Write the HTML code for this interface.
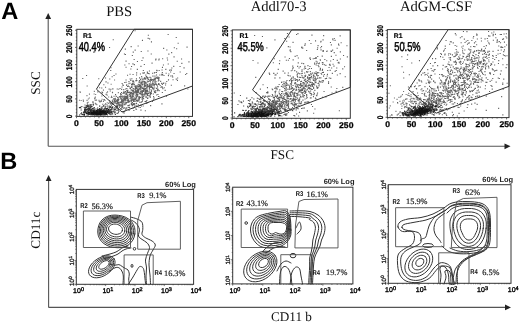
<!DOCTYPE html>
<html><head><meta charset="utf-8"><style>
html,body{margin:0;padding:0;background:#fff;width:520px;height:322px;overflow:hidden}
svg{display:block;will-change:transform} text{text-rendering:geometricPrecision}
</style></head><body>
<svg width="520" height="322" viewBox="0 0 520 322">
<line x1="48.20" y1="18.00" x2="48.20" y2="146.30" stroke="#555" stroke-width="1.1"/>
<path d="M45.30,19.00 L48.20,13.00 L51.10,19.00 Z" fill="#222"/>
<line x1="48.20" y1="146.30" x2="505.50" y2="146.30" stroke="#555" stroke-width="1.1"/>
<path d="M504.50,143.40 L510.50,146.30 L504.50,149.20 Z" fill="#222"/>
<line x1="48.60" y1="180.00" x2="48.60" y2="307.40" stroke="#555" stroke-width="1.1"/>
<path d="M45.70,181.00 L48.60,175.00 L51.50,181.00 Z" fill="#222"/>
<line x1="48.60" y1="307.40" x2="506.00" y2="307.40" stroke="#555" stroke-width="1.1"/>
<path d="M505.00,304.50 L511.00,307.40 L505.00,310.30 Z" fill="#222"/>
<text transform="translate(1.20,19.30)" font-family="Liberation Sans" font-size="23.6" font-weight="bold" text-anchor="start" fill="#000" >A</text>
<text transform="translate(0.20,168.90)" font-family="Liberation Sans" font-size="23.6" font-weight="bold" text-anchor="start" fill="#000" >B</text>
<text transform="translate(119.20,15.70)" font-family="Liberation Serif" font-size="14.6" font-weight="normal" text-anchor="middle" fill="#111" >PBS</text>
<text transform="translate(278.60,11.10)" font-family="Liberation Serif" font-size="14.6" font-weight="normal" text-anchor="middle" fill="#111" >Addl70-3</text>
<text transform="translate(436.00,11.10)" font-family="Liberation Serif" font-size="14.6" font-weight="normal" text-anchor="middle" fill="#111" >AdGM-CSF</text>
<text transform="translate(39.80,83.00) rotate(-90)" font-family="Liberation Serif" font-size="13.2" font-weight="normal" text-anchor="middle" fill="#111" >SSC</text>
<text transform="translate(282.20,159.40)" font-family="Liberation Serif" font-size="13.2" font-weight="normal" text-anchor="middle" fill="#111" >FSC</text>
<text transform="translate(39.80,230.20) rotate(-90)" font-family="Liberation Serif" font-size="13.2" font-weight="normal" text-anchor="middle" fill="#111" >CD11c</text>
<text transform="translate(291.50,320.60)" font-family="Liberation Serif" font-size="13.2" font-weight="normal" text-anchor="middle" fill="#111" >CD11 b</text>
<path d="M93.7 109.4h1.1v1.1h-1.1zM104.5 104.1h1.1v1.1h-1.1zM114.0 79.5h1.1v1.1h-1.1zM99.1 105.7h1.1v1.1h-1.1zM94.2 97.5h1.1v1.1h-1.1zM101.3 95.4h1.1v1.1h-1.1zM87.7 101.7h1.1v1.1h-1.1zM98.5 99.8h1.1v1.1h-1.1zM108.1 96.4h1.1v1.1h-1.1zM94.7 99.4h1.1v1.1h-1.1zM94.8 96.6h1.1v1.1h-1.1zM80.4 107.6h1.1v1.1h-1.1zM110.6 83.7h1.1v1.1h-1.1zM90.2 105.5h1.1v1.1h-1.1zM91.3 105.8h1.1v1.1h-1.1zM95.1 94.0h1.1v1.1h-1.1zM94.4 98.0h1.1v1.1h-1.1zM98.8 83.4h1.1v1.1h-1.1zM105.3 105.8h1.1v1.1h-1.1zM100.1 100.7h1.1v1.1h-1.1zM92.5 104.1h1.1v1.1h-1.1zM93.6 93.4h1.1v1.1h-1.1zM79.7 91.8h1.1v1.1h-1.1zM103.1 99.2h1.1v1.1h-1.1zM110.7 97.0h1.1v1.1h-1.1zM102.9 89.6h1.1v1.1h-1.1zM94.9 103.4h1.1v1.1h-1.1zM96.0 99.6h1.1v1.1h-1.1zM98.9 101.2h1.1v1.1h-1.1zM100.8 101.0h1.1v1.1h-1.1zM92.0 101.5h1.1v1.1h-1.1zM78.9 99.7h1.1v1.1h-1.1zM95.7 103.5h1.1v1.1h-1.1zM86.4 95.1h1.1v1.1h-1.1zM107.0 91.3h1.1v1.1h-1.1zM79.5 91.2h1.1v1.1h-1.1zM97.0 111.1h1.1v1.1h-1.1zM87.8 98.4h1.1v1.1h-1.1zM111.0 95.8h1.1v1.1h-1.1zM99.5 108.1h1.1v1.1h-1.1zM84.4 104.5h1.1v1.1h-1.1zM104.0 99.0h1.1v1.1h-1.1zM82.7 99.5h1.1v1.1h-1.1zM117.8 92.1h1.1v1.1h-1.1zM97.1 107.2h1.1v1.1h-1.1zM86.9 104.7h1.1v1.1h-1.1zM87.7 104.5h1.1v1.1h-1.1zM101.5 98.7h1.1v1.1h-1.1zM94.8 102.7h1.1v1.1h-1.1zM94.1 98.1h1.1v1.1h-1.1zM106.7 102.2h1.1v1.1h-1.1zM80.6 99.9h1.1v1.1h-1.1zM89.7 104.8h1.1v1.1h-1.1zM98.7 100.7h1.1v1.1h-1.1zM106.2 92.2h1.1v1.1h-1.1zM102.9 100.8h1.1v1.1h-1.1zM110.3 88.8h1.1v1.1h-1.1zM114.8 97.7h1.1v1.1h-1.1zM102.9 105.0h1.1v1.1h-1.1zM94.7 99.9h1.1v1.1h-1.1zM106.6 94.6h1.1v1.1h-1.1zM112.9 103.3h1.1v1.1h-1.1zM100.8 100.1h1.1v1.1h-1.1zM88.8 97.5h1.1v1.1h-1.1zM112.1 88.3h1.1v1.1h-1.1zM99.5 101.3h1.1v1.1h-1.1zM86.5 99.8h1.1v1.1h-1.1zM105.0 106.3h1.1v1.1h-1.1zM123.0 97.4h1.1v1.1h-1.1zM111.9 92.1h1.1v1.1h-1.1zM93.2 111.0h1.1v1.1h-1.1zM112.4 88.3h1.1v1.1h-1.1zM111.5 97.0h1.1v1.1h-1.1zM109.0 102.2h1.1v1.1h-1.1zM118.2 88.7h1.1v1.1h-1.1zM100.7 107.1h1.1v1.1h-1.1zM96.3 104.1h1.1v1.1h-1.1zM93.8 90.8h1.1v1.1h-1.1zM93.7 107.3h1.1v1.1h-1.1zM88.9 93.6h1.1v1.1h-1.1zM92.7 102.6h1.1v1.1h-1.1zM104.4 99.9h1.1v1.1h-1.1zM102.0 91.9h1.1v1.1h-1.1z" fill="#777"/>
<path d="M125.9 102.1h1.1v1.1h-1.1zM150.7 79.1h1.1v1.1h-1.1zM123.0 100.5h1.1v1.1h-1.1zM149.9 92.1h1.1v1.1h-1.1zM120.1 92.9h1.1v1.1h-1.1zM150.6 86.8h1.1v1.1h-1.1zM162.8 82.8h1.1v1.1h-1.1zM137.7 89.3h1.1v1.1h-1.1zM171.3 67.4h1.1v1.1h-1.1zM126.1 90.2h1.1v1.1h-1.1zM141.7 90.0h1.1v1.1h-1.1zM135.4 92.5h1.1v1.1h-1.1zM145.9 91.5h1.1v1.1h-1.1zM154.5 82.2h1.1v1.1h-1.1zM120.0 108.4h1.1v1.1h-1.1zM121.5 100.7h1.1v1.1h-1.1zM121.5 102.1h1.1v1.1h-1.1zM131.0 97.5h1.1v1.1h-1.1zM181.3 62.8h1.1v1.1h-1.1zM145.9 75.9h1.1v1.1h-1.1zM138.7 96.0h1.1v1.1h-1.1zM140.1 92.8h1.1v1.1h-1.1zM137.7 83.7h1.1v1.1h-1.1zM144.2 81.0h1.1v1.1h-1.1zM161.8 72.0h1.1v1.1h-1.1zM148.6 84.4h1.1v1.1h-1.1zM149.8 78.9h1.1v1.1h-1.1zM152.1 81.2h1.1v1.1h-1.1zM158.1 83.1h1.1v1.1h-1.1zM139.0 84.6h1.1v1.1h-1.1zM151.3 86.3h1.1v1.1h-1.1zM159.3 74.5h1.1v1.1h-1.1zM148.8 88.2h1.1v1.1h-1.1zM144.3 88.8h1.1v1.1h-1.1zM140.2 85.3h1.1v1.1h-1.1zM125.8 96.1h1.1v1.1h-1.1zM152.8 93.4h1.1v1.1h-1.1zM156.0 87.8h1.1v1.1h-1.1zM152.3 87.5h1.1v1.1h-1.1zM145.0 92.7h1.1v1.1h-1.1zM161.2 73.7h1.1v1.1h-1.1zM138.2 106.4h1.1v1.1h-1.1zM146.5 93.3h1.1v1.1h-1.1zM147.0 76.7h1.1v1.1h-1.1zM176.9 79.8h1.1v1.1h-1.1zM144.9 92.7h1.1v1.1h-1.1zM138.5 84.1h1.1v1.1h-1.1zM139.9 93.0h1.1v1.1h-1.1zM156.5 84.8h1.1v1.1h-1.1zM145.5 96.9h1.1v1.1h-1.1zM133.2 100.5h1.1v1.1h-1.1zM153.0 79.3h1.1v1.1h-1.1zM114.3 99.7h1.1v1.1h-1.1zM144.9 90.9h1.1v1.1h-1.1zM155.9 71.9h1.1v1.1h-1.1zM142.3 93.5h1.1v1.1h-1.1zM129.6 78.4h1.1v1.1h-1.1zM158.3 96.0h1.1v1.1h-1.1zM149.4 76.8h1.1v1.1h-1.1zM135.6 94.6h1.1v1.1h-1.1zM173.5 73.0h1.1v1.1h-1.1zM146.9 97.6h1.1v1.1h-1.1zM145.6 100.8h1.1v1.1h-1.1zM129.7 93.0h1.1v1.1h-1.1zM154.1 91.9h1.1v1.1h-1.1zM149.3 86.3h1.1v1.1h-1.1zM114.6 101.0h1.1v1.1h-1.1zM130.4 92.1h1.1v1.1h-1.1zM146.2 83.4h1.1v1.1h-1.1zM150.2 84.0h1.1v1.1h-1.1zM136.2 93.4h1.1v1.1h-1.1zM148.4 91.2h1.1v1.1h-1.1zM133.2 92.6h1.1v1.1h-1.1zM128.5 109.9h1.1v1.1h-1.1zM157.6 77.2h1.1v1.1h-1.1zM129.6 87.2h1.1v1.1h-1.1zM142.9 89.7h1.1v1.1h-1.1zM168.3 73.5h1.1v1.1h-1.1zM121.6 83.0h1.1v1.1h-1.1zM158.4 79.5h1.1v1.1h-1.1zM120.4 104.1h1.1v1.1h-1.1zM156.1 84.0h1.1v1.1h-1.1zM130.2 79.8h1.1v1.1h-1.1zM132.9 82.6h1.1v1.1h-1.1zM139.9 73.5h1.1v1.1h-1.1zM132.9 104.1h1.1v1.1h-1.1zM156.5 70.1h1.1v1.1h-1.1zM123.8 107.3h1.1v1.1h-1.1zM147.2 77.7h1.1v1.1h-1.1zM128.8 91.9h1.1v1.1h-1.1zM122.6 96.0h1.1v1.1h-1.1zM158.2 83.5h1.1v1.1h-1.1zM165.6 72.7h1.1v1.1h-1.1zM134.8 85.8h1.1v1.1h-1.1zM133.8 83.9h1.1v1.1h-1.1zM120.1 108.3h1.1v1.1h-1.1zM161.1 82.8h1.1v1.1h-1.1zM157.7 80.5h1.1v1.1h-1.1zM131.3 96.3h1.1v1.1h-1.1zM131.4 87.0h1.1v1.1h-1.1zM113.5 95.7h1.1v1.1h-1.1zM140.5 90.9h1.1v1.1h-1.1zM139.1 101.7h1.1v1.1h-1.1zM144.3 91.7h1.1v1.1h-1.1zM152.4 75.6h1.1v1.1h-1.1zM117.9 110.2h1.1v1.1h-1.1zM136.0 102.8h1.1v1.1h-1.1zM147.8 92.7h1.1v1.1h-1.1zM142.2 72.4h1.1v1.1h-1.1zM146.7 80.5h1.1v1.1h-1.1zM128.9 93.8h1.1v1.1h-1.1zM152.8 88.5h1.1v1.1h-1.1zM146.8 72.7h1.1v1.1h-1.1zM124.2 81.9h1.1v1.1h-1.1zM140.8 94.1h1.1v1.1h-1.1zM131.3 97.6h1.1v1.1h-1.1zM146.5 93.6h1.1v1.1h-1.1zM126.7 92.2h1.1v1.1h-1.1zM136.6 105.8h1.1v1.1h-1.1zM153.3 80.4h1.1v1.1h-1.1zM143.2 88.8h1.1v1.1h-1.1zM141.8 87.2h1.1v1.1h-1.1zM131.3 85.9h1.1v1.1h-1.1zM137.8 104.2h1.1v1.1h-1.1zM147.0 86.0h1.1v1.1h-1.1zM137.5 92.1h1.1v1.1h-1.1zM142.2 83.6h1.1v1.1h-1.1zM143.3 89.7h1.1v1.1h-1.1zM127.8 91.8h1.1v1.1h-1.1zM123.7 92.4h1.1v1.1h-1.1zM142.8 69.9h1.1v1.1h-1.1zM134.5 88.8h1.1v1.1h-1.1zM132.5 95.6h1.1v1.1h-1.1zM154.5 81.2h1.1v1.1h-1.1zM136.1 87.8h1.1v1.1h-1.1zM141.6 96.0h1.1v1.1h-1.1zM131.0 87.0h1.1v1.1h-1.1zM120.2 94.3h1.1v1.1h-1.1zM126.4 107.3h1.1v1.1h-1.1zM143.6 85.8h1.1v1.1h-1.1zM156.0 74.5h1.1v1.1h-1.1zM152.3 88.2h1.1v1.1h-1.1zM115.0 94.1h1.1v1.1h-1.1zM131.5 102.5h1.1v1.1h-1.1zM152.0 72.7h1.1v1.1h-1.1zM151.8 79.3h1.1v1.1h-1.1zM133.1 90.2h1.1v1.1h-1.1zM129.5 82.7h1.1v1.1h-1.1zM123.0 91.4h1.1v1.1h-1.1zM153.6 97.4h1.1v1.1h-1.1zM173.2 65.8h1.1v1.1h-1.1zM116.9 101.8h1.1v1.1h-1.1zM135.2 108.5h1.1v1.1h-1.1zM144.6 81.4h1.1v1.1h-1.1zM153.7 85.3h1.1v1.1h-1.1zM117.7 100.4h1.1v1.1h-1.1zM137.1 92.1h1.1v1.1h-1.1zM140.5 87.1h1.1v1.1h-1.1zM140.3 85.3h1.1v1.1h-1.1zM134.1 105.6h1.1v1.1h-1.1zM146.1 89.4h1.1v1.1h-1.1zM119.3 102.1h1.1v1.1h-1.1zM145.7 76.3h1.1v1.1h-1.1zM152.4 78.9h1.1v1.1h-1.1zM144.6 86.0h1.1v1.1h-1.1zM147.0 94.8h1.1v1.1h-1.1zM140.5 101.8h1.1v1.1h-1.1zM126.9 91.3h1.1v1.1h-1.1zM145.2 78.4h1.1v1.1h-1.1zM138.6 98.0h1.1v1.1h-1.1zM148.9 70.4h1.1v1.1h-1.1zM153.0 96.1h1.1v1.1h-1.1zM154.2 78.9h1.1v1.1h-1.1zM131.4 93.3h1.1v1.1h-1.1zM124.6 98.0h1.1v1.1h-1.1zM137.1 90.7h1.1v1.1h-1.1zM154.1 79.1h1.1v1.1h-1.1zM125.4 107.6h1.1v1.1h-1.1zM124.9 96.3h1.1v1.1h-1.1zM137.1 89.2h1.1v1.1h-1.1zM126.5 96.8h1.1v1.1h-1.1zM165.3 68.8h1.1v1.1h-1.1zM142.3 97.2h1.1v1.1h-1.1zM152.1 88.1h1.1v1.1h-1.1zM143.9 72.2h1.1v1.1h-1.1zM129.6 97.8h1.1v1.1h-1.1zM150.9 93.0h1.1v1.1h-1.1zM145.1 84.9h1.1v1.1h-1.1zM139.7 88.5h1.1v1.1h-1.1zM145.5 91.7h1.1v1.1h-1.1zM132.8 88.3h1.1v1.1h-1.1zM133.1 103.0h1.1v1.1h-1.1zM159.6 84.9h1.1v1.1h-1.1zM153.7 87.5h1.1v1.1h-1.1zM142.3 93.6h1.1v1.1h-1.1zM126.0 97.5h1.1v1.1h-1.1zM133.3 100.0h1.1v1.1h-1.1zM132.3 94.1h1.1v1.1h-1.1zM149.8 94.1h1.1v1.1h-1.1zM126.7 91.4h1.1v1.1h-1.1zM146.4 77.3h1.1v1.1h-1.1zM143.7 83.2h1.1v1.1h-1.1zM132.2 80.9h1.1v1.1h-1.1zM147.2 81.4h1.1v1.1h-1.1zM136.0 108.7h1.1v1.1h-1.1zM161.4 103.3h1.1v1.1h-1.1zM143.9 84.8h1.1v1.1h-1.1zM147.0 97.9h1.1v1.1h-1.1zM141.3 92.7h1.1v1.1h-1.1zM143.3 80.8h1.1v1.1h-1.1zM139.8 86.2h1.1v1.1h-1.1zM127.4 104.9h1.1v1.1h-1.1zM148.6 85.0h1.1v1.1h-1.1zM121.5 86.5h1.1v1.1h-1.1zM145.8 85.5h1.1v1.1h-1.1zM118.6 103.4h1.1v1.1h-1.1zM120.8 102.3h1.1v1.1h-1.1zM143.1 90.8h1.1v1.1h-1.1zM143.3 89.2h1.1v1.1h-1.1zM124.3 97.2h1.1v1.1h-1.1zM132.7 92.9h1.1v1.1h-1.1zM145.6 91.2h1.1v1.1h-1.1zM151.5 62.6h1.1v1.1h-1.1zM144.3 85.6h1.1v1.1h-1.1zM171.9 76.5h1.1v1.1h-1.1zM120.6 105.7h1.1v1.1h-1.1zM137.0 99.7h1.1v1.1h-1.1zM126.4 98.1h1.1v1.1h-1.1zM138.0 90.5h1.1v1.1h-1.1zM126.1 84.8h1.1v1.1h-1.1zM149.3 91.7h1.1v1.1h-1.1zM135.5 85.0h1.1v1.1h-1.1zM144.6 91.4h1.1v1.1h-1.1zM137.7 91.4h1.1v1.1h-1.1zM153.8 72.4h1.1v1.1h-1.1zM126.2 84.2h1.1v1.1h-1.1zM128.6 91.7h1.1v1.1h-1.1zM125.5 94.1h1.1v1.1h-1.1zM161.9 74.2h1.1v1.1h-1.1zM146.3 102.9h1.1v1.1h-1.1zM133.1 81.0h1.1v1.1h-1.1zM141.8 81.6h1.1v1.1h-1.1zM156.2 69.8h1.1v1.1h-1.1zM127.0 86.0h1.1v1.1h-1.1zM137.6 83.7h1.1v1.1h-1.1zM137.8 88.5h1.1v1.1h-1.1zM135.6 100.1h1.1v1.1h-1.1zM152.0 82.7h1.1v1.1h-1.1zM124.9 91.5h1.1v1.1h-1.1zM151.9 100.8h1.1v1.1h-1.1zM131.5 89.5h1.1v1.1h-1.1zM127.3 89.7h1.1v1.1h-1.1zM127.0 96.8h1.1v1.1h-1.1zM158.0 78.3h1.1v1.1h-1.1zM127.9 85.4h1.1v1.1h-1.1zM142.6 88.1h1.1v1.1h-1.1zM120.7 94.1h1.1v1.1h-1.1zM143.1 95.9h1.1v1.1h-1.1zM148.6 86.0h1.1v1.1h-1.1zM137.1 94.4h1.1v1.1h-1.1zM147.5 101.9h1.1v1.1h-1.1zM124.5 97.2h1.1v1.1h-1.1zM155.0 78.2h1.1v1.1h-1.1zM157.8 78.1h1.1v1.1h-1.1zM140.5 86.8h1.1v1.1h-1.1zM119.2 96.0h1.1v1.1h-1.1zM170.2 75.4h1.1v1.1h-1.1zM151.0 90.2h1.1v1.1h-1.1zM150.8 90.9h1.1v1.1h-1.1zM135.9 91.0h1.1v1.1h-1.1zM151.1 80.0h1.1v1.1h-1.1zM122.5 99.6h1.1v1.1h-1.1zM135.3 97.8h1.1v1.1h-1.1zM127.2 90.1h1.1v1.1h-1.1zM141.3 101.2h1.1v1.1h-1.1zM140.0 91.3h1.1v1.1h-1.1zM141.2 91.5h1.1v1.1h-1.1zM156.6 90.0h1.1v1.1h-1.1zM124.1 110.9h1.1v1.1h-1.1zM138.8 88.3h1.1v1.1h-1.1zM169.6 69.5h1.1v1.1h-1.1zM167.9 79.4h1.1v1.1h-1.1zM128.8 101.1h1.1v1.1h-1.1zM148.8 83.3h1.1v1.1h-1.1zM109.5 107.1h1.1v1.1h-1.1zM133.7 85.5h1.1v1.1h-1.1zM162.1 73.8h1.1v1.1h-1.1zM134.0 91.6h1.1v1.1h-1.1zM127.4 92.2h1.1v1.1h-1.1zM142.3 90.9h1.1v1.1h-1.1zM133.3 93.7h1.1v1.1h-1.1zM124.4 104.2h1.1v1.1h-1.1zM131.3 97.3h1.1v1.1h-1.1zM126.8 94.6h1.1v1.1h-1.1zM138.4 81.6h1.1v1.1h-1.1zM170.9 69.6h1.1v1.1h-1.1zM136.5 86.6h1.1v1.1h-1.1zM165.0 84.5h1.1v1.1h-1.1zM138.9 80.1h1.1v1.1h-1.1zM135.8 97.5h1.1v1.1h-1.1zM129.4 87.7h1.1v1.1h-1.1zM122.3 95.5h1.1v1.1h-1.1zM137.9 86.4h1.1v1.1h-1.1zM150.1 105.1h1.1v1.1h-1.1zM158.6 69.9h1.1v1.1h-1.1zM144.6 87.7h1.1v1.1h-1.1zM142.0 96.8h1.1v1.1h-1.1zM134.7 90.9h1.1v1.1h-1.1zM134.9 92.5h1.1v1.1h-1.1zM158.9 83.7h1.1v1.1h-1.1zM121.6 98.6h1.1v1.1h-1.1zM132.9 101.0h1.1v1.1h-1.1zM146.0 93.0h1.1v1.1h-1.1zM132.5 80.1h1.1v1.1h-1.1zM146.5 87.6h1.1v1.1h-1.1zM141.8 78.7h1.1v1.1h-1.1zM138.6 85.6h1.1v1.1h-1.1zM132.6 97.5h1.1v1.1h-1.1zM141.3 82.3h1.1v1.1h-1.1zM109.7 90.5h1.1v1.1h-1.1zM136.7 100.8h1.1v1.1h-1.1zM131.3 78.2h1.1v1.1h-1.1zM130.6 99.3h1.1v1.1h-1.1zM165.2 82.7h1.1v1.1h-1.1zM145.3 88.1h1.1v1.1h-1.1zM125.1 96.2h1.1v1.1h-1.1zM133.1 88.5h1.1v1.1h-1.1zM139.4 87.3h1.1v1.1h-1.1zM149.3 95.1h1.1v1.1h-1.1zM150.8 86.2h1.1v1.1h-1.1zM131.6 83.7h1.1v1.1h-1.1zM140.5 93.9h1.1v1.1h-1.1zM131.8 105.1h1.1v1.1h-1.1zM137.1 94.8h1.1v1.1h-1.1zM131.4 85.8h1.1v1.1h-1.1zM161.9 66.8h1.1v1.1h-1.1zM149.6 79.5h1.1v1.1h-1.1zM140.7 83.3h1.1v1.1h-1.1zM138.0 98.4h1.1v1.1h-1.1zM161.5 69.5h1.1v1.1h-1.1zM143.5 95.1h1.1v1.1h-1.1zM134.6 99.0h1.1v1.1h-1.1zM132.3 99.7h1.1v1.1h-1.1zM149.8 93.0h1.1v1.1h-1.1zM140.4 80.5h1.1v1.1h-1.1zM144.5 78.6h1.1v1.1h-1.1zM154.8 92.1h1.1v1.1h-1.1zM145.5 82.1h1.1v1.1h-1.1zM155.6 81.2h1.1v1.1h-1.1zM123.1 98.2h1.1v1.1h-1.1zM156.8 76.7h1.1v1.1h-1.1zM140.3 87.1h1.1v1.1h-1.1zM117.0 101.0h1.1v1.1h-1.1zM145.2 88.2h1.1v1.1h-1.1zM130.3 79.8h1.1v1.1h-1.1zM157.9 83.9h1.1v1.1h-1.1zM157.5 88.7h1.1v1.1h-1.1zM132.3 90.3h1.1v1.1h-1.1zM149.9 96.6h1.1v1.1h-1.1zM118.0 102.5h1.1v1.1h-1.1zM133.0 98.9h1.1v1.1h-1.1zM157.4 76.4h1.1v1.1h-1.1zM124.6 100.4h1.1v1.1h-1.1zM131.0 83.9h1.1v1.1h-1.1zM149.3 79.9h1.1v1.1h-1.1zM143.9 77.2h1.1v1.1h-1.1zM148.7 73.2h1.1v1.1h-1.1zM146.8 71.5h1.1v1.1h-1.1zM156.0 76.7h1.1v1.1h-1.1zM119.6 101.4h1.1v1.1h-1.1zM140.7 81.8h1.1v1.1h-1.1zM134.7 95.5h1.1v1.1h-1.1zM127.0 74.7h1.1v1.1h-1.1zM136.1 95.8h1.1v1.1h-1.1zM147.3 93.1h1.1v1.1h-1.1zM140.4 109.6h1.1v1.1h-1.1zM151.2 85.2h1.1v1.1h-1.1zM157.0 86.3h1.1v1.1h-1.1zM139.1 85.8h1.1v1.1h-1.1zM154.4 83.9h1.1v1.1h-1.1zM112.3 99.4h1.1v1.1h-1.1zM146.3 86.8h1.1v1.1h-1.1zM145.8 91.2h1.1v1.1h-1.1zM147.4 97.4h1.1v1.1h-1.1zM131.2 92.6h1.1v1.1h-1.1zM146.7 91.4h1.1v1.1h-1.1zM155.2 91.7h1.1v1.1h-1.1zM138.1 100.3h1.1v1.1h-1.1zM142.2 80.5h1.1v1.1h-1.1zM145.7 102.5h1.1v1.1h-1.1zM148.2 81.0h1.1v1.1h-1.1zM107.2 105.6h1.1v1.1h-1.1zM131.4 96.2h1.1v1.1h-1.1zM171.7 75.2h1.1v1.1h-1.1zM140.6 82.3h1.1v1.1h-1.1zM124.3 98.6h1.1v1.1h-1.1zM144.8 110.2h1.1v1.1h-1.1zM132.7 89.9h1.1v1.1h-1.1zM154.5 81.2h1.1v1.1h-1.1zM129.0 107.1h1.1v1.1h-1.1zM131.4 85.3h1.1v1.1h-1.1zM145.8 90.0h1.1v1.1h-1.1zM138.2 96.6h1.1v1.1h-1.1zM147.2 78.5h1.1v1.1h-1.1zM105.6 93.8h1.1v1.1h-1.1zM142.7 97.8h1.1v1.1h-1.1zM157.5 89.4h1.1v1.1h-1.1zM163.4 74.9h1.1v1.1h-1.1zM147.9 73.0h1.1v1.1h-1.1zM150.1 86.5h1.1v1.1h-1.1zM137.2 88.4h1.1v1.1h-1.1zM126.5 99.9h1.1v1.1h-1.1zM154.8 77.6h1.1v1.1h-1.1zM144.3 82.0h1.1v1.1h-1.1zM139.6 82.4h1.1v1.1h-1.1zM144.0 85.7h1.1v1.1h-1.1zM141.8 84.1h1.1v1.1h-1.1zM124.0 97.8h1.1v1.1h-1.1zM158.6 90.1h1.1v1.1h-1.1zM138.7 97.0h1.1v1.1h-1.1zM150.9 85.9h1.1v1.1h-1.1zM121.6 104.4h1.1v1.1h-1.1zM132.0 104.3h1.1v1.1h-1.1zM152.1 86.9h1.1v1.1h-1.1zM110.3 114.1h1.1v1.1h-1.1zM144.3 77.3h1.1v1.1h-1.1zM152.5 82.5h1.1v1.1h-1.1zM135.2 87.6h1.1v1.1h-1.1zM125.7 96.0h1.1v1.1h-1.1zM179.5 65.9h1.1v1.1h-1.1zM140.3 84.8h1.1v1.1h-1.1zM130.3 92.0h1.1v1.1h-1.1zM131.9 102.0h1.1v1.1h-1.1zM139.7 96.9h1.1v1.1h-1.1zM128.8 104.5h1.1v1.1h-1.1zM142.0 93.9h1.1v1.1h-1.1zM135.5 86.0h1.1v1.1h-1.1zM153.7 77.7h1.1v1.1h-1.1zM135.0 86.4h1.1v1.1h-1.1zM141.2 86.2h1.1v1.1h-1.1zM144.8 89.6h1.1v1.1h-1.1zM126.3 87.9h1.1v1.1h-1.1zM148.7 91.5h1.1v1.1h-1.1zM144.7 78.1h1.1v1.1h-1.1zM149.0 87.2h1.1v1.1h-1.1zM145.1 90.0h1.1v1.1h-1.1zM136.7 93.8h1.1v1.1h-1.1zM149.9 79.7h1.1v1.1h-1.1zM121.5 101.2h1.1v1.1h-1.1zM135.9 78.3h1.1v1.1h-1.1zM133.6 98.7h1.1v1.1h-1.1zM138.4 91.7h1.1v1.1h-1.1zM127.4 105.2h1.1v1.1h-1.1zM161.4 74.6h1.1v1.1h-1.1zM126.7 89.7h1.1v1.1h-1.1zM151.6 83.3h1.1v1.1h-1.1zM134.3 103.1h1.1v1.1h-1.1zM151.8 87.0h1.1v1.1h-1.1zM117.5 103.8h1.1v1.1h-1.1zM143.5 78.2h1.1v1.1h-1.1zM156.7 90.2h1.1v1.1h-1.1zM150.4 77.6h1.1v1.1h-1.1zM134.4 100.9h1.1v1.1h-1.1zM156.9 88.6h1.1v1.1h-1.1zM154.7 79.6h1.1v1.1h-1.1zM128.3 83.2h1.1v1.1h-1.1zM157.9 96.0h1.1v1.1h-1.1zM132.5 91.2h1.1v1.1h-1.1zM149.5 86.7h1.1v1.1h-1.1zM120.2 97.3h1.1v1.1h-1.1zM133.3 110.0h1.1v1.1h-1.1zM134.0 100.5h1.1v1.1h-1.1zM170.8 84.7h1.1v1.1h-1.1zM163.7 87.2h1.1v1.1h-1.1zM123.2 98.2h1.1v1.1h-1.1zM129.8 94.4h1.1v1.1h-1.1zM167.0 59.4h1.1v1.1h-1.1zM142.6 78.7h1.1v1.1h-1.1zM161.4 86.1h1.1v1.1h-1.1zM140.9 105.5h1.1v1.1h-1.1zM145.6 96.5h1.1v1.1h-1.1zM141.9 84.4h1.1v1.1h-1.1zM134.8 92.5h1.1v1.1h-1.1zM148.2 85.6h1.1v1.1h-1.1zM169.0 69.7h1.1v1.1h-1.1zM131.6 89.9h1.1v1.1h-1.1zM125.1 88.5h1.1v1.1h-1.1zM130.8 103.0h1.1v1.1h-1.1zM140.2 88.6h1.1v1.1h-1.1zM148.2 93.0h1.1v1.1h-1.1zM150.5 89.2h1.1v1.1h-1.1zM132.0 93.1h1.1v1.1h-1.1zM129.9 95.8h1.1v1.1h-1.1zM128.4 94.6h1.1v1.1h-1.1zM137.0 90.3h1.1v1.1h-1.1zM134.9 89.5h1.1v1.1h-1.1zM155.3 77.4h1.1v1.1h-1.1zM128.0 99.3h1.1v1.1h-1.1zM122.5 93.0h1.1v1.1h-1.1zM135.2 80.2h1.1v1.1h-1.1zM147.1 72.4h1.1v1.1h-1.1zM130.8 100.5h1.1v1.1h-1.1zM111.9 101.5h1.1v1.1h-1.1zM124.2 98.8h1.1v1.1h-1.1zM118.3 111.0h1.1v1.1h-1.1zM139.3 92.8h1.1v1.1h-1.1zM128.4 81.1h1.1v1.1h-1.1zM133.3 83.9h1.1v1.1h-1.1zM137.1 85.3h1.1v1.1h-1.1zM135.3 91.4h1.1v1.1h-1.1zM152.4 87.9h1.1v1.1h-1.1zM127.3 98.1h1.1v1.1h-1.1zM160.1 80.8h1.1v1.1h-1.1zM130.4 95.3h1.1v1.1h-1.1zM139.0 98.0h1.1v1.1h-1.1zM141.7 91.8h1.1v1.1h-1.1zM162.9 64.4h1.1v1.1h-1.1zM121.1 88.8h1.1v1.1h-1.1zM123.0 107.7h1.1v1.1h-1.1zM149.5 96.5h1.1v1.1h-1.1zM112.0 101.3h1.1v1.1h-1.1zM161.8 83.8h1.1v1.1h-1.1zM154.2 87.5h1.1v1.1h-1.1zM140.4 89.7h1.1v1.1h-1.1zM143.4 94.3h1.1v1.1h-1.1zM139.1 93.1h1.1v1.1h-1.1zM154.3 72.0h1.1v1.1h-1.1zM132.6 99.2h1.1v1.1h-1.1zM136.1 91.3h1.1v1.1h-1.1zM167.9 75.1h1.1v1.1h-1.1zM138.6 99.4h1.1v1.1h-1.1zM167.7 63.4h1.1v1.1h-1.1zM132.0 96.1h1.1v1.1h-1.1zM139.7 107.0h1.1v1.1h-1.1zM145.2 83.5h1.1v1.1h-1.1zM143.4 81.7h1.1v1.1h-1.1zM132.8 95.5h1.1v1.1h-1.1zM162.1 58.2h1.1v1.1h-1.1zM150.1 93.9h1.1v1.1h-1.1zM156.1 94.4h1.1v1.1h-1.1zM146.2 87.1h1.1v1.1h-1.1zM135.3 86.4h1.1v1.1h-1.1zM156.4 70.2h1.1v1.1h-1.1zM136.6 88.2h1.1v1.1h-1.1zM122.3 84.3h1.1v1.1h-1.1zM135.7 93.9h1.1v1.1h-1.1zM144.8 93.4h1.1v1.1h-1.1zM135.7 87.8h1.1v1.1h-1.1zM146.2 91.1h1.1v1.1h-1.1zM123.2 89.1h1.1v1.1h-1.1zM130.8 104.1h1.1v1.1h-1.1zM149.4 77.0h1.1v1.1h-1.1zM144.4 93.7h1.1v1.1h-1.1zM154.4 75.6h1.1v1.1h-1.1zM142.0 99.6h1.1v1.1h-1.1zM175.7 78.6h1.1v1.1h-1.1zM127.2 101.8h1.1v1.1h-1.1zM136.0 92.1h1.1v1.1h-1.1zM130.0 92.8h1.1v1.1h-1.1zM146.3 99.9h1.1v1.1h-1.1zM150.3 86.6h1.1v1.1h-1.1zM137.7 85.7h1.1v1.1h-1.1zM141.5 98.6h1.1v1.1h-1.1zM157.4 93.9h1.1v1.1h-1.1zM143.2 87.8h1.1v1.1h-1.1zM121.0 105.4h1.1v1.1h-1.1zM123.7 112.4h1.1v1.1h-1.1zM132.1 95.1h1.1v1.1h-1.1zM121.2 98.3h1.1v1.1h-1.1zM132.3 103.8h1.1v1.1h-1.1zM138.9 81.5h1.1v1.1h-1.1zM115.5 105.4h1.1v1.1h-1.1zM129.9 87.9h1.1v1.1h-1.1zM146.8 84.2h1.1v1.1h-1.1zM139.3 85.9h1.1v1.1h-1.1zM131.2 92.1h1.1v1.1h-1.1zM122.1 106.5h1.1v1.1h-1.1zM139.0 77.3h1.1v1.1h-1.1zM145.4 95.5h1.1v1.1h-1.1zM147.6 95.1h1.1v1.1h-1.1zM136.6 92.2h1.1v1.1h-1.1zM120.4 95.7h1.1v1.1h-1.1zM113.9 100.0h1.1v1.1h-1.1zM144.9 90.8h1.1v1.1h-1.1zM155.1 81.2h1.1v1.1h-1.1zM129.1 100.4h1.1v1.1h-1.1zM144.5 100.9h1.1v1.1h-1.1zM168.0 79.2h1.1v1.1h-1.1zM123.8 96.4h1.1v1.1h-1.1zM139.9 84.6h1.1v1.1h-1.1zM149.0 89.5h1.1v1.1h-1.1zM151.4 84.4h1.1v1.1h-1.1zM125.9 92.6h1.1v1.1h-1.1zM143.1 98.2h1.1v1.1h-1.1zM163.3 82.5h1.1v1.1h-1.1zM147.0 90.7h1.1v1.1h-1.1zM154.9 90.3h1.1v1.1h-1.1zM145.3 74.6h1.1v1.1h-1.1zM153.4 84.3h1.1v1.1h-1.1zM136.1 96.6h1.1v1.1h-1.1zM143.4 87.3h1.1v1.1h-1.1zM119.1 104.4h1.1v1.1h-1.1zM146.8 85.2h1.1v1.1h-1.1zM121.6 105.5h1.1v1.1h-1.1zM149.7 85.1h1.1v1.1h-1.1zM144.1 84.6h1.1v1.1h-1.1zM133.6 98.2h1.1v1.1h-1.1zM136.2 93.9h1.1v1.1h-1.1zM183.5 67.3h1.1v1.1h-1.1zM136.0 80.1h1.1v1.1h-1.1zM143.9 93.3h1.1v1.1h-1.1zM130.3 94.5h1.1v1.1h-1.1zM113.6 111.4h1.1v1.1h-1.1zM134.9 98.6h1.1v1.1h-1.1zM156.6 78.0h1.1v1.1h-1.1zM153.3 83.3h1.1v1.1h-1.1zM136.4 90.1h1.1v1.1h-1.1zM133.8 104.0h1.1v1.1h-1.1zM147.5 77.3h1.1v1.1h-1.1zM148.0 79.1h1.1v1.1h-1.1zM125.3 108.8h1.1v1.1h-1.1zM128.1 106.9h1.1v1.1h-1.1zM145.7 93.3h1.1v1.1h-1.1zM150.5 92.1h1.1v1.1h-1.1zM146.4 90.3h1.1v1.1h-1.1zM147.0 93.9h1.1v1.1h-1.1zM138.7 98.7h1.1v1.1h-1.1zM158.7 77.3h1.1v1.1h-1.1zM143.7 83.6h1.1v1.1h-1.1zM137.3 93.8h1.1v1.1h-1.1zM132.6 88.0h1.1v1.1h-1.1zM140.3 91.3h1.1v1.1h-1.1zM146.6 91.2h1.1v1.1h-1.1zM122.7 112.2h1.1v1.1h-1.1zM135.1 87.2h1.1v1.1h-1.1zM136.9 95.4h1.1v1.1h-1.1zM149.7 80.9h1.1v1.1h-1.1zM136.3 80.0h1.1v1.1h-1.1zM141.7 88.0h1.1v1.1h-1.1zM137.7 98.4h1.1v1.1h-1.1zM166.2 81.0h1.1v1.1h-1.1zM135.6 104.7h1.1v1.1h-1.1zM135.7 92.5h1.1v1.1h-1.1zM134.3 97.2h1.1v1.1h-1.1zM147.5 86.3h1.1v1.1h-1.1zM136.9 90.9h1.1v1.1h-1.1zM138.4 98.6h1.1v1.1h-1.1zM132.9 93.4h1.1v1.1h-1.1zM134.7 87.6h1.1v1.1h-1.1zM132.0 83.9h1.1v1.1h-1.1zM147.0 89.6h1.1v1.1h-1.1zM141.7 100.9h1.1v1.1h-1.1zM131.7 99.7h1.1v1.1h-1.1zM144.1 83.2h1.1v1.1h-1.1zM140.1 96.8h1.1v1.1h-1.1zM141.8 91.0h1.1v1.1h-1.1zM158.3 79.8h1.1v1.1h-1.1zM116.5 99.6h1.1v1.1h-1.1zM150.0 82.5h1.1v1.1h-1.1zM119.5 88.0h1.1v1.1h-1.1zM149.3 95.5h1.1v1.1h-1.1zM116.7 88.4h1.1v1.1h-1.1zM144.3 83.0h1.1v1.1h-1.1zM135.2 90.6h1.1v1.1h-1.1zM130.3 99.7h1.1v1.1h-1.1zM152.8 84.5h1.1v1.1h-1.1zM136.7 100.2h1.1v1.1h-1.1zM140.7 94.0h1.1v1.1h-1.1zM130.6 101.1h1.1v1.1h-1.1zM153.8 90.9h1.1v1.1h-1.1zM141.9 92.2h1.1v1.1h-1.1zM135.9 99.5h1.1v1.1h-1.1zM153.5 89.5h1.1v1.1h-1.1zM130.9 86.5h1.1v1.1h-1.1zM138.4 89.4h1.1v1.1h-1.1zM132.8 99.3h1.1v1.1h-1.1zM153.2 84.5h1.1v1.1h-1.1zM155.3 83.1h1.1v1.1h-1.1zM111.3 103.3h1.1v1.1h-1.1zM118.6 104.9h1.1v1.1h-1.1zM127.4 97.4h1.1v1.1h-1.1zM126.2 93.7h1.1v1.1h-1.1zM122.1 106.6h1.1v1.1h-1.1zM125.5 102.6h1.1v1.1h-1.1zM102.2 103.7h1.1v1.1h-1.1zM115.4 108.3h1.1v1.1h-1.1zM131.3 91.7h1.1v1.1h-1.1zM110.4 101.9h1.1v1.1h-1.1zM114.3 106.9h1.1v1.1h-1.1zM121.3 108.8h1.1v1.1h-1.1zM124.2 95.5h1.1v1.1h-1.1zM121.5 99.4h1.1v1.1h-1.1zM127.9 100.6h1.1v1.1h-1.1zM119.1 105.6h1.1v1.1h-1.1zM124.2 98.2h1.1v1.1h-1.1zM123.3 102.2h1.1v1.1h-1.1zM116.3 100.1h1.1v1.1h-1.1zM129.8 95.4h1.1v1.1h-1.1zM116.4 105.2h1.1v1.1h-1.1zM108.8 107.7h1.1v1.1h-1.1zM108.8 105.6h1.1v1.1h-1.1zM105.0 106.4h1.1v1.1h-1.1zM126.5 96.4h1.1v1.1h-1.1zM114.1 112.3h1.1v1.1h-1.1zM118.1 108.8h1.1v1.1h-1.1zM113.1 98.3h1.1v1.1h-1.1zM133.3 91.4h1.1v1.1h-1.1zM128.2 101.7h1.1v1.1h-1.1zM110.1 107.0h1.1v1.1h-1.1zM116.8 105.6h1.1v1.1h-1.1zM117.5 96.8h1.1v1.1h-1.1zM122.0 103.3h1.1v1.1h-1.1zM118.9 104.2h1.1v1.1h-1.1zM115.9 103.2h1.1v1.1h-1.1zM123.0 99.9h1.1v1.1h-1.1zM131.6 98.6h1.1v1.1h-1.1zM127.9 99.7h1.1v1.1h-1.1zM119.0 96.4h1.1v1.1h-1.1zM131.6 102.2h1.1v1.1h-1.1zM121.3 99.1h1.1v1.1h-1.1zM122.2 105.3h1.1v1.1h-1.1zM120.3 96.4h1.1v1.1h-1.1zM117.3 99.1h1.1v1.1h-1.1zM116.8 98.8h1.1v1.1h-1.1zM116.3 109.9h1.1v1.1h-1.1zM124.9 90.9h1.1v1.1h-1.1zM111.7 103.8h1.1v1.1h-1.1zM114.4 98.0h1.1v1.1h-1.1zM123.7 91.6h1.1v1.1h-1.1zM126.7 100.3h1.1v1.1h-1.1zM116.0 100.4h1.1v1.1h-1.1zM120.8 101.2h1.1v1.1h-1.1zM101.6 106.0h1.1v1.1h-1.1zM123.9 98.3h1.1v1.1h-1.1zM115.0 99.5h1.1v1.1h-1.1zM113.2 101.5h1.1v1.1h-1.1zM138.9 84.5h1.1v1.1h-1.1zM132.7 95.9h1.1v1.1h-1.1zM122.1 100.7h1.1v1.1h-1.1zM120.3 108.1h1.1v1.1h-1.1zM123.9 98.7h1.1v1.1h-1.1zM119.5 102.2h1.1v1.1h-1.1zM110.8 104.9h1.1v1.1h-1.1zM116.5 105.8h1.1v1.1h-1.1zM121.0 92.0h1.1v1.1h-1.1zM120.3 105.3h1.1v1.1h-1.1zM107.9 102.7h1.1v1.1h-1.1zM127.4 96.2h1.1v1.1h-1.1zM114.3 98.9h1.1v1.1h-1.1zM120.3 98.4h1.1v1.1h-1.1zM122.5 101.5h1.1v1.1h-1.1zM124.8 96.8h1.1v1.1h-1.1zM116.1 103.4h1.1v1.1h-1.1zM119.7 102.0h1.1v1.1h-1.1zM115.6 102.5h1.1v1.1h-1.1zM114.5 101.6h1.1v1.1h-1.1zM123.5 104.2h1.1v1.1h-1.1zM117.1 105.3h1.1v1.1h-1.1zM122.9 99.8h1.1v1.1h-1.1zM124.2 96.1h1.1v1.1h-1.1zM125.0 99.5h1.1v1.1h-1.1zM128.5 105.0h1.1v1.1h-1.1zM112.2 106.0h1.1v1.1h-1.1zM120.9 96.2h1.1v1.1h-1.1zM130.1 97.2h1.1v1.1h-1.1zM111.7 100.4h1.1v1.1h-1.1zM121.5 110.9h1.1v1.1h-1.1zM131.7 83.1h1.1v1.1h-1.1zM107.5 111.3h1.1v1.1h-1.1zM118.0 99.3h1.1v1.1h-1.1zM124.9 98.7h1.1v1.1h-1.1zM122.8 100.6h1.1v1.1h-1.1zM114.3 110.3h1.1v1.1h-1.1zM118.8 106.9h1.1v1.1h-1.1zM125.4 98.1h1.1v1.1h-1.1zM121.0 100.2h1.1v1.1h-1.1zM105.4 108.0h1.1v1.1h-1.1zM120.2 93.6h1.1v1.1h-1.1zM110.8 111.2h1.1v1.1h-1.1zM123.2 92.2h1.1v1.1h-1.1zM123.5 98.8h1.1v1.1h-1.1zM126.9 95.6h1.1v1.1h-1.1zM116.9 99.4h1.1v1.1h-1.1zM121.2 99.8h1.1v1.1h-1.1zM114.4 102.7h1.1v1.1h-1.1zM115.5 106.4h1.1v1.1h-1.1zM109.1 100.3h1.1v1.1h-1.1zM114.8 108.9h1.1v1.1h-1.1zM117.4 105.4h1.1v1.1h-1.1zM124.7 96.0h1.1v1.1h-1.1zM126.8 99.4h1.1v1.1h-1.1zM118.3 98.8h1.1v1.1h-1.1zM117.1 96.9h1.1v1.1h-1.1zM116.8 100.2h1.1v1.1h-1.1zM124.1 100.2h1.1v1.1h-1.1zM116.8 106.8h1.1v1.1h-1.1zM129.3 95.9h1.1v1.1h-1.1zM115.4 106.0h1.1v1.1h-1.1zM100.2 109.8h1.1v1.1h-1.1zM128.5 105.2h1.1v1.1h-1.1zM117.4 109.5h1.1v1.1h-1.1zM141.7 97.1h1.1v1.1h-1.1zM123.5 103.6h1.1v1.1h-1.1zM117.5 99.7h1.1v1.1h-1.1zM121.3 107.1h1.1v1.1h-1.1zM125.9 96.3h1.1v1.1h-1.1zM124.7 102.3h1.1v1.1h-1.1zM124.3 98.3h1.1v1.1h-1.1zM113.5 101.4h1.1v1.1h-1.1zM115.6 101.0h1.1v1.1h-1.1zM105.1 103.2h1.1v1.1h-1.1zM124.6 93.2h1.1v1.1h-1.1zM109.8 106.7h1.1v1.1h-1.1zM133.7 98.9h1.1v1.1h-1.1zM114.8 99.3h1.1v1.1h-1.1zM114.1 100.3h1.1v1.1h-1.1zM116.7 105.1h1.1v1.1h-1.1zM110.3 103.1h1.1v1.1h-1.1zM118.0 102.1h1.1v1.1h-1.1zM112.5 101.7h1.1v1.1h-1.1zM109.8 103.5h1.1v1.1h-1.1zM123.6 97.8h1.1v1.1h-1.1zM117.8 98.3h1.1v1.1h-1.1zM112.0 91.7h1.1v1.1h-1.1zM109.5 112.4h1.1v1.1h-1.1zM158.3 59.4h1.1v1.1h-1.1zM132.4 63.3h1.1v1.1h-1.1zM158.6 58.5h1.1v1.1h-1.1zM133.5 82.4h1.1v1.1h-1.1zM125.5 60.6h1.1v1.1h-1.1zM130.3 68.5h1.1v1.1h-1.1zM124.3 64.4h1.1v1.1h-1.1zM173.5 56.3h1.1v1.1h-1.1zM172.5 79.2h1.1v1.1h-1.1zM140.0 78.8h1.1v1.1h-1.1zM175.7 36.9h1.1v1.1h-1.1zM141.1 76.0h1.1v1.1h-1.1zM136.1 72.3h1.1v1.1h-1.1zM115.4 73.4h1.1v1.1h-1.1zM176.7 60.7h1.1v1.1h-1.1zM186.5 46.6h1.1v1.1h-1.1zM141.9 39.8h1.1v1.1h-1.1zM141.4 59.9h1.1v1.1h-1.1zM162.3 88.1h1.1v1.1h-1.1zM150.9 41.3h1.1v1.1h-1.1zM133.6 59.0h1.1v1.1h-1.1zM131.8 55.0h1.1v1.1h-1.1zM153.1 98.7h1.1v1.1h-1.1zM125.5 66.7h1.1v1.1h-1.1zM141.7 94.9h1.1v1.1h-1.1zM115.7 95.8h1.1v1.1h-1.1zM179.6 71.5h1.1v1.1h-1.1zM123.9 53.5h1.1v1.1h-1.1zM166.7 57.5h1.1v1.1h-1.1zM136.0 74.5h1.1v1.1h-1.1zM150.7 53.4h1.1v1.1h-1.1zM132.7 51.6h1.1v1.1h-1.1zM124.9 53.9h1.1v1.1h-1.1zM131.0 66.0h1.1v1.1h-1.1zM129.4 91.4h1.1v1.1h-1.1zM101.4 91.5h1.1v1.1h-1.1zM132.5 107.7h1.1v1.1h-1.1zM143.4 90.1h1.1v1.1h-1.1zM171.1 52.1h1.1v1.1h-1.1zM164.6 89.8h1.1v1.1h-1.1zM186.2 73.0h1.1v1.1h-1.1zM142.5 57.3h1.1v1.1h-1.1zM122.7 84.9h1.1v1.1h-1.1zM128.5 63.2h1.1v1.1h-1.1zM176.1 48.2h1.1v1.1h-1.1zM170.1 71.4h1.1v1.1h-1.1zM146.9 84.1h1.1v1.1h-1.1zM160.3 86.7h1.1v1.1h-1.1zM165.9 95.7h1.1v1.1h-1.1zM149.1 38.3h1.1v1.1h-1.1zM134.6 49.6h1.1v1.1h-1.1zM184.1 85.3h1.1v1.1h-1.1zM155.4 58.6h1.1v1.1h-1.1zM103.3 84.2h1.1v1.1h-1.1zM155.2 59.3h1.1v1.1h-1.1zM134.5 30.2h1.1v1.1h-1.1zM137.0 95.6h1.1v1.1h-1.1zM125.4 103.4h1.1v1.1h-1.1zM143.3 72.6h1.1v1.1h-1.1zM147.8 34.7h1.1v1.1h-1.1zM167.6 33.9h1.1v1.1h-1.1zM111.6 76.2h1.1v1.1h-1.1zM125.5 79.5h1.1v1.1h-1.1zM105.0 77.4h1.1v1.1h-1.1zM108.6 88.6h1.1v1.1h-1.1zM99.1 87.2h1.1v1.1h-1.1zM130.0 93.1h1.1v1.1h-1.1zM124.8 48.6h1.1v1.1h-1.1zM143.8 64.0h1.1v1.1h-1.1zM147.6 37.8h1.1v1.1h-1.1zM101.2 87.4h1.1v1.1h-1.1zM166.3 49.5h1.1v1.1h-1.1zM185.1 74.0h1.1v1.1h-1.1zM131.8 104.6h1.1v1.1h-1.1zM181.0 58.5h1.1v1.1h-1.1zM130.6 46.1h1.1v1.1h-1.1zM155.6 83.7h1.1v1.1h-1.1zM163.1 47.8h1.1v1.1h-1.1zM105.0 86.7h1.1v1.1h-1.1zM107.4 82.4h1.1v1.1h-1.1zM109.2 78.4h1.1v1.1h-1.1zM110.2 69.9h1.1v1.1h-1.1zM173.8 47.2h1.1v1.1h-1.1zM101.8 92.5h1.1v1.1h-1.1zM140.4 65.8h1.1v1.1h-1.1zM172.2 76.4h1.1v1.1h-1.1zM110.4 67.2h1.1v1.1h-1.1zM92.7 101.4h1.1v1.1h-1.1zM177.1 77.5h1.1v1.1h-1.1zM151.6 84.4h1.1v1.1h-1.1zM82.2 78.0h1.1v1.1h-1.1zM177.6 42.7h1.1v1.1h-1.1zM112.7 39.2h1.1v1.1h-1.1zM147.4 50.4h1.1v1.1h-1.1zM141.3 77.4h1.1v1.1h-1.1zM136.8 68.8h1.1v1.1h-1.1zM109.0 47.0h1.1v1.1h-1.1zM86.0 74.9h1.1v1.1h-1.1zM132.4 82.6h1.1v1.1h-1.1zM130.5 89.3h1.1v1.1h-1.1zM161.8 91.9h1.1v1.1h-1.1zM97.3 91.3h1.1v1.1h-1.1zM127.8 105.1h1.1v1.1h-1.1zM140.1 104.8h1.1v1.1h-1.1zM125.6 81.7h1.1v1.1h-1.1zM106.4 104.2h1.1v1.1h-1.1zM82.9 100.6h1.1v1.1h-1.1zM87.4 50.3h1.1v1.1h-1.1zM135.3 89.2h1.1v1.1h-1.1zM129.5 73.7h1.1v1.1h-1.1zM86.6 85.5h1.1v1.1h-1.1zM98.2 78.2h1.1v1.1h-1.1zM133.8 64.1h1.1v1.1h-1.1zM113.5 75.0h1.1v1.1h-1.1zM122.1 96.6h1.1v1.1h-1.1zM132.5 73.9h1.1v1.1h-1.1zM105.5 81.3h1.1v1.1h-1.1zM132.3 93.7h1.1v1.1h-1.1zM188.4 61.3h1.1v1.1h-1.1zM161.7 87.0h1.1v1.1h-1.1zM137.6 45.4h1.1v1.1h-1.1zM140.7 50.9h1.1v1.1h-1.1zM128.5 86.0h1.1v1.1h-1.1zM136.9 61.0h1.1v1.1h-1.1zM168.3 53.6h1.1v1.1h-1.1zM93.1 51.6h1.1v1.1h-1.1zM142.6 105.4h1.1v1.1h-1.1zM187.3 88.5h1.1v1.1h-1.1zM94.1 51.3h1.1v1.1h-1.1zM117.1 102.9h1.1v1.1h-1.1z" fill="#606060"/>
<path d="M94.0 112.8h1.1v1.1h-1.1zM104.0 108.6h1.1v1.1h-1.1zM110.8 108.7h1.1v1.1h-1.1zM101.1 109.2h1.1v1.1h-1.1zM101.5 111.6h1.1v1.1h-1.1zM106.1 108.4h1.1v1.1h-1.1zM90.9 113.9h1.1v1.1h-1.1zM101.9 110.5h1.1v1.1h-1.1zM107.1 112.1h1.1v1.1h-1.1zM100.5 109.3h1.1v1.1h-1.1zM105.9 108.0h1.1v1.1h-1.1zM84.5 112.6h1.1v1.1h-1.1zM100.0 110.6h1.1v1.1h-1.1zM97.0 113.0h1.1v1.1h-1.1zM105.3 111.6h1.1v1.1h-1.1zM107.2 107.7h1.1v1.1h-1.1zM102.4 112.5h1.1v1.1h-1.1zM87.5 110.4h1.1v1.1h-1.1zM117.9 112.2h1.1v1.1h-1.1zM106.6 108.4h1.1v1.1h-1.1zM97.9 112.3h1.1v1.1h-1.1zM96.0 114.1h1.1v1.1h-1.1zM95.0 111.3h1.1v1.1h-1.1zM90.2 111.2h1.1v1.1h-1.1zM100.7 112.8h1.1v1.1h-1.1zM96.0 110.1h1.1v1.1h-1.1zM101.5 112.5h1.1v1.1h-1.1zM107.7 109.7h1.1v1.1h-1.1zM96.3 113.5h1.1v1.1h-1.1zM109.6 110.4h1.1v1.1h-1.1zM98.1 110.0h1.1v1.1h-1.1zM96.7 114.4h1.1v1.1h-1.1zM105.3 113.6h1.1v1.1h-1.1zM92.7 114.2h1.1v1.1h-1.1zM82.5 114.1h1.1v1.1h-1.1zM95.3 110.3h1.1v1.1h-1.1zM105.2 110.2h1.1v1.1h-1.1zM98.2 109.1h1.1v1.1h-1.1zM96.6 112.6h1.1v1.1h-1.1zM94.2 113.6h1.1v1.1h-1.1zM96.4 110.9h1.1v1.1h-1.1zM96.0 113.1h1.1v1.1h-1.1zM103.0 110.4h1.1v1.1h-1.1zM93.6 113.7h1.1v1.1h-1.1zM104.3 107.4h1.1v1.1h-1.1zM91.5 111.6h1.1v1.1h-1.1zM111.4 113.0h1.1v1.1h-1.1zM104.8 112.3h1.1v1.1h-1.1zM95.7 110.7h1.1v1.1h-1.1zM112.1 106.9h1.1v1.1h-1.1zM108.8 111.1h1.1v1.1h-1.1zM92.6 113.3h1.1v1.1h-1.1zM93.2 113.2h1.1v1.1h-1.1zM94.1 110.0h1.1v1.1h-1.1zM117.5 108.3h1.1v1.1h-1.1zM105.9 110.9h1.1v1.1h-1.1zM103.4 108.6h1.1v1.1h-1.1zM90.7 105.8h1.1v1.1h-1.1zM106.2 112.0h1.1v1.1h-1.1zM101.0 113.8h1.1v1.1h-1.1zM103.6 113.1h1.1v1.1h-1.1zM98.7 111.1h1.1v1.1h-1.1zM104.4 114.0h1.1v1.1h-1.1zM90.5 110.6h1.1v1.1h-1.1zM97.0 108.5h1.1v1.1h-1.1zM104.9 112.9h1.1v1.1h-1.1zM112.7 110.5h1.1v1.1h-1.1zM112.6 108.5h1.1v1.1h-1.1zM105.4 111.4h1.1v1.1h-1.1zM90.6 112.6h1.1v1.1h-1.1zM108.7 113.2h1.1v1.1h-1.1zM105.6 113.1h1.1v1.1h-1.1zM101.1 112.4h1.1v1.1h-1.1zM93.2 112.7h1.1v1.1h-1.1zM99.7 110.3h1.1v1.1h-1.1zM97.1 112.7h1.1v1.1h-1.1zM100.9 114.1h1.1v1.1h-1.1zM91.7 112.1h1.1v1.1h-1.1zM100.8 110.9h1.1v1.1h-1.1zM101.2 110.6h1.1v1.1h-1.1zM107.2 110.3h1.1v1.1h-1.1zM110.1 106.1h1.1v1.1h-1.1zM98.2 112.3h1.1v1.1h-1.1zM106.7 114.3h1.1v1.1h-1.1zM97.5 108.7h1.1v1.1h-1.1zM104.0 113.6h1.1v1.1h-1.1zM102.3 111.7h1.1v1.1h-1.1zM90.2 109.9h1.1v1.1h-1.1zM106.0 111.7h1.1v1.1h-1.1zM103.9 112.1h1.1v1.1h-1.1zM111.3 113.5h1.1v1.1h-1.1zM90.3 109.4h1.1v1.1h-1.1zM107.3 109.9h1.1v1.1h-1.1zM84.0 114.1h1.1v1.1h-1.1zM94.6 113.8h1.1v1.1h-1.1zM98.4 110.4h1.1v1.1h-1.1zM94.3 114.4h1.1v1.1h-1.1zM92.6 113.2h1.1v1.1h-1.1zM92.3 114.0h1.1v1.1h-1.1zM111.7 111.5h1.1v1.1h-1.1zM107.0 111.9h1.1v1.1h-1.1zM92.2 112.3h1.1v1.1h-1.1zM99.7 112.9h1.1v1.1h-1.1zM95.0 114.0h1.1v1.1h-1.1zM94.0 112.9h1.1v1.1h-1.1zM98.6 109.5h1.1v1.1h-1.1zM106.1 111.1h1.1v1.1h-1.1zM99.8 111.8h1.1v1.1h-1.1zM83.9 111.0h1.1v1.1h-1.1zM95.2 113.9h1.1v1.1h-1.1zM91.6 111.2h1.1v1.1h-1.1zM87.4 113.3h1.1v1.1h-1.1zM101.9 111.9h1.1v1.1h-1.1zM99.2 113.7h1.1v1.1h-1.1zM100.8 109.5h1.1v1.1h-1.1zM103.2 109.7h1.1v1.1h-1.1zM116.6 112.8h1.1v1.1h-1.1zM101.8 109.9h1.1v1.1h-1.1zM100.9 108.6h1.1v1.1h-1.1zM110.2 111.7h1.1v1.1h-1.1zM108.4 111.6h1.1v1.1h-1.1zM83.7 112.5h1.1v1.1h-1.1zM98.0 111.8h1.1v1.1h-1.1zM109.4 109.0h1.1v1.1h-1.1zM98.3 112.0h1.1v1.1h-1.1zM98.1 109.8h1.1v1.1h-1.1zM89.7 107.5h1.1v1.1h-1.1zM101.3 111.2h1.1v1.1h-1.1zM100.1 109.5h1.1v1.1h-1.1zM98.8 109.9h1.1v1.1h-1.1zM92.1 113.7h1.1v1.1h-1.1zM103.7 112.7h1.1v1.1h-1.1zM98.6 111.2h1.1v1.1h-1.1zM109.2 113.4h1.1v1.1h-1.1zM94.3 110.2h1.1v1.1h-1.1zM101.7 112.3h1.1v1.1h-1.1zM84.2 112.2h1.1v1.1h-1.1zM101.0 113.9h1.1v1.1h-1.1zM86.0 112.9h1.1v1.1h-1.1zM109.5 113.7h1.1v1.1h-1.1zM97.3 112.3h1.1v1.1h-1.1zM93.0 113.7h1.1v1.1h-1.1zM91.1 108.6h1.1v1.1h-1.1zM88.4 113.6h1.1v1.1h-1.1zM108.3 112.9h1.1v1.1h-1.1zM104.0 113.9h1.1v1.1h-1.1zM101.2 113.7h1.1v1.1h-1.1zM102.6 113.3h1.1v1.1h-1.1zM91.7 111.6h1.1v1.1h-1.1zM102.3 109.8h1.1v1.1h-1.1zM92.0 111.7h1.1v1.1h-1.1zM105.1 110.9h1.1v1.1h-1.1zM97.1 110.7h1.1v1.1h-1.1zM94.1 111.9h1.1v1.1h-1.1zM111.1 111.9h1.1v1.1h-1.1zM90.4 114.5h1.1v1.1h-1.1zM81.1 112.3h1.1v1.1h-1.1zM105.3 109.8h1.1v1.1h-1.1zM94.0 112.8h1.1v1.1h-1.1zM98.9 111.0h1.1v1.1h-1.1zM109.6 111.3h1.1v1.1h-1.1zM90.9 112.0h1.1v1.1h-1.1zM97.2 113.4h1.1v1.1h-1.1zM110.1 109.3h1.1v1.1h-1.1zM99.9 110.9h1.1v1.1h-1.1zM99.8 110.4h1.1v1.1h-1.1zM102.0 114.2h1.1v1.1h-1.1zM96.2 111.7h1.1v1.1h-1.1zM99.5 109.0h1.1v1.1h-1.1zM111.3 107.3h1.1v1.1h-1.1zM96.3 110.4h1.1v1.1h-1.1zM109.4 109.5h1.1v1.1h-1.1zM98.0 110.4h1.1v1.1h-1.1zM99.1 112.4h1.1v1.1h-1.1zM93.8 112.3h1.1v1.1h-1.1zM97.8 113.8h1.1v1.1h-1.1zM104.7 113.1h1.1v1.1h-1.1zM98.4 113.9h1.1v1.1h-1.1zM101.7 110.7h1.1v1.1h-1.1zM107.2 107.5h1.1v1.1h-1.1zM92.0 111.2h1.1v1.1h-1.1zM97.8 109.4h1.1v1.1h-1.1zM90.1 109.0h1.1v1.1h-1.1zM99.6 110.2h1.1v1.1h-1.1zM114.6 111.6h1.1v1.1h-1.1zM100.1 114.3h1.1v1.1h-1.1zM106.6 110.0h1.1v1.1h-1.1zM93.0 112.0h1.1v1.1h-1.1zM112.1 113.5h1.1v1.1h-1.1zM97.4 111.5h1.1v1.1h-1.1zM101.5 111.0h1.1v1.1h-1.1zM95.7 112.0h1.1v1.1h-1.1zM104.9 111.0h1.1v1.1h-1.1zM100.6 111.2h1.1v1.1h-1.1zM97.6 111.5h1.1v1.1h-1.1zM107.9 111.3h1.1v1.1h-1.1zM109.4 110.2h1.1v1.1h-1.1zM106.0 107.9h1.1v1.1h-1.1zM96.2 112.3h1.1v1.1h-1.1zM94.6 112.4h1.1v1.1h-1.1zM92.6 112.6h1.1v1.1h-1.1zM94.4 112.7h1.1v1.1h-1.1zM96.7 110.1h1.1v1.1h-1.1zM96.2 112.5h1.1v1.1h-1.1zM90.2 113.5h1.1v1.1h-1.1zM107.7 110.3h1.1v1.1h-1.1zM103.1 112.8h1.1v1.1h-1.1zM116.2 107.3h1.1v1.1h-1.1zM113.8 108.4h1.1v1.1h-1.1zM108.7 106.6h1.1v1.1h-1.1zM107.0 111.2h1.1v1.1h-1.1zM89.9 111.5h1.1v1.1h-1.1zM91.5 111.1h1.1v1.1h-1.1zM101.6 111.2h1.1v1.1h-1.1zM81.5 113.8h1.1v1.1h-1.1zM102.3 111.7h1.1v1.1h-1.1zM110.3 106.3h1.1v1.1h-1.1zM100.8 111.8h1.1v1.1h-1.1zM103.7 108.4h1.1v1.1h-1.1zM89.9 112.9h1.1v1.1h-1.1zM99.0 108.0h1.1v1.1h-1.1zM101.6 111.6h1.1v1.1h-1.1zM103.4 105.6h1.1v1.1h-1.1zM102.3 109.6h1.1v1.1h-1.1zM96.0 114.2h1.1v1.1h-1.1zM110.9 110.7h1.1v1.1h-1.1zM92.8 112.5h1.1v1.1h-1.1zM95.2 110.4h1.1v1.1h-1.1zM100.9 112.9h1.1v1.1h-1.1zM100.0 109.9h1.1v1.1h-1.1zM101.2 113.2h1.1v1.1h-1.1zM97.3 114.1h1.1v1.1h-1.1zM97.0 109.0h1.1v1.1h-1.1zM100.8 109.1h1.1v1.1h-1.1zM109.6 112.3h1.1v1.1h-1.1zM99.4 113.5h1.1v1.1h-1.1zM94.7 114.1h1.1v1.1h-1.1zM116.4 106.0h1.1v1.1h-1.1zM96.3 113.2h1.1v1.1h-1.1zM101.5 107.9h1.1v1.1h-1.1zM95.0 113.8h1.1v1.1h-1.1zM89.2 111.4h1.1v1.1h-1.1zM86.4 114.4h1.1v1.1h-1.1zM107.2 111.1h1.1v1.1h-1.1zM97.2 112.8h1.1v1.1h-1.1zM102.2 110.9h1.1v1.1h-1.1zM114.4 108.6h1.1v1.1h-1.1zM106.3 113.7h1.1v1.1h-1.1zM103.2 110.9h1.1v1.1h-1.1zM106.2 113.5h1.1v1.1h-1.1zM106.9 108.5h1.1v1.1h-1.1zM106.1 110.2h1.1v1.1h-1.1zM96.7 113.1h1.1v1.1h-1.1zM103.1 112.0h1.1v1.1h-1.1zM97.8 112.7h1.1v1.1h-1.1zM97.6 113.5h1.1v1.1h-1.1zM105.3 113.0h1.1v1.1h-1.1zM90.2 112.5h1.1v1.1h-1.1zM99.3 109.3h1.1v1.1h-1.1zM101.7 111.3h1.1v1.1h-1.1zM99.6 112.8h1.1v1.1h-1.1zM106.1 109.8h1.1v1.1h-1.1zM102.5 113.2h1.1v1.1h-1.1zM93.6 112.0h1.1v1.1h-1.1zM103.1 105.7h1.1v1.1h-1.1zM90.0 114.0h1.1v1.1h-1.1zM103.1 109.4h1.1v1.1h-1.1zM100.5 111.7h1.1v1.1h-1.1zM99.3 109.7h1.1v1.1h-1.1zM103.0 111.9h1.1v1.1h-1.1zM104.7 114.4h1.1v1.1h-1.1zM99.4 112.4h1.1v1.1h-1.1zM88.9 113.4h1.1v1.1h-1.1zM94.7 112.9h1.1v1.1h-1.1zM104.9 111.4h1.1v1.1h-1.1zM104.3 111.7h1.1v1.1h-1.1zM93.9 111.3h1.1v1.1h-1.1zM89.5 113.9h1.1v1.1h-1.1zM96.6 114.2h1.1v1.1h-1.1zM105.5 109.1h1.1v1.1h-1.1zM91.7 114.4h1.1v1.1h-1.1zM93.0 113.3h1.1v1.1h-1.1zM103.2 110.6h1.1v1.1h-1.1zM111.3 108.6h1.1v1.1h-1.1zM101.9 110.7h1.1v1.1h-1.1zM79.0 114.5h1.1v1.1h-1.1zM98.2 113.4h1.1v1.1h-1.1zM97.9 110.5h1.1v1.1h-1.1zM95.4 111.9h1.1v1.1h-1.1zM104.3 110.7h1.1v1.1h-1.1zM107.9 112.7h1.1v1.1h-1.1zM83.3 114.3h1.1v1.1h-1.1zM92.2 112.8h1.1v1.1h-1.1zM107.1 110.9h1.1v1.1h-1.1zM93.5 110.9h1.1v1.1h-1.1zM106.1 112.4h1.1v1.1h-1.1zM89.2 113.7h1.1v1.1h-1.1zM104.5 110.9h1.1v1.1h-1.1zM96.3 112.7h1.1v1.1h-1.1zM100.4 110.3h1.1v1.1h-1.1zM104.4 107.7h1.1v1.1h-1.1zM91.7 113.0h1.1v1.1h-1.1zM83.0 112.4h1.1v1.1h-1.1zM91.1 113.3h1.1v1.1h-1.1zM92.6 112.9h1.1v1.1h-1.1zM100.8 113.2h1.1v1.1h-1.1zM104.8 107.7h1.1v1.1h-1.1zM114.2 109.2h1.1v1.1h-1.1zM93.6 109.1h1.1v1.1h-1.1zM95.4 108.6h1.1v1.1h-1.1zM100.2 110.5h1.1v1.1h-1.1zM101.1 110.0h1.1v1.1h-1.1zM107.3 111.2h1.1v1.1h-1.1zM86.9 110.6h1.1v1.1h-1.1zM107.9 109.4h1.1v1.1h-1.1zM108.6 111.9h1.1v1.1h-1.1zM114.8 113.8h1.1v1.1h-1.1zM102.9 110.1h1.1v1.1h-1.1zM103.6 114.5h1.1v1.1h-1.1zM99.1 105.5h1.1v1.1h-1.1zM96.3 111.6h1.1v1.1h-1.1zM98.5 111.3h1.1v1.1h-1.1zM106.6 108.1h1.1v1.1h-1.1zM101.5 107.2h1.1v1.1h-1.1zM83.6 111.9h1.1v1.1h-1.1zM93.6 110.8h1.1v1.1h-1.1zM94.3 114.0h1.1v1.1h-1.1zM103.1 111.6h1.1v1.1h-1.1zM100.2 110.3h1.1v1.1h-1.1zM91.7 109.9h1.1v1.1h-1.1zM95.8 109.9h1.1v1.1h-1.1zM97.0 113.9h1.1v1.1h-1.1zM103.3 114.4h1.1v1.1h-1.1zM91.9 108.1h1.1v1.1h-1.1zM103.7 110.4h1.1v1.1h-1.1zM108.1 109.8h1.1v1.1h-1.1zM110.5 109.5h1.1v1.1h-1.1zM96.4 113.9h1.1v1.1h-1.1zM91.0 112.8h1.1v1.1h-1.1zM112.6 111.1h1.1v1.1h-1.1zM91.3 112.5h1.1v1.1h-1.1zM98.6 110.4h1.1v1.1h-1.1zM102.2 114.3h1.1v1.1h-1.1zM99.6 113.9h1.1v1.1h-1.1zM101.1 112.0h1.1v1.1h-1.1zM108.3 109.7h1.1v1.1h-1.1zM93.1 114.0h1.1v1.1h-1.1zM100.1 114.4h1.1v1.1h-1.1zM102.4 111.2h1.1v1.1h-1.1zM99.3 109.1h1.1v1.1h-1.1zM88.1 109.5h1.1v1.1h-1.1zM103.2 110.4h1.1v1.1h-1.1zM94.5 112.4h1.1v1.1h-1.1zM99.1 111.2h1.1v1.1h-1.1zM104.5 113.5h1.1v1.1h-1.1zM97.9 110.2h1.1v1.1h-1.1zM99.6 108.7h1.1v1.1h-1.1zM87.1 105.8h1.1v1.1h-1.1zM86.7 109.0h1.1v1.1h-1.1zM80.6 109.5h1.1v1.1h-1.1zM88.8 108.0h1.1v1.1h-1.1zM90.1 109.4h1.1v1.1h-1.1zM86.9 106.0h1.1v1.1h-1.1zM90.2 110.4h1.1v1.1h-1.1zM83.6 106.7h1.1v1.1h-1.1zM84.4 110.6h1.1v1.1h-1.1zM86.3 105.4h1.1v1.1h-1.1zM92.5 109.6h1.1v1.1h-1.1zM88.7 109.1h1.1v1.1h-1.1zM87.5 108.6h1.1v1.1h-1.1zM90.7 109.6h1.1v1.1h-1.1zM86.6 108.7h1.1v1.1h-1.1zM93.6 107.1h1.1v1.1h-1.1zM84.0 108.8h1.1v1.1h-1.1zM89.9 110.0h1.1v1.1h-1.1zM89.1 113.4h1.1v1.1h-1.1zM84.9 108.4h1.1v1.1h-1.1zM83.0 111.6h1.1v1.1h-1.1zM87.8 112.9h1.1v1.1h-1.1zM87.1 105.9h1.1v1.1h-1.1zM85.9 110.5h1.1v1.1h-1.1zM85.5 109.1h1.1v1.1h-1.1zM85.8 106.7h1.1v1.1h-1.1zM86.3 112.6h1.1v1.1h-1.1zM84.7 109.3h1.1v1.1h-1.1zM90.4 106.6h1.1v1.1h-1.1zM83.4 112.3h1.1v1.1h-1.1zM93.2 107.9h1.1v1.1h-1.1zM84.4 110.7h1.1v1.1h-1.1zM87.9 106.4h1.1v1.1h-1.1zM86.8 102.5h1.1v1.1h-1.1zM85.5 105.4h1.1v1.1h-1.1zM84.0 109.9h1.1v1.1h-1.1zM88.8 112.7h1.1v1.1h-1.1zM79.9 106.8h1.1v1.1h-1.1zM85.4 111.8h1.1v1.1h-1.1zM91.1 108.8h1.1v1.1h-1.1zM88.2 106.6h1.1v1.1h-1.1zM86.4 107.3h1.1v1.1h-1.1zM80.3 113.2h1.1v1.1h-1.1zM90.2 113.7h1.1v1.1h-1.1zM91.7 109.7h1.1v1.1h-1.1zM90.5 104.2h1.1v1.1h-1.1zM84.9 110.6h1.1v1.1h-1.1zM86.8 104.4h1.1v1.1h-1.1zM87.9 105.2h1.1v1.1h-1.1zM88.0 112.4h1.1v1.1h-1.1zM84.5 107.3h1.1v1.1h-1.1zM89.6 108.4h1.1v1.1h-1.1zM88.5 106.3h1.1v1.1h-1.1zM86.9 102.4h1.1v1.1h-1.1zM87.4 111.7h1.1v1.1h-1.1zM84.5 108.0h1.1v1.1h-1.1zM90.1 111.5h1.1v1.1h-1.1zM91.5 106.2h1.1v1.1h-1.1zM86.7 112.9h1.1v1.1h-1.1zM86.5 109.2h1.1v1.1h-1.1zM85.4 106.8h1.1v1.1h-1.1zM78.9 107.1h1.1v1.1h-1.1zM81.3 105.9h1.1v1.1h-1.1zM85.0 111.9h1.1v1.1h-1.1zM90.3 109.5h1.1v1.1h-1.1zM86.4 104.9h1.1v1.1h-1.1zM89.4 106.3h1.1v1.1h-1.1zM87.6 110.8h1.1v1.1h-1.1zM87.4 108.4h1.1v1.1h-1.1zM84.9 111.1h1.1v1.1h-1.1zM89.5 110.2h1.1v1.1h-1.1zM92.9 104.3h1.1v1.1h-1.1zM88.0 110.1h1.1v1.1h-1.1zM88.9 109.2h1.1v1.1h-1.1zM89.3 104.6h1.1v1.1h-1.1zM87.7 111.4h1.1v1.1h-1.1zM87.8 107.9h1.1v1.1h-1.1zM90.5 104.0h1.1v1.1h-1.1zM89.1 112.3h1.1v1.1h-1.1z" fill="#333"/>
<path d="M95.5 111.8h1.1v1.1h-1.1zM99.5 112.1h1.1v1.1h-1.1zM92.8 113.6h1.1v1.1h-1.1zM90.7 112.7h1.1v1.1h-1.1zM100.5 112.6h1.1v1.1h-1.1zM103.4 111.3h1.1v1.1h-1.1zM99.3 114.0h1.1v1.1h-1.1zM96.0 112.1h1.1v1.1h-1.1zM104.3 110.3h1.1v1.1h-1.1zM97.8 114.3h1.1v1.1h-1.1zM104.4 113.0h1.1v1.1h-1.1zM105.9 113.3h1.1v1.1h-1.1zM90.6 113.0h1.1v1.1h-1.1zM98.3 113.1h1.1v1.1h-1.1zM88.8 112.0h1.1v1.1h-1.1zM99.2 113.1h1.1v1.1h-1.1zM104.7 112.6h1.1v1.1h-1.1zM98.9 113.9h1.1v1.1h-1.1zM93.0 111.3h1.1v1.1h-1.1zM94.2 114.4h1.1v1.1h-1.1zM97.1 114.2h1.1v1.1h-1.1zM97.0 113.3h1.1v1.1h-1.1zM96.8 113.8h1.1v1.1h-1.1zM100.1 111.3h1.1v1.1h-1.1zM92.7 113.3h1.1v1.1h-1.1zM103.2 110.8h1.1v1.1h-1.1zM91.6 111.9h1.1v1.1h-1.1zM94.8 111.5h1.1v1.1h-1.1zM92.8 114.1h1.1v1.1h-1.1zM91.4 113.4h1.1v1.1h-1.1zM90.9 113.2h1.1v1.1h-1.1zM99.3 109.7h1.1v1.1h-1.1zM97.2 113.3h1.1v1.1h-1.1zM96.6 113.4h1.1v1.1h-1.1zM98.8 110.8h1.1v1.1h-1.1zM96.4 114.0h1.1v1.1h-1.1zM103.2 110.3h1.1v1.1h-1.1zM93.7 111.2h1.1v1.1h-1.1zM96.7 111.4h1.1v1.1h-1.1zM107.9 108.9h1.1v1.1h-1.1zM105.1 110.9h1.1v1.1h-1.1zM100.4 113.2h1.1v1.1h-1.1zM103.1 112.1h1.1v1.1h-1.1zM92.7 113.3h1.1v1.1h-1.1zM100.8 111.3h1.1v1.1h-1.1zM99.0 112.8h1.1v1.1h-1.1zM97.8 112.9h1.1v1.1h-1.1zM100.1 113.9h1.1v1.1h-1.1zM95.4 112.6h1.1v1.1h-1.1zM86.0 112.6h1.1v1.1h-1.1zM91.4 112.4h1.1v1.1h-1.1zM99.7 114.3h1.1v1.1h-1.1zM102.9 111.2h1.1v1.1h-1.1zM98.3 114.5h1.1v1.1h-1.1zM92.6 113.0h1.1v1.1h-1.1zM90.7 112.6h1.1v1.1h-1.1zM100.5 112.8h1.1v1.1h-1.1zM95.0 112.3h1.1v1.1h-1.1zM104.7 113.5h1.1v1.1h-1.1zM94.8 112.9h1.1v1.1h-1.1zM94.4 112.3h1.1v1.1h-1.1zM100.0 110.5h1.1v1.1h-1.1zM97.0 112.5h1.1v1.1h-1.1zM105.8 112.8h1.1v1.1h-1.1zM99.2 113.6h1.1v1.1h-1.1zM99.9 112.9h1.1v1.1h-1.1zM95.4 114.2h1.1v1.1h-1.1zM98.4 112.0h1.1v1.1h-1.1zM92.3 111.8h1.1v1.1h-1.1zM98.4 112.7h1.1v1.1h-1.1zM92.4 112.8h1.1v1.1h-1.1zM98.6 111.8h1.1v1.1h-1.1zM96.2 112.1h1.1v1.1h-1.1zM83.9 114.3h1.1v1.1h-1.1zM97.4 114.2h1.1v1.1h-1.1zM103.4 111.3h1.1v1.1h-1.1zM100.0 113.1h1.1v1.1h-1.1zM97.4 114.2h1.1v1.1h-1.1zM101.2 110.7h1.1v1.1h-1.1zM104.3 112.1h1.1v1.1h-1.1zM93.5 112.2h1.1v1.1h-1.1zM95.7 111.4h1.1v1.1h-1.1zM102.5 113.2h1.1v1.1h-1.1zM98.1 113.0h1.1v1.1h-1.1zM101.8 112.4h1.1v1.1h-1.1zM95.7 113.9h1.1v1.1h-1.1zM87.6 112.0h1.1v1.1h-1.1zM99.6 114.4h1.1v1.1h-1.1zM88.5 113.7h1.1v1.1h-1.1zM93.6 112.9h1.1v1.1h-1.1zM105.9 113.6h1.1v1.1h-1.1zM100.2 112.9h1.1v1.1h-1.1zM87.6 114.4h1.1v1.1h-1.1zM90.8 111.8h1.1v1.1h-1.1zM97.3 110.6h1.1v1.1h-1.1zM105.9 113.1h1.1v1.1h-1.1zM98.8 113.6h1.1v1.1h-1.1zM98.2 113.0h1.1v1.1h-1.1zM100.4 111.7h1.1v1.1h-1.1zM98.3 113.1h1.1v1.1h-1.1zM100.7 111.0h1.1v1.1h-1.1zM98.2 112.7h1.1v1.1h-1.1zM100.2 113.5h1.1v1.1h-1.1zM97.9 113.6h1.1v1.1h-1.1zM98.6 113.7h1.1v1.1h-1.1zM92.3 113.1h1.1v1.1h-1.1zM100.9 114.2h1.1v1.1h-1.1zM92.1 113.4h1.1v1.1h-1.1zM95.6 113.2h1.1v1.1h-1.1zM94.5 112.6h1.1v1.1h-1.1zM96.7 113.2h1.1v1.1h-1.1zM101.9 111.3h1.1v1.1h-1.1zM99.4 112.5h1.1v1.1h-1.1zM98.2 112.7h1.1v1.1h-1.1zM96.2 114.3h1.1v1.1h-1.1zM96.8 110.4h1.1v1.1h-1.1zM93.2 110.1h1.1v1.1h-1.1zM99.1 114.2h1.1v1.1h-1.1zM101.9 110.5h1.1v1.1h-1.1zM96.1 110.1h1.1v1.1h-1.1zM107.2 111.3h1.1v1.1h-1.1zM87.6 112.3h1.1v1.1h-1.1zM106.5 112.1h1.1v1.1h-1.1zM89.7 110.5h1.1v1.1h-1.1zM100.2 113.9h1.1v1.1h-1.1zM94.5 112.9h1.1v1.1h-1.1zM97.3 112.4h1.1v1.1h-1.1zM94.1 112.4h1.1v1.1h-1.1z" fill="#111"/>
<path d="M315.5 71.2h1.1v1.1h-1.1zM313.8 93.1h1.1v1.1h-1.1zM308.0 90.7h1.1v1.1h-1.1zM288.0 104.2h1.1v1.1h-1.1zM291.3 99.7h1.1v1.1h-1.1zM290.7 98.2h1.1v1.1h-1.1zM294.5 82.7h1.1v1.1h-1.1zM285.7 88.2h1.1v1.1h-1.1zM325.3 64.8h1.1v1.1h-1.1zM277.0 86.2h1.1v1.1h-1.1zM319.9 59.7h1.1v1.1h-1.1zM280.6 110.8h1.1v1.1h-1.1zM310.7 84.0h1.1v1.1h-1.1zM291.1 108.3h1.1v1.1h-1.1zM321.8 71.9h1.1v1.1h-1.1zM312.2 83.6h1.1v1.1h-1.1zM286.8 93.9h1.1v1.1h-1.1zM285.9 92.3h1.1v1.1h-1.1zM279.3 96.8h1.1v1.1h-1.1zM310.0 77.1h1.1v1.1h-1.1zM297.6 99.2h1.1v1.1h-1.1zM307.8 79.4h1.1v1.1h-1.1zM302.4 99.6h1.1v1.1h-1.1zM266.1 92.1h1.1v1.1h-1.1zM309.6 85.2h1.1v1.1h-1.1zM285.9 86.7h1.1v1.1h-1.1zM279.2 89.3h1.1v1.1h-1.1zM300.2 89.9h1.1v1.1h-1.1zM304.9 92.5h1.1v1.1h-1.1zM304.3 92.8h1.1v1.1h-1.1zM298.5 90.9h1.1v1.1h-1.1zM267.4 110.8h1.1v1.1h-1.1zM300.7 91.6h1.1v1.1h-1.1zM292.0 90.0h1.1v1.1h-1.1zM311.3 88.9h1.1v1.1h-1.1zM295.7 109.5h1.1v1.1h-1.1zM275.6 106.7h1.1v1.1h-1.1zM293.3 95.2h1.1v1.1h-1.1zM297.0 80.7h1.1v1.1h-1.1zM296.3 86.5h1.1v1.1h-1.1zM279.8 109.4h1.1v1.1h-1.1zM300.2 91.4h1.1v1.1h-1.1zM324.3 59.0h1.1v1.1h-1.1zM314.8 76.6h1.1v1.1h-1.1zM285.6 84.8h1.1v1.1h-1.1zM285.9 100.1h1.1v1.1h-1.1zM279.9 94.7h1.1v1.1h-1.1zM291.6 91.8h1.1v1.1h-1.1zM295.4 96.8h1.1v1.1h-1.1zM290.5 83.2h1.1v1.1h-1.1zM297.7 108.2h1.1v1.1h-1.1zM281.5 101.4h1.1v1.1h-1.1zM294.4 92.8h1.1v1.1h-1.1zM299.5 89.5h1.1v1.1h-1.1zM323.9 64.2h1.1v1.1h-1.1zM255.5 115.8h1.1v1.1h-1.1zM269.9 107.6h1.1v1.1h-1.1zM311.8 86.0h1.1v1.1h-1.1zM279.2 97.3h1.1v1.1h-1.1zM282.8 93.4h1.1v1.1h-1.1zM286.0 93.0h1.1v1.1h-1.1zM278.7 105.4h1.1v1.1h-1.1zM289.5 95.7h1.1v1.1h-1.1zM304.5 101.7h1.1v1.1h-1.1zM309.2 91.5h1.1v1.1h-1.1zM316.4 74.8h1.1v1.1h-1.1zM283.3 82.7h1.1v1.1h-1.1zM309.3 78.7h1.1v1.1h-1.1zM279.4 115.2h1.1v1.1h-1.1zM313.4 79.5h1.1v1.1h-1.1zM298.9 102.6h1.1v1.1h-1.1zM281.3 81.4h1.1v1.1h-1.1zM270.5 110.4h1.1v1.1h-1.1zM319.0 80.8h1.1v1.1h-1.1zM311.6 72.7h1.1v1.1h-1.1zM276.6 107.2h1.1v1.1h-1.1zM288.3 100.8h1.1v1.1h-1.1zM312.9 96.1h1.1v1.1h-1.1zM290.5 95.2h1.1v1.1h-1.1zM266.2 101.1h1.1v1.1h-1.1zM286.5 93.1h1.1v1.1h-1.1zM303.5 83.3h1.1v1.1h-1.1zM277.2 105.3h1.1v1.1h-1.1zM304.8 91.7h1.1v1.1h-1.1zM301.6 92.8h1.1v1.1h-1.1zM318.9 77.3h1.1v1.1h-1.1zM285.5 92.3h1.1v1.1h-1.1zM309.1 77.6h1.1v1.1h-1.1zM279.8 94.1h1.1v1.1h-1.1zM285.9 81.4h1.1v1.1h-1.1zM294.7 96.1h1.1v1.1h-1.1zM283.4 83.2h1.1v1.1h-1.1zM287.1 95.0h1.1v1.1h-1.1zM291.4 88.1h1.1v1.1h-1.1zM294.5 78.0h1.1v1.1h-1.1zM289.4 93.2h1.1v1.1h-1.1zM284.5 113.4h1.1v1.1h-1.1zM299.3 90.6h1.1v1.1h-1.1zM284.4 94.6h1.1v1.1h-1.1zM326.0 77.8h1.1v1.1h-1.1zM301.7 72.8h1.1v1.1h-1.1zM310.4 97.3h1.1v1.1h-1.1zM304.9 84.7h1.1v1.1h-1.1zM304.8 85.8h1.1v1.1h-1.1zM283.5 82.8h1.1v1.1h-1.1zM296.4 95.2h1.1v1.1h-1.1zM309.4 58.0h1.1v1.1h-1.1zM308.4 73.9h1.1v1.1h-1.1zM321.6 80.2h1.1v1.1h-1.1zM269.5 95.5h1.1v1.1h-1.1zM289.9 83.2h1.1v1.1h-1.1zM311.5 77.4h1.1v1.1h-1.1zM276.3 111.7h1.1v1.1h-1.1zM293.2 79.4h1.1v1.1h-1.1zM305.2 80.9h1.1v1.1h-1.1zM314.2 63.6h1.1v1.1h-1.1zM293.9 95.0h1.1v1.1h-1.1zM273.0 100.2h1.1v1.1h-1.1zM312.8 74.6h1.1v1.1h-1.1zM282.0 84.2h1.1v1.1h-1.1zM313.2 91.7h1.1v1.1h-1.1zM286.2 101.7h1.1v1.1h-1.1zM297.6 100.1h1.1v1.1h-1.1zM286.5 85.0h1.1v1.1h-1.1zM294.3 95.8h1.1v1.1h-1.1zM292.6 76.3h1.1v1.1h-1.1zM301.4 70.8h1.1v1.1h-1.1zM308.5 84.9h1.1v1.1h-1.1zM283.2 103.4h1.1v1.1h-1.1zM296.6 84.2h1.1v1.1h-1.1zM312.7 79.2h1.1v1.1h-1.1zM299.0 89.7h1.1v1.1h-1.1zM273.7 99.5h1.1v1.1h-1.1zM288.7 95.9h1.1v1.1h-1.1zM274.8 102.9h1.1v1.1h-1.1zM294.7 99.4h1.1v1.1h-1.1zM310.1 90.5h1.1v1.1h-1.1zM286.1 109.5h1.1v1.1h-1.1zM285.4 91.8h1.1v1.1h-1.1zM283.0 96.2h1.1v1.1h-1.1zM291.2 87.7h1.1v1.1h-1.1zM268.9 102.6h1.1v1.1h-1.1zM294.8 79.5h1.1v1.1h-1.1zM326.2 51.0h1.1v1.1h-1.1zM294.2 82.8h1.1v1.1h-1.1zM300.0 103.1h1.1v1.1h-1.1zM304.2 89.7h1.1v1.1h-1.1zM318.2 82.6h1.1v1.1h-1.1zM295.7 79.0h1.1v1.1h-1.1zM291.4 102.8h1.1v1.1h-1.1zM303.1 87.4h1.1v1.1h-1.1zM301.0 80.8h1.1v1.1h-1.1zM339.8 58.5h1.1v1.1h-1.1zM281.3 115.4h1.1v1.1h-1.1zM313.5 83.5h1.1v1.1h-1.1zM292.0 92.5h1.1v1.1h-1.1zM305.1 79.3h1.1v1.1h-1.1zM290.3 91.7h1.1v1.1h-1.1zM302.0 88.7h1.1v1.1h-1.1zM291.9 69.4h1.1v1.1h-1.1zM308.5 74.8h1.1v1.1h-1.1zM322.9 80.4h1.1v1.1h-1.1zM267.1 113.0h1.1v1.1h-1.1zM276.4 96.1h1.1v1.1h-1.1zM301.7 92.0h1.1v1.1h-1.1zM312.3 84.1h1.1v1.1h-1.1zM298.1 115.5h1.1v1.1h-1.1zM323.0 75.6h1.1v1.1h-1.1zM302.0 89.9h1.1v1.1h-1.1zM303.1 82.1h1.1v1.1h-1.1zM273.8 100.5h1.1v1.1h-1.1zM286.1 104.9h1.1v1.1h-1.1zM316.7 87.9h1.1v1.1h-1.1zM285.3 110.1h1.1v1.1h-1.1zM295.7 87.5h1.1v1.1h-1.1zM284.2 105.1h1.1v1.1h-1.1zM312.0 72.5h1.1v1.1h-1.1zM306.2 94.6h1.1v1.1h-1.1zM314.4 78.0h1.1v1.1h-1.1zM304.0 87.5h1.1v1.1h-1.1zM275.1 106.8h1.1v1.1h-1.1zM306.6 96.9h1.1v1.1h-1.1zM293.3 108.9h1.1v1.1h-1.1zM326.9 73.8h1.1v1.1h-1.1zM286.8 100.5h1.1v1.1h-1.1zM296.5 105.5h1.1v1.1h-1.1zM330.2 77.8h1.1v1.1h-1.1zM303.2 96.5h1.1v1.1h-1.1zM313.2 83.1h1.1v1.1h-1.1zM304.0 83.3h1.1v1.1h-1.1zM309.6 92.8h1.1v1.1h-1.1zM287.2 93.5h1.1v1.1h-1.1zM306.1 97.7h1.1v1.1h-1.1zM296.5 93.4h1.1v1.1h-1.1zM274.3 87.8h1.1v1.1h-1.1zM296.1 71.3h1.1v1.1h-1.1zM302.5 95.1h1.1v1.1h-1.1zM273.1 100.3h1.1v1.1h-1.1zM276.2 96.9h1.1v1.1h-1.1zM300.0 96.0h1.1v1.1h-1.1zM300.6 89.5h1.1v1.1h-1.1zM288.1 95.2h1.1v1.1h-1.1zM314.2 57.9h1.1v1.1h-1.1zM330.7 86.4h1.1v1.1h-1.1zM293.4 92.4h1.1v1.1h-1.1zM287.2 104.9h1.1v1.1h-1.1zM294.7 96.0h1.1v1.1h-1.1zM296.1 93.2h1.1v1.1h-1.1zM279.8 107.8h1.1v1.1h-1.1zM310.9 103.9h1.1v1.1h-1.1zM304.9 75.9h1.1v1.1h-1.1zM295.1 82.4h1.1v1.1h-1.1zM286.4 80.0h1.1v1.1h-1.1zM286.4 112.9h1.1v1.1h-1.1zM291.8 99.8h1.1v1.1h-1.1zM289.5 98.9h1.1v1.1h-1.1zM288.7 88.9h1.1v1.1h-1.1zM266.5 114.6h1.1v1.1h-1.1zM260.3 105.5h1.1v1.1h-1.1zM283.4 84.7h1.1v1.1h-1.1zM285.6 82.8h1.1v1.1h-1.1zM310.0 73.2h1.1v1.1h-1.1zM278.8 93.1h1.1v1.1h-1.1zM295.1 98.6h1.1v1.1h-1.1zM281.3 102.6h1.1v1.1h-1.1zM282.7 86.6h1.1v1.1h-1.1zM305.8 83.6h1.1v1.1h-1.1zM279.8 96.5h1.1v1.1h-1.1zM282.1 91.1h1.1v1.1h-1.1zM318.6 84.2h1.1v1.1h-1.1zM301.4 86.2h1.1v1.1h-1.1zM274.0 98.5h1.1v1.1h-1.1zM276.8 97.9h1.1v1.1h-1.1zM302.7 77.7h1.1v1.1h-1.1zM296.9 75.8h1.1v1.1h-1.1zM296.5 55.1h1.1v1.1h-1.1zM306.4 86.3h1.1v1.1h-1.1zM307.9 101.7h1.1v1.1h-1.1zM303.3 82.0h1.1v1.1h-1.1zM284.5 86.0h1.1v1.1h-1.1zM315.6 60.7h1.1v1.1h-1.1zM336.8 74.5h1.1v1.1h-1.1zM296.4 105.3h1.1v1.1h-1.1zM290.9 86.2h1.1v1.1h-1.1zM293.8 114.9h1.1v1.1h-1.1zM292.2 65.6h1.1v1.1h-1.1zM317.5 82.9h1.1v1.1h-1.1zM279.3 77.3h1.1v1.1h-1.1zM288.8 88.2h1.1v1.1h-1.1zM304.7 88.3h1.1v1.1h-1.1zM300.6 101.6h1.1v1.1h-1.1zM293.7 98.5h1.1v1.1h-1.1zM319.6 81.3h1.1v1.1h-1.1zM295.7 86.3h1.1v1.1h-1.1zM287.5 108.1h1.1v1.1h-1.1zM295.2 89.6h1.1v1.1h-1.1zM307.5 68.9h1.1v1.1h-1.1zM289.0 86.9h1.1v1.1h-1.1zM301.9 88.3h1.1v1.1h-1.1zM260.3 98.6h1.1v1.1h-1.1zM303.8 90.8h1.1v1.1h-1.1zM270.4 116.0h1.1v1.1h-1.1zM270.7 104.8h1.1v1.1h-1.1zM306.1 85.7h1.1v1.1h-1.1zM269.0 103.5h1.1v1.1h-1.1zM302.0 89.1h1.1v1.1h-1.1zM293.6 103.4h1.1v1.1h-1.1zM293.0 99.3h1.1v1.1h-1.1zM318.7 80.5h1.1v1.1h-1.1zM314.3 72.5h1.1v1.1h-1.1zM300.8 84.7h1.1v1.1h-1.1zM280.5 96.5h1.1v1.1h-1.1zM301.4 75.1h1.1v1.1h-1.1zM261.0 102.9h1.1v1.1h-1.1zM302.5 84.6h1.1v1.1h-1.1zM289.7 97.9h1.1v1.1h-1.1zM283.2 98.4h1.1v1.1h-1.1zM285.7 89.7h1.1v1.1h-1.1zM328.5 66.9h1.1v1.1h-1.1zM306.7 89.0h1.1v1.1h-1.1zM289.4 95.9h1.1v1.1h-1.1zM290.3 78.8h1.1v1.1h-1.1zM316.1 85.6h1.1v1.1h-1.1zM313.0 87.5h1.1v1.1h-1.1zM308.0 86.7h1.1v1.1h-1.1zM278.2 109.3h1.1v1.1h-1.1zM264.7 95.4h1.1v1.1h-1.1zM291.7 103.2h1.1v1.1h-1.1zM309.8 97.5h1.1v1.1h-1.1zM290.4 101.1h1.1v1.1h-1.1zM306.0 94.0h1.1v1.1h-1.1zM298.9 79.0h1.1v1.1h-1.1zM296.5 79.6h1.1v1.1h-1.1zM282.5 97.7h1.1v1.1h-1.1zM278.2 114.4h1.1v1.1h-1.1zM312.9 84.0h1.1v1.1h-1.1zM299.1 97.7h1.1v1.1h-1.1zM292.5 100.1h1.1v1.1h-1.1zM290.3 94.3h1.1v1.1h-1.1zM300.0 96.5h1.1v1.1h-1.1zM316.6 93.7h1.1v1.1h-1.1zM272.1 89.1h1.1v1.1h-1.1zM304.3 89.9h1.1v1.1h-1.1zM293.5 105.1h1.1v1.1h-1.1zM301.5 69.3h1.1v1.1h-1.1zM296.1 89.6h1.1v1.1h-1.1zM309.9 82.0h1.1v1.1h-1.1zM293.7 93.6h1.1v1.1h-1.1zM292.3 98.6h1.1v1.1h-1.1zM300.0 82.8h1.1v1.1h-1.1zM293.9 99.0h1.1v1.1h-1.1zM297.4 85.8h1.1v1.1h-1.1zM286.0 101.8h1.1v1.1h-1.1zM313.1 112.7h1.1v1.1h-1.1zM280.9 85.8h1.1v1.1h-1.1zM315.3 72.9h1.1v1.1h-1.1zM297.4 93.5h1.1v1.1h-1.1zM275.8 103.5h1.1v1.1h-1.1zM317.5 45.1h1.1v1.1h-1.1zM296.2 83.7h1.1v1.1h-1.1zM315.9 74.2h1.1v1.1h-1.1zM306.3 84.9h1.1v1.1h-1.1zM319.8 67.7h1.1v1.1h-1.1zM285.9 83.2h1.1v1.1h-1.1zM333.4 65.6h1.1v1.1h-1.1zM295.6 109.3h1.1v1.1h-1.1zM275.8 103.9h1.1v1.1h-1.1zM298.5 79.9h1.1v1.1h-1.1zM298.3 84.1h1.1v1.1h-1.1zM290.6 103.1h1.1v1.1h-1.1zM311.8 82.1h1.1v1.1h-1.1zM336.7 59.8h1.1v1.1h-1.1zM297.0 79.2h1.1v1.1h-1.1zM307.9 85.1h1.1v1.1h-1.1zM292.5 85.0h1.1v1.1h-1.1zM311.9 85.2h1.1v1.1h-1.1zM286.5 96.0h1.1v1.1h-1.1zM285.3 109.2h1.1v1.1h-1.1zM289.1 85.6h1.1v1.1h-1.1zM306.9 82.3h1.1v1.1h-1.1zM292.9 89.3h1.1v1.1h-1.1zM308.7 74.4h1.1v1.1h-1.1zM317.0 92.4h1.1v1.1h-1.1zM299.3 84.8h1.1v1.1h-1.1zM315.5 57.6h1.1v1.1h-1.1zM285.1 114.7h1.1v1.1h-1.1zM284.6 86.4h1.1v1.1h-1.1zM287.6 103.9h1.1v1.1h-1.1zM297.7 72.6h1.1v1.1h-1.1zM299.9 86.8h1.1v1.1h-1.1zM269.2 105.0h1.1v1.1h-1.1zM296.7 92.8h1.1v1.1h-1.1zM310.9 67.9h1.1v1.1h-1.1zM287.2 88.7h1.1v1.1h-1.1zM320.7 81.5h1.1v1.1h-1.1zM284.7 88.4h1.1v1.1h-1.1zM314.1 72.6h1.1v1.1h-1.1zM300.4 83.0h1.1v1.1h-1.1zM286.4 103.6h1.1v1.1h-1.1zM268.7 112.7h1.1v1.1h-1.1zM328.9 64.2h1.1v1.1h-1.1zM309.5 57.2h1.1v1.1h-1.1zM283.8 83.2h1.1v1.1h-1.1zM311.5 85.1h1.1v1.1h-1.1zM287.8 98.0h1.1v1.1h-1.1zM304.5 78.6h1.1v1.1h-1.1zM297.4 94.6h1.1v1.1h-1.1zM280.0 101.5h1.1v1.1h-1.1zM313.8 72.4h1.1v1.1h-1.1zM288.0 100.2h1.1v1.1h-1.1zM320.3 77.2h1.1v1.1h-1.1zM277.0 97.9h1.1v1.1h-1.1zM278.6 104.4h1.1v1.1h-1.1zM298.4 87.3h1.1v1.1h-1.1zM307.5 101.3h1.1v1.1h-1.1zM293.7 101.9h1.1v1.1h-1.1zM284.8 103.7h1.1v1.1h-1.1zM293.1 88.7h1.1v1.1h-1.1zM268.7 106.7h1.1v1.1h-1.1zM287.9 112.0h1.1v1.1h-1.1zM287.3 109.9h1.1v1.1h-1.1zM308.8 86.9h1.1v1.1h-1.1zM272.2 104.3h1.1v1.1h-1.1zM291.1 95.7h1.1v1.1h-1.1zM261.8 112.6h1.1v1.1h-1.1zM297.1 97.7h1.1v1.1h-1.1zM284.1 95.1h1.1v1.1h-1.1zM301.2 89.7h1.1v1.1h-1.1zM264.3 100.2h1.1v1.1h-1.1zM290.9 80.9h1.1v1.1h-1.1zM309.4 65.9h1.1v1.1h-1.1zM298.3 99.9h1.1v1.1h-1.1zM330.1 60.4h1.1v1.1h-1.1zM275.2 95.7h1.1v1.1h-1.1zM293.1 97.4h1.1v1.1h-1.1zM292.9 100.5h1.1v1.1h-1.1zM273.8 96.9h1.1v1.1h-1.1zM262.8 99.9h1.1v1.1h-1.1zM305.7 83.7h1.1v1.1h-1.1zM310.2 86.2h1.1v1.1h-1.1zM307.1 76.3h1.1v1.1h-1.1zM294.9 85.6h1.1v1.1h-1.1zM285.2 115.0h1.1v1.1h-1.1zM296.3 107.8h1.1v1.1h-1.1zM271.9 100.9h1.1v1.1h-1.1zM310.5 81.7h1.1v1.1h-1.1zM309.7 79.5h1.1v1.1h-1.1zM270.1 102.5h1.1v1.1h-1.1zM273.8 110.1h1.1v1.1h-1.1zM288.0 103.0h1.1v1.1h-1.1zM295.7 98.9h1.1v1.1h-1.1zM290.6 91.1h1.1v1.1h-1.1zM313.1 86.5h1.1v1.1h-1.1zM321.8 69.8h1.1v1.1h-1.1zM274.8 92.3h1.1v1.1h-1.1zM306.1 95.7h1.1v1.1h-1.1zM314.7 78.1h1.1v1.1h-1.1zM303.2 86.7h1.1v1.1h-1.1zM308.8 88.0h1.1v1.1h-1.1zM284.6 101.3h1.1v1.1h-1.1zM303.3 88.1h1.1v1.1h-1.1zM333.7 52.1h1.1v1.1h-1.1zM300.9 84.4h1.1v1.1h-1.1zM314.9 97.6h1.1v1.1h-1.1zM304.2 85.4h1.1v1.1h-1.1zM260.0 96.9h1.1v1.1h-1.1zM317.6 65.0h1.1v1.1h-1.1zM292.2 110.2h1.1v1.1h-1.1zM321.8 62.1h1.1v1.1h-1.1zM319.6 69.4h1.1v1.1h-1.1zM292.7 77.5h1.1v1.1h-1.1zM280.0 110.3h1.1v1.1h-1.1zM310.6 73.8h1.1v1.1h-1.1zM312.9 79.9h1.1v1.1h-1.1zM306.1 71.0h1.1v1.1h-1.1zM291.7 86.9h1.1v1.1h-1.1zM275.4 86.6h1.1v1.1h-1.1zM332.5 63.7h1.1v1.1h-1.1zM309.2 81.7h1.1v1.1h-1.1zM294.8 99.3h1.1v1.1h-1.1zM271.8 94.0h1.1v1.1h-1.1zM265.4 96.0h1.1v1.1h-1.1zM307.6 88.0h1.1v1.1h-1.1zM275.4 74.3h1.1v1.1h-1.1zM303.9 75.5h1.1v1.1h-1.1zM283.4 81.2h1.1v1.1h-1.1zM270.4 109.1h1.1v1.1h-1.1zM305.1 67.9h1.1v1.1h-1.1zM298.2 91.7h1.1v1.1h-1.1zM278.0 86.2h1.1v1.1h-1.1zM315.9 95.2h1.1v1.1h-1.1zM292.3 87.7h1.1v1.1h-1.1zM314.3 90.0h1.1v1.1h-1.1zM286.2 94.4h1.1v1.1h-1.1zM302.2 82.3h1.1v1.1h-1.1zM303.1 63.1h1.1v1.1h-1.1zM318.4 85.3h1.1v1.1h-1.1zM258.1 113.5h1.1v1.1h-1.1zM281.6 106.3h1.1v1.1h-1.1zM308.3 102.4h1.1v1.1h-1.1zM329.6 69.8h1.1v1.1h-1.1zM321.1 73.7h1.1v1.1h-1.1zM306.8 79.9h1.1v1.1h-1.1zM278.4 99.0h1.1v1.1h-1.1zM326.6 75.5h1.1v1.1h-1.1zM267.0 114.6h1.1v1.1h-1.1zM304.9 85.7h1.1v1.1h-1.1zM308.2 101.4h1.1v1.1h-1.1zM298.5 89.6h1.1v1.1h-1.1zM287.4 105.4h1.1v1.1h-1.1zM304.3 67.2h1.1v1.1h-1.1zM305.3 101.7h1.1v1.1h-1.1zM285.2 114.0h1.1v1.1h-1.1zM290.1 92.4h1.1v1.1h-1.1zM279.8 106.0h1.1v1.1h-1.1zM277.3 109.3h1.1v1.1h-1.1zM284.2 90.2h1.1v1.1h-1.1zM264.5 113.4h1.1v1.1h-1.1zM287.5 91.4h1.1v1.1h-1.1zM306.3 89.7h1.1v1.1h-1.1zM308.3 78.4h1.1v1.1h-1.1zM315.3 57.0h1.1v1.1h-1.1zM285.5 89.6h1.1v1.1h-1.1zM288.2 84.6h1.1v1.1h-1.1zM311.0 75.8h1.1v1.1h-1.1zM273.3 96.6h1.1v1.1h-1.1zM285.9 94.2h1.1v1.1h-1.1zM277.5 100.9h1.1v1.1h-1.1zM275.3 90.6h1.1v1.1h-1.1zM303.9 95.0h1.1v1.1h-1.1zM306.8 110.3h1.1v1.1h-1.1zM278.1 105.9h1.1v1.1h-1.1zM319.9 68.4h1.1v1.1h-1.1zM302.0 76.7h1.1v1.1h-1.1zM309.2 88.3h1.1v1.1h-1.1zM311.4 84.6h1.1v1.1h-1.1zM279.7 107.7h1.1v1.1h-1.1zM313.4 75.8h1.1v1.1h-1.1zM302.8 91.7h1.1v1.1h-1.1zM281.2 91.0h1.1v1.1h-1.1zM282.8 108.3h1.1v1.1h-1.1zM279.2 113.0h1.1v1.1h-1.1zM289.9 94.1h1.1v1.1h-1.1zM283.2 101.5h1.1v1.1h-1.1zM276.8 100.2h1.1v1.1h-1.1zM284.3 72.6h1.1v1.1h-1.1zM286.7 83.6h1.1v1.1h-1.1zM287.2 97.9h1.1v1.1h-1.1zM290.3 88.6h1.1v1.1h-1.1zM284.6 110.0h1.1v1.1h-1.1zM302.5 107.6h1.1v1.1h-1.1zM313.3 79.4h1.1v1.1h-1.1zM292.0 107.0h1.1v1.1h-1.1zM276.8 94.7h1.1v1.1h-1.1zM308.7 77.0h1.1v1.1h-1.1zM283.3 114.2h1.1v1.1h-1.1zM281.9 99.4h1.1v1.1h-1.1zM303.2 82.0h1.1v1.1h-1.1zM315.4 82.1h1.1v1.1h-1.1zM315.7 64.5h1.1v1.1h-1.1zM297.2 76.7h1.1v1.1h-1.1zM281.7 101.8h1.1v1.1h-1.1zM308.6 91.5h1.1v1.1h-1.1zM299.2 76.8h1.1v1.1h-1.1zM322.0 68.7h1.1v1.1h-1.1zM272.8 105.4h1.1v1.1h-1.1zM297.1 84.5h1.1v1.1h-1.1zM309.8 71.1h1.1v1.1h-1.1zM285.0 113.5h1.1v1.1h-1.1zM277.5 113.6h1.1v1.1h-1.1zM272.5 109.1h1.1v1.1h-1.1zM318.9 62.5h1.1v1.1h-1.1zM280.2 104.9h1.1v1.1h-1.1zM282.3 86.3h1.1v1.1h-1.1zM314.1 84.4h1.1v1.1h-1.1zM298.3 104.8h1.1v1.1h-1.1zM305.4 91.7h1.1v1.1h-1.1zM299.1 97.6h1.1v1.1h-1.1zM262.0 109.1h1.1v1.1h-1.1zM274.8 95.7h1.1v1.1h-1.1zM290.9 84.5h1.1v1.1h-1.1zM277.7 112.3h1.1v1.1h-1.1zM310.5 97.3h1.1v1.1h-1.1zM318.4 63.1h1.1v1.1h-1.1zM331.8 72.8h1.1v1.1h-1.1zM299.1 94.4h1.1v1.1h-1.1zM281.0 96.3h1.1v1.1h-1.1zM310.7 93.0h1.1v1.1h-1.1zM274.5 105.0h1.1v1.1h-1.1zM272.7 108.3h1.1v1.1h-1.1zM291.1 78.1h1.1v1.1h-1.1zM277.5 86.2h1.1v1.1h-1.1zM274.3 111.1h1.1v1.1h-1.1zM301.3 89.9h1.1v1.1h-1.1zM274.5 112.8h1.1v1.1h-1.1zM312.0 105.9h1.1v1.1h-1.1zM296.4 103.0h1.1v1.1h-1.1zM305.1 90.9h1.1v1.1h-1.1zM281.3 95.0h1.1v1.1h-1.1zM292.7 98.6h1.1v1.1h-1.1zM307.0 76.9h1.1v1.1h-1.1zM282.7 97.8h1.1v1.1h-1.1zM300.9 85.4h1.1v1.1h-1.1zM291.3 91.1h1.1v1.1h-1.1zM280.4 101.5h1.1v1.1h-1.1zM309.4 77.2h1.1v1.1h-1.1zM296.0 89.0h1.1v1.1h-1.1zM314.4 108.4h1.1v1.1h-1.1zM293.1 95.7h1.1v1.1h-1.1zM299.1 99.0h1.1v1.1h-1.1zM278.9 102.8h1.1v1.1h-1.1zM294.6 103.9h1.1v1.1h-1.1zM285.8 100.5h1.1v1.1h-1.1zM273.7 107.0h1.1v1.1h-1.1zM268.0 105.2h1.1v1.1h-1.1zM285.6 101.5h1.1v1.1h-1.1zM301.5 85.0h1.1v1.1h-1.1zM294.7 102.8h1.1v1.1h-1.1zM287.6 101.6h1.1v1.1h-1.1zM300.2 80.9h1.1v1.1h-1.1zM272.2 105.5h1.1v1.1h-1.1zM310.5 88.3h1.1v1.1h-1.1zM313.1 87.9h1.1v1.1h-1.1zM281.0 81.9h1.1v1.1h-1.1zM301.2 85.2h1.1v1.1h-1.1zM274.4 112.2h1.1v1.1h-1.1zM311.4 83.6h1.1v1.1h-1.1zM275.7 87.7h1.1v1.1h-1.1zM290.6 84.3h1.1v1.1h-1.1zM284.0 88.0h1.1v1.1h-1.1zM328.0 81.3h1.1v1.1h-1.1zM304.4 65.8h1.1v1.1h-1.1zM306.6 101.6h1.1v1.1h-1.1zM314.5 79.8h1.1v1.1h-1.1zM294.8 104.3h1.1v1.1h-1.1zM284.7 109.2h1.1v1.1h-1.1zM274.2 115.6h1.1v1.1h-1.1zM284.5 92.9h1.1v1.1h-1.1zM302.4 93.8h1.1v1.1h-1.1zM292.2 104.2h1.1v1.1h-1.1zM268.0 112.6h1.1v1.1h-1.1zM306.7 81.9h1.1v1.1h-1.1zM295.8 103.9h1.1v1.1h-1.1zM317.7 74.9h1.1v1.1h-1.1zM317.2 78.0h1.1v1.1h-1.1zM279.1 98.9h1.1v1.1h-1.1zM308.3 81.0h1.1v1.1h-1.1zM302.7 86.5h1.1v1.1h-1.1zM305.1 101.7h1.1v1.1h-1.1zM289.1 86.5h1.1v1.1h-1.1zM299.9 83.9h1.1v1.1h-1.1zM304.5 98.5h1.1v1.1h-1.1zM265.8 110.9h1.1v1.1h-1.1zM293.3 115.0h1.1v1.1h-1.1zM272.8 97.2h1.1v1.1h-1.1zM283.7 97.5h1.1v1.1h-1.1zM255.4 112.9h1.1v1.1h-1.1zM309.5 81.6h1.1v1.1h-1.1zM294.4 100.2h1.1v1.1h-1.1zM290.6 80.0h1.1v1.1h-1.1zM317.5 87.1h1.1v1.1h-1.1zM297.9 87.0h1.1v1.1h-1.1zM317.1 76.5h1.1v1.1h-1.1zM305.1 74.8h1.1v1.1h-1.1zM278.7 104.3h1.1v1.1h-1.1zM258.5 110.8h1.1v1.1h-1.1zM268.7 102.3h1.1v1.1h-1.1zM291.1 82.3h1.1v1.1h-1.1zM294.9 100.7h1.1v1.1h-1.1zM316.3 73.3h1.1v1.1h-1.1zM315.0 82.0h1.1v1.1h-1.1zM279.0 110.9h1.1v1.1h-1.1zM299.0 111.8h1.1v1.1h-1.1zM266.7 116.4h1.1v1.1h-1.1zM303.9 107.5h1.1v1.1h-1.1zM274.2 104.4h1.1v1.1h-1.1zM274.5 102.9h1.1v1.1h-1.1zM288.0 106.5h1.1v1.1h-1.1zM298.5 100.9h1.1v1.1h-1.1zM296.6 95.1h1.1v1.1h-1.1zM293.5 95.1h1.1v1.1h-1.1zM289.4 92.3h1.1v1.1h-1.1zM303.8 79.8h1.1v1.1h-1.1zM298.9 102.5h1.1v1.1h-1.1zM296.6 107.5h1.1v1.1h-1.1zM294.3 115.5h1.1v1.1h-1.1zM300.7 88.5h1.1v1.1h-1.1zM307.4 71.2h1.1v1.1h-1.1zM300.6 103.1h1.1v1.1h-1.1zM287.8 107.5h1.1v1.1h-1.1zM298.4 102.6h1.1v1.1h-1.1zM268.7 95.7h1.1v1.1h-1.1zM301.0 101.3h1.1v1.1h-1.1zM261.4 109.3h1.1v1.1h-1.1zM306.9 77.6h1.1v1.1h-1.1zM274.9 101.3h1.1v1.1h-1.1zM291.7 80.1h1.1v1.1h-1.1zM271.2 108.8h1.1v1.1h-1.1zM299.0 99.4h1.1v1.1h-1.1zM320.6 72.9h1.1v1.1h-1.1zM298.9 73.2h1.1v1.1h-1.1zM319.5 69.7h1.1v1.1h-1.1zM308.7 87.2h1.1v1.1h-1.1zM300.5 85.3h1.1v1.1h-1.1zM308.8 67.9h1.1v1.1h-1.1zM304.4 90.6h1.1v1.1h-1.1zM284.8 84.4h1.1v1.1h-1.1zM315.2 78.7h1.1v1.1h-1.1zM316.3 95.1h1.1v1.1h-1.1zM292.3 93.7h1.1v1.1h-1.1zM293.7 94.0h1.1v1.1h-1.1zM316.3 62.8h1.1v1.1h-1.1zM294.4 91.7h1.1v1.1h-1.1zM304.9 81.1h1.1v1.1h-1.1zM272.2 95.0h1.1v1.1h-1.1zM286.8 96.5h1.1v1.1h-1.1zM304.2 102.3h1.1v1.1h-1.1zM309.5 88.0h1.1v1.1h-1.1zM307.5 77.7h1.1v1.1h-1.1zM314.3 89.7h1.1v1.1h-1.1zM286.2 114.3h1.1v1.1h-1.1zM296.6 84.7h1.1v1.1h-1.1zM277.0 102.7h1.1v1.1h-1.1zM328.0 82.8h1.1v1.1h-1.1zM289.2 109.0h1.1v1.1h-1.1zM335.7 70.0h1.1v1.1h-1.1zM317.8 72.2h1.1v1.1h-1.1zM316.5 86.8h1.1v1.1h-1.1zM278.7 107.2h1.1v1.1h-1.1zM299.7 94.4h1.1v1.1h-1.1zM320.2 41.4h1.1v1.1h-1.1zM304.7 43.3h1.1v1.1h-1.1zM303.4 76.9h1.1v1.1h-1.1zM315.9 78.6h1.1v1.1h-1.1zM294.7 82.0h1.1v1.1h-1.1zM316.7 72.1h1.1v1.1h-1.1zM319.7 59.2h1.1v1.1h-1.1zM316.7 61.5h1.1v1.1h-1.1zM304.1 72.5h1.1v1.1h-1.1zM317.2 56.0h1.1v1.1h-1.1zM321.7 55.6h1.1v1.1h-1.1zM317.1 47.3h1.1v1.1h-1.1zM323.8 73.9h1.1v1.1h-1.1zM314.1 62.5h1.1v1.1h-1.1zM337.6 62.2h1.1v1.1h-1.1zM286.9 33.0h1.1v1.1h-1.1zM324.8 78.1h1.1v1.1h-1.1zM310.7 76.4h1.1v1.1h-1.1zM318.2 72.2h1.1v1.1h-1.1zM322.8 50.1h1.1v1.1h-1.1zM290.7 87.9h1.1v1.1h-1.1zM291.0 81.4h1.1v1.1h-1.1zM299.7 66.1h1.1v1.1h-1.1zM302.2 47.6h1.1v1.1h-1.1zM289.3 108.1h1.1v1.1h-1.1zM346.8 56.3h1.1v1.1h-1.1zM301.3 46.5h1.1v1.1h-1.1zM291.1 77.6h1.1v1.1h-1.1zM339.8 51.3h1.1v1.1h-1.1zM321.0 45.9h1.1v1.1h-1.1zM304.3 44.8h1.1v1.1h-1.1zM288.2 75.2h1.1v1.1h-1.1zM307.4 65.1h1.1v1.1h-1.1zM287.8 72.4h1.1v1.1h-1.1zM329.6 64.8h1.1v1.1h-1.1zM315.4 57.8h1.1v1.1h-1.1zM320.2 47.2h1.1v1.1h-1.1zM306.3 81.3h1.1v1.1h-1.1zM301.3 62.8h1.1v1.1h-1.1zM329.3 63.8h1.1v1.1h-1.1zM301.1 47.1h1.1v1.1h-1.1zM289.5 46.4h1.1v1.1h-1.1zM322.5 62.3h1.1v1.1h-1.1zM315.7 57.3h1.1v1.1h-1.1zM298.5 67.5h1.1v1.1h-1.1zM329.9 41.9h1.1v1.1h-1.1zM318.1 63.2h1.1v1.1h-1.1zM296.9 73.5h1.1v1.1h-1.1zM296.5 74.4h1.1v1.1h-1.1zM330.8 55.8h1.1v1.1h-1.1zM316.8 48.9h1.1v1.1h-1.1zM322.2 63.9h1.1v1.1h-1.1zM339.6 35.3h1.1v1.1h-1.1zM306.5 71.9h1.1v1.1h-1.1zM302.3 88.4h1.1v1.1h-1.1zM322.5 39.3h1.1v1.1h-1.1zM336.2 67.5h1.1v1.1h-1.1zM275.0 105.4h1.1v1.1h-1.1zM271.5 103.3h1.1v1.1h-1.1zM279.2 100.7h1.1v1.1h-1.1zM270.1 102.6h1.1v1.1h-1.1zM282.7 101.9h1.1v1.1h-1.1zM273.6 112.2h1.1v1.1h-1.1zM274.6 94.4h1.1v1.1h-1.1zM279.8 104.8h1.1v1.1h-1.1zM272.0 108.6h1.1v1.1h-1.1zM282.4 108.1h1.1v1.1h-1.1zM286.2 99.4h1.1v1.1h-1.1zM281.8 104.1h1.1v1.1h-1.1zM275.4 109.0h1.1v1.1h-1.1zM287.3 96.0h1.1v1.1h-1.1zM277.0 106.4h1.1v1.1h-1.1zM264.6 103.6h1.1v1.1h-1.1zM272.4 100.5h1.1v1.1h-1.1zM273.3 101.4h1.1v1.1h-1.1zM287.8 96.2h1.1v1.1h-1.1zM277.2 98.2h1.1v1.1h-1.1zM283.1 98.3h1.1v1.1h-1.1zM283.9 98.9h1.1v1.1h-1.1zM282.3 99.9h1.1v1.1h-1.1zM265.4 108.4h1.1v1.1h-1.1zM260.1 108.8h1.1v1.1h-1.1zM278.1 100.7h1.1v1.1h-1.1zM271.3 101.0h1.1v1.1h-1.1zM273.1 106.6h1.1v1.1h-1.1zM293.9 88.5h1.1v1.1h-1.1zM272.1 100.1h1.1v1.1h-1.1zM283.0 102.7h1.1v1.1h-1.1zM275.0 106.1h1.1v1.1h-1.1zM271.6 109.0h1.1v1.1h-1.1zM273.7 105.9h1.1v1.1h-1.1zM292.6 104.3h1.1v1.1h-1.1zM270.0 105.7h1.1v1.1h-1.1zM269.1 108.5h1.1v1.1h-1.1zM271.0 106.6h1.1v1.1h-1.1zM271.4 95.9h1.1v1.1h-1.1zM258.6 104.0h1.1v1.1h-1.1zM278.1 98.0h1.1v1.1h-1.1zM263.3 109.0h1.1v1.1h-1.1zM274.3 106.1h1.1v1.1h-1.1zM262.6 112.7h1.1v1.1h-1.1zM274.5 103.6h1.1v1.1h-1.1zM276.7 102.5h1.1v1.1h-1.1zM270.8 106.1h1.1v1.1h-1.1zM275.3 107.4h1.1v1.1h-1.1zM264.6 104.7h1.1v1.1h-1.1zM281.9 97.8h1.1v1.1h-1.1zM278.3 103.4h1.1v1.1h-1.1zM280.1 103.3h1.1v1.1h-1.1zM280.3 105.3h1.1v1.1h-1.1zM288.0 105.4h1.1v1.1h-1.1zM271.6 110.0h1.1v1.1h-1.1zM276.1 101.2h1.1v1.1h-1.1zM273.6 105.1h1.1v1.1h-1.1zM257.7 113.5h1.1v1.1h-1.1zM269.1 105.7h1.1v1.1h-1.1zM268.1 103.8h1.1v1.1h-1.1zM264.4 109.5h1.1v1.1h-1.1zM268.4 98.5h1.1v1.1h-1.1zM296.0 93.1h1.1v1.1h-1.1zM278.2 96.8h1.1v1.1h-1.1zM276.6 101.0h1.1v1.1h-1.1zM284.1 108.2h1.1v1.1h-1.1zM274.6 105.0h1.1v1.1h-1.1zM275.0 102.1h1.1v1.1h-1.1zM277.2 113.3h1.1v1.1h-1.1zM284.6 107.7h1.1v1.1h-1.1zM277.5 111.1h1.1v1.1h-1.1zM269.8 110.8h1.1v1.1h-1.1zM268.3 101.2h1.1v1.1h-1.1zM281.6 107.7h1.1v1.1h-1.1zM280.2 104.9h1.1v1.1h-1.1zM275.9 101.6h1.1v1.1h-1.1zM273.0 106.5h1.1v1.1h-1.1zM271.1 104.9h1.1v1.1h-1.1zM267.6 109.7h1.1v1.1h-1.1zM282.5 101.7h1.1v1.1h-1.1zM286.4 103.0h1.1v1.1h-1.1zM279.8 104.5h1.1v1.1h-1.1zM286.5 104.8h1.1v1.1h-1.1zM270.9 103.4h1.1v1.1h-1.1zM274.7 107.9h1.1v1.1h-1.1zM265.2 107.3h1.1v1.1h-1.1zM279.9 104.1h1.1v1.1h-1.1zM270.4 104.1h1.1v1.1h-1.1zM272.5 103.2h1.1v1.1h-1.1zM278.9 103.6h1.1v1.1h-1.1zM280.7 97.5h1.1v1.1h-1.1zM283.8 100.9h1.1v1.1h-1.1zM271.2 103.9h1.1v1.1h-1.1zM276.3 103.5h1.1v1.1h-1.1zM265.1 108.1h1.1v1.1h-1.1zM289.7 109.7h1.1v1.1h-1.1zM271.6 105.4h1.1v1.1h-1.1zM275.7 103.1h1.1v1.1h-1.1zM266.7 100.7h1.1v1.1h-1.1zM274.6 103.9h1.1v1.1h-1.1zM291.4 100.1h1.1v1.1h-1.1zM278.6 99.9h1.1v1.1h-1.1zM288.1 94.8h1.1v1.1h-1.1zM291.5 102.5h1.1v1.1h-1.1zM283.3 100.9h1.1v1.1h-1.1zM278.6 105.7h1.1v1.1h-1.1zM273.5 105.2h1.1v1.1h-1.1zM281.2 100.9h1.1v1.1h-1.1zM271.4 102.4h1.1v1.1h-1.1zM284.0 97.5h1.1v1.1h-1.1zM262.3 110.6h1.1v1.1h-1.1zM267.0 106.3h1.1v1.1h-1.1zM285.5 106.6h1.1v1.1h-1.1zM268.3 104.0h1.1v1.1h-1.1zM285.0 99.5h1.1v1.1h-1.1zM274.7 102.0h1.1v1.1h-1.1zM270.5 111.4h1.1v1.1h-1.1zM287.6 98.2h1.1v1.1h-1.1zM273.4 101.8h1.1v1.1h-1.1zM274.9 95.8h1.1v1.1h-1.1zM266.4 109.9h1.1v1.1h-1.1zM271.5 103.4h1.1v1.1h-1.1zM281.3 102.3h1.1v1.1h-1.1zM264.2 108.5h1.1v1.1h-1.1zM278.9 99.9h1.1v1.1h-1.1zM281.7 105.3h1.1v1.1h-1.1zM280.4 104.9h1.1v1.1h-1.1zM263.8 110.1h1.1v1.1h-1.1zM280.6 103.5h1.1v1.1h-1.1zM266.6 109.3h1.1v1.1h-1.1zM283.6 106.3h1.1v1.1h-1.1zM255.0 109.3h1.1v1.1h-1.1zM286.3 97.4h1.1v1.1h-1.1zM285.5 102.4h1.1v1.1h-1.1zM276.5 107.3h1.1v1.1h-1.1zM288.3 101.4h1.1v1.1h-1.1zM271.2 103.3h1.1v1.1h-1.1zM284.3 113.8h1.1v1.1h-1.1zM263.2 107.7h1.1v1.1h-1.1zM280.5 112.4h1.1v1.1h-1.1zM272.1 100.6h1.1v1.1h-1.1zM283.8 103.4h1.1v1.1h-1.1zM281.7 101.8h1.1v1.1h-1.1zM276.0 101.9h1.1v1.1h-1.1zM279.5 106.2h1.1v1.1h-1.1zM280.6 101.3h1.1v1.1h-1.1zM268.3 110.3h1.1v1.1h-1.1zM286.1 40.7h1.1v1.1h-1.1zM342.2 86.8h1.1v1.1h-1.1zM293.9 95.9h1.1v1.1h-1.1zM309.9 59.0h1.1v1.1h-1.1zM288.9 80.1h1.1v1.1h-1.1zM269.1 73.8h1.1v1.1h-1.1zM320.5 40.7h1.1v1.1h-1.1zM315.4 80.4h1.1v1.1h-1.1zM334.6 70.8h1.1v1.1h-1.1zM273.7 58.2h1.1v1.1h-1.1zM262.5 84.2h1.1v1.1h-1.1zM287.8 59.7h1.1v1.1h-1.1zM259.8 88.6h1.1v1.1h-1.1zM274.6 77.5h1.1v1.1h-1.1zM322.7 80.0h1.1v1.1h-1.1zM285.4 93.4h1.1v1.1h-1.1zM294.2 70.1h1.1v1.1h-1.1zM294.6 83.5h1.1v1.1h-1.1zM290.3 51.1h1.1v1.1h-1.1zM294.6 55.8h1.1v1.1h-1.1zM285.1 81.7h1.1v1.1h-1.1zM313.3 94.1h1.1v1.1h-1.1zM274.2 77.4h1.1v1.1h-1.1zM308.8 40.0h1.1v1.1h-1.1zM297.1 65.8h1.1v1.1h-1.1zM267.6 95.6h1.1v1.1h-1.1zM327.2 70.0h1.1v1.1h-1.1zM322.9 71.8h1.1v1.1h-1.1zM276.8 72.7h1.1v1.1h-1.1zM298.4 99.8h1.1v1.1h-1.1zM287.8 46.1h1.1v1.1h-1.1zM332.6 39.5h1.1v1.1h-1.1zM336.6 47.7h1.1v1.1h-1.1zM284.5 56.4h1.1v1.1h-1.1zM300.3 76.9h1.1v1.1h-1.1zM292.3 68.0h1.1v1.1h-1.1zM332.8 58.9h1.1v1.1h-1.1zM271.6 88.5h1.1v1.1h-1.1zM292.6 67.0h1.1v1.1h-1.1zM275.8 106.6h1.1v1.1h-1.1zM334.5 39.8h1.1v1.1h-1.1zM273.3 72.8h1.1v1.1h-1.1zM300.7 96.5h1.1v1.1h-1.1zM274.9 102.5h1.1v1.1h-1.1zM338.3 61.7h1.1v1.1h-1.1zM313.0 77.3h1.1v1.1h-1.1zM274.5 91.1h1.1v1.1h-1.1zM338.0 43.6h1.1v1.1h-1.1zM285.8 59.7h1.1v1.1h-1.1zM279.2 60.2h1.1v1.1h-1.1zM326.6 50.4h1.1v1.1h-1.1zM309.8 85.0h1.1v1.1h-1.1zM273.4 107.0h1.1v1.1h-1.1zM332.0 38.5h1.1v1.1h-1.1zM294.0 106.1h1.1v1.1h-1.1zM302.3 96.1h1.1v1.1h-1.1zM331.0 50.8h1.1v1.1h-1.1zM330.8 44.3h1.1v1.1h-1.1zM283.2 98.0h1.1v1.1h-1.1zM269.0 101.1h1.1v1.1h-1.1zM303.6 68.5h1.1v1.1h-1.1zM290.7 70.2h1.1v1.1h-1.1zM277.7 68.8h1.1v1.1h-1.1zM318.3 66.1h1.1v1.1h-1.1zM322.0 96.7h1.1v1.1h-1.1zM311.8 88.9h1.1v1.1h-1.1zM310.6 94.7h1.1v1.1h-1.1zM323.5 91.0h1.1v1.1h-1.1zM320.2 77.4h1.1v1.1h-1.1zM338.5 62.6h1.1v1.1h-1.1zM308.5 83.8h1.1v1.1h-1.1zM314.3 81.3h1.1v1.1h-1.1zM294.0 104.4h1.1v1.1h-1.1zM289.5 50.2h1.1v1.1h-1.1zM267.2 91.3h1.1v1.1h-1.1zM288.1 94.4h1.1v1.1h-1.1zM331.5 92.4h1.1v1.1h-1.1zM278.9 63.1h1.1v1.1h-1.1zM326.2 60.2h1.1v1.1h-1.1zM332.1 49.6h1.1v1.1h-1.1zM335.4 54.7h1.1v1.1h-1.1zM296.0 34.0h1.1v1.1h-1.1zM315.6 98.4h1.1v1.1h-1.1zM275.4 100.2h1.1v1.1h-1.1zM333.7 37.9h1.1v1.1h-1.1zM306.1 49.9h1.1v1.1h-1.1zM328.7 77.5h1.1v1.1h-1.1zM346.4 45.2h1.1v1.1h-1.1zM300.5 73.2h1.1v1.1h-1.1zM336.3 87.9h1.1v1.1h-1.1zM323.1 35.1h1.1v1.1h-1.1zM338.4 44.7h1.1v1.1h-1.1zM273.1 72.7h1.1v1.1h-1.1zM312.7 58.2h1.1v1.1h-1.1zM298.1 100.2h1.1v1.1h-1.1zM343.0 55.0h1.1v1.1h-1.1zM293.6 93.8h1.1v1.1h-1.1zM298.1 88.9h1.1v1.1h-1.1zM282.7 96.5h1.1v1.1h-1.1zM325.4 96.3h1.1v1.1h-1.1zM339.6 73.1h1.1v1.1h-1.1zM322.1 81.7h1.1v1.1h-1.1zM297.4 33.1h1.1v1.1h-1.1zM310.4 42.9h1.1v1.1h-1.1zM292.5 41.8h1.1v1.1h-1.1zM322.7 50.9h1.1v1.1h-1.1zM288.9 58.0h1.1v1.1h-1.1zM313.3 74.5h1.1v1.1h-1.1zM297.7 62.3h1.1v1.1h-1.1zM281.3 102.9h1.1v1.1h-1.1zM287.3 74.7h1.1v1.1h-1.1zM311.2 94.0h1.1v1.1h-1.1zM330.5 50.6h1.1v1.1h-1.1zM322.2 50.4h1.1v1.1h-1.1zM279.6 94.2h1.1v1.1h-1.1zM344.7 76.2h1.1v1.1h-1.1zM278.6 84.0h1.1v1.1h-1.1zM272.8 62.2h1.1v1.1h-1.1zM315.0 40.3h1.1v1.1h-1.1zM320.5 49.3h1.1v1.1h-1.1zM266.9 87.1h1.1v1.1h-1.1zM311.4 34.6h1.1v1.1h-1.1zM294.9 79.9h1.1v1.1h-1.1zM301.5 69.3h1.1v1.1h-1.1zM292.6 59.3h1.1v1.1h-1.1zM284.8 98.9h1.1v1.1h-1.1zM257.0 105.5h1.1v1.1h-1.1zM238.4 100.3h1.1v1.1h-1.1zM342.2 68.3h1.1v1.1h-1.1zM278.5 91.5h1.1v1.1h-1.1zM233.7 92.5h1.1v1.1h-1.1zM278.0 115.5h1.1v1.1h-1.1zM241.2 115.6h1.1v1.1h-1.1zM308.3 102.1h1.1v1.1h-1.1zM274.5 74.4h1.1v1.1h-1.1zM275.7 88.3h1.1v1.1h-1.1zM313.1 75.3h1.1v1.1h-1.1zM296.0 113.5h1.1v1.1h-1.1zM255.2 76.8h1.1v1.1h-1.1zM309.2 74.9h1.1v1.1h-1.1zM284.2 38.0h1.1v1.1h-1.1zM287.0 110.6h1.1v1.1h-1.1zM289.7 49.3h1.1v1.1h-1.1zM286.5 93.9h1.1v1.1h-1.1zM239.9 95.0h1.1v1.1h-1.1zM296.8 97.6h1.1v1.1h-1.1zM276.9 88.5h1.1v1.1h-1.1zM266.3 47.3h1.1v1.1h-1.1zM282.6 70.6h1.1v1.1h-1.1zM239.6 115.9h1.1v1.1h-1.1zM268.7 72.6h1.1v1.1h-1.1zM261.9 36.0h1.1v1.1h-1.1zM254.1 35.0h1.1v1.1h-1.1zM331.1 67.5h1.1v1.1h-1.1zM237.4 103.9h1.1v1.1h-1.1zM340.6 42.2h1.1v1.1h-1.1zM289.8 75.5h1.1v1.1h-1.1zM297.8 57.5h1.1v1.1h-1.1zM287.3 104.9h1.1v1.1h-1.1zM257.4 62.4h1.1v1.1h-1.1zM242.9 100.6h1.1v1.1h-1.1zM241.7 45.2h1.1v1.1h-1.1zM252.5 60.0h1.1v1.1h-1.1zM288.5 36.4h1.1v1.1h-1.1zM335.6 90.8h1.1v1.1h-1.1zM338.8 110.2h1.1v1.1h-1.1zM344.0 66.2h1.1v1.1h-1.1zM274.4 39.3h1.1v1.1h-1.1z" fill="#606060"/>
<path d="M264.8 109.4h1.1v1.1h-1.1zM260.2 109.3h1.1v1.1h-1.1zM238.7 114.1h1.1v1.1h-1.1zM249.6 104.6h1.1v1.1h-1.1zM267.2 92.5h1.1v1.1h-1.1zM260.8 103.9h1.1v1.1h-1.1zM262.6 95.6h1.1v1.1h-1.1zM253.3 98.4h1.1v1.1h-1.1zM254.7 103.2h1.1v1.1h-1.1zM273.6 97.2h1.1v1.1h-1.1zM261.3 110.8h1.1v1.1h-1.1zM262.6 107.6h1.1v1.1h-1.1zM254.8 104.1h1.1v1.1h-1.1zM272.5 101.8h1.1v1.1h-1.1zM241.3 102.2h1.1v1.1h-1.1zM267.4 103.5h1.1v1.1h-1.1zM276.6 108.1h1.1v1.1h-1.1zM260.2 101.9h1.1v1.1h-1.1zM244.8 110.2h1.1v1.1h-1.1zM249.9 103.4h1.1v1.1h-1.1zM252.3 105.9h1.1v1.1h-1.1zM264.5 104.7h1.1v1.1h-1.1zM253.6 106.3h1.1v1.1h-1.1zM264.3 100.7h1.1v1.1h-1.1zM273.0 101.8h1.1v1.1h-1.1zM249.0 100.4h1.1v1.1h-1.1zM239.7 114.0h1.1v1.1h-1.1zM246.2 97.6h1.1v1.1h-1.1zM260.2 100.7h1.1v1.1h-1.1zM253.4 108.0h1.1v1.1h-1.1zM251.6 103.2h1.1v1.1h-1.1zM250.3 108.5h1.1v1.1h-1.1zM266.3 109.2h1.1v1.1h-1.1zM256.5 100.9h1.1v1.1h-1.1zM269.5 107.4h1.1v1.1h-1.1zM249.1 103.1h1.1v1.1h-1.1zM267.2 92.0h1.1v1.1h-1.1zM258.3 98.2h1.1v1.1h-1.1zM269.9 99.6h1.1v1.1h-1.1zM252.4 106.4h1.1v1.1h-1.1zM256.1 110.2h1.1v1.1h-1.1zM259.3 109.1h1.1v1.1h-1.1zM261.4 106.6h1.1v1.1h-1.1zM248.8 105.8h1.1v1.1h-1.1zM262.1 96.3h1.1v1.1h-1.1zM276.9 95.3h1.1v1.1h-1.1zM271.1 106.6h1.1v1.1h-1.1zM262.3 103.1h1.1v1.1h-1.1zM260.5 105.4h1.1v1.1h-1.1zM272.0 112.8h1.1v1.1h-1.1zM262.4 102.1h1.1v1.1h-1.1zM263.6 103.8h1.1v1.1h-1.1zM263.8 100.3h1.1v1.1h-1.1zM250.2 105.3h1.1v1.1h-1.1zM247.8 111.5h1.1v1.1h-1.1zM262.1 103.5h1.1v1.1h-1.1zM246.6 112.3h1.1v1.1h-1.1zM260.4 97.6h1.1v1.1h-1.1zM258.9 106.2h1.1v1.1h-1.1zM262.3 110.7h1.1v1.1h-1.1zM268.1 98.3h1.1v1.1h-1.1zM250.5 104.4h1.1v1.1h-1.1zM255.6 92.2h1.1v1.1h-1.1zM245.6 109.8h1.1v1.1h-1.1zM251.6 106.2h1.1v1.1h-1.1zM261.9 103.1h1.1v1.1h-1.1zM241.2 115.4h1.1v1.1h-1.1zM249.8 105.2h1.1v1.1h-1.1zM262.6 108.9h1.1v1.1h-1.1zM256.8 97.7h1.1v1.1h-1.1zM239.6 101.5h1.1v1.1h-1.1zM254.4 109.3h1.1v1.1h-1.1zM240.9 101.6h1.1v1.1h-1.1zM251.4 97.2h1.1v1.1h-1.1zM259.7 103.8h1.1v1.1h-1.1zM253.6 103.5h1.1v1.1h-1.1zM249.8 99.2h1.1v1.1h-1.1zM260.3 101.5h1.1v1.1h-1.1zM255.6 108.1h1.1v1.1h-1.1zM264.3 96.4h1.1v1.1h-1.1zM247.1 105.8h1.1v1.1h-1.1zM256.7 99.9h1.1v1.1h-1.1zM272.1 113.1h1.1v1.1h-1.1zM259.2 99.0h1.1v1.1h-1.1zM252.6 105.4h1.1v1.1h-1.1zM259.8 106.5h1.1v1.1h-1.1zM247.8 99.9h1.1v1.1h-1.1zM259.4 108.3h1.1v1.1h-1.1zM252.2 108.6h1.1v1.1h-1.1zM258.3 101.3h1.1v1.1h-1.1zM259.7 110.1h1.1v1.1h-1.1zM267.1 96.5h1.1v1.1h-1.1zM263.4 105.7h1.1v1.1h-1.1zM273.2 103.6h1.1v1.1h-1.1zM255.1 103.5h1.1v1.1h-1.1zM257.7 115.3h1.1v1.1h-1.1zM274.6 103.4h1.1v1.1h-1.1zM264.0 97.0h1.1v1.1h-1.1zM254.3 114.0h1.1v1.1h-1.1zM269.1 99.2h1.1v1.1h-1.1zM248.3 103.0h1.1v1.1h-1.1zM281.1 93.1h1.1v1.1h-1.1zM252.0 101.7h1.1v1.1h-1.1zM268.0 106.8h1.1v1.1h-1.1zM247.0 111.8h1.1v1.1h-1.1zM251.9 107.2h1.1v1.1h-1.1zM266.1 111.3h1.1v1.1h-1.1zM243.1 105.4h1.1v1.1h-1.1zM264.0 108.9h1.1v1.1h-1.1zM264.0 105.8h1.1v1.1h-1.1zM255.3 109.4h1.1v1.1h-1.1zM263.2 103.2h1.1v1.1h-1.1zM254.7 106.0h1.1v1.1h-1.1zM262.0 102.6h1.1v1.1h-1.1zM263.3 100.3h1.1v1.1h-1.1zM256.7 107.4h1.1v1.1h-1.1zM256.0 104.4h1.1v1.1h-1.1zM251.7 101.4h1.1v1.1h-1.1zM258.6 112.5h1.1v1.1h-1.1zM257.6 103.5h1.1v1.1h-1.1z" fill="#444"/>
<path d="M270.7 112.2h1.1v1.1h-1.1zM266.6 112.8h1.1v1.1h-1.1zM251.8 114.8h1.1v1.1h-1.1zM255.5 115.3h1.1v1.1h-1.1zM263.6 114.2h1.1v1.1h-1.1zM255.6 111.4h1.1v1.1h-1.1zM259.4 113.6h1.1v1.1h-1.1zM260.6 110.8h1.1v1.1h-1.1zM270.6 110.8h1.1v1.1h-1.1zM275.5 112.6h1.1v1.1h-1.1zM259.1 112.5h1.1v1.1h-1.1zM253.2 114.0h1.1v1.1h-1.1zM265.4 111.9h1.1v1.1h-1.1zM265.6 115.5h1.1v1.1h-1.1zM273.7 110.6h1.1v1.1h-1.1zM260.9 112.8h1.1v1.1h-1.1zM262.6 116.0h1.1v1.1h-1.1zM263.5 112.1h1.1v1.1h-1.1zM251.6 110.9h1.1v1.1h-1.1zM279.1 111.1h1.1v1.1h-1.1zM255.8 115.6h1.1v1.1h-1.1zM261.7 109.7h1.1v1.1h-1.1zM256.6 112.7h1.1v1.1h-1.1zM255.0 112.6h1.1v1.1h-1.1zM265.8 108.3h1.1v1.1h-1.1zM250.6 111.4h1.1v1.1h-1.1zM276.4 109.9h1.1v1.1h-1.1zM256.8 111.1h1.1v1.1h-1.1zM301.2 107.9h1.1v1.1h-1.1zM261.6 112.9h1.1v1.1h-1.1zM234.1 112.3h1.1v1.1h-1.1zM253.0 114.4h1.1v1.1h-1.1zM264.6 112.4h1.1v1.1h-1.1zM253.6 115.5h1.1v1.1h-1.1zM285.1 109.3h1.1v1.1h-1.1zM264.3 115.8h1.1v1.1h-1.1zM264.7 114.5h1.1v1.1h-1.1zM250.8 114.1h1.1v1.1h-1.1zM260.2 111.2h1.1v1.1h-1.1zM263.7 108.4h1.1v1.1h-1.1zM256.3 112.7h1.1v1.1h-1.1zM271.7 114.2h1.1v1.1h-1.1zM265.7 111.6h1.1v1.1h-1.1zM250.6 110.7h1.1v1.1h-1.1zM262.3 111.6h1.1v1.1h-1.1zM260.1 113.7h1.1v1.1h-1.1zM255.6 111.3h1.1v1.1h-1.1zM257.0 111.9h1.1v1.1h-1.1zM254.0 112.2h1.1v1.1h-1.1zM247.5 115.8h1.1v1.1h-1.1zM264.8 111.7h1.1v1.1h-1.1zM259.5 112.2h1.1v1.1h-1.1zM265.9 115.4h1.1v1.1h-1.1zM275.0 113.1h1.1v1.1h-1.1zM263.9 111.2h1.1v1.1h-1.1zM254.9 110.2h1.1v1.1h-1.1zM269.8 111.1h1.1v1.1h-1.1zM253.0 115.7h1.1v1.1h-1.1zM266.6 108.4h1.1v1.1h-1.1zM265.0 115.4h1.1v1.1h-1.1zM268.5 111.5h1.1v1.1h-1.1zM246.0 113.6h1.1v1.1h-1.1zM256.9 110.9h1.1v1.1h-1.1zM254.8 114.6h1.1v1.1h-1.1zM252.9 112.3h1.1v1.1h-1.1zM259.5 112.2h1.1v1.1h-1.1zM259.1 111.6h1.1v1.1h-1.1zM270.4 108.1h1.1v1.1h-1.1zM256.5 114.2h1.1v1.1h-1.1zM260.8 114.4h1.1v1.1h-1.1zM275.8 110.1h1.1v1.1h-1.1zM260.2 112.9h1.1v1.1h-1.1zM249.2 113.4h1.1v1.1h-1.1zM241.7 113.9h1.1v1.1h-1.1zM261.5 111.5h1.1v1.1h-1.1zM269.2 111.0h1.1v1.1h-1.1zM253.7 114.0h1.1v1.1h-1.1zM259.6 114.5h1.1v1.1h-1.1zM257.1 116.2h1.1v1.1h-1.1zM258.9 114.9h1.1v1.1h-1.1zM261.8 113.2h1.1v1.1h-1.1zM267.4 110.4h1.1v1.1h-1.1zM254.3 114.0h1.1v1.1h-1.1zM260.5 112.8h1.1v1.1h-1.1zM259.5 112.2h1.1v1.1h-1.1zM256.8 116.0h1.1v1.1h-1.1zM245.0 116.0h1.1v1.1h-1.1zM245.5 113.3h1.1v1.1h-1.1zM266.3 112.8h1.1v1.1h-1.1zM257.7 115.9h1.1v1.1h-1.1zM255.2 114.1h1.1v1.1h-1.1zM261.4 113.3h1.1v1.1h-1.1zM271.9 112.4h1.1v1.1h-1.1zM271.2 110.6h1.1v1.1h-1.1zM263.6 115.5h1.1v1.1h-1.1zM251.3 114.1h1.1v1.1h-1.1zM261.2 110.9h1.1v1.1h-1.1zM258.1 113.8h1.1v1.1h-1.1zM244.0 115.6h1.1v1.1h-1.1zM251.6 114.2h1.1v1.1h-1.1zM252.5 116.2h1.1v1.1h-1.1zM255.3 116.2h1.1v1.1h-1.1zM268.3 112.1h1.1v1.1h-1.1zM267.3 113.7h1.1v1.1h-1.1zM238.5 114.9h1.1v1.1h-1.1zM272.4 107.4h1.1v1.1h-1.1zM251.7 114.7h1.1v1.1h-1.1zM261.6 111.6h1.1v1.1h-1.1zM256.6 113.9h1.1v1.1h-1.1zM264.5 108.5h1.1v1.1h-1.1zM264.3 111.6h1.1v1.1h-1.1zM266.1 108.8h1.1v1.1h-1.1zM249.1 113.7h1.1v1.1h-1.1zM262.3 110.0h1.1v1.1h-1.1zM279.0 108.4h1.1v1.1h-1.1zM251.4 116.3h1.1v1.1h-1.1zM264.5 110.3h1.1v1.1h-1.1zM253.7 115.3h1.1v1.1h-1.1zM251.4 111.0h1.1v1.1h-1.1zM250.4 112.2h1.1v1.1h-1.1zM258.5 112.8h1.1v1.1h-1.1zM244.7 115.5h1.1v1.1h-1.1zM256.2 109.0h1.1v1.1h-1.1zM271.8 110.6h1.1v1.1h-1.1zM261.5 111.2h1.1v1.1h-1.1zM261.7 114.2h1.1v1.1h-1.1zM239.4 114.7h1.1v1.1h-1.1zM260.3 112.2h1.1v1.1h-1.1zM291.7 110.0h1.1v1.1h-1.1zM242.7 115.3h1.1v1.1h-1.1zM263.9 110.7h1.1v1.1h-1.1zM277.9 110.8h1.1v1.1h-1.1zM267.5 110.8h1.1v1.1h-1.1zM258.2 112.8h1.1v1.1h-1.1zM270.8 110.1h1.1v1.1h-1.1zM273.2 110.5h1.1v1.1h-1.1zM255.4 114.7h1.1v1.1h-1.1zM240.2 115.2h1.1v1.1h-1.1zM247.5 114.0h1.1v1.1h-1.1zM260.2 114.2h1.1v1.1h-1.1zM259.9 114.9h1.1v1.1h-1.1zM258.3 114.8h1.1v1.1h-1.1zM256.9 107.6h1.1v1.1h-1.1zM260.0 114.9h1.1v1.1h-1.1zM256.2 113.8h1.1v1.1h-1.1zM269.2 113.3h1.1v1.1h-1.1zM259.4 114.7h1.1v1.1h-1.1zM262.3 109.9h1.1v1.1h-1.1zM246.2 113.4h1.1v1.1h-1.1zM257.3 107.8h1.1v1.1h-1.1zM263.5 112.2h1.1v1.1h-1.1zM258.8 112.5h1.1v1.1h-1.1zM264.5 113.5h1.1v1.1h-1.1zM262.9 113.5h1.1v1.1h-1.1zM261.1 109.9h1.1v1.1h-1.1zM244.0 113.9h1.1v1.1h-1.1zM255.8 112.9h1.1v1.1h-1.1zM252.9 114.3h1.1v1.1h-1.1zM262.0 114.6h1.1v1.1h-1.1zM246.7 113.0h1.1v1.1h-1.1zM256.1 115.7h1.1v1.1h-1.1zM237.3 116.1h1.1v1.1h-1.1zM278.0 111.9h1.1v1.1h-1.1zM239.1 113.9h1.1v1.1h-1.1zM265.6 112.3h1.1v1.1h-1.1zM253.8 112.0h1.1v1.1h-1.1zM245.8 113.5h1.1v1.1h-1.1zM252.3 113.2h1.1v1.1h-1.1zM268.1 111.5h1.1v1.1h-1.1zM268.8 112.0h1.1v1.1h-1.1zM253.6 114.6h1.1v1.1h-1.1zM255.8 113.9h1.1v1.1h-1.1zM269.5 110.5h1.1v1.1h-1.1zM256.7 116.3h1.1v1.1h-1.1zM251.0 112.8h1.1v1.1h-1.1zM262.4 110.0h1.1v1.1h-1.1zM272.9 109.1h1.1v1.1h-1.1zM256.8 112.0h1.1v1.1h-1.1zM250.6 107.7h1.1v1.1h-1.1zM260.0 112.2h1.1v1.1h-1.1zM258.9 113.2h1.1v1.1h-1.1zM248.4 110.1h1.1v1.1h-1.1zM253.1 110.5h1.1v1.1h-1.1zM244.2 114.1h1.1v1.1h-1.1zM242.7 114.0h1.1v1.1h-1.1zM265.2 114.4h1.1v1.1h-1.1zM256.5 112.7h1.1v1.1h-1.1zM239.4 113.7h1.1v1.1h-1.1zM272.3 113.2h1.1v1.1h-1.1zM254.5 108.6h1.1v1.1h-1.1zM272.0 110.4h1.1v1.1h-1.1zM250.1 112.7h1.1v1.1h-1.1zM247.3 115.9h1.1v1.1h-1.1zM249.3 113.6h1.1v1.1h-1.1zM244.2 114.7h1.1v1.1h-1.1zM267.4 108.0h1.1v1.1h-1.1zM257.0 111.5h1.1v1.1h-1.1zM263.8 112.3h1.1v1.1h-1.1zM268.9 113.1h1.1v1.1h-1.1zM268.6 112.9h1.1v1.1h-1.1zM259.0 110.4h1.1v1.1h-1.1zM265.0 110.5h1.1v1.1h-1.1zM251.7 114.2h1.1v1.1h-1.1zM267.7 114.1h1.1v1.1h-1.1zM262.9 113.4h1.1v1.1h-1.1zM265.5 111.9h1.1v1.1h-1.1zM244.0 113.0h1.1v1.1h-1.1zM272.8 111.0h1.1v1.1h-1.1zM259.5 112.8h1.1v1.1h-1.1zM272.2 110.4h1.1v1.1h-1.1zM260.6 115.5h1.1v1.1h-1.1zM255.9 114.0h1.1v1.1h-1.1zM265.3 110.7h1.1v1.1h-1.1zM266.2 115.3h1.1v1.1h-1.1zM268.1 114.1h1.1v1.1h-1.1zM254.6 114.0h1.1v1.1h-1.1zM272.7 110.0h1.1v1.1h-1.1zM278.2 112.1h1.1v1.1h-1.1zM247.8 111.0h1.1v1.1h-1.1zM259.6 111.5h1.1v1.1h-1.1zM256.9 114.7h1.1v1.1h-1.1zM266.8 106.4h1.1v1.1h-1.1zM246.3 113.2h1.1v1.1h-1.1zM270.2 111.0h1.1v1.1h-1.1zM252.0 114.7h1.1v1.1h-1.1zM263.8 112.2h1.1v1.1h-1.1zM266.3 116.4h1.1v1.1h-1.1zM265.2 112.4h1.1v1.1h-1.1zM252.2 113.6h1.1v1.1h-1.1zM257.5 113.6h1.1v1.1h-1.1zM257.1 112.4h1.1v1.1h-1.1zM258.1 114.2h1.1v1.1h-1.1zM256.6 111.7h1.1v1.1h-1.1zM256.7 113.1h1.1v1.1h-1.1zM251.0 113.2h1.1v1.1h-1.1zM264.1 111.4h1.1v1.1h-1.1zM269.3 112.6h1.1v1.1h-1.1zM251.3 114.3h1.1v1.1h-1.1zM264.8 114.7h1.1v1.1h-1.1zM260.3 112.9h1.1v1.1h-1.1zM257.3 115.5h1.1v1.1h-1.1zM248.1 116.2h1.1v1.1h-1.1zM246.2 112.8h1.1v1.1h-1.1zM269.8 110.2h1.1v1.1h-1.1zM254.5 110.7h1.1v1.1h-1.1zM275.1 112.9h1.1v1.1h-1.1zM256.4 113.2h1.1v1.1h-1.1zM258.1 110.3h1.1v1.1h-1.1zM268.1 110.9h1.1v1.1h-1.1zM273.3 109.2h1.1v1.1h-1.1zM249.7 115.2h1.1v1.1h-1.1zM256.5 108.2h1.1v1.1h-1.1zM245.0 116.0h1.1v1.1h-1.1zM247.8 113.4h1.1v1.1h-1.1zM261.0 114.6h1.1v1.1h-1.1zM265.6 112.4h1.1v1.1h-1.1zM254.9 111.7h1.1v1.1h-1.1zM270.3 113.7h1.1v1.1h-1.1zM258.2 109.6h1.1v1.1h-1.1zM255.8 110.3h1.1v1.1h-1.1zM275.6 111.5h1.1v1.1h-1.1zM262.8 111.4h1.1v1.1h-1.1zM276.1 109.9h1.1v1.1h-1.1zM261.9 111.4h1.1v1.1h-1.1zM270.9 108.1h1.1v1.1h-1.1zM266.4 107.0h1.1v1.1h-1.1zM262.2 111.9h1.1v1.1h-1.1zM267.8 115.6h1.1v1.1h-1.1zM263.3 114.4h1.1v1.1h-1.1zM262.7 108.1h1.1v1.1h-1.1zM251.4 115.5h1.1v1.1h-1.1zM247.6 107.1h1.1v1.1h-1.1zM252.8 112.3h1.1v1.1h-1.1zM259.6 114.5h1.1v1.1h-1.1zM247.2 112.2h1.1v1.1h-1.1zM249.0 112.5h1.1v1.1h-1.1zM249.4 113.9h1.1v1.1h-1.1zM270.7 111.6h1.1v1.1h-1.1zM248.1 110.2h1.1v1.1h-1.1zM272.3 110.5h1.1v1.1h-1.1zM269.5 115.6h1.1v1.1h-1.1zM262.8 112.1h1.1v1.1h-1.1zM261.9 112.8h1.1v1.1h-1.1zM253.7 111.2h1.1v1.1h-1.1zM252.8 112.4h1.1v1.1h-1.1zM255.4 112.9h1.1v1.1h-1.1zM263.7 116.1h1.1v1.1h-1.1zM259.8 114.1h1.1v1.1h-1.1zM242.3 109.8h1.1v1.1h-1.1zM276.6 108.6h1.1v1.1h-1.1zM258.7 112.7h1.1v1.1h-1.1zM266.3 114.6h1.1v1.1h-1.1zM241.3 114.6h1.1v1.1h-1.1zM272.0 111.8h1.1v1.1h-1.1zM273.4 112.7h1.1v1.1h-1.1zM268.4 113.2h1.1v1.1h-1.1zM261.8 105.6h1.1v1.1h-1.1zM263.2 108.4h1.1v1.1h-1.1zM248.3 113.8h1.1v1.1h-1.1zM250.4 112.7h1.1v1.1h-1.1zM242.8 110.0h1.1v1.1h-1.1zM273.9 109.0h1.1v1.1h-1.1zM267.8 113.6h1.1v1.1h-1.1zM242.4 115.4h1.1v1.1h-1.1zM264.1 111.4h1.1v1.1h-1.1zM278.0 110.7h1.1v1.1h-1.1zM267.4 111.5h1.1v1.1h-1.1zM251.3 112.7h1.1v1.1h-1.1zM251.1 109.2h1.1v1.1h-1.1zM252.0 116.1h1.1v1.1h-1.1zM238.0 115.4h1.1v1.1h-1.1zM261.2 112.6h1.1v1.1h-1.1zM259.5 111.8h1.1v1.1h-1.1zM245.7 114.9h1.1v1.1h-1.1zM270.1 113.0h1.1v1.1h-1.1zM255.6 111.4h1.1v1.1h-1.1zM249.8 113.7h1.1v1.1h-1.1zM263.4 113.9h1.1v1.1h-1.1zM271.3 110.0h1.1v1.1h-1.1zM242.4 114.2h1.1v1.1h-1.1zM266.7 108.4h1.1v1.1h-1.1zM249.7 116.1h1.1v1.1h-1.1zM257.6 114.0h1.1v1.1h-1.1zM262.4 112.1h1.1v1.1h-1.1zM264.3 112.4h1.1v1.1h-1.1zM246.5 115.9h1.1v1.1h-1.1zM263.7 107.4h1.1v1.1h-1.1zM261.4 111.3h1.1v1.1h-1.1zM261.9 112.6h1.1v1.1h-1.1zM250.5 114.7h1.1v1.1h-1.1zM265.3 112.4h1.1v1.1h-1.1zM283.9 109.3h1.1v1.1h-1.1zM258.7 112.4h1.1v1.1h-1.1zM253.8 112.7h1.1v1.1h-1.1zM261.6 114.8h1.1v1.1h-1.1zM267.3 111.9h1.1v1.1h-1.1zM257.6 114.3h1.1v1.1h-1.1zM267.1 113.3h1.1v1.1h-1.1zM278.6 113.0h1.1v1.1h-1.1zM258.9 115.3h1.1v1.1h-1.1zM275.1 112.5h1.1v1.1h-1.1zM260.5 113.7h1.1v1.1h-1.1zM268.0 110.4h1.1v1.1h-1.1zM255.7 113.0h1.1v1.1h-1.1zM271.6 108.9h1.1v1.1h-1.1zM265.1 114.5h1.1v1.1h-1.1zM256.7 116.4h1.1v1.1h-1.1zM259.4 116.0h1.1v1.1h-1.1zM259.0 113.4h1.1v1.1h-1.1zM271.9 114.0h1.1v1.1h-1.1zM248.5 115.4h1.1v1.1h-1.1zM254.9 112.0h1.1v1.1h-1.1zM263.0 114.7h1.1v1.1h-1.1zM258.6 109.1h1.1v1.1h-1.1zM246.7 115.6h1.1v1.1h-1.1zM247.7 111.2h1.1v1.1h-1.1zM255.7 110.6h1.1v1.1h-1.1zM259.2 111.0h1.1v1.1h-1.1zM260.5 110.7h1.1v1.1h-1.1zM253.8 113.6h1.1v1.1h-1.1zM265.0 112.5h1.1v1.1h-1.1zM245.6 114.0h1.1v1.1h-1.1zM253.0 110.4h1.1v1.1h-1.1zM256.1 110.2h1.1v1.1h-1.1zM266.1 114.5h1.1v1.1h-1.1zM258.8 113.3h1.1v1.1h-1.1zM233.5 116.3h1.1v1.1h-1.1zM243.6 116.0h1.1v1.1h-1.1zM257.1 112.8h1.1v1.1h-1.1zM254.3 112.0h1.1v1.1h-1.1zM270.3 109.4h1.1v1.1h-1.1zM275.4 108.8h1.1v1.1h-1.1zM249.7 113.0h1.1v1.1h-1.1zM250.8 113.7h1.1v1.1h-1.1zM261.8 111.6h1.1v1.1h-1.1zM267.5 111.7h1.1v1.1h-1.1zM247.2 115.9h1.1v1.1h-1.1zM277.1 112.1h1.1v1.1h-1.1zM274.5 113.8h1.1v1.1h-1.1zM269.0 108.3h1.1v1.1h-1.1zM258.8 111.5h1.1v1.1h-1.1zM255.9 113.1h1.1v1.1h-1.1zM258.0 108.9h1.1v1.1h-1.1zM261.8 115.1h1.1v1.1h-1.1zM271.0 113.3h1.1v1.1h-1.1zM257.8 112.4h1.1v1.1h-1.1zM243.9 111.9h1.1v1.1h-1.1zM258.8 113.5h1.1v1.1h-1.1zM273.0 113.1h1.1v1.1h-1.1zM255.5 113.9h1.1v1.1h-1.1zM262.1 110.6h1.1v1.1h-1.1zM259.6 113.1h1.1v1.1h-1.1zM256.0 116.0h1.1v1.1h-1.1zM246.6 114.8h1.1v1.1h-1.1zM259.6 113.0h1.1v1.1h-1.1zM266.3 110.3h1.1v1.1h-1.1zM255.0 108.5h1.1v1.1h-1.1zM245.9 112.6h1.1v1.1h-1.1zM260.4 114.4h1.1v1.1h-1.1zM265.7 111.7h1.1v1.1h-1.1zM253.6 112.3h1.1v1.1h-1.1zM254.4 115.2h1.1v1.1h-1.1zM268.2 111.6h1.1v1.1h-1.1zM255.1 113.8h1.1v1.1h-1.1zM261.2 111.9h1.1v1.1h-1.1zM262.1 111.0h1.1v1.1h-1.1zM259.3 113.7h1.1v1.1h-1.1zM253.8 115.4h1.1v1.1h-1.1zM258.5 111.3h1.1v1.1h-1.1zM259.2 106.7h1.1v1.1h-1.1zM260.6 112.2h1.1v1.1h-1.1zM261.7 108.4h1.1v1.1h-1.1zM262.0 109.5h1.1v1.1h-1.1zM270.4 113.7h1.1v1.1h-1.1zM249.3 113.0h1.1v1.1h-1.1zM259.4 111.4h1.1v1.1h-1.1zM281.3 105.4h1.1v1.1h-1.1zM264.4 111.0h1.1v1.1h-1.1zM249.1 115.8h1.1v1.1h-1.1zM255.3 113.8h1.1v1.1h-1.1zM267.5 110.0h1.1v1.1h-1.1zM280.8 106.6h1.1v1.1h-1.1zM271.6 111.4h1.1v1.1h-1.1zM266.7 111.3h1.1v1.1h-1.1zM255.6 114.5h1.1v1.1h-1.1zM267.6 109.7h1.1v1.1h-1.1zM248.1 112.7h1.1v1.1h-1.1zM267.8 110.0h1.1v1.1h-1.1zM249.1 113.6h1.1v1.1h-1.1zM252.0 111.7h1.1v1.1h-1.1zM270.6 113.2h1.1v1.1h-1.1zM269.3 112.3h1.1v1.1h-1.1zM261.6 115.0h1.1v1.1h-1.1zM260.4 114.5h1.1v1.1h-1.1zM254.7 114.1h1.1v1.1h-1.1zM274.0 113.7h1.1v1.1h-1.1zM253.6 114.6h1.1v1.1h-1.1zM260.0 110.5h1.1v1.1h-1.1zM258.7 113.1h1.1v1.1h-1.1zM249.0 114.5h1.1v1.1h-1.1zM255.5 112.9h1.1v1.1h-1.1zM270.4 115.3h1.1v1.1h-1.1zM253.2 112.3h1.1v1.1h-1.1zM263.9 110.8h1.1v1.1h-1.1zM263.3 110.8h1.1v1.1h-1.1z" fill="#333"/>
<path d="M262.4 114.0h1.1v1.1h-1.1zM257.4 116.4h1.1v1.1h-1.1zM250.5 114.4h1.1v1.1h-1.1zM247.0 116.0h1.1v1.1h-1.1zM258.1 116.1h1.1v1.1h-1.1zM251.6 112.2h1.1v1.1h-1.1zM258.0 115.9h1.1v1.1h-1.1zM253.0 115.2h1.1v1.1h-1.1zM242.7 115.6h1.1v1.1h-1.1zM263.7 112.9h1.1v1.1h-1.1zM256.1 115.3h1.1v1.1h-1.1zM246.0 114.7h1.1v1.1h-1.1zM254.4 115.6h1.1v1.1h-1.1zM259.7 113.6h1.1v1.1h-1.1zM247.7 114.4h1.1v1.1h-1.1zM252.6 114.9h1.1v1.1h-1.1zM253.2 114.1h1.1v1.1h-1.1zM252.2 112.7h1.1v1.1h-1.1zM261.4 111.7h1.1v1.1h-1.1zM261.7 115.0h1.1v1.1h-1.1zM253.3 113.0h1.1v1.1h-1.1zM263.4 113.0h1.1v1.1h-1.1zM260.4 114.5h1.1v1.1h-1.1zM265.7 114.4h1.1v1.1h-1.1zM257.2 114.9h1.1v1.1h-1.1zM260.0 114.0h1.1v1.1h-1.1zM256.1 113.7h1.1v1.1h-1.1zM264.8 113.5h1.1v1.1h-1.1zM260.9 112.8h1.1v1.1h-1.1zM248.0 112.4h1.1v1.1h-1.1zM265.9 114.5h1.1v1.1h-1.1zM243.5 113.6h1.1v1.1h-1.1zM253.9 114.2h1.1v1.1h-1.1zM263.4 115.5h1.1v1.1h-1.1zM261.2 115.4h1.1v1.1h-1.1zM262.0 113.9h1.1v1.1h-1.1zM260.9 116.4h1.1v1.1h-1.1zM243.8 115.7h1.1v1.1h-1.1zM261.7 113.7h1.1v1.1h-1.1zM253.0 116.2h1.1v1.1h-1.1zM249.5 115.6h1.1v1.1h-1.1zM256.6 113.8h1.1v1.1h-1.1zM250.7 112.9h1.1v1.1h-1.1zM253.7 115.5h1.1v1.1h-1.1zM261.3 114.9h1.1v1.1h-1.1zM257.5 112.7h1.1v1.1h-1.1zM261.7 115.3h1.1v1.1h-1.1zM278.4 114.6h1.1v1.1h-1.1zM246.1 116.2h1.1v1.1h-1.1zM258.2 115.7h1.1v1.1h-1.1zM262.1 115.3h1.1v1.1h-1.1zM254.6 113.0h1.1v1.1h-1.1zM256.6 115.3h1.1v1.1h-1.1zM260.0 113.5h1.1v1.1h-1.1zM270.1 113.5h1.1v1.1h-1.1zM267.3 114.3h1.1v1.1h-1.1zM251.3 115.1h1.1v1.1h-1.1zM256.9 114.5h1.1v1.1h-1.1zM257.8 111.6h1.1v1.1h-1.1zM263.1 114.3h1.1v1.1h-1.1zM260.2 113.5h1.1v1.1h-1.1zM265.4 116.0h1.1v1.1h-1.1zM277.2 112.5h1.1v1.1h-1.1zM259.3 115.1h1.1v1.1h-1.1zM261.2 114.3h1.1v1.1h-1.1zM258.1 113.5h1.1v1.1h-1.1zM251.6 116.2h1.1v1.1h-1.1zM259.3 114.8h1.1v1.1h-1.1zM260.1 115.5h1.1v1.1h-1.1zM275.2 114.0h1.1v1.1h-1.1zM265.2 113.6h1.1v1.1h-1.1zM250.5 115.9h1.1v1.1h-1.1zM261.2 112.9h1.1v1.1h-1.1zM272.1 111.5h1.1v1.1h-1.1zM263.3 113.7h1.1v1.1h-1.1zM265.6 113.7h1.1v1.1h-1.1zM256.6 114.0h1.1v1.1h-1.1zM251.4 116.3h1.1v1.1h-1.1zM258.9 113.1h1.1v1.1h-1.1zM254.7 112.5h1.1v1.1h-1.1zM258.8 113.1h1.1v1.1h-1.1zM251.1 115.7h1.1v1.1h-1.1zM247.9 114.4h1.1v1.1h-1.1zM260.9 115.1h1.1v1.1h-1.1zM263.6 115.3h1.1v1.1h-1.1zM260.1 115.9h1.1v1.1h-1.1zM258.5 113.2h1.1v1.1h-1.1zM262.2 114.7h1.1v1.1h-1.1zM256.2 113.3h1.1v1.1h-1.1zM261.5 113.9h1.1v1.1h-1.1zM255.7 116.4h1.1v1.1h-1.1zM255.4 115.8h1.1v1.1h-1.1zM264.2 115.0h1.1v1.1h-1.1zM257.8 113.1h1.1v1.1h-1.1zM267.0 113.5h1.1v1.1h-1.1zM254.1 115.9h1.1v1.1h-1.1zM257.5 115.2h1.1v1.1h-1.1zM250.1 115.5h1.1v1.1h-1.1zM258.7 113.9h1.1v1.1h-1.1zM271.9 113.9h1.1v1.1h-1.1zM261.7 113.3h1.1v1.1h-1.1zM255.7 116.4h1.1v1.1h-1.1zM266.6 113.8h1.1v1.1h-1.1zM253.9 115.2h1.1v1.1h-1.1zM262.4 113.3h1.1v1.1h-1.1zM255.7 116.0h1.1v1.1h-1.1zM254.5 116.0h1.1v1.1h-1.1zM259.1 114.3h1.1v1.1h-1.1zM252.8 116.4h1.1v1.1h-1.1zM253.5 114.0h1.1v1.1h-1.1zM256.6 113.1h1.1v1.1h-1.1zM261.5 113.8h1.1v1.1h-1.1zM258.2 111.9h1.1v1.1h-1.1zM263.2 115.4h1.1v1.1h-1.1zM265.8 113.6h1.1v1.1h-1.1zM262.6 113.0h1.1v1.1h-1.1zM253.4 113.5h1.1v1.1h-1.1zM255.2 112.4h1.1v1.1h-1.1zM255.6 112.2h1.1v1.1h-1.1zM260.7 111.9h1.1v1.1h-1.1zM261.7 115.9h1.1v1.1h-1.1zM275.2 113.4h1.1v1.1h-1.1zM255.0 113.9h1.1v1.1h-1.1zM253.4 114.1h1.1v1.1h-1.1zM247.3 114.5h1.1v1.1h-1.1zM269.2 110.2h1.1v1.1h-1.1zM253.5 113.3h1.1v1.1h-1.1zM254.3 114.7h1.1v1.1h-1.1zM271.3 114.0h1.1v1.1h-1.1zM270.0 113.0h1.1v1.1h-1.1zM261.6 116.1h1.1v1.1h-1.1zM260.0 115.6h1.1v1.1h-1.1zM261.5 110.8h1.1v1.1h-1.1zM269.2 113.7h1.1v1.1h-1.1zM255.3 112.5h1.1v1.1h-1.1zM261.7 115.3h1.1v1.1h-1.1zM257.8 113.5h1.1v1.1h-1.1zM261.7 115.7h1.1v1.1h-1.1zM260.5 115.3h1.1v1.1h-1.1zM260.5 115.1h1.1v1.1h-1.1zM263.4 115.0h1.1v1.1h-1.1zM256.2 115.4h1.1v1.1h-1.1zM261.0 115.6h1.1v1.1h-1.1zM262.9 114.6h1.1v1.1h-1.1zM268.3 114.3h1.1v1.1h-1.1zM263.3 115.2h1.1v1.1h-1.1zM264.6 115.6h1.1v1.1h-1.1zM267.9 113.2h1.1v1.1h-1.1zM261.7 114.7h1.1v1.1h-1.1zM267.6 114.9h1.1v1.1h-1.1zM259.3 111.6h1.1v1.1h-1.1zM252.0 115.7h1.1v1.1h-1.1zM247.9 115.6h1.1v1.1h-1.1zM253.8 114.2h1.1v1.1h-1.1zM253.9 115.4h1.1v1.1h-1.1zM259.7 114.1h1.1v1.1h-1.1zM252.5 115.9h1.1v1.1h-1.1zM255.6 114.3h1.1v1.1h-1.1zM256.3 113.9h1.1v1.1h-1.1zM257.1 115.9h1.1v1.1h-1.1zM279.5 115.1h1.1v1.1h-1.1zM271.1 114.6h1.1v1.1h-1.1zM251.9 111.8h1.1v1.1h-1.1zM251.1 114.1h1.1v1.1h-1.1zM250.4 115.8h1.1v1.1h-1.1zM256.1 115.5h1.1v1.1h-1.1zM248.0 114.0h1.1v1.1h-1.1zM272.0 112.8h1.1v1.1h-1.1zM254.5 114.2h1.1v1.1h-1.1zM254.4 114.5h1.1v1.1h-1.1zM264.7 112.0h1.1v1.1h-1.1zM254.0 115.8h1.1v1.1h-1.1zM263.2 113.0h1.1v1.1h-1.1zM266.6 114.8h1.1v1.1h-1.1zM255.2 115.1h1.1v1.1h-1.1zM260.7 113.5h1.1v1.1h-1.1z" fill="#111"/>
<path d="M410.4 101.1h1.1v1.1h-1.1zM409.2 95.4h1.1v1.1h-1.1zM427.5 99.0h1.1v1.1h-1.1zM412.7 98.2h1.1v1.1h-1.1zM405.3 98.6h1.1v1.1h-1.1zM392.6 101.5h1.1v1.1h-1.1zM398.4 96.8h1.1v1.1h-1.1zM434.1 100.5h1.1v1.1h-1.1zM403.0 102.4h1.1v1.1h-1.1zM408.4 108.7h1.1v1.1h-1.1zM413.8 101.5h1.1v1.1h-1.1zM421.2 102.7h1.1v1.1h-1.1zM388.8 107.5h1.1v1.1h-1.1zM414.2 94.6h1.1v1.1h-1.1zM414.5 100.7h1.1v1.1h-1.1zM419.2 98.4h1.1v1.1h-1.1zM408.2 92.8h1.1v1.1h-1.1zM410.0 113.5h1.1v1.1h-1.1zM402.4 102.1h1.1v1.1h-1.1zM432.1 88.0h1.1v1.1h-1.1zM410.5 96.0h1.1v1.1h-1.1zM411.6 102.8h1.1v1.1h-1.1zM405.6 94.0h1.1v1.1h-1.1zM410.6 101.1h1.1v1.1h-1.1zM404.2 106.8h1.1v1.1h-1.1zM402.0 112.8h1.1v1.1h-1.1zM403.9 107.2h1.1v1.1h-1.1zM413.8 101.0h1.1v1.1h-1.1zM410.1 110.1h1.1v1.1h-1.1zM423.0 90.1h1.1v1.1h-1.1zM401.9 94.1h1.1v1.1h-1.1zM395.4 110.8h1.1v1.1h-1.1zM406.4 98.3h1.1v1.1h-1.1zM396.5 98.8h1.1v1.1h-1.1zM406.1 104.7h1.1v1.1h-1.1zM420.4 89.2h1.1v1.1h-1.1zM397.2 102.7h1.1v1.1h-1.1zM403.0 90.9h1.1v1.1h-1.1zM413.0 94.0h1.1v1.1h-1.1zM400.6 95.6h1.1v1.1h-1.1zM405.0 98.8h1.1v1.1h-1.1zM401.4 105.6h1.1v1.1h-1.1zM416.0 95.8h1.1v1.1h-1.1zM438.1 102.6h1.1v1.1h-1.1zM418.7 104.7h1.1v1.1h-1.1zM415.1 95.3h1.1v1.1h-1.1zM425.5 90.6h1.1v1.1h-1.1zM389.7 105.3h1.1v1.1h-1.1zM400.0 96.5h1.1v1.1h-1.1zM412.5 108.1h1.1v1.1h-1.1zM414.0 109.7h1.1v1.1h-1.1zM408.3 94.9h1.1v1.1h-1.1zM399.6 111.1h1.1v1.1h-1.1zM404.2 106.0h1.1v1.1h-1.1zM400.6 112.0h1.1v1.1h-1.1zM416.7 97.1h1.1v1.1h-1.1zM402.0 100.5h1.1v1.1h-1.1zM416.0 102.8h1.1v1.1h-1.1zM428.4 90.9h1.1v1.1h-1.1zM416.9 98.0h1.1v1.1h-1.1zM425.7 95.8h1.1v1.1h-1.1zM415.6 98.4h1.1v1.1h-1.1zM418.2 107.3h1.1v1.1h-1.1zM418.5 102.8h1.1v1.1h-1.1zM412.1 100.5h1.1v1.1h-1.1zM401.2 107.9h1.1v1.1h-1.1zM414.3 106.8h1.1v1.1h-1.1zM399.1 112.5h1.1v1.1h-1.1zM413.3 98.4h1.1v1.1h-1.1zM424.2 92.8h1.1v1.1h-1.1zM413.0 107.1h1.1v1.1h-1.1zM401.6 102.8h1.1v1.1h-1.1zM410.9 97.7h1.1v1.1h-1.1zM404.1 110.4h1.1v1.1h-1.1zM405.3 106.1h1.1v1.1h-1.1zM407.2 94.6h1.1v1.1h-1.1zM399.4 100.8h1.1v1.1h-1.1zM418.3 99.6h1.1v1.1h-1.1zM410.2 101.7h1.1v1.1h-1.1zM410.6 109.3h1.1v1.1h-1.1zM400.4 103.6h1.1v1.1h-1.1zM413.6 101.2h1.1v1.1h-1.1zM411.4 101.2h1.1v1.1h-1.1zM406.7 109.7h1.1v1.1h-1.1zM408.5 101.0h1.1v1.1h-1.1zM393.9 97.4h1.1v1.1h-1.1zM416.6 99.2h1.1v1.1h-1.1zM423.0 101.3h1.1v1.1h-1.1zM424.8 102.1h1.1v1.1h-1.1zM409.6 111.3h1.1v1.1h-1.1zM391.1 114.2h1.1v1.1h-1.1zM410.8 112.9h1.1v1.1h-1.1zM403.3 99.5h1.1v1.1h-1.1zM413.8 98.3h1.1v1.1h-1.1zM409.7 98.9h1.1v1.1h-1.1zM410.4 97.7h1.1v1.1h-1.1zM415.5 101.0h1.1v1.1h-1.1z" fill="#777"/>
<path d="M476.7 64.4h1.1v1.1h-1.1zM463.0 78.2h1.1v1.1h-1.1zM468.6 72.0h1.1v1.1h-1.1zM463.6 81.8h1.1v1.1h-1.1zM458.2 87.4h1.1v1.1h-1.1zM482.7 74.0h1.1v1.1h-1.1zM444.2 111.9h1.1v1.1h-1.1zM473.9 88.6h1.1v1.1h-1.1zM462.4 93.2h1.1v1.1h-1.1zM461.5 83.9h1.1v1.1h-1.1zM474.3 63.5h1.1v1.1h-1.1zM487.5 50.8h1.1v1.1h-1.1zM468.6 72.1h1.1v1.1h-1.1zM465.7 83.6h1.1v1.1h-1.1zM450.1 98.9h1.1v1.1h-1.1zM458.5 107.0h1.1v1.1h-1.1zM428.0 76.3h1.1v1.1h-1.1zM443.7 100.7h1.1v1.1h-1.1zM492.3 57.9h1.1v1.1h-1.1zM460.6 58.2h1.1v1.1h-1.1zM448.2 91.2h1.1v1.1h-1.1zM439.2 95.9h1.1v1.1h-1.1zM458.5 112.8h1.1v1.1h-1.1zM474.1 51.0h1.1v1.1h-1.1zM430.1 87.0h1.1v1.1h-1.1zM389.6 115.4h1.1v1.1h-1.1zM455.6 48.9h1.1v1.1h-1.1zM483.4 59.0h1.1v1.1h-1.1zM474.4 75.4h1.1v1.1h-1.1zM503.9 49.3h1.1v1.1h-1.1zM435.0 109.0h1.1v1.1h-1.1zM462.0 50.3h1.1v1.1h-1.1zM460.2 74.4h1.1v1.1h-1.1zM483.1 66.4h1.1v1.1h-1.1zM454.9 90.6h1.1v1.1h-1.1zM462.7 84.0h1.1v1.1h-1.1zM446.9 69.8h1.1v1.1h-1.1zM472.3 94.2h1.1v1.1h-1.1zM451.4 94.2h1.1v1.1h-1.1zM497.5 53.4h1.1v1.1h-1.1zM462.3 52.3h1.1v1.1h-1.1zM469.5 68.8h1.1v1.1h-1.1zM432.3 105.4h1.1v1.1h-1.1zM453.8 93.7h1.1v1.1h-1.1zM475.3 108.7h1.1v1.1h-1.1zM436.2 102.5h1.1v1.1h-1.1zM442.1 68.4h1.1v1.1h-1.1zM455.3 54.5h1.1v1.1h-1.1zM458.3 91.6h1.1v1.1h-1.1zM423.1 114.6h1.1v1.1h-1.1zM471.1 103.6h1.1v1.1h-1.1zM473.4 73.1h1.1v1.1h-1.1zM451.5 93.5h1.1v1.1h-1.1zM475.8 73.0h1.1v1.1h-1.1zM487.3 51.9h1.1v1.1h-1.1zM445.3 89.8h1.1v1.1h-1.1zM448.0 72.5h1.1v1.1h-1.1zM447.8 90.2h1.1v1.1h-1.1zM456.1 90.4h1.1v1.1h-1.1zM465.9 64.0h1.1v1.1h-1.1zM483.0 63.1h1.1v1.1h-1.1zM451.8 111.7h1.1v1.1h-1.1zM473.8 65.9h1.1v1.1h-1.1zM457.7 87.7h1.1v1.1h-1.1zM477.7 49.8h1.1v1.1h-1.1zM489.0 50.7h1.1v1.1h-1.1zM482.0 73.0h1.1v1.1h-1.1zM406.6 103.2h1.1v1.1h-1.1zM440.5 92.1h1.1v1.1h-1.1zM495.7 56.9h1.1v1.1h-1.1zM452.7 97.0h1.1v1.1h-1.1zM424.1 107.2h1.1v1.1h-1.1zM454.6 81.8h1.1v1.1h-1.1zM463.5 53.1h1.1v1.1h-1.1zM470.3 49.3h1.1v1.1h-1.1zM443.1 83.6h1.1v1.1h-1.1zM456.8 115.5h1.1v1.1h-1.1zM465.8 90.9h1.1v1.1h-1.1zM484.9 47.7h1.1v1.1h-1.1zM454.9 82.8h1.1v1.1h-1.1zM451.9 91.6h1.1v1.1h-1.1zM474.4 102.6h1.1v1.1h-1.1zM467.2 66.0h1.1v1.1h-1.1zM474.3 46.1h1.1v1.1h-1.1zM468.0 78.2h1.1v1.1h-1.1zM414.3 101.1h1.1v1.1h-1.1zM460.1 105.4h1.1v1.1h-1.1zM447.6 83.6h1.1v1.1h-1.1zM446.4 78.1h1.1v1.1h-1.1zM477.6 76.9h1.1v1.1h-1.1zM503.9 41.6h1.1v1.1h-1.1zM500.9 34.0h1.1v1.1h-1.1zM479.9 62.6h1.1v1.1h-1.1zM446.3 93.3h1.1v1.1h-1.1zM428.5 80.6h1.1v1.1h-1.1zM452.2 87.7h1.1v1.1h-1.1zM452.2 115.1h1.1v1.1h-1.1zM478.2 58.5h1.1v1.1h-1.1zM502.1 38.8h1.1v1.1h-1.1zM453.9 79.4h1.1v1.1h-1.1zM437.8 100.1h1.1v1.1h-1.1zM484.9 51.8h1.1v1.1h-1.1zM474.1 56.3h1.1v1.1h-1.1zM451.7 103.4h1.1v1.1h-1.1zM480.9 66.3h1.1v1.1h-1.1zM457.6 90.1h1.1v1.1h-1.1zM463.0 56.1h1.1v1.1h-1.1zM441.1 74.1h1.1v1.1h-1.1zM467.5 84.0h1.1v1.1h-1.1zM480.8 79.1h1.1v1.1h-1.1zM458.3 88.1h1.1v1.1h-1.1zM458.8 71.1h1.1v1.1h-1.1zM475.6 60.2h1.1v1.1h-1.1zM407.9 86.5h1.1v1.1h-1.1zM477.2 95.6h1.1v1.1h-1.1zM454.2 102.1h1.1v1.1h-1.1zM435.7 108.4h1.1v1.1h-1.1zM430.1 81.4h1.1v1.1h-1.1zM443.3 112.7h1.1v1.1h-1.1zM468.8 54.9h1.1v1.1h-1.1zM436.5 105.0h1.1v1.1h-1.1zM480.4 78.8h1.1v1.1h-1.1zM464.5 89.8h1.1v1.1h-1.1zM470.8 61.2h1.1v1.1h-1.1zM453.3 106.3h1.1v1.1h-1.1zM415.2 102.8h1.1v1.1h-1.1zM474.3 73.1h1.1v1.1h-1.1zM467.5 78.9h1.1v1.1h-1.1zM460.0 68.2h1.1v1.1h-1.1zM449.2 78.2h1.1v1.1h-1.1zM448.7 91.9h1.1v1.1h-1.1zM476.5 92.6h1.1v1.1h-1.1zM443.3 75.3h1.1v1.1h-1.1zM463.1 69.5h1.1v1.1h-1.1zM461.1 101.3h1.1v1.1h-1.1zM480.6 70.8h1.1v1.1h-1.1zM448.5 94.2h1.1v1.1h-1.1zM461.8 89.2h1.1v1.1h-1.1zM437.3 96.5h1.1v1.1h-1.1zM437.6 94.0h1.1v1.1h-1.1zM433.0 70.7h1.1v1.1h-1.1zM417.3 99.3h1.1v1.1h-1.1zM450.1 89.5h1.1v1.1h-1.1zM465.8 65.4h1.1v1.1h-1.1zM495.7 55.0h1.1v1.1h-1.1zM484.7 64.6h1.1v1.1h-1.1zM453.0 87.4h1.1v1.1h-1.1zM449.2 91.2h1.1v1.1h-1.1zM429.8 77.1h1.1v1.1h-1.1zM439.7 109.0h1.1v1.1h-1.1zM442.7 109.5h1.1v1.1h-1.1zM472.1 63.5h1.1v1.1h-1.1zM454.3 82.1h1.1v1.1h-1.1zM462.8 72.3h1.1v1.1h-1.1zM443.3 101.8h1.1v1.1h-1.1zM440.7 93.6h1.1v1.1h-1.1zM478.4 78.4h1.1v1.1h-1.1zM459.8 37.2h1.1v1.1h-1.1zM447.7 96.9h1.1v1.1h-1.1zM457.2 88.5h1.1v1.1h-1.1zM473.9 42.3h1.1v1.1h-1.1zM502.4 64.2h1.1v1.1h-1.1zM429.8 108.7h1.1v1.1h-1.1zM423.7 93.6h1.1v1.1h-1.1zM470.4 83.1h1.1v1.1h-1.1zM425.8 104.8h1.1v1.1h-1.1zM449.4 76.6h1.1v1.1h-1.1zM480.6 81.4h1.1v1.1h-1.1zM499.7 34.0h1.1v1.1h-1.1zM457.3 75.4h1.1v1.1h-1.1zM454.4 52.5h1.1v1.1h-1.1zM466.5 78.7h1.1v1.1h-1.1zM465.7 66.3h1.1v1.1h-1.1zM479.4 63.4h1.1v1.1h-1.1zM453.3 96.4h1.1v1.1h-1.1zM475.7 79.6h1.1v1.1h-1.1zM459.2 75.0h1.1v1.1h-1.1zM457.9 76.3h1.1v1.1h-1.1zM443.0 90.3h1.1v1.1h-1.1zM496.2 69.8h1.1v1.1h-1.1zM462.0 76.3h1.1v1.1h-1.1zM454.1 97.8h1.1v1.1h-1.1zM506.4 55.2h1.1v1.1h-1.1zM483.5 59.8h1.1v1.1h-1.1zM463.9 69.1h1.1v1.1h-1.1zM435.4 93.0h1.1v1.1h-1.1zM433.4 92.4h1.1v1.1h-1.1zM460.1 71.8h1.1v1.1h-1.1zM407.8 113.3h1.1v1.1h-1.1zM477.3 63.4h1.1v1.1h-1.1zM438.8 110.6h1.1v1.1h-1.1zM461.9 57.7h1.1v1.1h-1.1zM487.3 79.0h1.1v1.1h-1.1zM468.2 74.9h1.1v1.1h-1.1zM439.7 83.5h1.1v1.1h-1.1zM459.8 73.3h1.1v1.1h-1.1zM467.1 75.3h1.1v1.1h-1.1zM447.5 93.8h1.1v1.1h-1.1zM478.1 75.8h1.1v1.1h-1.1zM449.6 58.8h1.1v1.1h-1.1zM446.7 100.5h1.1v1.1h-1.1zM469.0 95.0h1.1v1.1h-1.1zM444.5 112.5h1.1v1.1h-1.1zM473.3 72.7h1.1v1.1h-1.1zM455.6 81.8h1.1v1.1h-1.1zM480.7 37.7h1.1v1.1h-1.1zM450.6 90.5h1.1v1.1h-1.1zM449.4 99.5h1.1v1.1h-1.1zM451.4 101.0h1.1v1.1h-1.1zM465.1 77.7h1.1v1.1h-1.1zM470.6 71.8h1.1v1.1h-1.1zM473.6 81.0h1.1v1.1h-1.1zM469.0 76.5h1.1v1.1h-1.1zM428.7 98.6h1.1v1.1h-1.1zM465.2 98.9h1.1v1.1h-1.1zM442.7 93.0h1.1v1.1h-1.1zM467.5 53.7h1.1v1.1h-1.1zM481.5 71.9h1.1v1.1h-1.1zM477.5 64.7h1.1v1.1h-1.1zM468.5 58.4h1.1v1.1h-1.1zM452.6 85.4h1.1v1.1h-1.1zM472.9 55.1h1.1v1.1h-1.1zM498.2 60.1h1.1v1.1h-1.1zM470.0 91.1h1.1v1.1h-1.1zM444.0 95.7h1.1v1.1h-1.1zM502.2 82.6h1.1v1.1h-1.1zM466.5 58.7h1.1v1.1h-1.1zM459.5 54.5h1.1v1.1h-1.1zM462.1 63.0h1.1v1.1h-1.1zM471.2 58.8h1.1v1.1h-1.1zM484.7 88.2h1.1v1.1h-1.1zM456.6 69.9h1.1v1.1h-1.1zM444.9 91.4h1.1v1.1h-1.1zM455.3 74.7h1.1v1.1h-1.1zM503.5 33.5h1.1v1.1h-1.1zM433.7 111.1h1.1v1.1h-1.1zM460.8 75.3h1.1v1.1h-1.1zM476.7 62.0h1.1v1.1h-1.1zM421.0 110.3h1.1v1.1h-1.1zM463.6 80.6h1.1v1.1h-1.1zM460.0 78.0h1.1v1.1h-1.1zM491.4 85.8h1.1v1.1h-1.1zM446.6 97.8h1.1v1.1h-1.1zM475.7 79.0h1.1v1.1h-1.1zM464.5 85.3h1.1v1.1h-1.1zM439.3 103.7h1.1v1.1h-1.1zM478.5 56.6h1.1v1.1h-1.1zM465.9 73.7h1.1v1.1h-1.1zM442.2 75.6h1.1v1.1h-1.1zM401.6 112.8h1.1v1.1h-1.1zM459.2 89.0h1.1v1.1h-1.1zM472.6 51.8h1.1v1.1h-1.1zM450.0 73.5h1.1v1.1h-1.1zM445.4 95.6h1.1v1.1h-1.1zM419.2 101.4h1.1v1.1h-1.1zM412.9 112.8h1.1v1.1h-1.1zM475.4 92.5h1.1v1.1h-1.1zM430.5 74.7h1.1v1.1h-1.1zM438.6 95.0h1.1v1.1h-1.1zM441.8 114.2h1.1v1.1h-1.1zM408.8 74.2h1.1v1.1h-1.1zM440.7 107.1h1.1v1.1h-1.1zM443.9 49.5h1.1v1.1h-1.1zM503.7 55.0h1.1v1.1h-1.1zM473.6 58.0h1.1v1.1h-1.1zM454.6 89.5h1.1v1.1h-1.1zM439.6 82.4h1.1v1.1h-1.1zM452.3 94.0h1.1v1.1h-1.1zM459.3 74.7h1.1v1.1h-1.1zM466.2 67.7h1.1v1.1h-1.1zM445.0 97.9h1.1v1.1h-1.1zM466.6 73.7h1.1v1.1h-1.1zM462.1 78.0h1.1v1.1h-1.1zM466.0 86.7h1.1v1.1h-1.1zM467.9 86.7h1.1v1.1h-1.1zM469.2 85.2h1.1v1.1h-1.1zM449.9 70.8h1.1v1.1h-1.1zM464.3 100.7h1.1v1.1h-1.1zM403.7 100.4h1.1v1.1h-1.1zM463.7 71.2h1.1v1.1h-1.1zM462.9 70.5h1.1v1.1h-1.1zM457.2 94.0h1.1v1.1h-1.1zM468.3 86.4h1.1v1.1h-1.1zM473.1 83.7h1.1v1.1h-1.1zM464.5 94.0h1.1v1.1h-1.1zM464.6 72.7h1.1v1.1h-1.1zM471.0 73.0h1.1v1.1h-1.1zM491.7 88.6h1.1v1.1h-1.1zM458.8 61.6h1.1v1.1h-1.1zM464.4 73.5h1.1v1.1h-1.1zM472.2 68.5h1.1v1.1h-1.1zM455.9 52.5h1.1v1.1h-1.1zM441.7 109.8h1.1v1.1h-1.1zM450.1 59.7h1.1v1.1h-1.1zM437.3 94.8h1.1v1.1h-1.1zM476.6 76.6h1.1v1.1h-1.1zM473.0 46.0h1.1v1.1h-1.1zM483.4 56.6h1.1v1.1h-1.1zM482.2 53.8h1.1v1.1h-1.1zM431.1 88.4h1.1v1.1h-1.1zM424.7 103.9h1.1v1.1h-1.1zM436.3 102.3h1.1v1.1h-1.1zM475.2 57.7h1.1v1.1h-1.1zM405.6 103.4h1.1v1.1h-1.1zM459.3 87.4h1.1v1.1h-1.1zM468.5 70.1h1.1v1.1h-1.1zM470.8 86.7h1.1v1.1h-1.1zM506.2 37.5h1.1v1.1h-1.1zM425.3 102.6h1.1v1.1h-1.1zM473.6 61.0h1.1v1.1h-1.1zM480.9 40.4h1.1v1.1h-1.1zM466.7 107.0h1.1v1.1h-1.1zM468.9 70.1h1.1v1.1h-1.1zM451.3 85.3h1.1v1.1h-1.1zM455.1 90.3h1.1v1.1h-1.1zM462.7 67.4h1.1v1.1h-1.1zM462.9 61.5h1.1v1.1h-1.1zM470.4 99.0h1.1v1.1h-1.1zM485.7 95.6h1.1v1.1h-1.1zM466.0 74.7h1.1v1.1h-1.1zM506.4 64.1h1.1v1.1h-1.1zM462.5 88.0h1.1v1.1h-1.1zM456.2 84.8h1.1v1.1h-1.1zM434.9 92.9h1.1v1.1h-1.1zM466.9 43.7h1.1v1.1h-1.1zM428.3 108.0h1.1v1.1h-1.1zM474.2 58.4h1.1v1.1h-1.1zM478.4 51.7h1.1v1.1h-1.1zM472.0 70.7h1.1v1.1h-1.1zM436.7 48.4h1.1v1.1h-1.1zM470.3 68.9h1.1v1.1h-1.1zM448.6 57.2h1.1v1.1h-1.1zM477.0 74.5h1.1v1.1h-1.1zM428.7 96.6h1.1v1.1h-1.1zM440.7 109.5h1.1v1.1h-1.1zM493.3 31.4h1.1v1.1h-1.1zM461.3 91.3h1.1v1.1h-1.1zM455.7 63.5h1.1v1.1h-1.1zM455.1 60.8h1.1v1.1h-1.1zM483.0 60.6h1.1v1.1h-1.1zM458.3 97.4h1.1v1.1h-1.1zM465.2 66.2h1.1v1.1h-1.1zM476.1 57.3h1.1v1.1h-1.1zM439.1 73.9h1.1v1.1h-1.1zM448.3 61.5h1.1v1.1h-1.1zM471.8 90.8h1.1v1.1h-1.1zM467.0 76.1h1.1v1.1h-1.1zM463.3 77.9h1.1v1.1h-1.1zM480.5 68.4h1.1v1.1h-1.1zM433.8 93.4h1.1v1.1h-1.1zM469.9 71.5h1.1v1.1h-1.1zM488.9 53.6h1.1v1.1h-1.1zM462.5 96.2h1.1v1.1h-1.1zM444.6 96.0h1.1v1.1h-1.1zM455.1 64.0h1.1v1.1h-1.1zM409.0 104.3h1.1v1.1h-1.1zM478.9 66.0h1.1v1.1h-1.1zM453.6 96.0h1.1v1.1h-1.1zM479.5 62.6h1.1v1.1h-1.1zM432.0 58.1h1.1v1.1h-1.1zM471.3 39.9h1.1v1.1h-1.1zM463.3 80.2h1.1v1.1h-1.1zM482.8 59.3h1.1v1.1h-1.1zM454.6 55.8h1.1v1.1h-1.1zM457.5 77.4h1.1v1.1h-1.1zM431.0 75.0h1.1v1.1h-1.1zM457.7 84.5h1.1v1.1h-1.1zM464.5 42.0h1.1v1.1h-1.1zM486.2 54.2h1.1v1.1h-1.1zM460.3 103.1h1.1v1.1h-1.1zM459.3 68.7h1.1v1.1h-1.1zM445.4 86.7h1.1v1.1h-1.1zM491.1 63.8h1.1v1.1h-1.1zM484.5 38.3h1.1v1.1h-1.1zM447.4 92.1h1.1v1.1h-1.1zM457.6 82.4h1.1v1.1h-1.1zM457.9 92.3h1.1v1.1h-1.1zM475.4 54.1h1.1v1.1h-1.1zM462.7 74.8h1.1v1.1h-1.1zM449.9 81.7h1.1v1.1h-1.1zM434.8 95.9h1.1v1.1h-1.1zM447.5 63.6h1.1v1.1h-1.1zM421.7 90.4h1.1v1.1h-1.1zM443.1 99.6h1.1v1.1h-1.1zM481.7 63.4h1.1v1.1h-1.1zM455.5 78.2h1.1v1.1h-1.1zM449.3 77.7h1.1v1.1h-1.1zM471.5 97.1h1.1v1.1h-1.1zM446.1 78.7h1.1v1.1h-1.1zM424.2 111.8h1.1v1.1h-1.1zM424.4 86.1h1.1v1.1h-1.1zM431.1 90.5h1.1v1.1h-1.1zM483.3 50.0h1.1v1.1h-1.1zM451.0 86.4h1.1v1.1h-1.1zM506.0 44.4h1.1v1.1h-1.1zM436.4 100.0h1.1v1.1h-1.1zM468.9 77.9h1.1v1.1h-1.1zM445.6 104.7h1.1v1.1h-1.1zM447.5 82.9h1.1v1.1h-1.1zM470.2 83.9h1.1v1.1h-1.1zM488.2 59.4h1.1v1.1h-1.1zM467.3 40.0h1.1v1.1h-1.1zM443.2 86.0h1.1v1.1h-1.1zM476.0 50.1h1.1v1.1h-1.1zM458.5 69.8h1.1v1.1h-1.1zM470.0 71.2h1.1v1.1h-1.1zM485.8 56.0h1.1v1.1h-1.1zM434.2 88.4h1.1v1.1h-1.1zM505.4 36.2h1.1v1.1h-1.1zM453.0 86.2h1.1v1.1h-1.1zM410.2 105.3h1.1v1.1h-1.1zM492.1 55.1h1.1v1.1h-1.1zM458.0 80.0h1.1v1.1h-1.1zM461.9 84.6h1.1v1.1h-1.1zM436.1 105.4h1.1v1.1h-1.1zM459.6 103.1h1.1v1.1h-1.1zM458.8 76.4h1.1v1.1h-1.1zM450.2 95.8h1.1v1.1h-1.1zM436.6 99.0h1.1v1.1h-1.1zM445.3 76.1h1.1v1.1h-1.1zM489.7 72.9h1.1v1.1h-1.1zM463.0 91.8h1.1v1.1h-1.1zM453.8 68.1h1.1v1.1h-1.1zM478.5 73.4h1.1v1.1h-1.1zM485.0 67.3h1.1v1.1h-1.1zM471.6 67.4h1.1v1.1h-1.1zM459.0 58.4h1.1v1.1h-1.1zM474.6 72.4h1.1v1.1h-1.1zM468.7 97.5h1.1v1.1h-1.1zM455.3 85.7h1.1v1.1h-1.1zM457.1 86.0h1.1v1.1h-1.1zM479.8 69.8h1.1v1.1h-1.1zM469.6 59.7h1.1v1.1h-1.1zM432.3 94.5h1.1v1.1h-1.1zM467.0 79.4h1.1v1.1h-1.1zM468.9 84.8h1.1v1.1h-1.1zM460.5 89.3h1.1v1.1h-1.1zM478.1 81.8h1.1v1.1h-1.1zM448.0 108.3h1.1v1.1h-1.1zM473.3 78.8h1.1v1.1h-1.1zM486.3 81.8h1.1v1.1h-1.1zM462.6 89.6h1.1v1.1h-1.1zM485.0 68.5h1.1v1.1h-1.1zM466.0 97.4h1.1v1.1h-1.1zM442.7 109.6h1.1v1.1h-1.1zM475.1 96.1h1.1v1.1h-1.1zM478.2 79.7h1.1v1.1h-1.1zM454.6 80.2h1.1v1.1h-1.1zM458.5 95.8h1.1v1.1h-1.1zM489.5 71.9h1.1v1.1h-1.1zM480.7 68.8h1.1v1.1h-1.1zM482.5 80.4h1.1v1.1h-1.1zM431.1 78.6h1.1v1.1h-1.1zM427.5 106.6h1.1v1.1h-1.1zM471.3 56.9h1.1v1.1h-1.1zM472.4 61.1h1.1v1.1h-1.1zM482.3 65.7h1.1v1.1h-1.1zM441.7 74.1h1.1v1.1h-1.1zM479.7 61.0h1.1v1.1h-1.1zM460.4 61.4h1.1v1.1h-1.1zM456.2 93.2h1.1v1.1h-1.1zM455.4 77.5h1.1v1.1h-1.1zM452.1 72.1h1.1v1.1h-1.1zM455.7 54.7h1.1v1.1h-1.1zM467.5 78.7h1.1v1.1h-1.1zM469.1 53.2h1.1v1.1h-1.1zM461.6 93.2h1.1v1.1h-1.1zM450.7 69.2h1.1v1.1h-1.1zM442.6 64.8h1.1v1.1h-1.1zM461.3 87.7h1.1v1.1h-1.1zM450.5 86.9h1.1v1.1h-1.1zM447.5 75.1h1.1v1.1h-1.1zM463.7 82.9h1.1v1.1h-1.1zM459.5 76.8h1.1v1.1h-1.1zM476.1 50.4h1.1v1.1h-1.1zM497.6 49.8h1.1v1.1h-1.1zM463.8 90.0h1.1v1.1h-1.1zM463.6 70.5h1.1v1.1h-1.1zM431.4 108.8h1.1v1.1h-1.1zM417.6 94.9h1.1v1.1h-1.1zM470.1 74.0h1.1v1.1h-1.1zM468.4 98.9h1.1v1.1h-1.1zM468.1 59.4h1.1v1.1h-1.1zM442.2 110.5h1.1v1.1h-1.1zM443.9 89.4h1.1v1.1h-1.1zM450.5 91.1h1.1v1.1h-1.1zM472.1 65.1h1.1v1.1h-1.1zM466.2 55.9h1.1v1.1h-1.1zM438.3 101.3h1.1v1.1h-1.1zM466.6 58.2h1.1v1.1h-1.1zM477.1 74.7h1.1v1.1h-1.1zM477.4 68.0h1.1v1.1h-1.1zM476.6 103.8h1.1v1.1h-1.1zM477.4 62.6h1.1v1.1h-1.1zM455.0 60.4h1.1v1.1h-1.1zM476.7 57.3h1.1v1.1h-1.1zM463.2 67.4h1.1v1.1h-1.1zM430.7 101.8h1.1v1.1h-1.1zM481.0 49.3h1.1v1.1h-1.1zM471.9 60.9h1.1v1.1h-1.1zM477.0 66.8h1.1v1.1h-1.1zM415.8 97.0h1.1v1.1h-1.1zM472.8 66.6h1.1v1.1h-1.1zM472.1 67.5h1.1v1.1h-1.1zM441.8 94.7h1.1v1.1h-1.1zM490.1 64.8h1.1v1.1h-1.1zM472.7 37.5h1.1v1.1h-1.1zM465.3 63.3h1.1v1.1h-1.1zM467.4 70.9h1.1v1.1h-1.1zM478.0 60.3h1.1v1.1h-1.1zM452.9 89.4h1.1v1.1h-1.1zM438.7 113.6h1.1v1.1h-1.1zM453.0 82.7h1.1v1.1h-1.1zM474.2 77.9h1.1v1.1h-1.1zM451.9 54.3h1.1v1.1h-1.1zM459.4 85.1h1.1v1.1h-1.1zM476.6 90.2h1.1v1.1h-1.1zM453.2 75.4h1.1v1.1h-1.1zM454.5 98.8h1.1v1.1h-1.1zM439.0 100.0h1.1v1.1h-1.1zM480.6 62.0h1.1v1.1h-1.1zM496.5 41.9h1.1v1.1h-1.1zM448.8 95.3h1.1v1.1h-1.1zM457.8 78.3h1.1v1.1h-1.1zM472.9 83.1h1.1v1.1h-1.1zM457.4 106.7h1.1v1.1h-1.1zM485.1 56.8h1.1v1.1h-1.1zM463.2 77.2h1.1v1.1h-1.1zM464.1 81.6h1.1v1.1h-1.1zM478.5 71.0h1.1v1.1h-1.1zM464.0 86.6h1.1v1.1h-1.1zM450.6 94.3h1.1v1.1h-1.1zM447.5 71.2h1.1v1.1h-1.1zM435.3 90.4h1.1v1.1h-1.1zM465.0 82.1h1.1v1.1h-1.1zM476.4 75.9h1.1v1.1h-1.1zM452.7 85.8h1.1v1.1h-1.1zM447.4 96.5h1.1v1.1h-1.1zM420.6 80.3h1.1v1.1h-1.1zM452.3 88.3h1.1v1.1h-1.1zM427.5 100.4h1.1v1.1h-1.1zM440.0 109.1h1.1v1.1h-1.1zM460.6 66.6h1.1v1.1h-1.1zM445.7 113.6h1.1v1.1h-1.1zM492.8 55.7h1.1v1.1h-1.1zM472.2 78.1h1.1v1.1h-1.1zM456.9 53.7h1.1v1.1h-1.1zM481.4 77.3h1.1v1.1h-1.1zM466.7 55.5h1.1v1.1h-1.1zM464.0 84.5h1.1v1.1h-1.1zM466.2 69.3h1.1v1.1h-1.1zM464.9 94.7h1.1v1.1h-1.1zM427.3 79.4h1.1v1.1h-1.1zM431.6 113.7h1.1v1.1h-1.1zM498.5 41.2h1.1v1.1h-1.1zM465.6 56.9h1.1v1.1h-1.1zM444.9 83.1h1.1v1.1h-1.1zM460.8 93.7h1.1v1.1h-1.1zM440.9 53.8h1.1v1.1h-1.1zM497.7 77.5h1.1v1.1h-1.1zM448.3 81.4h1.1v1.1h-1.1zM455.5 68.8h1.1v1.1h-1.1zM481.0 60.7h1.1v1.1h-1.1zM504.8 55.5h1.1v1.1h-1.1zM469.5 80.3h1.1v1.1h-1.1zM484.1 62.7h1.1v1.1h-1.1zM442.3 95.0h1.1v1.1h-1.1zM427.5 72.7h1.1v1.1h-1.1zM472.5 76.5h1.1v1.1h-1.1zM473.4 81.4h1.1v1.1h-1.1zM443.3 101.2h1.1v1.1h-1.1zM446.3 87.9h1.1v1.1h-1.1zM431.6 106.2h1.1v1.1h-1.1zM441.8 96.3h1.1v1.1h-1.1zM449.3 98.9h1.1v1.1h-1.1zM442.2 101.3h1.1v1.1h-1.1zM470.5 71.3h1.1v1.1h-1.1zM469.3 90.3h1.1v1.1h-1.1zM437.9 87.5h1.1v1.1h-1.1zM462.9 31.0h1.1v1.1h-1.1zM442.0 94.7h1.1v1.1h-1.1zM481.3 71.7h1.1v1.1h-1.1zM441.3 81.8h1.1v1.1h-1.1zM429.0 85.8h1.1v1.1h-1.1zM479.9 62.6h1.1v1.1h-1.1zM421.5 93.0h1.1v1.1h-1.1zM488.3 67.4h1.1v1.1h-1.1zM455.8 62.1h1.1v1.1h-1.1zM457.1 93.1h1.1v1.1h-1.1zM460.9 84.9h1.1v1.1h-1.1zM496.8 39.3h1.1v1.1h-1.1zM447.7 82.5h1.1v1.1h-1.1zM478.8 52.4h1.1v1.1h-1.1zM443.2 86.7h1.1v1.1h-1.1zM461.8 73.8h1.1v1.1h-1.1zM443.8 103.7h1.1v1.1h-1.1zM480.4 50.6h1.1v1.1h-1.1zM433.7 98.6h1.1v1.1h-1.1zM454.1 80.7h1.1v1.1h-1.1zM476.2 34.7h1.1v1.1h-1.1zM437.5 104.7h1.1v1.1h-1.1zM429.3 106.0h1.1v1.1h-1.1zM456.1 54.3h1.1v1.1h-1.1zM454.2 93.4h1.1v1.1h-1.1zM467.6 66.5h1.1v1.1h-1.1zM447.9 69.3h1.1v1.1h-1.1zM463.9 87.0h1.1v1.1h-1.1zM484.4 71.1h1.1v1.1h-1.1zM448.0 88.0h1.1v1.1h-1.1zM446.5 88.9h1.1v1.1h-1.1zM492.6 35.1h1.1v1.1h-1.1zM472.8 89.8h1.1v1.1h-1.1zM449.7 92.3h1.1v1.1h-1.1zM405.5 102.5h1.1v1.1h-1.1zM424.4 74.5h1.1v1.1h-1.1zM420.4 98.6h1.1v1.1h-1.1zM466.2 76.3h1.1v1.1h-1.1zM491.8 68.3h1.1v1.1h-1.1zM465.3 66.2h1.1v1.1h-1.1zM441.1 81.2h1.1v1.1h-1.1zM487.2 40.5h1.1v1.1h-1.1zM488.5 57.0h1.1v1.1h-1.1zM428.5 106.6h1.1v1.1h-1.1zM417.4 109.9h1.1v1.1h-1.1zM455.8 74.4h1.1v1.1h-1.1zM472.0 54.7h1.1v1.1h-1.1zM454.3 72.0h1.1v1.1h-1.1zM449.5 102.0h1.1v1.1h-1.1zM446.9 76.8h1.1v1.1h-1.1zM448.1 95.9h1.1v1.1h-1.1zM457.1 58.5h1.1v1.1h-1.1zM450.6 70.0h1.1v1.1h-1.1zM478.6 61.4h1.1v1.1h-1.1zM462.5 91.9h1.1v1.1h-1.1zM457.0 95.2h1.1v1.1h-1.1zM460.1 74.3h1.1v1.1h-1.1zM453.0 103.5h1.1v1.1h-1.1zM460.5 101.2h1.1v1.1h-1.1zM449.4 72.7h1.1v1.1h-1.1zM445.2 79.3h1.1v1.1h-1.1zM485.5 65.7h1.1v1.1h-1.1zM474.8 87.8h1.1v1.1h-1.1zM475.1 41.2h1.1v1.1h-1.1zM439.6 94.9h1.1v1.1h-1.1zM459.7 62.6h1.1v1.1h-1.1zM457.1 94.9h1.1v1.1h-1.1zM464.0 68.1h1.1v1.1h-1.1zM469.2 49.4h1.1v1.1h-1.1zM449.3 64.6h1.1v1.1h-1.1zM459.3 74.8h1.1v1.1h-1.1zM423.6 112.1h1.1v1.1h-1.1zM463.6 110.5h1.1v1.1h-1.1zM480.5 69.7h1.1v1.1h-1.1zM484.6 74.3h1.1v1.1h-1.1zM457.0 71.3h1.1v1.1h-1.1zM468.9 56.4h1.1v1.1h-1.1zM468.6 53.6h1.1v1.1h-1.1zM449.3 74.1h1.1v1.1h-1.1zM445.1 102.2h1.1v1.1h-1.1zM469.4 62.7h1.1v1.1h-1.1zM445.8 66.2h1.1v1.1h-1.1zM489.3 35.6h1.1v1.1h-1.1zM453.0 83.4h1.1v1.1h-1.1zM494.9 33.8h1.1v1.1h-1.1zM441.5 83.4h1.1v1.1h-1.1zM488.6 54.3h1.1v1.1h-1.1zM468.6 64.6h1.1v1.1h-1.1zM474.6 74.2h1.1v1.1h-1.1zM476.8 38.4h1.1v1.1h-1.1zM483.5 46.0h1.1v1.1h-1.1zM428.9 97.9h1.1v1.1h-1.1zM432.6 101.8h1.1v1.1h-1.1zM462.6 68.9h1.1v1.1h-1.1zM460.0 60.8h1.1v1.1h-1.1zM450.0 53.6h1.1v1.1h-1.1zM463.2 80.3h1.1v1.1h-1.1zM458.5 77.0h1.1v1.1h-1.1zM445.3 88.4h1.1v1.1h-1.1zM439.5 112.8h1.1v1.1h-1.1zM470.2 46.2h1.1v1.1h-1.1zM421.6 92.9h1.1v1.1h-1.1zM453.8 82.0h1.1v1.1h-1.1zM467.2 55.9h1.1v1.1h-1.1zM420.1 111.8h1.1v1.1h-1.1zM477.8 55.0h1.1v1.1h-1.1zM429.5 105.6h1.1v1.1h-1.1zM453.9 90.1h1.1v1.1h-1.1zM460.5 67.9h1.1v1.1h-1.1zM464.1 76.7h1.1v1.1h-1.1zM447.8 70.9h1.1v1.1h-1.1zM438.9 77.5h1.1v1.1h-1.1zM427.9 81.8h1.1v1.1h-1.1zM475.1 63.1h1.1v1.1h-1.1zM464.8 90.0h1.1v1.1h-1.1zM456.9 103.0h1.1v1.1h-1.1zM488.4 61.2h1.1v1.1h-1.1zM452.7 81.4h1.1v1.1h-1.1zM481.7 66.2h1.1v1.1h-1.1zM453.5 75.0h1.1v1.1h-1.1zM454.1 83.9h1.1v1.1h-1.1zM479.9 75.5h1.1v1.1h-1.1zM451.1 89.8h1.1v1.1h-1.1zM488.1 66.2h1.1v1.1h-1.1zM445.9 108.1h1.1v1.1h-1.1zM464.9 88.6h1.1v1.1h-1.1zM485.7 77.3h1.1v1.1h-1.1zM488.0 30.9h1.1v1.1h-1.1zM458.4 87.7h1.1v1.1h-1.1zM410.5 94.2h1.1v1.1h-1.1zM452.3 80.3h1.1v1.1h-1.1zM455.1 84.2h1.1v1.1h-1.1zM464.3 49.4h1.1v1.1h-1.1zM481.9 68.4h1.1v1.1h-1.1zM455.4 67.3h1.1v1.1h-1.1zM451.8 85.1h1.1v1.1h-1.1zM452.7 84.4h1.1v1.1h-1.1zM491.2 32.5h1.1v1.1h-1.1zM502.6 88.6h1.1v1.1h-1.1zM437.4 85.7h1.1v1.1h-1.1zM492.7 33.8h1.1v1.1h-1.1zM451.0 73.7h1.1v1.1h-1.1zM503.2 51.1h1.1v1.1h-1.1zM428.4 105.9h1.1v1.1h-1.1zM446.7 109.3h1.1v1.1h-1.1zM470.6 96.6h1.1v1.1h-1.1zM418.8 98.6h1.1v1.1h-1.1zM437.8 112.2h1.1v1.1h-1.1zM458.2 84.0h1.1v1.1h-1.1zM462.8 92.2h1.1v1.1h-1.1zM474.3 81.8h1.1v1.1h-1.1zM452.8 87.4h1.1v1.1h-1.1zM482.3 57.6h1.1v1.1h-1.1zM448.0 85.2h1.1v1.1h-1.1zM470.7 81.5h1.1v1.1h-1.1zM449.3 89.9h1.1v1.1h-1.1zM467.4 64.0h1.1v1.1h-1.1zM448.6 63.9h1.1v1.1h-1.1zM462.3 55.7h1.1v1.1h-1.1zM435.8 108.0h1.1v1.1h-1.1zM489.6 80.8h1.1v1.1h-1.1zM486.3 62.8h1.1v1.1h-1.1zM436.4 108.7h1.1v1.1h-1.1zM445.8 79.6h1.1v1.1h-1.1zM496.6 40.6h1.1v1.1h-1.1zM481.6 79.8h1.1v1.1h-1.1zM465.6 83.6h1.1v1.1h-1.1zM488.0 35.3h1.1v1.1h-1.1zM466.9 83.5h1.1v1.1h-1.1zM484.0 49.8h1.1v1.1h-1.1zM432.6 111.1h1.1v1.1h-1.1zM477.0 81.8h1.1v1.1h-1.1zM474.2 60.5h1.1v1.1h-1.1zM461.9 99.3h1.1v1.1h-1.1zM433.1 80.2h1.1v1.1h-1.1zM432.6 92.5h1.1v1.1h-1.1zM468.7 42.3h1.1v1.1h-1.1zM469.2 76.0h1.1v1.1h-1.1zM495.6 81.6h1.1v1.1h-1.1zM467.3 104.1h1.1v1.1h-1.1zM464.3 85.6h1.1v1.1h-1.1zM457.9 84.5h1.1v1.1h-1.1zM453.4 61.3h1.1v1.1h-1.1zM468.5 86.8h1.1v1.1h-1.1zM412.6 97.8h1.1v1.1h-1.1zM432.7 88.6h1.1v1.1h-1.1zM487.7 65.4h1.1v1.1h-1.1zM467.8 42.7h1.1v1.1h-1.1zM458.8 86.3h1.1v1.1h-1.1zM490.5 84.9h1.1v1.1h-1.1zM418.8 80.3h1.1v1.1h-1.1zM444.2 82.8h1.1v1.1h-1.1zM423.4 105.1h1.1v1.1h-1.1zM467.0 87.9h1.1v1.1h-1.1zM466.8 59.8h1.1v1.1h-1.1zM468.5 98.1h1.1v1.1h-1.1zM412.8 103.1h1.1v1.1h-1.1zM444.7 82.1h1.1v1.1h-1.1zM478.2 53.0h1.1v1.1h-1.1zM479.4 61.8h1.1v1.1h-1.1zM462.9 69.1h1.1v1.1h-1.1zM486.5 57.8h1.1v1.1h-1.1zM433.1 80.9h1.1v1.1h-1.1zM492.4 61.4h1.1v1.1h-1.1zM471.8 59.7h1.1v1.1h-1.1zM469.0 65.3h1.1v1.1h-1.1zM454.5 97.6h1.1v1.1h-1.1zM454.5 61.6h1.1v1.1h-1.1zM492.2 78.0h1.1v1.1h-1.1zM500.0 42.2h1.1v1.1h-1.1zM419.8 111.9h1.1v1.1h-1.1zM467.9 69.0h1.1v1.1h-1.1zM458.0 58.9h1.1v1.1h-1.1zM477.3 64.6h1.1v1.1h-1.1zM468.3 75.2h1.1v1.1h-1.1zM462.3 81.9h1.1v1.1h-1.1zM461.6 93.3h1.1v1.1h-1.1zM432.9 113.9h1.1v1.1h-1.1zM483.0 64.0h1.1v1.1h-1.1zM473.1 63.0h1.1v1.1h-1.1zM485.4 64.0h1.1v1.1h-1.1zM430.7 96.9h1.1v1.1h-1.1zM491.2 79.7h1.1v1.1h-1.1zM430.9 88.1h1.1v1.1h-1.1zM492.4 69.1h1.1v1.1h-1.1zM434.5 69.0h1.1v1.1h-1.1zM457.5 88.1h1.1v1.1h-1.1zM458.2 56.3h1.1v1.1h-1.1zM474.9 87.7h1.1v1.1h-1.1zM458.8 89.3h1.1v1.1h-1.1zM474.0 50.5h1.1v1.1h-1.1zM448.0 80.6h1.1v1.1h-1.1zM498.2 45.4h1.1v1.1h-1.1zM405.7 111.1h1.1v1.1h-1.1zM474.7 79.3h1.1v1.1h-1.1zM446.1 65.9h1.1v1.1h-1.1zM478.9 78.4h1.1v1.1h-1.1zM448.0 82.8h1.1v1.1h-1.1zM443.5 58.9h1.1v1.1h-1.1zM456.6 90.4h1.1v1.1h-1.1zM487.9 54.7h1.1v1.1h-1.1zM477.9 89.5h1.1v1.1h-1.1zM444.0 113.0h1.1v1.1h-1.1zM430.4 110.0h1.1v1.1h-1.1zM459.4 88.2h1.1v1.1h-1.1zM475.1 81.1h1.1v1.1h-1.1zM478.5 92.0h1.1v1.1h-1.1zM488.9 43.4h1.1v1.1h-1.1zM451.9 81.0h1.1v1.1h-1.1zM447.7 87.0h1.1v1.1h-1.1zM477.4 74.8h1.1v1.1h-1.1zM469.5 52.4h1.1v1.1h-1.1zM484.6 60.3h1.1v1.1h-1.1zM434.6 82.2h1.1v1.1h-1.1zM465.1 70.1h1.1v1.1h-1.1zM495.3 37.2h1.1v1.1h-1.1zM460.0 77.2h1.1v1.1h-1.1zM450.3 73.5h1.1v1.1h-1.1zM464.5 68.6h1.1v1.1h-1.1zM430.7 105.8h1.1v1.1h-1.1zM476.5 79.5h1.1v1.1h-1.1zM468.2 48.6h1.1v1.1h-1.1zM501.3 46.6h1.1v1.1h-1.1zM493.1 74.0h1.1v1.1h-1.1zM471.0 57.4h1.1v1.1h-1.1zM454.7 91.5h1.1v1.1h-1.1zM462.7 45.4h1.1v1.1h-1.1zM425.5 74.0h1.1v1.1h-1.1zM454.5 89.2h1.1v1.1h-1.1zM450.0 66.7h1.1v1.1h-1.1zM426.7 113.1h1.1v1.1h-1.1zM420.9 107.5h1.1v1.1h-1.1zM429.4 100.0h1.1v1.1h-1.1zM430.4 100.9h1.1v1.1h-1.1zM438.8 101.4h1.1v1.1h-1.1zM423.8 102.1h1.1v1.1h-1.1zM428.5 101.2h1.1v1.1h-1.1zM431.3 94.4h1.1v1.1h-1.1zM424.1 104.7h1.1v1.1h-1.1zM459.2 96.9h1.1v1.1h-1.1zM430.1 107.0h1.1v1.1h-1.1zM430.7 97.0h1.1v1.1h-1.1zM440.4 101.0h1.1v1.1h-1.1zM430.6 107.7h1.1v1.1h-1.1zM427.7 110.0h1.1v1.1h-1.1zM434.7 100.8h1.1v1.1h-1.1zM449.4 87.3h1.1v1.1h-1.1zM427.0 107.7h1.1v1.1h-1.1zM431.6 104.3h1.1v1.1h-1.1zM425.2 114.2h1.1v1.1h-1.1zM437.4 97.5h1.1v1.1h-1.1zM427.0 105.4h1.1v1.1h-1.1zM422.9 104.1h1.1v1.1h-1.1zM421.0 111.2h1.1v1.1h-1.1zM431.9 100.1h1.1v1.1h-1.1zM436.9 87.4h1.1v1.1h-1.1zM428.5 94.7h1.1v1.1h-1.1zM442.5 109.0h1.1v1.1h-1.1zM420.8 103.7h1.1v1.1h-1.1zM437.9 106.7h1.1v1.1h-1.1zM434.0 113.4h1.1v1.1h-1.1zM440.0 92.4h1.1v1.1h-1.1zM424.0 94.5h1.1v1.1h-1.1zM427.7 101.5h1.1v1.1h-1.1zM429.4 99.5h1.1v1.1h-1.1zM433.7 96.9h1.1v1.1h-1.1zM446.9 90.8h1.1v1.1h-1.1zM427.3 91.9h1.1v1.1h-1.1zM439.6 109.5h1.1v1.1h-1.1zM438.0 89.6h1.1v1.1h-1.1zM432.0 92.0h1.1v1.1h-1.1zM432.3 95.6h1.1v1.1h-1.1zM439.6 96.2h1.1v1.1h-1.1zM429.0 93.8h1.1v1.1h-1.1zM435.5 103.2h1.1v1.1h-1.1zM440.2 92.3h1.1v1.1h-1.1zM432.8 111.0h1.1v1.1h-1.1zM418.9 109.9h1.1v1.1h-1.1zM415.3 114.7h1.1v1.1h-1.1zM433.1 99.0h1.1v1.1h-1.1zM430.9 95.5h1.1v1.1h-1.1zM440.2 99.1h1.1v1.1h-1.1zM433.6 95.4h1.1v1.1h-1.1zM439.5 103.5h1.1v1.1h-1.1zM436.0 101.4h1.1v1.1h-1.1zM432.2 102.4h1.1v1.1h-1.1zM418.2 112.9h1.1v1.1h-1.1zM428.7 94.7h1.1v1.1h-1.1zM440.0 79.5h1.1v1.1h-1.1zM429.6 110.0h1.1v1.1h-1.1zM427.3 101.4h1.1v1.1h-1.1zM425.7 100.4h1.1v1.1h-1.1zM436.7 104.1h1.1v1.1h-1.1zM440.3 96.2h1.1v1.1h-1.1zM420.3 101.5h1.1v1.1h-1.1zM432.4 105.1h1.1v1.1h-1.1zM433.0 101.1h1.1v1.1h-1.1zM418.4 109.2h1.1v1.1h-1.1zM420.0 107.8h1.1v1.1h-1.1zM445.1 102.2h1.1v1.1h-1.1zM434.7 109.6h1.1v1.1h-1.1zM435.4 99.7h1.1v1.1h-1.1zM432.1 100.2h1.1v1.1h-1.1zM442.8 101.8h1.1v1.1h-1.1zM433.2 93.5h1.1v1.1h-1.1zM442.0 106.6h1.1v1.1h-1.1zM435.8 106.1h1.1v1.1h-1.1zM439.8 96.0h1.1v1.1h-1.1zM434.7 105.2h1.1v1.1h-1.1zM439.9 109.5h1.1v1.1h-1.1zM431.8 103.6h1.1v1.1h-1.1zM447.0 95.2h1.1v1.1h-1.1zM421.8 104.1h1.1v1.1h-1.1zM439.5 106.6h1.1v1.1h-1.1zM450.2 79.3h1.1v1.1h-1.1zM435.4 109.0h1.1v1.1h-1.1zM426.9 109.8h1.1v1.1h-1.1zM432.7 104.4h1.1v1.1h-1.1zM432.3 97.7h1.1v1.1h-1.1zM438.0 98.6h1.1v1.1h-1.1zM432.6 104.4h1.1v1.1h-1.1zM425.4 103.3h1.1v1.1h-1.1zM424.6 110.7h1.1v1.1h-1.1zM435.9 98.1h1.1v1.1h-1.1zM429.8 108.0h1.1v1.1h-1.1zM419.9 107.4h1.1v1.1h-1.1zM446.4 96.2h1.1v1.1h-1.1zM451.4 99.2h1.1v1.1h-1.1zM424.5 107.7h1.1v1.1h-1.1zM424.5 109.7h1.1v1.1h-1.1zM421.6 108.4h1.1v1.1h-1.1zM431.8 109.1h1.1v1.1h-1.1zM428.4 97.5h1.1v1.1h-1.1zM429.6 93.5h1.1v1.1h-1.1zM424.2 110.7h1.1v1.1h-1.1zM430.6 97.5h1.1v1.1h-1.1zM429.1 92.1h1.1v1.1h-1.1zM429.8 104.2h1.1v1.1h-1.1zM434.0 109.1h1.1v1.1h-1.1zM439.0 92.2h1.1v1.1h-1.1zM424.5 99.1h1.1v1.1h-1.1zM422.3 113.4h1.1v1.1h-1.1zM437.0 86.4h1.1v1.1h-1.1zM437.2 93.0h1.1v1.1h-1.1zM423.9 103.4h1.1v1.1h-1.1zM423.0 99.1h1.1v1.1h-1.1zM440.3 96.1h1.1v1.1h-1.1zM426.7 109.9h1.1v1.1h-1.1zM428.2 104.0h1.1v1.1h-1.1zM426.6 99.5h1.1v1.1h-1.1zM419.6 102.0h1.1v1.1h-1.1zM452.9 96.4h1.1v1.1h-1.1zM443.2 87.7h1.1v1.1h-1.1zM433.3 109.7h1.1v1.1h-1.1zM430.9 100.4h1.1v1.1h-1.1zM450.1 100.6h1.1v1.1h-1.1zM437.1 87.3h1.1v1.1h-1.1zM422.7 103.0h1.1v1.1h-1.1zM411.4 106.1h1.1v1.1h-1.1zM430.5 105.6h1.1v1.1h-1.1zM433.0 100.7h1.1v1.1h-1.1zM427.6 99.6h1.1v1.1h-1.1zM435.7 90.1h1.1v1.1h-1.1zM440.5 101.4h1.1v1.1h-1.1zM429.3 102.9h1.1v1.1h-1.1zM434.5 94.9h1.1v1.1h-1.1zM427.9 108.4h1.1v1.1h-1.1zM446.2 103.7h1.1v1.1h-1.1zM446.6 90.3h1.1v1.1h-1.1zM448.1 99.9h1.1v1.1h-1.1zM439.8 100.7h1.1v1.1h-1.1zM429.2 95.3h1.1v1.1h-1.1zM435.3 102.1h1.1v1.1h-1.1zM412.9 107.5h1.1v1.1h-1.1zM424.1 105.2h1.1v1.1h-1.1zM435.7 108.4h1.1v1.1h-1.1zM420.0 106.3h1.1v1.1h-1.1zM420.6 107.9h1.1v1.1h-1.1zM428.8 98.6h1.1v1.1h-1.1zM425.5 110.2h1.1v1.1h-1.1zM420.4 110.8h1.1v1.1h-1.1zM425.0 109.9h1.1v1.1h-1.1zM438.4 103.4h1.1v1.1h-1.1zM431.8 92.3h1.1v1.1h-1.1zM443.1 96.1h1.1v1.1h-1.1zM430.9 101.5h1.1v1.1h-1.1zM432.8 97.4h1.1v1.1h-1.1zM441.8 85.5h1.1v1.1h-1.1zM419.4 107.9h1.1v1.1h-1.1zM419.2 103.4h1.1v1.1h-1.1zM439.5 108.7h1.1v1.1h-1.1zM419.7 114.8h1.1v1.1h-1.1zM428.0 98.5h1.1v1.1h-1.1zM436.5 94.6h1.1v1.1h-1.1zM430.5 103.7h1.1v1.1h-1.1zM434.9 102.3h1.1v1.1h-1.1zM417.7 104.8h1.1v1.1h-1.1zM461.2 85.2h1.1v1.1h-1.1zM427.9 102.9h1.1v1.1h-1.1zM423.7 107.3h1.1v1.1h-1.1zM433.5 114.9h1.1v1.1h-1.1zM447.6 92.4h1.1v1.1h-1.1zM441.3 92.4h1.1v1.1h-1.1zM434.3 102.0h1.1v1.1h-1.1zM442.9 101.4h1.1v1.1h-1.1zM433.4 92.6h1.1v1.1h-1.1zM436.1 105.7h1.1v1.1h-1.1zM438.9 99.1h1.1v1.1h-1.1zM427.8 102.3h1.1v1.1h-1.1zM439.7 100.5h1.1v1.1h-1.1zM431.1 101.4h1.1v1.1h-1.1zM424.9 107.0h1.1v1.1h-1.1zM436.2 101.1h1.1v1.1h-1.1zM425.9 100.8h1.1v1.1h-1.1zM420.7 112.5h1.1v1.1h-1.1zM435.4 105.0h1.1v1.1h-1.1zM433.8 95.1h1.1v1.1h-1.1zM444.0 101.6h1.1v1.1h-1.1zM415.2 103.3h1.1v1.1h-1.1zM426.9 98.5h1.1v1.1h-1.1zM439.6 99.3h1.1v1.1h-1.1zM435.4 108.3h1.1v1.1h-1.1zM429.3 90.5h1.1v1.1h-1.1zM441.3 98.1h1.1v1.1h-1.1zM417.5 104.4h1.1v1.1h-1.1zM430.3 99.3h1.1v1.1h-1.1zM462.0 94.3h1.1v1.1h-1.1zM434.1 108.2h1.1v1.1h-1.1zM476.1 44.2h1.1v1.1h-1.1zM434.4 73.4h1.1v1.1h-1.1zM412.5 91.1h1.1v1.1h-1.1zM500.7 49.5h1.1v1.1h-1.1zM500.5 46.3h1.1v1.1h-1.1zM490.6 63.1h1.1v1.1h-1.1zM464.4 80.0h1.1v1.1h-1.1zM503.0 38.3h1.1v1.1h-1.1zM434.4 81.8h1.1v1.1h-1.1zM461.8 88.5h1.1v1.1h-1.1zM454.6 87.0h1.1v1.1h-1.1zM460.6 42.2h1.1v1.1h-1.1zM433.6 90.3h1.1v1.1h-1.1zM461.1 74.2h1.1v1.1h-1.1zM467.2 96.8h1.1v1.1h-1.1zM461.3 46.5h1.1v1.1h-1.1zM439.9 104.9h1.1v1.1h-1.1zM462.2 48.2h1.1v1.1h-1.1zM432.4 65.3h1.1v1.1h-1.1zM440.6 80.0h1.1v1.1h-1.1zM414.9 85.5h1.1v1.1h-1.1zM445.2 80.6h1.1v1.1h-1.1zM504.3 46.2h1.1v1.1h-1.1zM457.5 51.8h1.1v1.1h-1.1zM472.0 79.1h1.1v1.1h-1.1zM429.0 89.6h1.1v1.1h-1.1zM476.6 34.3h1.1v1.1h-1.1zM458.7 58.4h1.1v1.1h-1.1zM428.1 105.1h1.1v1.1h-1.1zM479.2 50.0h1.1v1.1h-1.1zM449.8 41.2h1.1v1.1h-1.1zM478.5 91.7h1.1v1.1h-1.1zM421.3 88.5h1.1v1.1h-1.1zM439.9 86.6h1.1v1.1h-1.1zM429.9 63.0h1.1v1.1h-1.1zM444.5 53.6h1.1v1.1h-1.1zM482.4 50.6h1.1v1.1h-1.1zM431.7 93.6h1.1v1.1h-1.1zM483.9 53.1h1.1v1.1h-1.1zM483.7 51.0h1.1v1.1h-1.1zM452.0 70.5h1.1v1.1h-1.1zM464.1 59.3h1.1v1.1h-1.1zM492.7 69.4h1.1v1.1h-1.1zM461.4 36.1h1.1v1.1h-1.1zM455.6 34.5h1.1v1.1h-1.1zM470.8 61.5h1.1v1.1h-1.1zM436.8 47.3h1.1v1.1h-1.1zM450.0 80.6h1.1v1.1h-1.1zM502.1 58.2h1.1v1.1h-1.1zM450.0 57.1h1.1v1.1h-1.1zM444.4 82.0h1.1v1.1h-1.1zM494.1 70.6h1.1v1.1h-1.1zM440.0 56.1h1.1v1.1h-1.1zM494.1 59.0h1.1v1.1h-1.1zM419.7 97.6h1.1v1.1h-1.1zM444.3 84.3h1.1v1.1h-1.1zM478.9 95.6h1.1v1.1h-1.1zM477.4 86.8h1.1v1.1h-1.1zM455.4 54.6h1.1v1.1h-1.1zM427.0 88.3h1.1v1.1h-1.1zM445.5 40.0h1.1v1.1h-1.1zM460.7 81.9h1.1v1.1h-1.1zM489.0 91.0h1.1v1.1h-1.1zM465.6 92.3h1.1v1.1h-1.1zM448.4 52.9h1.1v1.1h-1.1zM428.6 81.7h1.1v1.1h-1.1zM444.7 45.6h1.1v1.1h-1.1zM445.4 85.7h1.1v1.1h-1.1zM465.7 40.7h1.1v1.1h-1.1zM499.9 73.6h1.1v1.1h-1.1zM486.8 38.0h1.1v1.1h-1.1zM473.7 50.9h1.1v1.1h-1.1zM477.8 85.8h1.1v1.1h-1.1zM474.1 64.1h1.1v1.1h-1.1zM422.4 72.6h1.1v1.1h-1.1zM420.9 74.3h1.1v1.1h-1.1zM437.1 65.1h1.1v1.1h-1.1zM478.5 91.5h1.1v1.1h-1.1zM441.3 102.9h1.1v1.1h-1.1zM451.2 64.5h1.1v1.1h-1.1zM444.0 97.7h1.1v1.1h-1.1zM416.1 88.3h1.1v1.1h-1.1zM449.1 43.7h1.1v1.1h-1.1zM433.7 69.3h1.1v1.1h-1.1zM439.4 98.3h1.1v1.1h-1.1zM444.4 108.2h1.1v1.1h-1.1zM463.1 78.1h1.1v1.1h-1.1zM502.2 46.9h1.1v1.1h-1.1zM447.9 98.3h1.1v1.1h-1.1zM448.9 76.4h1.1v1.1h-1.1zM434.8 62.0h1.1v1.1h-1.1zM473.1 35.9h1.1v1.1h-1.1zM476.7 95.6h1.1v1.1h-1.1zM497.9 63.0h1.1v1.1h-1.1zM461.5 100.2h1.1v1.1h-1.1zM479.7 86.6h1.1v1.1h-1.1zM456.2 50.7h1.1v1.1h-1.1zM424.4 95.5h1.1v1.1h-1.1zM470.2 74.5h1.1v1.1h-1.1zM457.3 80.4h1.1v1.1h-1.1zM454.6 45.0h1.1v1.1h-1.1zM469.4 91.2h1.1v1.1h-1.1zM505.8 33.2h1.1v1.1h-1.1zM494.7 69.9h1.1v1.1h-1.1zM450.7 41.3h1.1v1.1h-1.1zM445.4 87.1h1.1v1.1h-1.1zM453.4 56.1h1.1v1.1h-1.1zM443.5 82.2h1.1v1.1h-1.1zM502.2 83.9h1.1v1.1h-1.1zM430.9 97.8h1.1v1.1h-1.1zM499.6 53.0h1.1v1.1h-1.1zM473.2 52.4h1.1v1.1h-1.1zM485.8 45.1h1.1v1.1h-1.1zM489.9 73.3h1.1v1.1h-1.1zM498.8 40.9h1.1v1.1h-1.1zM452.7 42.3h1.1v1.1h-1.1zM431.6 70.1h1.1v1.1h-1.1zM467.9 74.5h1.1v1.1h-1.1zM430.6 68.0h1.1v1.1h-1.1zM476.6 84.7h1.1v1.1h-1.1zM428.6 82.6h1.1v1.1h-1.1zM428.1 76.7h1.1v1.1h-1.1zM427.0 74.7h1.1v1.1h-1.1zM456.3 78.8h1.1v1.1h-1.1zM500.6 70.3h1.1v1.1h-1.1zM468.1 95.6h1.1v1.1h-1.1zM484.9 85.2h1.1v1.1h-1.1zM489.1 72.6h1.1v1.1h-1.1zM498.8 78.0h1.1v1.1h-1.1zM448.0 54.4h1.1v1.1h-1.1zM475.6 82.0h1.1v1.1h-1.1zM463.8 38.6h1.1v1.1h-1.1zM481.1 48.6h1.1v1.1h-1.1zM494.1 64.5h1.1v1.1h-1.1zM456.8 58.2h1.1v1.1h-1.1zM456.2 45.7h1.1v1.1h-1.1zM429.8 75.4h1.1v1.1h-1.1zM418.4 79.1h1.1v1.1h-1.1zM472.4 78.0h1.1v1.1h-1.1zM434.0 62.2h1.1v1.1h-1.1zM419.5 85.0h1.1v1.1h-1.1zM416.6 82.5h1.1v1.1h-1.1zM476.6 63.1h1.1v1.1h-1.1zM433.6 110.7h1.1v1.1h-1.1zM444.7 47.9h1.1v1.1h-1.1zM421.3 88.3h1.1v1.1h-1.1zM449.3 108.2h1.1v1.1h-1.1zM446.9 90.7h1.1v1.1h-1.1zM415.8 87.9h1.1v1.1h-1.1zM440.2 52.9h1.1v1.1h-1.1zM455.5 91.1h1.1v1.1h-1.1zM444.3 54.5h1.1v1.1h-1.1zM448.0 98.4h1.1v1.1h-1.1zM470.5 59.1h1.1v1.1h-1.1zM413.9 86.1h1.1v1.1h-1.1zM500.4 46.9h1.1v1.1h-1.1zM443.0 50.6h1.1v1.1h-1.1zM428.9 82.3h1.1v1.1h-1.1zM471.4 90.1h1.1v1.1h-1.1zM435.1 58.1h1.1v1.1h-1.1zM457.4 67.5h1.1v1.1h-1.1zM440.6 110.6h1.1v1.1h-1.1zM503.2 78.6h1.1v1.1h-1.1zM417.0 92.5h1.1v1.1h-1.1zM502.8 54.2h1.1v1.1h-1.1zM505.6 67.1h1.1v1.1h-1.1zM427.2 69.1h1.1v1.1h-1.1zM492.5 50.8h1.1v1.1h-1.1zM464.1 67.4h1.1v1.1h-1.1zM476.1 33.5h1.1v1.1h-1.1zM454.8 33.1h1.1v1.1h-1.1zM436.8 44.7h1.1v1.1h-1.1zM442.0 95.0h1.1v1.1h-1.1zM418.3 85.4h1.1v1.1h-1.1zM410.3 99.7h1.1v1.1h-1.1zM459.1 57.4h1.1v1.1h-1.1zM502.3 114.3h1.1v1.1h-1.1zM401.5 66.2h1.1v1.1h-1.1zM470.1 51.3h1.1v1.1h-1.1zM471.4 62.6h1.1v1.1h-1.1zM446.1 114.9h1.1v1.1h-1.1zM501.1 96.1h1.1v1.1h-1.1zM421.2 81.4h1.1v1.1h-1.1zM498.1 107.8h1.1v1.1h-1.1zM442.3 89.8h1.1v1.1h-1.1zM401.3 56.2h1.1v1.1h-1.1zM456.2 67.6h1.1v1.1h-1.1zM406.7 58.9h1.1v1.1h-1.1zM468.4 55.5h1.1v1.1h-1.1zM389.8 85.2h1.1v1.1h-1.1zM457.5 68.0h1.1v1.1h-1.1zM492.8 39.7h1.1v1.1h-1.1zM404.0 42.6h1.1v1.1h-1.1zM452.7 66.3h1.1v1.1h-1.1zM461.6 94.4h1.1v1.1h-1.1zM403.8 47.4h1.1v1.1h-1.1zM418.5 79.9h1.1v1.1h-1.1zM447.1 68.2h1.1v1.1h-1.1zM418.9 60.1h1.1v1.1h-1.1zM388.4 92.7h1.1v1.1h-1.1zM506.6 82.7h1.1v1.1h-1.1zM425.7 82.7h1.1v1.1h-1.1zM424.8 103.1h1.1v1.1h-1.1zM485.3 81.7h1.1v1.1h-1.1zM416.1 96.4h1.1v1.1h-1.1zM397.0 102.0h1.1v1.1h-1.1zM443.4 85.8h1.1v1.1h-1.1zM403.2 77.4h1.1v1.1h-1.1zM460.5 63.9h1.1v1.1h-1.1zM488.2 42.3h1.1v1.1h-1.1zM485.7 109.8h1.1v1.1h-1.1zM466.7 78.2h1.1v1.1h-1.1zM466.4 31.1h1.1v1.1h-1.1zM424.1 72.1h1.1v1.1h-1.1zM407.8 108.3h1.1v1.1h-1.1zM391.4 114.6h1.1v1.1h-1.1zM423.3 99.1h1.1v1.1h-1.1zM442.3 56.7h1.1v1.1h-1.1zM403.0 71.7h1.1v1.1h-1.1zM433.6 101.6h1.1v1.1h-1.1zM410.9 86.2h1.1v1.1h-1.1zM411.2 62.4h1.1v1.1h-1.1zM485.5 53.8h1.1v1.1h-1.1zM452.9 113.9h1.1v1.1h-1.1zM444.7 66.4h1.1v1.1h-1.1zM403.4 104.1h1.1v1.1h-1.1zM407.1 54.3h1.1v1.1h-1.1z" fill="#606060"/>
<path d="M430.3 111.9h1.1v1.1h-1.1zM408.8 115.4h1.1v1.1h-1.1zM434.6 107.5h1.1v1.1h-1.1zM430.8 109.6h1.1v1.1h-1.1zM417.0 113.0h1.1v1.1h-1.1zM417.1 111.1h1.1v1.1h-1.1zM433.0 108.7h1.1v1.1h-1.1zM409.4 113.5h1.1v1.1h-1.1zM435.9 102.8h1.1v1.1h-1.1zM420.5 110.2h1.1v1.1h-1.1zM417.9 109.0h1.1v1.1h-1.1zM430.8 103.2h1.1v1.1h-1.1zM432.0 105.9h1.1v1.1h-1.1zM421.1 110.5h1.1v1.1h-1.1zM424.7 107.6h1.1v1.1h-1.1zM411.2 111.5h1.1v1.1h-1.1zM411.4 114.4h1.1v1.1h-1.1zM422.6 109.4h1.1v1.1h-1.1zM409.0 114.2h1.1v1.1h-1.1zM426.1 105.9h1.1v1.1h-1.1zM419.8 107.7h1.1v1.1h-1.1zM416.7 113.3h1.1v1.1h-1.1zM422.6 109.5h1.1v1.1h-1.1zM418.9 110.0h1.1v1.1h-1.1zM418.9 112.8h1.1v1.1h-1.1zM430.9 106.5h1.1v1.1h-1.1zM430.1 110.6h1.1v1.1h-1.1zM408.1 112.2h1.1v1.1h-1.1zM417.3 113.9h1.1v1.1h-1.1zM420.0 111.0h1.1v1.1h-1.1zM407.7 108.9h1.1v1.1h-1.1zM424.2 111.8h1.1v1.1h-1.1zM407.5 110.4h1.1v1.1h-1.1zM420.5 112.9h1.1v1.1h-1.1zM427.5 112.8h1.1v1.1h-1.1zM418.8 108.7h1.1v1.1h-1.1zM410.6 111.3h1.1v1.1h-1.1zM425.3 110.3h1.1v1.1h-1.1zM429.4 109.9h1.1v1.1h-1.1zM418.6 109.8h1.1v1.1h-1.1zM402.1 111.9h1.1v1.1h-1.1zM429.5 108.9h1.1v1.1h-1.1zM423.6 109.0h1.1v1.1h-1.1zM418.2 108.7h1.1v1.1h-1.1zM418.7 108.0h1.1v1.1h-1.1zM404.4 114.2h1.1v1.1h-1.1zM399.6 115.2h1.1v1.1h-1.1zM413.1 112.8h1.1v1.1h-1.1zM420.9 110.3h1.1v1.1h-1.1zM422.3 107.2h1.1v1.1h-1.1zM423.0 113.0h1.1v1.1h-1.1zM421.6 110.2h1.1v1.1h-1.1zM411.2 113.7h1.1v1.1h-1.1zM417.4 112.2h1.1v1.1h-1.1zM410.7 113.3h1.1v1.1h-1.1zM413.3 106.3h1.1v1.1h-1.1zM418.2 109.6h1.1v1.1h-1.1zM413.1 112.4h1.1v1.1h-1.1zM413.3 115.7h1.1v1.1h-1.1zM422.2 110.3h1.1v1.1h-1.1zM425.9 108.9h1.1v1.1h-1.1zM419.5 110.5h1.1v1.1h-1.1zM418.4 112.5h1.1v1.1h-1.1zM417.3 109.4h1.1v1.1h-1.1zM433.2 110.8h1.1v1.1h-1.1zM417.6 108.2h1.1v1.1h-1.1zM408.2 107.2h1.1v1.1h-1.1zM413.0 107.0h1.1v1.1h-1.1zM425.3 112.9h1.1v1.1h-1.1zM436.6 106.3h1.1v1.1h-1.1zM430.8 106.9h1.1v1.1h-1.1zM414.1 110.5h1.1v1.1h-1.1zM427.0 106.1h1.1v1.1h-1.1zM441.0 104.7h1.1v1.1h-1.1zM422.5 112.4h1.1v1.1h-1.1zM432.4 107.3h1.1v1.1h-1.1zM427.5 109.5h1.1v1.1h-1.1zM428.6 110.0h1.1v1.1h-1.1zM419.3 112.0h1.1v1.1h-1.1zM415.2 112.8h1.1v1.1h-1.1zM414.8 110.1h1.1v1.1h-1.1zM419.3 109.8h1.1v1.1h-1.1zM423.9 111.7h1.1v1.1h-1.1zM437.5 103.4h1.1v1.1h-1.1zM427.1 110.6h1.1v1.1h-1.1zM415.6 108.4h1.1v1.1h-1.1zM430.0 108.8h1.1v1.1h-1.1zM438.0 106.6h1.1v1.1h-1.1zM432.5 104.8h1.1v1.1h-1.1zM411.6 113.6h1.1v1.1h-1.1zM407.6 113.8h1.1v1.1h-1.1zM411.7 114.1h1.1v1.1h-1.1zM419.8 109.0h1.1v1.1h-1.1zM417.1 113.3h1.1v1.1h-1.1zM409.9 114.4h1.1v1.1h-1.1zM411.0 110.9h1.1v1.1h-1.1zM429.2 107.0h1.1v1.1h-1.1zM402.3 112.0h1.1v1.1h-1.1zM418.5 113.2h1.1v1.1h-1.1zM407.3 115.3h1.1v1.1h-1.1zM422.0 113.1h1.1v1.1h-1.1zM409.1 107.6h1.1v1.1h-1.1zM420.4 107.7h1.1v1.1h-1.1zM419.6 106.8h1.1v1.1h-1.1zM418.1 111.4h1.1v1.1h-1.1zM424.7 107.5h1.1v1.1h-1.1zM411.2 112.2h1.1v1.1h-1.1zM435.9 105.5h1.1v1.1h-1.1zM426.3 111.1h1.1v1.1h-1.1zM424.8 110.9h1.1v1.1h-1.1zM424.5 109.0h1.1v1.1h-1.1zM422.4 111.4h1.1v1.1h-1.1zM416.7 111.6h1.1v1.1h-1.1zM412.1 114.1h1.1v1.1h-1.1zM405.9 114.1h1.1v1.1h-1.1zM413.4 114.4h1.1v1.1h-1.1zM429.1 109.0h1.1v1.1h-1.1zM421.3 111.8h1.1v1.1h-1.1zM405.7 114.8h1.1v1.1h-1.1zM407.5 114.3h1.1v1.1h-1.1zM413.2 111.2h1.1v1.1h-1.1zM425.5 112.6h1.1v1.1h-1.1zM410.1 111.7h1.1v1.1h-1.1zM416.6 109.9h1.1v1.1h-1.1zM417.0 111.5h1.1v1.1h-1.1zM402.9 115.1h1.1v1.1h-1.1zM429.3 108.8h1.1v1.1h-1.1zM409.1 112.3h1.1v1.1h-1.1zM413.3 110.8h1.1v1.1h-1.1zM404.7 111.8h1.1v1.1h-1.1zM421.1 110.4h1.1v1.1h-1.1zM417.1 114.4h1.1v1.1h-1.1zM426.9 106.3h1.1v1.1h-1.1zM422.3 107.7h1.1v1.1h-1.1zM411.2 106.1h1.1v1.1h-1.1zM419.0 109.2h1.1v1.1h-1.1zM413.9 113.4h1.1v1.1h-1.1zM425.1 105.7h1.1v1.1h-1.1zM425.1 112.1h1.1v1.1h-1.1zM415.1 107.4h1.1v1.1h-1.1zM427.3 104.5h1.1v1.1h-1.1zM425.1 106.6h1.1v1.1h-1.1zM411.6 109.4h1.1v1.1h-1.1zM421.5 112.0h1.1v1.1h-1.1zM419.7 108.2h1.1v1.1h-1.1zM416.7 113.7h1.1v1.1h-1.1zM421.1 107.9h1.1v1.1h-1.1zM429.7 108.8h1.1v1.1h-1.1zM410.5 109.0h1.1v1.1h-1.1zM415.4 111.0h1.1v1.1h-1.1zM426.3 110.8h1.1v1.1h-1.1zM435.6 106.0h1.1v1.1h-1.1zM412.3 111.7h1.1v1.1h-1.1zM417.7 107.2h1.1v1.1h-1.1zM420.3 110.4h1.1v1.1h-1.1zM414.3 106.2h1.1v1.1h-1.1zM418.0 108.8h1.1v1.1h-1.1zM421.8 111.2h1.1v1.1h-1.1zM421.9 110.8h1.1v1.1h-1.1zM409.5 114.0h1.1v1.1h-1.1zM414.6 115.7h1.1v1.1h-1.1zM420.1 112.4h1.1v1.1h-1.1zM414.9 112.9h1.1v1.1h-1.1zM429.2 107.8h1.1v1.1h-1.1zM413.7 114.2h1.1v1.1h-1.1zM429.7 107.9h1.1v1.1h-1.1zM432.7 108.8h1.1v1.1h-1.1zM413.5 110.2h1.1v1.1h-1.1zM416.5 109.2h1.1v1.1h-1.1zM405.4 114.9h1.1v1.1h-1.1zM422.9 112.3h1.1v1.1h-1.1zM404.0 112.9h1.1v1.1h-1.1zM425.4 108.8h1.1v1.1h-1.1zM416.6 110.2h1.1v1.1h-1.1zM409.1 114.1h1.1v1.1h-1.1zM412.3 115.1h1.1v1.1h-1.1zM416.8 112.8h1.1v1.1h-1.1zM410.9 111.1h1.1v1.1h-1.1zM429.2 103.2h1.1v1.1h-1.1zM422.0 108.4h1.1v1.1h-1.1zM413.9 113.7h1.1v1.1h-1.1zM415.4 113.4h1.1v1.1h-1.1zM418.5 111.8h1.1v1.1h-1.1zM431.7 107.1h1.1v1.1h-1.1zM419.3 115.6h1.1v1.1h-1.1zM407.6 114.9h1.1v1.1h-1.1zM408.6 109.4h1.1v1.1h-1.1zM430.9 110.3h1.1v1.1h-1.1zM416.4 111.9h1.1v1.1h-1.1zM430.3 110.0h1.1v1.1h-1.1zM416.8 110.9h1.1v1.1h-1.1zM419.6 111.6h1.1v1.1h-1.1zM424.2 106.5h1.1v1.1h-1.1zM416.5 110.2h1.1v1.1h-1.1zM429.8 112.6h1.1v1.1h-1.1zM423.4 109.7h1.1v1.1h-1.1zM409.6 111.2h1.1v1.1h-1.1zM405.8 113.3h1.1v1.1h-1.1zM420.0 108.0h1.1v1.1h-1.1zM413.7 111.6h1.1v1.1h-1.1zM431.2 104.1h1.1v1.1h-1.1zM424.6 110.1h1.1v1.1h-1.1zM427.2 110.4h1.1v1.1h-1.1zM427.3 110.8h1.1v1.1h-1.1zM415.3 112.6h1.1v1.1h-1.1zM423.7 109.6h1.1v1.1h-1.1zM414.2 111.3h1.1v1.1h-1.1zM413.2 114.2h1.1v1.1h-1.1zM427.4 106.4h1.1v1.1h-1.1zM421.9 109.8h1.1v1.1h-1.1zM406.8 110.3h1.1v1.1h-1.1zM439.1 106.0h1.1v1.1h-1.1zM407.7 107.9h1.1v1.1h-1.1zM418.8 112.4h1.1v1.1h-1.1zM415.4 110.3h1.1v1.1h-1.1zM411.0 111.8h1.1v1.1h-1.1zM421.6 111.5h1.1v1.1h-1.1zM421.5 109.0h1.1v1.1h-1.1zM425.6 110.5h1.1v1.1h-1.1zM420.8 113.5h1.1v1.1h-1.1zM414.8 105.6h1.1v1.1h-1.1zM414.0 110.0h1.1v1.1h-1.1zM418.0 113.9h1.1v1.1h-1.1zM416.1 114.8h1.1v1.1h-1.1zM419.1 107.0h1.1v1.1h-1.1zM435.4 104.8h1.1v1.1h-1.1zM429.7 105.2h1.1v1.1h-1.1zM420.3 109.9h1.1v1.1h-1.1zM429.4 106.5h1.1v1.1h-1.1zM424.6 113.3h1.1v1.1h-1.1zM426.3 106.5h1.1v1.1h-1.1zM430.2 106.5h1.1v1.1h-1.1zM403.1 112.3h1.1v1.1h-1.1zM433.7 105.8h1.1v1.1h-1.1zM405.0 113.2h1.1v1.1h-1.1zM418.5 112.6h1.1v1.1h-1.1zM424.9 110.8h1.1v1.1h-1.1zM419.4 106.7h1.1v1.1h-1.1zM419.8 108.4h1.1v1.1h-1.1zM432.4 111.1h1.1v1.1h-1.1zM420.8 108.1h1.1v1.1h-1.1zM425.6 103.2h1.1v1.1h-1.1zM404.3 112.5h1.1v1.1h-1.1zM433.1 112.0h1.1v1.1h-1.1zM430.2 108.7h1.1v1.1h-1.1zM417.3 106.8h1.1v1.1h-1.1zM419.4 114.3h1.1v1.1h-1.1zM420.4 112.4h1.1v1.1h-1.1zM417.1 106.2h1.1v1.1h-1.1zM422.7 114.4h1.1v1.1h-1.1zM409.0 112.0h1.1v1.1h-1.1zM413.9 111.4h1.1v1.1h-1.1zM432.8 104.6h1.1v1.1h-1.1zM410.5 110.2h1.1v1.1h-1.1zM424.0 106.4h1.1v1.1h-1.1zM414.2 109.5h1.1v1.1h-1.1zM431.4 112.4h1.1v1.1h-1.1zM430.7 106.1h1.1v1.1h-1.1zM417.2 110.1h1.1v1.1h-1.1zM418.9 105.9h1.1v1.1h-1.1zM415.1 114.0h1.1v1.1h-1.1zM428.0 109.3h1.1v1.1h-1.1zM431.9 105.0h1.1v1.1h-1.1zM413.4 111.4h1.1v1.1h-1.1zM413.7 111.1h1.1v1.1h-1.1zM422.4 113.7h1.1v1.1h-1.1zM411.7 112.3h1.1v1.1h-1.1zM419.4 112.0h1.1v1.1h-1.1zM427.3 105.0h1.1v1.1h-1.1zM422.0 105.9h1.1v1.1h-1.1zM421.3 110.6h1.1v1.1h-1.1zM414.1 108.3h1.1v1.1h-1.1zM424.1 105.3h1.1v1.1h-1.1zM407.6 115.5h1.1v1.1h-1.1zM420.4 110.1h1.1v1.1h-1.1zM409.7 111.0h1.1v1.1h-1.1zM405.3 114.4h1.1v1.1h-1.1zM414.2 112.8h1.1v1.1h-1.1zM414.8 105.4h1.1v1.1h-1.1zM423.4 106.7h1.1v1.1h-1.1zM422.9 107.9h1.1v1.1h-1.1zM411.5 115.0h1.1v1.1h-1.1zM413.4 112.6h1.1v1.1h-1.1zM428.2 110.4h1.1v1.1h-1.1zM421.3 113.3h1.1v1.1h-1.1zM413.7 114.5h1.1v1.1h-1.1zM422.3 110.2h1.1v1.1h-1.1zM423.0 109.8h1.1v1.1h-1.1zM410.8 111.2h1.1v1.1h-1.1zM422.8 108.9h1.1v1.1h-1.1zM409.7 113.3h1.1v1.1h-1.1zM397.8 113.5h1.1v1.1h-1.1zM421.7 107.5h1.1v1.1h-1.1zM428.6 101.9h1.1v1.1h-1.1zM414.2 114.1h1.1v1.1h-1.1zM424.8 107.6h1.1v1.1h-1.1zM425.0 110.2h1.1v1.1h-1.1zM416.4 109.6h1.1v1.1h-1.1zM414.1 111.5h1.1v1.1h-1.1zM406.6 115.6h1.1v1.1h-1.1zM428.5 109.8h1.1v1.1h-1.1zM419.6 113.4h1.1v1.1h-1.1zM417.3 110.8h1.1v1.1h-1.1zM408.0 114.8h1.1v1.1h-1.1zM428.5 107.8h1.1v1.1h-1.1zM430.2 103.9h1.1v1.1h-1.1zM424.6 106.9h1.1v1.1h-1.1zM422.7 111.5h1.1v1.1h-1.1zM420.9 110.8h1.1v1.1h-1.1zM412.8 107.9h1.1v1.1h-1.1zM419.8 111.9h1.1v1.1h-1.1zM428.2 108.9h1.1v1.1h-1.1zM417.7 108.7h1.1v1.1h-1.1zM418.1 114.2h1.1v1.1h-1.1zM428.5 103.8h1.1v1.1h-1.1zM415.7 107.4h1.1v1.1h-1.1zM416.9 110.8h1.1v1.1h-1.1zM417.5 110.7h1.1v1.1h-1.1zM424.3 109.5h1.1v1.1h-1.1zM415.7 109.8h1.1v1.1h-1.1zM419.8 110.4h1.1v1.1h-1.1zM401.8 114.5h1.1v1.1h-1.1zM428.0 110.8h1.1v1.1h-1.1zM417.1 114.6h1.1v1.1h-1.1zM432.3 107.9h1.1v1.1h-1.1zM409.7 111.8h1.1v1.1h-1.1zM420.8 111.4h1.1v1.1h-1.1zM412.3 114.3h1.1v1.1h-1.1zM414.6 113.5h1.1v1.1h-1.1zM410.9 113.5h1.1v1.1h-1.1zM413.4 109.9h1.1v1.1h-1.1zM422.9 109.9h1.1v1.1h-1.1zM426.9 108.7h1.1v1.1h-1.1zM410.9 113.4h1.1v1.1h-1.1zM404.5 113.0h1.1v1.1h-1.1zM407.0 114.8h1.1v1.1h-1.1zM418.5 110.7h1.1v1.1h-1.1zM418.1 112.2h1.1v1.1h-1.1zM402.3 113.6h1.1v1.1h-1.1zM405.4 111.6h1.1v1.1h-1.1zM410.2 108.3h1.1v1.1h-1.1zM422.0 111.4h1.1v1.1h-1.1zM415.9 109.8h1.1v1.1h-1.1zM414.9 108.5h1.1v1.1h-1.1zM427.6 107.9h1.1v1.1h-1.1zM410.0 112.8h1.1v1.1h-1.1zM422.0 108.8h1.1v1.1h-1.1zM436.2 110.0h1.1v1.1h-1.1zM425.3 108.5h1.1v1.1h-1.1zM423.0 112.0h1.1v1.1h-1.1zM419.9 113.4h1.1v1.1h-1.1zM411.7 110.4h1.1v1.1h-1.1zM410.1 112.1h1.1v1.1h-1.1zM414.6 109.3h1.1v1.1h-1.1zM417.1 114.0h1.1v1.1h-1.1zM405.2 114.2h1.1v1.1h-1.1zM426.2 108.8h1.1v1.1h-1.1zM412.8 111.8h1.1v1.1h-1.1zM419.2 106.1h1.1v1.1h-1.1zM411.6 112.8h1.1v1.1h-1.1zM424.7 111.2h1.1v1.1h-1.1zM420.5 115.7h1.1v1.1h-1.1zM423.0 106.8h1.1v1.1h-1.1zM430.2 110.1h1.1v1.1h-1.1zM408.7 110.5h1.1v1.1h-1.1zM415.0 112.1h1.1v1.1h-1.1zM425.2 111.0h1.1v1.1h-1.1zM418.1 111.1h1.1v1.1h-1.1zM422.4 107.4h1.1v1.1h-1.1zM406.4 106.8h1.1v1.1h-1.1zM415.8 109.0h1.1v1.1h-1.1zM414.7 113.8h1.1v1.1h-1.1zM415.6 112.4h1.1v1.1h-1.1zM424.7 110.6h1.1v1.1h-1.1zM428.6 112.5h1.1v1.1h-1.1zM418.4 111.3h1.1v1.1h-1.1zM411.6 111.7h1.1v1.1h-1.1zM421.0 113.8h1.1v1.1h-1.1zM419.1 112.3h1.1v1.1h-1.1zM419.3 105.9h1.1v1.1h-1.1zM422.3 108.3h1.1v1.1h-1.1zM411.1 114.8h1.1v1.1h-1.1zM417.1 113.4h1.1v1.1h-1.1zM413.7 112.2h1.1v1.1h-1.1zM409.3 113.1h1.1v1.1h-1.1zM426.3 108.5h1.1v1.1h-1.1zM429.4 108.4h1.1v1.1h-1.1zM404.0 110.8h1.1v1.1h-1.1zM413.9 110.6h1.1v1.1h-1.1zM415.6 113.6h1.1v1.1h-1.1zM415.1 108.4h1.1v1.1h-1.1zM417.5 108.4h1.1v1.1h-1.1zM421.2 111.6h1.1v1.1h-1.1zM413.0 114.1h1.1v1.1h-1.1zM418.7 111.5h1.1v1.1h-1.1zM409.0 112.2h1.1v1.1h-1.1zM396.7 114.5h1.1v1.1h-1.1zM425.8 108.0h1.1v1.1h-1.1zM416.4 113.3h1.1v1.1h-1.1zM412.9 111.2h1.1v1.1h-1.1zM403.5 114.4h1.1v1.1h-1.1zM418.0 111.2h1.1v1.1h-1.1zM414.6 112.6h1.1v1.1h-1.1zM416.4 110.5h1.1v1.1h-1.1zM430.4 110.1h1.1v1.1h-1.1zM429.7 106.7h1.1v1.1h-1.1zM425.1 110.1h1.1v1.1h-1.1zM415.1 111.4h1.1v1.1h-1.1zM414.7 113.1h1.1v1.1h-1.1zM418.6 109.9h1.1v1.1h-1.1z" fill="#333"/>
<path d="M417.2 111.1h1.1v1.1h-1.1zM421.2 110.9h1.1v1.1h-1.1zM427.5 111.0h1.1v1.1h-1.1zM420.9 112.4h1.1v1.1h-1.1zM423.5 107.8h1.1v1.1h-1.1zM422.2 108.1h1.1v1.1h-1.1zM418.4 110.3h1.1v1.1h-1.1zM422.1 110.5h1.1v1.1h-1.1zM426.6 107.5h1.1v1.1h-1.1zM423.8 110.1h1.1v1.1h-1.1zM425.8 109.8h1.1v1.1h-1.1zM416.7 113.4h1.1v1.1h-1.1zM409.2 112.2h1.1v1.1h-1.1zM417.1 111.6h1.1v1.1h-1.1zM433.2 109.1h1.1v1.1h-1.1zM417.8 111.4h1.1v1.1h-1.1zM420.6 108.7h1.1v1.1h-1.1zM422.3 111.5h1.1v1.1h-1.1zM426.0 109.1h1.1v1.1h-1.1zM422.6 110.4h1.1v1.1h-1.1zM424.1 113.5h1.1v1.1h-1.1zM417.5 110.6h1.1v1.1h-1.1zM414.6 114.0h1.1v1.1h-1.1zM411.5 109.8h1.1v1.1h-1.1zM427.1 110.9h1.1v1.1h-1.1zM423.3 110.9h1.1v1.1h-1.1zM422.2 112.0h1.1v1.1h-1.1zM419.9 108.5h1.1v1.1h-1.1zM423.0 111.2h1.1v1.1h-1.1zM416.7 111.1h1.1v1.1h-1.1zM413.2 110.4h1.1v1.1h-1.1zM422.9 111.1h1.1v1.1h-1.1zM421.1 110.4h1.1v1.1h-1.1zM415.0 112.3h1.1v1.1h-1.1zM423.8 112.2h1.1v1.1h-1.1zM427.0 110.8h1.1v1.1h-1.1zM420.4 110.1h1.1v1.1h-1.1zM418.0 111.7h1.1v1.1h-1.1zM408.0 115.1h1.1v1.1h-1.1zM414.0 112.2h1.1v1.1h-1.1zM418.2 114.9h1.1v1.1h-1.1zM422.6 109.8h1.1v1.1h-1.1zM424.3 110.4h1.1v1.1h-1.1zM423.1 111.2h1.1v1.1h-1.1zM415.6 110.4h1.1v1.1h-1.1zM418.1 110.7h1.1v1.1h-1.1zM425.6 109.2h1.1v1.1h-1.1zM424.4 108.4h1.1v1.1h-1.1zM419.8 112.2h1.1v1.1h-1.1zM414.5 112.9h1.1v1.1h-1.1zM415.5 110.4h1.1v1.1h-1.1zM429.3 108.4h1.1v1.1h-1.1zM421.7 109.1h1.1v1.1h-1.1zM419.6 112.3h1.1v1.1h-1.1zM420.8 110.6h1.1v1.1h-1.1zM413.8 113.6h1.1v1.1h-1.1zM411.9 111.1h1.1v1.1h-1.1zM426.6 109.5h1.1v1.1h-1.1zM418.2 111.4h1.1v1.1h-1.1zM418.7 112.8h1.1v1.1h-1.1zM416.5 110.0h1.1v1.1h-1.1zM425.4 110.0h1.1v1.1h-1.1zM413.3 114.8h1.1v1.1h-1.1zM427.7 108.8h1.1v1.1h-1.1zM414.9 112.7h1.1v1.1h-1.1zM425.3 110.7h1.1v1.1h-1.1zM424.7 106.5h1.1v1.1h-1.1zM416.9 112.9h1.1v1.1h-1.1zM429.2 110.7h1.1v1.1h-1.1zM421.7 108.6h1.1v1.1h-1.1zM414.6 115.3h1.1v1.1h-1.1zM416.0 109.9h1.1v1.1h-1.1zM407.3 112.1h1.1v1.1h-1.1zM419.3 110.1h1.1v1.1h-1.1zM404.9 113.6h1.1v1.1h-1.1zM403.1 113.7h1.1v1.1h-1.1zM424.1 112.1h1.1v1.1h-1.1zM420.8 111.7h1.1v1.1h-1.1zM420.0 114.8h1.1v1.1h-1.1zM421.7 111.9h1.1v1.1h-1.1zM421.0 109.6h1.1v1.1h-1.1zM416.9 113.6h1.1v1.1h-1.1zM422.2 108.3h1.1v1.1h-1.1zM410.3 113.7h1.1v1.1h-1.1zM415.2 114.1h1.1v1.1h-1.1zM430.5 110.6h1.1v1.1h-1.1zM426.1 111.7h1.1v1.1h-1.1zM414.4 106.8h1.1v1.1h-1.1zM421.8 114.1h1.1v1.1h-1.1zM436.3 109.1h1.1v1.1h-1.1zM418.7 108.3h1.1v1.1h-1.1zM424.1 114.2h1.1v1.1h-1.1zM415.8 112.4h1.1v1.1h-1.1zM420.0 114.3h1.1v1.1h-1.1zM422.6 111.9h1.1v1.1h-1.1zM434.9 106.1h1.1v1.1h-1.1zM411.7 110.2h1.1v1.1h-1.1zM421.1 110.5h1.1v1.1h-1.1zM414.1 112.4h1.1v1.1h-1.1zM426.5 114.5h1.1v1.1h-1.1zM409.4 115.4h1.1v1.1h-1.1zM423.6 110.6h1.1v1.1h-1.1zM427.1 111.2h1.1v1.1h-1.1zM412.9 113.1h1.1v1.1h-1.1zM423.2 111.4h1.1v1.1h-1.1zM426.1 110.5h1.1v1.1h-1.1zM421.7 111.4h1.1v1.1h-1.1zM420.0 112.8h1.1v1.1h-1.1zM402.3 112.9h1.1v1.1h-1.1zM420.0 111.5h1.1v1.1h-1.1zM428.8 109.9h1.1v1.1h-1.1zM414.5 112.8h1.1v1.1h-1.1zM417.2 112.3h1.1v1.1h-1.1zM421.7 109.9h1.1v1.1h-1.1zM411.3 114.6h1.1v1.1h-1.1zM420.5 107.3h1.1v1.1h-1.1zM421.8 107.4h1.1v1.1h-1.1zM419.0 108.8h1.1v1.1h-1.1zM415.6 112.8h1.1v1.1h-1.1zM421.0 108.5h1.1v1.1h-1.1zM427.1 111.3h1.1v1.1h-1.1zM422.6 107.1h1.1v1.1h-1.1zM414.8 111.5h1.1v1.1h-1.1zM414.1 112.2h1.1v1.1h-1.1zM424.9 111.6h1.1v1.1h-1.1zM412.2 113.3h1.1v1.1h-1.1zM419.4 110.5h1.1v1.1h-1.1zM421.8 113.4h1.1v1.1h-1.1zM417.4 112.6h1.1v1.1h-1.1zM427.0 110.3h1.1v1.1h-1.1zM431.7 107.4h1.1v1.1h-1.1zM414.1 112.8h1.1v1.1h-1.1zM423.3 111.6h1.1v1.1h-1.1zM419.7 113.7h1.1v1.1h-1.1zM406.5 113.8h1.1v1.1h-1.1zM421.6 109.1h1.1v1.1h-1.1zM406.7 114.7h1.1v1.1h-1.1zM427.3 109.1h1.1v1.1h-1.1zM416.0 111.8h1.1v1.1h-1.1zM420.6 115.5h1.1v1.1h-1.1zM416.5 111.0h1.1v1.1h-1.1zM418.6 111.1h1.1v1.1h-1.1zM426.0 111.2h1.1v1.1h-1.1zM424.1 109.5h1.1v1.1h-1.1zM422.5 111.1h1.1v1.1h-1.1zM421.3 112.8h1.1v1.1h-1.1zM415.3 112.6h1.1v1.1h-1.1zM419.8 107.9h1.1v1.1h-1.1zM422.4 111.0h1.1v1.1h-1.1zM417.2 108.7h1.1v1.1h-1.1zM418.4 112.0h1.1v1.1h-1.1zM434.3 110.1h1.1v1.1h-1.1zM426.1 110.7h1.1v1.1h-1.1zM415.2 112.5h1.1v1.1h-1.1zM418.6 112.4h1.1v1.1h-1.1zM407.9 114.3h1.1v1.1h-1.1zM419.9 113.3h1.1v1.1h-1.1zM424.9 110.8h1.1v1.1h-1.1zM419.3 110.3h1.1v1.1h-1.1zM419.3 111.8h1.1v1.1h-1.1zM418.1 111.8h1.1v1.1h-1.1zM426.7 112.5h1.1v1.1h-1.1zM424.8 108.5h1.1v1.1h-1.1zM421.4 113.3h1.1v1.1h-1.1zM412.8 113.0h1.1v1.1h-1.1zM418.7 111.4h1.1v1.1h-1.1zM406.5 112.2h1.1v1.1h-1.1zM424.8 110.1h1.1v1.1h-1.1zM412.6 113.6h1.1v1.1h-1.1zM414.8 113.3h1.1v1.1h-1.1zM418.9 112.3h1.1v1.1h-1.1zM423.7 113.2h1.1v1.1h-1.1zM417.4 112.7h1.1v1.1h-1.1zM420.3 114.4h1.1v1.1h-1.1zM424.3 110.9h1.1v1.1h-1.1zM413.8 113.3h1.1v1.1h-1.1z" fill="#111"/>
<line x1="76.50" y1="116.40" x2="76.50" y2="118.20" stroke="#444" stroke-width="0.8"/>
<line x1="76.80" y1="116.10" x2="75.00" y2="116.10" stroke="#444" stroke-width="0.8"/>
<line x1="80.99" y1="116.40" x2="80.99" y2="117.40" stroke="#444" stroke-width="0.8"/>
<line x1="76.80" y1="112.66" x2="75.80" y2="112.66" stroke="#444" stroke-width="0.8"/>
<line x1="85.48" y1="116.40" x2="85.48" y2="117.40" stroke="#444" stroke-width="0.8"/>
<line x1="76.80" y1="109.23" x2="75.80" y2="109.23" stroke="#444" stroke-width="0.8"/>
<line x1="89.97" y1="116.40" x2="89.97" y2="117.40" stroke="#444" stroke-width="0.8"/>
<line x1="76.80" y1="105.79" x2="75.80" y2="105.79" stroke="#444" stroke-width="0.8"/>
<line x1="94.46" y1="116.40" x2="94.46" y2="117.40" stroke="#444" stroke-width="0.8"/>
<line x1="76.80" y1="102.36" x2="75.80" y2="102.36" stroke="#444" stroke-width="0.8"/>
<line x1="98.95" y1="116.40" x2="98.95" y2="118.20" stroke="#444" stroke-width="0.8"/>
<line x1="76.80" y1="98.92" x2="75.00" y2="98.92" stroke="#444" stroke-width="0.8"/>
<line x1="103.44" y1="116.40" x2="103.44" y2="117.40" stroke="#444" stroke-width="0.8"/>
<line x1="76.80" y1="95.48" x2="75.80" y2="95.48" stroke="#444" stroke-width="0.8"/>
<line x1="107.93" y1="116.40" x2="107.93" y2="117.40" stroke="#444" stroke-width="0.8"/>
<line x1="76.80" y1="92.05" x2="75.80" y2="92.05" stroke="#444" stroke-width="0.8"/>
<line x1="112.42" y1="116.40" x2="112.42" y2="117.40" stroke="#444" stroke-width="0.8"/>
<line x1="76.80" y1="88.61" x2="75.80" y2="88.61" stroke="#444" stroke-width="0.8"/>
<line x1="116.91" y1="116.40" x2="116.91" y2="117.40" stroke="#444" stroke-width="0.8"/>
<line x1="76.80" y1="85.18" x2="75.80" y2="85.18" stroke="#444" stroke-width="0.8"/>
<line x1="121.40" y1="116.40" x2="121.40" y2="118.20" stroke="#444" stroke-width="0.8"/>
<line x1="76.80" y1="81.74" x2="75.00" y2="81.74" stroke="#444" stroke-width="0.8"/>
<line x1="125.89" y1="116.40" x2="125.89" y2="117.40" stroke="#444" stroke-width="0.8"/>
<line x1="76.80" y1="78.30" x2="75.80" y2="78.30" stroke="#444" stroke-width="0.8"/>
<line x1="130.38" y1="116.40" x2="130.38" y2="117.40" stroke="#444" stroke-width="0.8"/>
<line x1="76.80" y1="74.87" x2="75.80" y2="74.87" stroke="#444" stroke-width="0.8"/>
<line x1="134.87" y1="116.40" x2="134.87" y2="117.40" stroke="#444" stroke-width="0.8"/>
<line x1="76.80" y1="71.43" x2="75.80" y2="71.43" stroke="#444" stroke-width="0.8"/>
<line x1="139.36" y1="116.40" x2="139.36" y2="117.40" stroke="#444" stroke-width="0.8"/>
<line x1="76.80" y1="68.00" x2="75.80" y2="68.00" stroke="#444" stroke-width="0.8"/>
<line x1="143.85" y1="116.40" x2="143.85" y2="118.20" stroke="#444" stroke-width="0.8"/>
<line x1="76.80" y1="64.56" x2="75.00" y2="64.56" stroke="#444" stroke-width="0.8"/>
<line x1="148.34" y1="116.40" x2="148.34" y2="117.40" stroke="#444" stroke-width="0.8"/>
<line x1="76.80" y1="61.12" x2="75.80" y2="61.12" stroke="#444" stroke-width="0.8"/>
<line x1="152.83" y1="116.40" x2="152.83" y2="117.40" stroke="#444" stroke-width="0.8"/>
<line x1="76.80" y1="57.69" x2="75.80" y2="57.69" stroke="#444" stroke-width="0.8"/>
<line x1="157.32" y1="116.40" x2="157.32" y2="117.40" stroke="#444" stroke-width="0.8"/>
<line x1="76.80" y1="54.25" x2="75.80" y2="54.25" stroke="#444" stroke-width="0.8"/>
<line x1="161.81" y1="116.40" x2="161.81" y2="117.40" stroke="#444" stroke-width="0.8"/>
<line x1="76.80" y1="50.82" x2="75.80" y2="50.82" stroke="#444" stroke-width="0.8"/>
<line x1="166.30" y1="116.40" x2="166.30" y2="118.20" stroke="#444" stroke-width="0.8"/>
<line x1="76.80" y1="47.38" x2="75.00" y2="47.38" stroke="#444" stroke-width="0.8"/>
<line x1="170.79" y1="116.40" x2="170.79" y2="117.40" stroke="#444" stroke-width="0.8"/>
<line x1="76.80" y1="43.94" x2="75.80" y2="43.94" stroke="#444" stroke-width="0.8"/>
<line x1="175.28" y1="116.40" x2="175.28" y2="117.40" stroke="#444" stroke-width="0.8"/>
<line x1="76.80" y1="40.51" x2="75.80" y2="40.51" stroke="#444" stroke-width="0.8"/>
<line x1="179.77" y1="116.40" x2="179.77" y2="117.40" stroke="#444" stroke-width="0.8"/>
<line x1="76.80" y1="37.07" x2="75.80" y2="37.07" stroke="#444" stroke-width="0.8"/>
<line x1="184.26" y1="116.40" x2="184.26" y2="117.40" stroke="#444" stroke-width="0.8"/>
<line x1="76.80" y1="33.64" x2="75.80" y2="33.64" stroke="#444" stroke-width="0.8"/>
<line x1="188.75" y1="116.40" x2="188.75" y2="118.20" stroke="#444" stroke-width="0.8"/>
<line x1="76.80" y1="30.20" x2="75.00" y2="30.20" stroke="#444" stroke-width="0.8"/>
<text transform="translate(76.50,125.60) scale(1.04,1)" font-family="Liberation Sans" font-size="8.3" font-weight="bold" text-anchor="middle" fill="#000" stroke="#000" stroke-width="0.25">0</text>
<text transform="translate(72.20,116.30) rotate(-90) scale(0.8,1)" font-family="Liberation Sans" font-size="8.3" font-weight="bold" text-anchor="middle" fill="#000" stroke="#000" stroke-width="0.25">0</text>
<text transform="translate(98.95,125.60) scale(1.04,1)" font-family="Liberation Sans" font-size="8.3" font-weight="bold" text-anchor="middle" fill="#000" stroke="#000" stroke-width="0.25">50</text>
<text transform="translate(72.20,99.12) rotate(-90) scale(0.8,1)" font-family="Liberation Sans" font-size="8.3" font-weight="bold" text-anchor="middle" fill="#000" stroke="#000" stroke-width="0.25">50</text>
<text transform="translate(121.40,125.60) scale(1.04,1)" font-family="Liberation Sans" font-size="8.3" font-weight="bold" text-anchor="middle" fill="#000" stroke="#000" stroke-width="0.25">100</text>
<text transform="translate(72.20,81.94) rotate(-90) scale(0.8,1)" font-family="Liberation Sans" font-size="8.3" font-weight="bold" text-anchor="middle" fill="#000" stroke="#000" stroke-width="0.25">100</text>
<text transform="translate(143.85,125.60) scale(1.04,1)" font-family="Liberation Sans" font-size="8.3" font-weight="bold" text-anchor="middle" fill="#000" stroke="#000" stroke-width="0.25">150</text>
<text transform="translate(72.20,64.76) rotate(-90) scale(0.8,1)" font-family="Liberation Sans" font-size="8.3" font-weight="bold" text-anchor="middle" fill="#000" stroke="#000" stroke-width="0.25">150</text>
<text transform="translate(166.30,125.60) scale(1.04,1)" font-family="Liberation Sans" font-size="8.3" font-weight="bold" text-anchor="middle" fill="#000" stroke="#000" stroke-width="0.25">200</text>
<text transform="translate(72.20,47.58) rotate(-90) scale(0.8,1)" font-family="Liberation Sans" font-size="8.3" font-weight="bold" text-anchor="middle" fill="#000" stroke="#000" stroke-width="0.25">200</text>
<text transform="translate(188.75,125.60) scale(1.04,1)" font-family="Liberation Sans" font-size="8.3" font-weight="bold" text-anchor="middle" fill="#000" stroke="#000" stroke-width="0.25">250</text>
<text transform="translate(72.20,30.40) rotate(-90) scale(0.8,1)" font-family="Liberation Sans" font-size="8.3" font-weight="bold" text-anchor="middle" fill="#000" stroke="#000" stroke-width="0.25">250</text>
<rect x="76.80" y="29.30" width="115.70" height="87.10" fill="none" stroke="#333" stroke-width="1"/>
<path d="M134.10,29.30 L192.50,29.30 L192.50,86.00 L122.00,112.00 L96.40,89.20 Z" fill="none" stroke="#333" stroke-width="1" stroke-linejoin="miter"/>
<text transform="translate(83.00,37.50)" font-family="Liberation Sans" font-size="6.8" font-weight="bold" text-anchor="start" fill="#000" stroke="#000" stroke-width="0.15">R1</text>
<text transform="translate(78.70,51.20) scale(0.72,1)" font-family="Liberation Sans" font-size="12.9" font-weight="normal" text-anchor="start" fill="#000" stroke="#000" stroke-width="0.5">40.4%</text>
<line x1="232.10" y1="118.30" x2="232.10" y2="120.10" stroke="#444" stroke-width="0.8"/>
<line x1="232.30" y1="118.00" x2="230.50" y2="118.00" stroke="#444" stroke-width="0.8"/>
<line x1="236.67" y1="118.30" x2="236.67" y2="119.30" stroke="#444" stroke-width="0.8"/>
<line x1="232.30" y1="114.51" x2="231.30" y2="114.51" stroke="#444" stroke-width="0.8"/>
<line x1="241.23" y1="118.30" x2="241.23" y2="119.30" stroke="#444" stroke-width="0.8"/>
<line x1="232.30" y1="111.02" x2="231.30" y2="111.02" stroke="#444" stroke-width="0.8"/>
<line x1="245.80" y1="118.30" x2="245.80" y2="119.30" stroke="#444" stroke-width="0.8"/>
<line x1="232.30" y1="107.54" x2="231.30" y2="107.54" stroke="#444" stroke-width="0.8"/>
<line x1="250.36" y1="118.30" x2="250.36" y2="119.30" stroke="#444" stroke-width="0.8"/>
<line x1="232.30" y1="104.05" x2="231.30" y2="104.05" stroke="#444" stroke-width="0.8"/>
<line x1="254.93" y1="118.30" x2="254.93" y2="120.10" stroke="#444" stroke-width="0.8"/>
<line x1="232.30" y1="100.56" x2="230.50" y2="100.56" stroke="#444" stroke-width="0.8"/>
<line x1="259.50" y1="118.30" x2="259.50" y2="119.30" stroke="#444" stroke-width="0.8"/>
<line x1="232.30" y1="97.07" x2="231.30" y2="97.07" stroke="#444" stroke-width="0.8"/>
<line x1="264.06" y1="118.30" x2="264.06" y2="119.30" stroke="#444" stroke-width="0.8"/>
<line x1="232.30" y1="93.58" x2="231.30" y2="93.58" stroke="#444" stroke-width="0.8"/>
<line x1="268.63" y1="118.30" x2="268.63" y2="119.30" stroke="#444" stroke-width="0.8"/>
<line x1="232.30" y1="90.10" x2="231.30" y2="90.10" stroke="#444" stroke-width="0.8"/>
<line x1="273.19" y1="118.30" x2="273.19" y2="119.30" stroke="#444" stroke-width="0.8"/>
<line x1="232.30" y1="86.61" x2="231.30" y2="86.61" stroke="#444" stroke-width="0.8"/>
<line x1="277.76" y1="118.30" x2="277.76" y2="120.10" stroke="#444" stroke-width="0.8"/>
<line x1="232.30" y1="83.12" x2="230.50" y2="83.12" stroke="#444" stroke-width="0.8"/>
<line x1="282.33" y1="118.30" x2="282.33" y2="119.30" stroke="#444" stroke-width="0.8"/>
<line x1="232.30" y1="79.63" x2="231.30" y2="79.63" stroke="#444" stroke-width="0.8"/>
<line x1="286.89" y1="118.30" x2="286.89" y2="119.30" stroke="#444" stroke-width="0.8"/>
<line x1="232.30" y1="76.14" x2="231.30" y2="76.14" stroke="#444" stroke-width="0.8"/>
<line x1="291.46" y1="118.30" x2="291.46" y2="119.30" stroke="#444" stroke-width="0.8"/>
<line x1="232.30" y1="72.66" x2="231.30" y2="72.66" stroke="#444" stroke-width="0.8"/>
<line x1="296.02" y1="118.30" x2="296.02" y2="119.30" stroke="#444" stroke-width="0.8"/>
<line x1="232.30" y1="69.17" x2="231.30" y2="69.17" stroke="#444" stroke-width="0.8"/>
<line x1="300.59" y1="118.30" x2="300.59" y2="120.10" stroke="#444" stroke-width="0.8"/>
<line x1="232.30" y1="65.68" x2="230.50" y2="65.68" stroke="#444" stroke-width="0.8"/>
<line x1="305.16" y1="118.30" x2="305.16" y2="119.30" stroke="#444" stroke-width="0.8"/>
<line x1="232.30" y1="62.19" x2="231.30" y2="62.19" stroke="#444" stroke-width="0.8"/>
<line x1="309.72" y1="118.30" x2="309.72" y2="119.30" stroke="#444" stroke-width="0.8"/>
<line x1="232.30" y1="58.70" x2="231.30" y2="58.70" stroke="#444" stroke-width="0.8"/>
<line x1="314.29" y1="118.30" x2="314.29" y2="119.30" stroke="#444" stroke-width="0.8"/>
<line x1="232.30" y1="55.22" x2="231.30" y2="55.22" stroke="#444" stroke-width="0.8"/>
<line x1="318.85" y1="118.30" x2="318.85" y2="119.30" stroke="#444" stroke-width="0.8"/>
<line x1="232.30" y1="51.73" x2="231.30" y2="51.73" stroke="#444" stroke-width="0.8"/>
<line x1="323.42" y1="118.30" x2="323.42" y2="120.10" stroke="#444" stroke-width="0.8"/>
<line x1="232.30" y1="48.24" x2="230.50" y2="48.24" stroke="#444" stroke-width="0.8"/>
<line x1="327.99" y1="118.30" x2="327.99" y2="119.30" stroke="#444" stroke-width="0.8"/>
<line x1="232.30" y1="44.75" x2="231.30" y2="44.75" stroke="#444" stroke-width="0.8"/>
<line x1="332.55" y1="118.30" x2="332.55" y2="119.30" stroke="#444" stroke-width="0.8"/>
<line x1="232.30" y1="41.26" x2="231.30" y2="41.26" stroke="#444" stroke-width="0.8"/>
<line x1="337.12" y1="118.30" x2="337.12" y2="119.30" stroke="#444" stroke-width="0.8"/>
<line x1="232.30" y1="37.78" x2="231.30" y2="37.78" stroke="#444" stroke-width="0.8"/>
<line x1="341.68" y1="118.30" x2="341.68" y2="119.30" stroke="#444" stroke-width="0.8"/>
<line x1="232.30" y1="34.29" x2="231.30" y2="34.29" stroke="#444" stroke-width="0.8"/>
<line x1="346.25" y1="118.30" x2="346.25" y2="120.10" stroke="#444" stroke-width="0.8"/>
<line x1="232.30" y1="30.80" x2="230.50" y2="30.80" stroke="#444" stroke-width="0.8"/>
<text transform="translate(232.10,127.50) scale(1.04,1)" font-family="Liberation Sans" font-size="8.3" font-weight="bold" text-anchor="middle" fill="#000" stroke="#000" stroke-width="0.25">0</text>
<text transform="translate(227.70,118.20) rotate(-90) scale(0.8,1)" font-family="Liberation Sans" font-size="8.3" font-weight="bold" text-anchor="middle" fill="#000" stroke="#000" stroke-width="0.25">0</text>
<text transform="translate(254.93,127.50) scale(1.04,1)" font-family="Liberation Sans" font-size="8.3" font-weight="bold" text-anchor="middle" fill="#000" stroke="#000" stroke-width="0.25">50</text>
<text transform="translate(227.70,100.76) rotate(-90) scale(0.8,1)" font-family="Liberation Sans" font-size="8.3" font-weight="bold" text-anchor="middle" fill="#000" stroke="#000" stroke-width="0.25">50</text>
<text transform="translate(277.76,127.50) scale(1.04,1)" font-family="Liberation Sans" font-size="8.3" font-weight="bold" text-anchor="middle" fill="#000" stroke="#000" stroke-width="0.25">100</text>
<text transform="translate(227.70,83.32) rotate(-90) scale(0.8,1)" font-family="Liberation Sans" font-size="8.3" font-weight="bold" text-anchor="middle" fill="#000" stroke="#000" stroke-width="0.25">100</text>
<text transform="translate(300.59,127.50) scale(1.04,1)" font-family="Liberation Sans" font-size="8.3" font-weight="bold" text-anchor="middle" fill="#000" stroke="#000" stroke-width="0.25">150</text>
<text transform="translate(227.70,65.88) rotate(-90) scale(0.8,1)" font-family="Liberation Sans" font-size="8.3" font-weight="bold" text-anchor="middle" fill="#000" stroke="#000" stroke-width="0.25">150</text>
<text transform="translate(323.42,127.50) scale(1.04,1)" font-family="Liberation Sans" font-size="8.3" font-weight="bold" text-anchor="middle" fill="#000" stroke="#000" stroke-width="0.25">200</text>
<text transform="translate(227.70,48.44) rotate(-90) scale(0.8,1)" font-family="Liberation Sans" font-size="8.3" font-weight="bold" text-anchor="middle" fill="#000" stroke="#000" stroke-width="0.25">200</text>
<text transform="translate(346.25,127.50) scale(1.04,1)" font-family="Liberation Sans" font-size="8.3" font-weight="bold" text-anchor="middle" fill="#000" stroke="#000" stroke-width="0.25">250</text>
<text transform="translate(227.70,31.00) rotate(-90) scale(0.8,1)" font-family="Liberation Sans" font-size="8.3" font-weight="bold" text-anchor="middle" fill="#000" stroke="#000" stroke-width="0.25">250</text>
<rect x="232.30" y="29.90" width="118.00" height="88.40" fill="none" stroke="#333" stroke-width="1"/>
<path d="M291.70,29.90 L350.30,29.90 L350.30,87.30 L280.30,113.60 L252.50,89.90 Z" fill="none" stroke="#333" stroke-width="1" stroke-linejoin="miter"/>
<text transform="translate(239.50,38.10)" font-family="Liberation Sans" font-size="6.8" font-weight="bold" text-anchor="start" fill="#000" stroke="#000" stroke-width="0.15">R1</text>
<text transform="translate(237.50,51.10) scale(0.72,1)" font-family="Liberation Sans" font-size="12.9" font-weight="normal" text-anchor="start" fill="#000" stroke="#000" stroke-width="0.5">45.5%</text>
<line x1="387.70" y1="117.60" x2="387.70" y2="119.40" stroke="#444" stroke-width="0.8"/>
<line x1="387.30" y1="117.30" x2="385.50" y2="117.30" stroke="#444" stroke-width="0.8"/>
<line x1="392.46" y1="117.60" x2="392.46" y2="118.60" stroke="#444" stroke-width="0.8"/>
<line x1="387.30" y1="113.83" x2="386.30" y2="113.83" stroke="#444" stroke-width="0.8"/>
<line x1="397.21" y1="117.60" x2="397.21" y2="118.60" stroke="#444" stroke-width="0.8"/>
<line x1="387.30" y1="110.36" x2="386.30" y2="110.36" stroke="#444" stroke-width="0.8"/>
<line x1="401.97" y1="117.60" x2="401.97" y2="118.60" stroke="#444" stroke-width="0.8"/>
<line x1="387.30" y1="106.88" x2="386.30" y2="106.88" stroke="#444" stroke-width="0.8"/>
<line x1="406.72" y1="117.60" x2="406.72" y2="118.60" stroke="#444" stroke-width="0.8"/>
<line x1="387.30" y1="103.41" x2="386.30" y2="103.41" stroke="#444" stroke-width="0.8"/>
<line x1="411.48" y1="117.60" x2="411.48" y2="119.40" stroke="#444" stroke-width="0.8"/>
<line x1="387.30" y1="99.94" x2="385.50" y2="99.94" stroke="#444" stroke-width="0.8"/>
<line x1="416.24" y1="117.60" x2="416.24" y2="118.60" stroke="#444" stroke-width="0.8"/>
<line x1="387.30" y1="96.47" x2="386.30" y2="96.47" stroke="#444" stroke-width="0.8"/>
<line x1="420.99" y1="117.60" x2="420.99" y2="118.60" stroke="#444" stroke-width="0.8"/>
<line x1="387.30" y1="93.00" x2="386.30" y2="93.00" stroke="#444" stroke-width="0.8"/>
<line x1="425.75" y1="117.60" x2="425.75" y2="118.60" stroke="#444" stroke-width="0.8"/>
<line x1="387.30" y1="89.52" x2="386.30" y2="89.52" stroke="#444" stroke-width="0.8"/>
<line x1="430.50" y1="117.60" x2="430.50" y2="118.60" stroke="#444" stroke-width="0.8"/>
<line x1="387.30" y1="86.05" x2="386.30" y2="86.05" stroke="#444" stroke-width="0.8"/>
<line x1="435.26" y1="117.60" x2="435.26" y2="119.40" stroke="#444" stroke-width="0.8"/>
<line x1="387.30" y1="82.58" x2="385.50" y2="82.58" stroke="#444" stroke-width="0.8"/>
<line x1="440.02" y1="117.60" x2="440.02" y2="118.60" stroke="#444" stroke-width="0.8"/>
<line x1="387.30" y1="79.11" x2="386.30" y2="79.11" stroke="#444" stroke-width="0.8"/>
<line x1="444.77" y1="117.60" x2="444.77" y2="118.60" stroke="#444" stroke-width="0.8"/>
<line x1="387.30" y1="75.64" x2="386.30" y2="75.64" stroke="#444" stroke-width="0.8"/>
<line x1="449.53" y1="117.60" x2="449.53" y2="118.60" stroke="#444" stroke-width="0.8"/>
<line x1="387.30" y1="72.16" x2="386.30" y2="72.16" stroke="#444" stroke-width="0.8"/>
<line x1="454.28" y1="117.60" x2="454.28" y2="118.60" stroke="#444" stroke-width="0.8"/>
<line x1="387.30" y1="68.69" x2="386.30" y2="68.69" stroke="#444" stroke-width="0.8"/>
<line x1="459.04" y1="117.60" x2="459.04" y2="119.40" stroke="#444" stroke-width="0.8"/>
<line x1="387.30" y1="65.22" x2="385.50" y2="65.22" stroke="#444" stroke-width="0.8"/>
<line x1="463.80" y1="117.60" x2="463.80" y2="118.60" stroke="#444" stroke-width="0.8"/>
<line x1="387.30" y1="61.75" x2="386.30" y2="61.75" stroke="#444" stroke-width="0.8"/>
<line x1="468.55" y1="117.60" x2="468.55" y2="118.60" stroke="#444" stroke-width="0.8"/>
<line x1="387.30" y1="58.28" x2="386.30" y2="58.28" stroke="#444" stroke-width="0.8"/>
<line x1="473.31" y1="117.60" x2="473.31" y2="118.60" stroke="#444" stroke-width="0.8"/>
<line x1="387.30" y1="54.80" x2="386.30" y2="54.80" stroke="#444" stroke-width="0.8"/>
<line x1="478.06" y1="117.60" x2="478.06" y2="118.60" stroke="#444" stroke-width="0.8"/>
<line x1="387.30" y1="51.33" x2="386.30" y2="51.33" stroke="#444" stroke-width="0.8"/>
<line x1="482.82" y1="117.60" x2="482.82" y2="119.40" stroke="#444" stroke-width="0.8"/>
<line x1="387.30" y1="47.86" x2="385.50" y2="47.86" stroke="#444" stroke-width="0.8"/>
<line x1="487.58" y1="117.60" x2="487.58" y2="118.60" stroke="#444" stroke-width="0.8"/>
<line x1="387.30" y1="44.39" x2="386.30" y2="44.39" stroke="#444" stroke-width="0.8"/>
<line x1="492.33" y1="117.60" x2="492.33" y2="118.60" stroke="#444" stroke-width="0.8"/>
<line x1="387.30" y1="40.92" x2="386.30" y2="40.92" stroke="#444" stroke-width="0.8"/>
<line x1="497.09" y1="117.60" x2="497.09" y2="118.60" stroke="#444" stroke-width="0.8"/>
<line x1="387.30" y1="37.44" x2="386.30" y2="37.44" stroke="#444" stroke-width="0.8"/>
<line x1="501.84" y1="117.60" x2="501.84" y2="118.60" stroke="#444" stroke-width="0.8"/>
<line x1="387.30" y1="33.97" x2="386.30" y2="33.97" stroke="#444" stroke-width="0.8"/>
<line x1="506.60" y1="117.60" x2="506.60" y2="119.40" stroke="#444" stroke-width="0.8"/>
<line x1="387.30" y1="30.50" x2="385.50" y2="30.50" stroke="#444" stroke-width="0.8"/>
<text transform="translate(387.70,126.80) scale(1.04,1)" font-family="Liberation Sans" font-size="8.3" font-weight="bold" text-anchor="middle" fill="#000" stroke="#000" stroke-width="0.25">0</text>
<text transform="translate(382.70,117.50) rotate(-90) scale(0.8,1)" font-family="Liberation Sans" font-size="8.3" font-weight="bold" text-anchor="middle" fill="#000" stroke="#000" stroke-width="0.25">0</text>
<text transform="translate(411.48,126.80) scale(1.04,1)" font-family="Liberation Sans" font-size="8.3" font-weight="bold" text-anchor="middle" fill="#000" stroke="#000" stroke-width="0.25">50</text>
<text transform="translate(382.70,100.14) rotate(-90) scale(0.8,1)" font-family="Liberation Sans" font-size="8.3" font-weight="bold" text-anchor="middle" fill="#000" stroke="#000" stroke-width="0.25">50</text>
<text transform="translate(435.26,126.80) scale(1.04,1)" font-family="Liberation Sans" font-size="8.3" font-weight="bold" text-anchor="middle" fill="#000" stroke="#000" stroke-width="0.25">100</text>
<text transform="translate(382.70,82.78) rotate(-90) scale(0.8,1)" font-family="Liberation Sans" font-size="8.3" font-weight="bold" text-anchor="middle" fill="#000" stroke="#000" stroke-width="0.25">100</text>
<text transform="translate(459.04,126.80) scale(1.04,1)" font-family="Liberation Sans" font-size="8.3" font-weight="bold" text-anchor="middle" fill="#000" stroke="#000" stroke-width="0.25">150</text>
<text transform="translate(382.70,65.42) rotate(-90) scale(0.8,1)" font-family="Liberation Sans" font-size="8.3" font-weight="bold" text-anchor="middle" fill="#000" stroke="#000" stroke-width="0.25">150</text>
<text transform="translate(482.82,126.80) scale(1.04,1)" font-family="Liberation Sans" font-size="8.3" font-weight="bold" text-anchor="middle" fill="#000" stroke="#000" stroke-width="0.25">200</text>
<text transform="translate(382.70,48.06) rotate(-90) scale(0.8,1)" font-family="Liberation Sans" font-size="8.3" font-weight="bold" text-anchor="middle" fill="#000" stroke="#000" stroke-width="0.25">200</text>
<text transform="translate(506.60,126.80) scale(1.04,1)" font-family="Liberation Sans" font-size="8.3" font-weight="bold" text-anchor="middle" fill="#000" stroke="#000" stroke-width="0.25">250</text>
<text transform="translate(382.70,30.70) rotate(-90) scale(0.8,1)" font-family="Liberation Sans" font-size="8.3" font-weight="bold" text-anchor="middle" fill="#000" stroke="#000" stroke-width="0.25">250</text>
<rect x="387.30" y="29.60" width="121.70" height="88.00" fill="none" stroke="#333" stroke-width="1"/>
<path d="M448.20,29.60 L509.00,29.60 L509.00,86.30 L436.10,113.20 L408.50,89.50 Z" fill="none" stroke="#333" stroke-width="1" stroke-linejoin="miter"/>
<text transform="translate(393.80,37.80)" font-family="Liberation Sans" font-size="6.8" font-weight="bold" text-anchor="start" fill="#000" stroke="#000" stroke-width="0.15">R1</text>
<text transform="translate(394.30,51.20) scale(0.72,1)" font-family="Liberation Sans" font-size="12.9" font-weight="normal" text-anchor="start" fill="#000" stroke="#000" stroke-width="0.5">50.5%</text>
<line x1="76.30" y1="284.30" x2="76.30" y2="286.10" stroke="#444" stroke-width="0.7"/>
<line x1="76.30" y1="284.30" x2="74.50" y2="284.30" stroke="#444" stroke-width="0.7"/>
<line x1="85.13" y1="284.30" x2="85.13" y2="285.30" stroke="#444" stroke-width="0.7"/>
<line x1="76.30" y1="277.16" x2="75.30" y2="277.16" stroke="#444" stroke-width="0.7"/>
<line x1="90.29" y1="284.30" x2="90.29" y2="285.30" stroke="#444" stroke-width="0.7"/>
<line x1="76.30" y1="272.98" x2="75.30" y2="272.98" stroke="#444" stroke-width="0.7"/>
<line x1="93.96" y1="284.30" x2="93.96" y2="285.30" stroke="#444" stroke-width="0.7"/>
<line x1="76.30" y1="270.02" x2="75.30" y2="270.02" stroke="#444" stroke-width="0.7"/>
<line x1="96.80" y1="284.30" x2="96.80" y2="285.30" stroke="#444" stroke-width="0.7"/>
<line x1="76.30" y1="267.72" x2="75.30" y2="267.72" stroke="#444" stroke-width="0.7"/>
<line x1="99.12" y1="284.30" x2="99.12" y2="285.30" stroke="#444" stroke-width="0.7"/>
<line x1="76.30" y1="265.84" x2="75.30" y2="265.84" stroke="#444" stroke-width="0.7"/>
<line x1="101.08" y1="284.30" x2="101.08" y2="285.30" stroke="#444" stroke-width="0.7"/>
<line x1="76.30" y1="264.25" x2="75.30" y2="264.25" stroke="#444" stroke-width="0.7"/>
<line x1="102.78" y1="284.30" x2="102.78" y2="285.30" stroke="#444" stroke-width="0.7"/>
<line x1="76.30" y1="262.87" x2="75.30" y2="262.87" stroke="#444" stroke-width="0.7"/>
<line x1="104.28" y1="284.30" x2="104.28" y2="285.30" stroke="#444" stroke-width="0.7"/>
<line x1="76.30" y1="261.66" x2="75.30" y2="261.66" stroke="#444" stroke-width="0.7"/>
<line x1="105.62" y1="284.30" x2="105.62" y2="286.10" stroke="#444" stroke-width="0.7"/>
<line x1="76.30" y1="260.57" x2="74.50" y2="260.57" stroke="#444" stroke-width="0.7"/>
<line x1="114.45" y1="284.30" x2="114.45" y2="285.30" stroke="#444" stroke-width="0.7"/>
<line x1="76.30" y1="253.43" x2="75.30" y2="253.43" stroke="#444" stroke-width="0.7"/>
<line x1="119.62" y1="284.30" x2="119.62" y2="285.30" stroke="#444" stroke-width="0.7"/>
<line x1="76.30" y1="249.26" x2="75.30" y2="249.26" stroke="#444" stroke-width="0.7"/>
<line x1="123.28" y1="284.30" x2="123.28" y2="285.30" stroke="#444" stroke-width="0.7"/>
<line x1="76.30" y1="246.29" x2="75.30" y2="246.29" stroke="#444" stroke-width="0.7"/>
<line x1="126.12" y1="284.30" x2="126.12" y2="285.30" stroke="#444" stroke-width="0.7"/>
<line x1="76.30" y1="243.99" x2="75.30" y2="243.99" stroke="#444" stroke-width="0.7"/>
<line x1="128.44" y1="284.30" x2="128.44" y2="285.30" stroke="#444" stroke-width="0.7"/>
<line x1="76.30" y1="242.11" x2="75.30" y2="242.11" stroke="#444" stroke-width="0.7"/>
<line x1="130.41" y1="284.30" x2="130.41" y2="285.30" stroke="#444" stroke-width="0.7"/>
<line x1="76.30" y1="240.53" x2="75.30" y2="240.53" stroke="#444" stroke-width="0.7"/>
<line x1="132.11" y1="284.30" x2="132.11" y2="285.30" stroke="#444" stroke-width="0.7"/>
<line x1="76.30" y1="239.15" x2="75.30" y2="239.15" stroke="#444" stroke-width="0.7"/>
<line x1="133.61" y1="284.30" x2="133.61" y2="285.30" stroke="#444" stroke-width="0.7"/>
<line x1="76.30" y1="237.94" x2="75.30" y2="237.94" stroke="#444" stroke-width="0.7"/>
<line x1="134.95" y1="284.30" x2="134.95" y2="286.10" stroke="#444" stroke-width="0.7"/>
<line x1="76.30" y1="236.85" x2="74.50" y2="236.85" stroke="#444" stroke-width="0.7"/>
<line x1="143.78" y1="284.30" x2="143.78" y2="285.30" stroke="#444" stroke-width="0.7"/>
<line x1="76.30" y1="229.71" x2="75.30" y2="229.71" stroke="#444" stroke-width="0.7"/>
<line x1="148.94" y1="284.30" x2="148.94" y2="285.30" stroke="#444" stroke-width="0.7"/>
<line x1="76.30" y1="225.53" x2="75.30" y2="225.53" stroke="#444" stroke-width="0.7"/>
<line x1="152.61" y1="284.30" x2="152.61" y2="285.30" stroke="#444" stroke-width="0.7"/>
<line x1="76.30" y1="222.57" x2="75.30" y2="222.57" stroke="#444" stroke-width="0.7"/>
<line x1="155.45" y1="284.30" x2="155.45" y2="285.30" stroke="#444" stroke-width="0.7"/>
<line x1="76.30" y1="220.27" x2="75.30" y2="220.27" stroke="#444" stroke-width="0.7"/>
<line x1="157.77" y1="284.30" x2="157.77" y2="285.30" stroke="#444" stroke-width="0.7"/>
<line x1="76.30" y1="218.39" x2="75.30" y2="218.39" stroke="#444" stroke-width="0.7"/>
<line x1="159.73" y1="284.30" x2="159.73" y2="285.30" stroke="#444" stroke-width="0.7"/>
<line x1="76.30" y1="216.80" x2="75.30" y2="216.80" stroke="#444" stroke-width="0.7"/>
<line x1="161.43" y1="284.30" x2="161.43" y2="285.30" stroke="#444" stroke-width="0.7"/>
<line x1="76.30" y1="215.42" x2="75.30" y2="215.42" stroke="#444" stroke-width="0.7"/>
<line x1="162.93" y1="284.30" x2="162.93" y2="285.30" stroke="#444" stroke-width="0.7"/>
<line x1="76.30" y1="214.21" x2="75.30" y2="214.21" stroke="#444" stroke-width="0.7"/>
<line x1="164.27" y1="284.30" x2="164.27" y2="286.10" stroke="#444" stroke-width="0.7"/>
<line x1="76.30" y1="213.12" x2="74.50" y2="213.12" stroke="#444" stroke-width="0.7"/>
<line x1="173.10" y1="284.30" x2="173.10" y2="285.30" stroke="#444" stroke-width="0.7"/>
<line x1="76.30" y1="205.98" x2="75.30" y2="205.98" stroke="#444" stroke-width="0.7"/>
<line x1="178.27" y1="284.30" x2="178.27" y2="285.30" stroke="#444" stroke-width="0.7"/>
<line x1="76.30" y1="201.81" x2="75.30" y2="201.81" stroke="#444" stroke-width="0.7"/>
<line x1="181.93" y1="284.30" x2="181.93" y2="285.30" stroke="#444" stroke-width="0.7"/>
<line x1="76.30" y1="198.84" x2="75.30" y2="198.84" stroke="#444" stroke-width="0.7"/>
<line x1="184.77" y1="284.30" x2="184.77" y2="285.30" stroke="#444" stroke-width="0.7"/>
<line x1="76.30" y1="196.54" x2="75.30" y2="196.54" stroke="#444" stroke-width="0.7"/>
<line x1="187.09" y1="284.30" x2="187.09" y2="285.30" stroke="#444" stroke-width="0.7"/>
<line x1="76.30" y1="194.66" x2="75.30" y2="194.66" stroke="#444" stroke-width="0.7"/>
<line x1="189.06" y1="284.30" x2="189.06" y2="285.30" stroke="#444" stroke-width="0.7"/>
<line x1="76.30" y1="193.08" x2="75.30" y2="193.08" stroke="#444" stroke-width="0.7"/>
<line x1="190.76" y1="284.30" x2="190.76" y2="285.30" stroke="#444" stroke-width="0.7"/>
<line x1="76.30" y1="191.70" x2="75.30" y2="191.70" stroke="#444" stroke-width="0.7"/>
<line x1="192.26" y1="284.30" x2="192.26" y2="285.30" stroke="#444" stroke-width="0.7"/>
<line x1="76.30" y1="190.49" x2="75.30" y2="190.49" stroke="#444" stroke-width="0.7"/>
<text x="73.10" y="293.10" font-family="Liberation Sans" font-size="7" fill="#000" stroke="#000" stroke-width="0.35">10<tspan font-size="5.5" dy="-1.9">0</tspan></text>
<text transform="translate(73.70,285.90) rotate(-90)" font-family="Liberation Sans" font-size="6.2" fill="#111" stroke="#111" stroke-width="0.25">10<tspan font-size="4.8" dy="-1.6">0</tspan></text>
<text x="102.42" y="293.10" font-family="Liberation Sans" font-size="7" fill="#000" stroke="#000" stroke-width="0.35">10<tspan font-size="5.5" dy="-1.9">1</tspan></text>
<text transform="translate(73.70,265.47) rotate(-90)" font-family="Liberation Sans" font-size="6.2" fill="#111" stroke="#111" stroke-width="0.25">10<tspan font-size="4.8" dy="-1.6">1</tspan></text>
<text x="131.75" y="293.10" font-family="Liberation Sans" font-size="7" fill="#000" stroke="#000" stroke-width="0.35">10<tspan font-size="5.5" dy="-1.9">2</tspan></text>
<text transform="translate(73.70,241.75) rotate(-90)" font-family="Liberation Sans" font-size="6.2" fill="#111" stroke="#111" stroke-width="0.25">10<tspan font-size="4.8" dy="-1.6">2</tspan></text>
<text x="161.07" y="293.10" font-family="Liberation Sans" font-size="7" fill="#000" stroke="#000" stroke-width="0.35">10<tspan font-size="5.5" dy="-1.9">3</tspan></text>
<text transform="translate(73.70,218.03) rotate(-90)" font-family="Liberation Sans" font-size="6.2" fill="#111" stroke="#111" stroke-width="0.25">10<tspan font-size="4.8" dy="-1.6">3</tspan></text>
<text x="190.40" y="293.10" font-family="Liberation Sans" font-size="7" fill="#000" stroke="#000" stroke-width="0.35">10<tspan font-size="5.5" dy="-1.9">4</tspan></text>
<text transform="translate(73.70,194.30) rotate(-90)" font-family="Liberation Sans" font-size="6.2" fill="#111" stroke="#111" stroke-width="0.25">10<tspan font-size="4.8" dy="-1.6">4</tspan></text>
<rect x="76.30" y="189.40" width="117.30" height="94.90" fill="none" stroke="#333" stroke-width="1"/>
<text transform="translate(195.90,187.00)" font-family="Liberation Sans" font-size="7.5" font-weight="bold" text-anchor="end" fill="#222" >60% Log</text>
<line x1="232.70" y1="283.90" x2="232.70" y2="285.70" stroke="#444" stroke-width="0.7"/>
<line x1="232.70" y1="283.90" x2="230.90" y2="283.90" stroke="#444" stroke-width="0.7"/>
<line x1="241.75" y1="283.90" x2="241.75" y2="284.90" stroke="#444" stroke-width="0.7"/>
<line x1="232.70" y1="276.62" x2="231.70" y2="276.62" stroke="#444" stroke-width="0.7"/>
<line x1="247.04" y1="283.90" x2="247.04" y2="284.90" stroke="#444" stroke-width="0.7"/>
<line x1="232.70" y1="272.37" x2="231.70" y2="272.37" stroke="#444" stroke-width="0.7"/>
<line x1="250.79" y1="283.90" x2="250.79" y2="284.90" stroke="#444" stroke-width="0.7"/>
<line x1="232.70" y1="269.35" x2="231.70" y2="269.35" stroke="#444" stroke-width="0.7"/>
<line x1="253.70" y1="283.90" x2="253.70" y2="284.90" stroke="#444" stroke-width="0.7"/>
<line x1="232.70" y1="267.00" x2="231.70" y2="267.00" stroke="#444" stroke-width="0.7"/>
<line x1="256.08" y1="283.90" x2="256.08" y2="284.90" stroke="#444" stroke-width="0.7"/>
<line x1="232.70" y1="265.09" x2="231.70" y2="265.09" stroke="#444" stroke-width="0.7"/>
<line x1="258.10" y1="283.90" x2="258.10" y2="284.90" stroke="#444" stroke-width="0.7"/>
<line x1="232.70" y1="263.47" x2="231.70" y2="263.47" stroke="#444" stroke-width="0.7"/>
<line x1="259.84" y1="283.90" x2="259.84" y2="284.90" stroke="#444" stroke-width="0.7"/>
<line x1="232.70" y1="262.07" x2="231.70" y2="262.07" stroke="#444" stroke-width="0.7"/>
<line x1="261.37" y1="283.90" x2="261.37" y2="284.90" stroke="#444" stroke-width="0.7"/>
<line x1="232.70" y1="260.83" x2="231.70" y2="260.83" stroke="#444" stroke-width="0.7"/>
<line x1="262.75" y1="283.90" x2="262.75" y2="285.70" stroke="#444" stroke-width="0.7"/>
<line x1="232.70" y1="259.72" x2="230.90" y2="259.72" stroke="#444" stroke-width="0.7"/>
<line x1="271.80" y1="283.90" x2="271.80" y2="284.90" stroke="#444" stroke-width="0.7"/>
<line x1="232.70" y1="252.45" x2="231.70" y2="252.45" stroke="#444" stroke-width="0.7"/>
<line x1="277.09" y1="283.90" x2="277.09" y2="284.90" stroke="#444" stroke-width="0.7"/>
<line x1="232.70" y1="248.19" x2="231.70" y2="248.19" stroke="#444" stroke-width="0.7"/>
<line x1="280.84" y1="283.90" x2="280.84" y2="284.90" stroke="#444" stroke-width="0.7"/>
<line x1="232.70" y1="245.17" x2="231.70" y2="245.17" stroke="#444" stroke-width="0.7"/>
<line x1="283.75" y1="283.90" x2="283.75" y2="284.90" stroke="#444" stroke-width="0.7"/>
<line x1="232.70" y1="242.83" x2="231.70" y2="242.83" stroke="#444" stroke-width="0.7"/>
<line x1="286.13" y1="283.90" x2="286.13" y2="284.90" stroke="#444" stroke-width="0.7"/>
<line x1="232.70" y1="240.91" x2="231.70" y2="240.91" stroke="#444" stroke-width="0.7"/>
<line x1="288.15" y1="283.90" x2="288.15" y2="284.90" stroke="#444" stroke-width="0.7"/>
<line x1="232.70" y1="239.29" x2="231.70" y2="239.29" stroke="#444" stroke-width="0.7"/>
<line x1="289.89" y1="283.90" x2="289.89" y2="284.90" stroke="#444" stroke-width="0.7"/>
<line x1="232.70" y1="237.89" x2="231.70" y2="237.89" stroke="#444" stroke-width="0.7"/>
<line x1="291.42" y1="283.90" x2="291.42" y2="284.90" stroke="#444" stroke-width="0.7"/>
<line x1="232.70" y1="236.66" x2="231.70" y2="236.66" stroke="#444" stroke-width="0.7"/>
<line x1="292.80" y1="283.90" x2="292.80" y2="285.70" stroke="#444" stroke-width="0.7"/>
<line x1="232.70" y1="235.55" x2="230.90" y2="235.55" stroke="#444" stroke-width="0.7"/>
<line x1="301.85" y1="283.90" x2="301.85" y2="284.90" stroke="#444" stroke-width="0.7"/>
<line x1="232.70" y1="228.27" x2="231.70" y2="228.27" stroke="#444" stroke-width="0.7"/>
<line x1="307.14" y1="283.90" x2="307.14" y2="284.90" stroke="#444" stroke-width="0.7"/>
<line x1="232.70" y1="224.02" x2="231.70" y2="224.02" stroke="#444" stroke-width="0.7"/>
<line x1="310.89" y1="283.90" x2="310.89" y2="284.90" stroke="#444" stroke-width="0.7"/>
<line x1="232.70" y1="221.00" x2="231.70" y2="221.00" stroke="#444" stroke-width="0.7"/>
<line x1="313.80" y1="283.90" x2="313.80" y2="284.90" stroke="#444" stroke-width="0.7"/>
<line x1="232.70" y1="218.65" x2="231.70" y2="218.65" stroke="#444" stroke-width="0.7"/>
<line x1="316.18" y1="283.90" x2="316.18" y2="284.90" stroke="#444" stroke-width="0.7"/>
<line x1="232.70" y1="216.74" x2="231.70" y2="216.74" stroke="#444" stroke-width="0.7"/>
<line x1="318.20" y1="283.90" x2="318.20" y2="284.90" stroke="#444" stroke-width="0.7"/>
<line x1="232.70" y1="215.12" x2="231.70" y2="215.12" stroke="#444" stroke-width="0.7"/>
<line x1="319.94" y1="283.90" x2="319.94" y2="284.90" stroke="#444" stroke-width="0.7"/>
<line x1="232.70" y1="213.72" x2="231.70" y2="213.72" stroke="#444" stroke-width="0.7"/>
<line x1="321.47" y1="283.90" x2="321.47" y2="284.90" stroke="#444" stroke-width="0.7"/>
<line x1="232.70" y1="212.48" x2="231.70" y2="212.48" stroke="#444" stroke-width="0.7"/>
<line x1="322.85" y1="283.90" x2="322.85" y2="285.70" stroke="#444" stroke-width="0.7"/>
<line x1="232.70" y1="211.38" x2="230.90" y2="211.38" stroke="#444" stroke-width="0.7"/>
<line x1="331.90" y1="283.90" x2="331.90" y2="284.90" stroke="#444" stroke-width="0.7"/>
<line x1="232.70" y1="204.10" x2="231.70" y2="204.10" stroke="#444" stroke-width="0.7"/>
<line x1="337.19" y1="283.90" x2="337.19" y2="284.90" stroke="#444" stroke-width="0.7"/>
<line x1="232.70" y1="199.84" x2="231.70" y2="199.84" stroke="#444" stroke-width="0.7"/>
<line x1="340.94" y1="283.90" x2="340.94" y2="284.90" stroke="#444" stroke-width="0.7"/>
<line x1="232.70" y1="196.82" x2="231.70" y2="196.82" stroke="#444" stroke-width="0.7"/>
<line x1="343.85" y1="283.90" x2="343.85" y2="284.90" stroke="#444" stroke-width="0.7"/>
<line x1="232.70" y1="194.48" x2="231.70" y2="194.48" stroke="#444" stroke-width="0.7"/>
<line x1="346.23" y1="283.90" x2="346.23" y2="284.90" stroke="#444" stroke-width="0.7"/>
<line x1="232.70" y1="192.56" x2="231.70" y2="192.56" stroke="#444" stroke-width="0.7"/>
<line x1="348.25" y1="283.90" x2="348.25" y2="284.90" stroke="#444" stroke-width="0.7"/>
<line x1="232.70" y1="190.94" x2="231.70" y2="190.94" stroke="#444" stroke-width="0.7"/>
<line x1="349.99" y1="283.90" x2="349.99" y2="284.90" stroke="#444" stroke-width="0.7"/>
<line x1="232.70" y1="189.54" x2="231.70" y2="189.54" stroke="#444" stroke-width="0.7"/>
<line x1="351.52" y1="283.90" x2="351.52" y2="284.90" stroke="#444" stroke-width="0.7"/>
<line x1="232.70" y1="188.31" x2="231.70" y2="188.31" stroke="#444" stroke-width="0.7"/>
<text x="229.50" y="292.70" font-family="Liberation Sans" font-size="7" fill="#000" stroke="#000" stroke-width="0.35">10<tspan font-size="5.5" dy="-1.9">0</tspan></text>
<text transform="translate(230.10,285.50) rotate(-90)" font-family="Liberation Sans" font-size="6.2" fill="#111" stroke="#111" stroke-width="0.25">10<tspan font-size="4.8" dy="-1.6">0</tspan></text>
<text x="259.55" y="292.70" font-family="Liberation Sans" font-size="7" fill="#000" stroke="#000" stroke-width="0.35">10<tspan font-size="5.5" dy="-1.9">1</tspan></text>
<text transform="translate(230.10,264.62) rotate(-90)" font-family="Liberation Sans" font-size="6.2" fill="#111" stroke="#111" stroke-width="0.25">10<tspan font-size="4.8" dy="-1.6">1</tspan></text>
<text x="289.60" y="292.70" font-family="Liberation Sans" font-size="7" fill="#000" stroke="#000" stroke-width="0.35">10<tspan font-size="5.5" dy="-1.9">2</tspan></text>
<text transform="translate(230.10,240.45) rotate(-90)" font-family="Liberation Sans" font-size="6.2" fill="#111" stroke="#111" stroke-width="0.25">10<tspan font-size="4.8" dy="-1.6">2</tspan></text>
<text x="319.65" y="292.70" font-family="Liberation Sans" font-size="7" fill="#000" stroke="#000" stroke-width="0.35">10<tspan font-size="5.5" dy="-1.9">3</tspan></text>
<text transform="translate(230.10,216.28) rotate(-90)" font-family="Liberation Sans" font-size="6.2" fill="#111" stroke="#111" stroke-width="0.25">10<tspan font-size="4.8" dy="-1.6">3</tspan></text>
<text x="349.70" y="292.70" font-family="Liberation Sans" font-size="7" fill="#000" stroke="#000" stroke-width="0.35">10<tspan font-size="5.5" dy="-1.9">4</tspan></text>
<text transform="translate(230.10,192.10) rotate(-90)" font-family="Liberation Sans" font-size="6.2" fill="#111" stroke="#111" stroke-width="0.25">10<tspan font-size="4.8" dy="-1.6">4</tspan></text>
<rect x="232.70" y="187.20" width="120.20" height="96.70" fill="none" stroke="#333" stroke-width="1"/>
<text transform="translate(354.50,184.40)" font-family="Liberation Sans" font-size="7.5" font-weight="bold" text-anchor="end" fill="#222" >60% Log</text>
<line x1="388.30" y1="283.30" x2="388.30" y2="285.10" stroke="#444" stroke-width="0.7"/>
<line x1="388.30" y1="283.30" x2="386.50" y2="283.30" stroke="#444" stroke-width="0.7"/>
<line x1="397.53" y1="283.30" x2="397.53" y2="284.30" stroke="#444" stroke-width="0.7"/>
<line x1="388.30" y1="275.88" x2="387.30" y2="275.88" stroke="#444" stroke-width="0.7"/>
<line x1="402.94" y1="283.30" x2="402.94" y2="284.30" stroke="#444" stroke-width="0.7"/>
<line x1="388.30" y1="271.54" x2="387.30" y2="271.54" stroke="#444" stroke-width="0.7"/>
<line x1="406.77" y1="283.30" x2="406.77" y2="284.30" stroke="#444" stroke-width="0.7"/>
<line x1="388.30" y1="268.46" x2="387.30" y2="268.46" stroke="#444" stroke-width="0.7"/>
<line x1="409.74" y1="283.30" x2="409.74" y2="284.30" stroke="#444" stroke-width="0.7"/>
<line x1="388.30" y1="266.07" x2="387.30" y2="266.07" stroke="#444" stroke-width="0.7"/>
<line x1="412.17" y1="283.30" x2="412.17" y2="284.30" stroke="#444" stroke-width="0.7"/>
<line x1="388.30" y1="264.12" x2="387.30" y2="264.12" stroke="#444" stroke-width="0.7"/>
<line x1="414.22" y1="283.30" x2="414.22" y2="284.30" stroke="#444" stroke-width="0.7"/>
<line x1="388.30" y1="262.47" x2="387.30" y2="262.47" stroke="#444" stroke-width="0.7"/>
<line x1="416.00" y1="283.30" x2="416.00" y2="284.30" stroke="#444" stroke-width="0.7"/>
<line x1="388.30" y1="261.04" x2="387.30" y2="261.04" stroke="#444" stroke-width="0.7"/>
<line x1="417.57" y1="283.30" x2="417.57" y2="284.30" stroke="#444" stroke-width="0.7"/>
<line x1="388.30" y1="259.78" x2="387.30" y2="259.78" stroke="#444" stroke-width="0.7"/>
<line x1="418.98" y1="283.30" x2="418.98" y2="285.10" stroke="#444" stroke-width="0.7"/>
<line x1="388.30" y1="258.65" x2="386.50" y2="258.65" stroke="#444" stroke-width="0.7"/>
<line x1="428.21" y1="283.30" x2="428.21" y2="284.30" stroke="#444" stroke-width="0.7"/>
<line x1="388.30" y1="251.23" x2="387.30" y2="251.23" stroke="#444" stroke-width="0.7"/>
<line x1="433.61" y1="283.30" x2="433.61" y2="284.30" stroke="#444" stroke-width="0.7"/>
<line x1="388.30" y1="246.89" x2="387.30" y2="246.89" stroke="#444" stroke-width="0.7"/>
<line x1="437.44" y1="283.30" x2="437.44" y2="284.30" stroke="#444" stroke-width="0.7"/>
<line x1="388.30" y1="243.81" x2="387.30" y2="243.81" stroke="#444" stroke-width="0.7"/>
<line x1="440.42" y1="283.30" x2="440.42" y2="284.30" stroke="#444" stroke-width="0.7"/>
<line x1="388.30" y1="241.42" x2="387.30" y2="241.42" stroke="#444" stroke-width="0.7"/>
<line x1="442.84" y1="283.30" x2="442.84" y2="284.30" stroke="#444" stroke-width="0.7"/>
<line x1="388.30" y1="239.47" x2="387.30" y2="239.47" stroke="#444" stroke-width="0.7"/>
<line x1="444.90" y1="283.30" x2="444.90" y2="284.30" stroke="#444" stroke-width="0.7"/>
<line x1="388.30" y1="237.82" x2="387.30" y2="237.82" stroke="#444" stroke-width="0.7"/>
<line x1="446.68" y1="283.30" x2="446.68" y2="284.30" stroke="#444" stroke-width="0.7"/>
<line x1="388.30" y1="236.39" x2="387.30" y2="236.39" stroke="#444" stroke-width="0.7"/>
<line x1="448.25" y1="283.30" x2="448.25" y2="284.30" stroke="#444" stroke-width="0.7"/>
<line x1="388.30" y1="235.13" x2="387.30" y2="235.13" stroke="#444" stroke-width="0.7"/>
<line x1="449.65" y1="283.30" x2="449.65" y2="285.10" stroke="#444" stroke-width="0.7"/>
<line x1="388.30" y1="234.00" x2="386.50" y2="234.00" stroke="#444" stroke-width="0.7"/>
<line x1="458.88" y1="283.30" x2="458.88" y2="284.30" stroke="#444" stroke-width="0.7"/>
<line x1="388.30" y1="226.58" x2="387.30" y2="226.58" stroke="#444" stroke-width="0.7"/>
<line x1="464.29" y1="283.30" x2="464.29" y2="284.30" stroke="#444" stroke-width="0.7"/>
<line x1="388.30" y1="222.24" x2="387.30" y2="222.24" stroke="#444" stroke-width="0.7"/>
<line x1="468.12" y1="283.30" x2="468.12" y2="284.30" stroke="#444" stroke-width="0.7"/>
<line x1="388.30" y1="219.16" x2="387.30" y2="219.16" stroke="#444" stroke-width="0.7"/>
<line x1="471.09" y1="283.30" x2="471.09" y2="284.30" stroke="#444" stroke-width="0.7"/>
<line x1="388.30" y1="216.77" x2="387.30" y2="216.77" stroke="#444" stroke-width="0.7"/>
<line x1="473.52" y1="283.30" x2="473.52" y2="284.30" stroke="#444" stroke-width="0.7"/>
<line x1="388.30" y1="214.82" x2="387.30" y2="214.82" stroke="#444" stroke-width="0.7"/>
<line x1="475.57" y1="283.30" x2="475.57" y2="284.30" stroke="#444" stroke-width="0.7"/>
<line x1="388.30" y1="213.17" x2="387.30" y2="213.17" stroke="#444" stroke-width="0.7"/>
<line x1="477.35" y1="283.30" x2="477.35" y2="284.30" stroke="#444" stroke-width="0.7"/>
<line x1="388.30" y1="211.74" x2="387.30" y2="211.74" stroke="#444" stroke-width="0.7"/>
<line x1="478.92" y1="283.30" x2="478.92" y2="284.30" stroke="#444" stroke-width="0.7"/>
<line x1="388.30" y1="210.48" x2="387.30" y2="210.48" stroke="#444" stroke-width="0.7"/>
<line x1="480.32" y1="283.30" x2="480.32" y2="285.10" stroke="#444" stroke-width="0.7"/>
<line x1="388.30" y1="209.35" x2="386.50" y2="209.35" stroke="#444" stroke-width="0.7"/>
<line x1="489.56" y1="283.30" x2="489.56" y2="284.30" stroke="#444" stroke-width="0.7"/>
<line x1="388.30" y1="201.93" x2="387.30" y2="201.93" stroke="#444" stroke-width="0.7"/>
<line x1="494.96" y1="283.30" x2="494.96" y2="284.30" stroke="#444" stroke-width="0.7"/>
<line x1="388.30" y1="197.59" x2="387.30" y2="197.59" stroke="#444" stroke-width="0.7"/>
<line x1="498.79" y1="283.30" x2="498.79" y2="284.30" stroke="#444" stroke-width="0.7"/>
<line x1="388.30" y1="194.51" x2="387.30" y2="194.51" stroke="#444" stroke-width="0.7"/>
<line x1="501.77" y1="283.30" x2="501.77" y2="284.30" stroke="#444" stroke-width="0.7"/>
<line x1="388.30" y1="192.12" x2="387.30" y2="192.12" stroke="#444" stroke-width="0.7"/>
<line x1="504.19" y1="283.30" x2="504.19" y2="284.30" stroke="#444" stroke-width="0.7"/>
<line x1="388.30" y1="190.17" x2="387.30" y2="190.17" stroke="#444" stroke-width="0.7"/>
<line x1="506.25" y1="283.30" x2="506.25" y2="284.30" stroke="#444" stroke-width="0.7"/>
<line x1="388.30" y1="188.52" x2="387.30" y2="188.52" stroke="#444" stroke-width="0.7"/>
<line x1="508.03" y1="283.30" x2="508.03" y2="284.30" stroke="#444" stroke-width="0.7"/>
<line x1="388.30" y1="187.09" x2="387.30" y2="187.09" stroke="#444" stroke-width="0.7"/>
<line x1="509.60" y1="283.30" x2="509.60" y2="284.30" stroke="#444" stroke-width="0.7"/>
<line x1="388.30" y1="185.83" x2="387.30" y2="185.83" stroke="#444" stroke-width="0.7"/>
<text x="385.10" y="292.10" font-family="Liberation Sans" font-size="7" fill="#000" stroke="#000" stroke-width="0.35">10<tspan font-size="5.5" dy="-1.9">0</tspan></text>
<text transform="translate(385.70,284.90) rotate(-90)" font-family="Liberation Sans" font-size="6.2" fill="#111" stroke="#111" stroke-width="0.25">10<tspan font-size="4.8" dy="-1.6">0</tspan></text>
<text x="415.78" y="292.10" font-family="Liberation Sans" font-size="7" fill="#000" stroke="#000" stroke-width="0.35">10<tspan font-size="5.5" dy="-1.9">1</tspan></text>
<text transform="translate(385.70,263.55) rotate(-90)" font-family="Liberation Sans" font-size="6.2" fill="#111" stroke="#111" stroke-width="0.25">10<tspan font-size="4.8" dy="-1.6">1</tspan></text>
<text x="446.45" y="292.10" font-family="Liberation Sans" font-size="7" fill="#000" stroke="#000" stroke-width="0.35">10<tspan font-size="5.5" dy="-1.9">2</tspan></text>
<text transform="translate(385.70,238.90) rotate(-90)" font-family="Liberation Sans" font-size="6.2" fill="#111" stroke="#111" stroke-width="0.25">10<tspan font-size="4.8" dy="-1.6">2</tspan></text>
<text x="477.12" y="292.10" font-family="Liberation Sans" font-size="7" fill="#000" stroke="#000" stroke-width="0.35">10<tspan font-size="5.5" dy="-1.9">3</tspan></text>
<text transform="translate(385.70,214.25) rotate(-90)" font-family="Liberation Sans" font-size="6.2" fill="#111" stroke="#111" stroke-width="0.25">10<tspan font-size="4.8" dy="-1.6">3</tspan></text>
<text x="507.80" y="292.10" font-family="Liberation Sans" font-size="7" fill="#000" stroke="#000" stroke-width="0.35">10<tspan font-size="5.5" dy="-1.9">4</tspan></text>
<text transform="translate(385.70,189.60) rotate(-90)" font-family="Liberation Sans" font-size="6.2" fill="#111" stroke="#111" stroke-width="0.25">10<tspan font-size="4.8" dy="-1.6">4</tspan></text>
<rect x="388.30" y="184.70" width="122.70" height="98.60" fill="none" stroke="#333" stroke-width="1"/>
<text transform="translate(513.20,181.60)" font-family="Liberation Sans" font-size="7.5" font-weight="bold" text-anchor="end" fill="#222" >60% Log</text>
<path d="M122.39,230.42 C122.28,231.06 121.97,231.71 121.53,232.25 C121.09,232.78 120.45,233.27 119.75,233.61 C119.05,233.95 118.18,234.20 117.32,234.31 C116.46,234.41 115.49,234.38 114.61,234.22 C113.74,234.07 112.81,233.76 112.04,233.38 C111.27,232.99 110.54,232.45 110.00,231.89 C109.46,231.33 109.02,230.65 108.79,230.00 C108.56,229.35 108.49,228.63 108.61,227.98 C108.72,227.34 109.03,226.69 109.47,226.15 C109.91,225.62 110.55,225.13 111.25,224.79 C111.95,224.45 112.82,224.20 113.68,224.09 C114.54,223.99 115.51,224.02 116.39,224.18 C117.26,224.33 118.19,224.64 118.96,225.02 C119.73,225.41 120.46,225.95 121.00,226.51 C121.54,227.07 121.98,227.75 122.21,228.40 C122.44,229.05 122.51,229.77 122.39,230.42 Z" fill="none" stroke="#333" stroke-width="1.0" stroke-linejoin="round" stroke-linecap="round"/>
<path d="M124.77,231.10 C124.62,232.02 124.26,232.96 123.70,233.74 C123.13,234.53 122.29,235.27 121.36,235.79 C120.43,236.30 119.25,236.67 118.11,236.83 C116.97,236.99 115.69,236.94 114.52,236.75 C113.36,236.56 112.13,236.20 111.10,235.69 C110.07,235.18 109.06,234.46 108.34,233.68 C107.62,232.89 107.06,231.92 106.76,231.00 C106.47,230.07 106.43,229.06 106.57,228.14 C106.72,227.23 107.08,226.28 107.65,225.50 C108.22,224.72 109.05,223.97 109.98,223.45 C110.91,222.94 112.09,222.57 113.23,222.41 C114.37,222.25 115.65,222.30 116.82,222.49 C117.99,222.68 119.21,223.04 120.25,223.55 C121.28,224.06 122.28,224.78 123.01,225.57 C123.73,226.35 124.29,227.32 124.58,228.24 C124.87,229.17 124.92,230.18 124.77,231.10 Z" fill="none" stroke="#333" stroke-width="1.0" stroke-linejoin="round" stroke-linecap="round"/>
<path d="M126.68,231.65 C126.50,232.79 126.10,233.97 125.43,234.95 C124.76,235.93 123.78,236.89 122.66,237.54 C121.55,238.19 120.11,238.65 118.75,238.85 C117.38,239.06 115.85,239.00 114.45,238.78 C113.05,238.56 111.58,238.16 110.34,237.55 C109.10,236.94 107.87,236.07 107.00,235.11 C106.14,234.15 105.48,232.94 105.14,231.80 C104.79,230.66 104.77,229.41 104.94,228.27 C105.12,227.13 105.52,225.95 106.19,224.97 C106.86,223.99 107.85,223.03 108.96,222.38 C110.07,221.73 111.51,221.27 112.87,221.06 C114.24,220.85 115.77,220.92 117.17,221.14 C118.57,221.35 120.04,221.76 121.28,222.37 C122.52,222.98 123.75,223.85 124.62,224.81 C125.48,225.77 126.14,226.98 126.48,228.12 C126.83,229.26 126.85,230.51 126.68,231.65 Z" fill="none" stroke="#333" stroke-width="1.0" stroke-linejoin="round" stroke-linecap="round"/>
<path d="M128.44,232.15 C128.24,233.50 127.80,234.89 127.04,236.06 C126.27,237.23 125.14,238.37 123.86,239.15 C122.58,239.93 120.91,240.48 119.33,240.73 C117.75,240.98 116.00,240.90 114.39,240.66 C112.77,240.41 111.07,239.97 109.64,239.27 C108.20,238.56 106.77,237.55 105.77,236.43 C104.77,235.31 104.02,233.88 103.63,232.54 C103.25,231.20 103.23,229.73 103.44,228.39 C103.64,227.04 104.07,225.65 104.84,224.48 C105.60,223.31 106.73,222.17 108.02,221.39 C109.30,220.61 110.96,220.07 112.54,219.81 C114.12,219.56 115.87,219.64 117.49,219.89 C119.11,220.13 120.80,220.57 122.24,221.27 C123.67,221.98 125.10,222.99 126.10,224.11 C127.10,225.23 127.85,226.66 128.24,228.00 C128.63,229.34 128.64,230.81 128.44,232.15 Z" fill="none" stroke="#333" stroke-width="1.0" stroke-linejoin="round" stroke-linecap="round"/>
<path d="M130.12,232.64 C129.89,234.17 129.42,235.78 128.56,237.12 C127.71,238.46 126.44,239.79 125.00,240.69 C123.55,241.58 121.67,242.21 119.89,242.51 C118.11,242.80 116.14,242.71 114.32,242.44 C112.50,242.17 110.59,241.69 108.97,240.90 C107.35,240.11 105.73,238.96 104.60,237.69 C103.47,236.41 102.64,234.77 102.21,233.24 C101.77,231.71 101.78,230.04 102.00,228.50 C102.23,226.96 102.70,225.36 103.55,224.02 C104.41,222.67 105.67,221.35 107.12,220.45 C108.57,219.55 110.45,218.92 112.23,218.63 C114.01,218.34 115.98,218.43 117.80,218.70 C119.62,218.96 121.53,219.44 123.15,220.23 C124.77,221.03 126.39,222.17 127.52,223.45 C128.64,224.72 129.48,226.36 129.91,227.89 C130.35,229.42 130.34,231.10 130.12,232.64 Z" fill="none" stroke="#333" stroke-width="1.0" stroke-linejoin="round" stroke-linecap="round"/>
<path d="M131.73,233.10 C131.48,234.82 130.97,236.63 130.03,238.14 C129.09,239.65 127.70,241.15 126.09,242.16 C124.49,243.18 122.40,243.89 120.43,244.22 C118.46,244.55 116.28,244.45 114.26,244.15 C112.25,243.86 110.13,243.35 108.33,242.47 C106.53,241.60 104.72,240.32 103.47,238.90 C102.22,237.47 101.31,235.63 100.83,233.92 C100.36,232.20 100.38,230.33 100.62,228.61 C100.87,226.88 101.38,225.08 102.32,223.57 C103.26,222.06 104.66,220.56 106.26,219.54 C107.86,218.53 109.95,217.82 111.92,217.49 C113.90,217.16 116.07,217.26 118.09,217.55 C120.11,217.84 122.22,218.36 124.02,219.23 C125.82,220.11 127.63,221.38 128.88,222.81 C130.13,224.23 131.05,226.07 131.52,227.79 C132.00,229.50 131.98,231.38 131.73,233.10 Z" fill="none" stroke="#333" stroke-width="1.0" stroke-linejoin="round" stroke-linecap="round"/>
<path d="M133.29,233.55 C133.02,235.46 132.48,237.45 131.46,239.12 C130.44,240.80 128.91,242.47 127.16,243.60 C125.41,244.72 123.11,245.51 120.95,245.88 C118.79,246.25 116.41,246.13 114.20,245.82 C112.00,245.50 109.68,244.95 107.71,244.00 C105.74,243.04 103.75,241.64 102.38,240.07 C101.01,238.50 100.01,236.47 99.50,234.58 C98.98,232.68 99.02,230.62 99.29,228.71 C99.56,226.80 100.10,224.81 101.12,223.14 C102.14,221.46 103.67,219.79 105.42,218.66 C107.17,217.54 109.47,216.75 111.63,216.38 C113.79,216.01 116.17,216.13 118.38,216.44 C120.58,216.75 122.90,217.31 124.87,218.26 C126.84,219.22 128.83,220.62 130.20,222.19 C131.57,223.76 132.57,225.79 133.08,227.68 C133.60,229.58 133.56,231.64 133.29,233.55 Z" fill="none" stroke="#333" stroke-width="1.0" stroke-linejoin="round" stroke-linecap="round"/>
<path d="M134.82,233.99 C134.53,236.07 133.95,238.25 132.85,240.09 C131.75,241.92 130.09,243.76 128.20,245.00 C126.30,246.23 123.80,247.09 121.46,247.50 C119.11,247.91 116.54,247.78 114.15,247.44 C111.75,247.11 109.24,246.52 107.10,245.48 C104.96,244.45 102.80,242.93 101.31,241.22 C99.83,239.51 98.75,237.28 98.19,235.22 C97.64,233.15 97.69,230.90 97.98,228.81 C98.27,226.73 98.85,224.55 99.95,222.71 C101.05,220.88 102.71,219.04 104.60,217.80 C106.50,216.57 109.00,215.71 111.34,215.30 C113.69,214.89 116.26,215.02 118.65,215.36 C121.05,215.69 123.56,216.28 125.70,217.32 C127.84,218.35 130.00,219.87 131.49,221.58 C132.97,223.29 134.05,225.52 134.61,227.58 C135.16,229.65 135.11,231.90 134.82,233.99 Z" fill="none" stroke="#333" stroke-width="1.0" stroke-linejoin="round" stroke-linecap="round"/>
<path d="M108.91,261.46 C109.15,261.79 109.27,262.25 109.24,262.72 C109.22,263.20 109.05,263.77 108.77,264.32 C108.50,264.87 108.07,265.47 107.58,266.00 C107.09,266.54 106.46,267.08 105.84,267.52 C105.21,267.96 104.48,268.36 103.81,268.64 C103.15,268.92 102.43,269.11 101.82,269.19 C101.21,269.26 100.62,269.22 100.16,269.08 C99.71,268.94 99.32,268.68 99.09,268.34 C98.85,268.01 98.73,267.55 98.76,267.08 C98.78,266.60 98.95,266.03 99.23,265.48 C99.50,264.93 99.93,264.33 100.42,263.80 C100.91,263.26 101.54,262.72 102.16,262.28 C102.79,261.84 103.52,261.44 104.19,261.16 C104.85,260.88 105.57,260.69 106.18,260.61 C106.79,260.54 107.38,260.58 107.84,260.72 C108.29,260.86 108.68,261.12 108.91,261.46 Z" fill="none" stroke="#333" stroke-width="1.0" stroke-linejoin="round" stroke-linecap="round"/>
<path d="M110.22,260.79 C110.55,261.28 110.72,261.94 110.70,262.62 C110.68,263.29 110.45,264.10 110.08,264.86 C109.70,265.62 109.11,266.45 108.44,267.18 C107.77,267.91 106.92,268.64 106.05,269.23 C105.19,269.81 104.19,270.34 103.26,270.69 C102.34,271.04 101.35,271.27 100.50,271.34 C99.66,271.41 98.83,271.31 98.19,271.08 C97.56,270.85 97.01,270.45 96.68,269.96 C96.35,269.47 96.18,268.81 96.20,268.13 C96.22,267.46 96.45,266.65 96.82,265.89 C97.20,265.13 97.79,264.30 98.46,263.57 C99.13,262.84 99.98,262.11 100.85,261.52 C101.71,260.94 102.71,260.41 103.64,260.06 C104.56,259.71 105.55,259.48 106.40,259.41 C107.24,259.34 108.07,259.44 108.71,259.67 C109.34,259.90 109.89,260.30 110.22,260.79 Z" fill="none" stroke="#333" stroke-width="1.0" stroke-linejoin="round" stroke-linecap="round"/>
<path d="M111.52,260.13 C111.95,260.77 112.18,261.63 112.15,262.51 C112.13,263.39 111.85,264.42 111.38,265.40 C110.90,266.37 110.16,267.43 109.31,268.36 C108.46,269.28 107.37,270.20 106.27,270.93 C105.17,271.66 103.89,272.31 102.71,272.74 C101.53,273.16 100.27,273.44 99.19,273.49 C98.10,273.55 97.04,273.40 96.22,273.08 C95.41,272.76 94.71,272.22 94.28,271.57 C93.85,270.93 93.62,270.07 93.65,269.19 C93.67,268.31 93.95,267.28 94.42,266.30 C94.90,265.33 95.64,264.27 96.49,263.34 C97.34,262.42 98.43,261.50 99.53,260.77 C100.63,260.04 101.91,259.39 103.09,258.96 C104.27,258.54 105.53,258.26 106.61,258.21 C107.70,258.15 108.76,258.30 109.58,258.62 C110.39,258.94 111.09,259.48 111.52,260.13 Z" fill="none" stroke="#333" stroke-width="1.0" stroke-linejoin="round" stroke-linecap="round"/>
<path d="M112.83,259.46 C113.35,260.27 113.63,261.32 113.61,262.40 C113.59,263.48 113.25,264.75 112.68,265.94 C112.11,267.13 111.21,268.42 110.18,269.53 C109.15,270.65 107.82,271.77 106.49,272.64 C105.15,273.52 103.60,274.29 102.16,274.79 C100.73,275.29 99.18,275.60 97.87,275.65 C96.55,275.70 95.25,275.49 94.25,275.08 C93.26,274.68 92.40,274.00 91.87,273.19 C91.35,272.38 91.07,271.33 91.09,270.25 C91.11,269.17 91.45,267.90 92.02,266.71 C92.59,265.52 93.49,264.23 94.52,263.12 C95.55,262.00 96.88,260.88 98.21,260.01 C99.55,259.13 101.10,258.36 102.54,257.86 C103.97,257.36 105.52,257.05 106.83,257.00 C108.15,256.95 109.45,257.16 110.45,257.57 C111.44,257.97 112.30,258.65 112.83,259.46 Z" fill="none" stroke="#333" stroke-width="1.0" stroke-linejoin="round" stroke-linecap="round"/>
<path d="M114.13,258.79 C114.75,259.76 115.09,261.01 115.07,262.29 C115.04,263.57 114.65,265.07 113.98,266.48 C113.31,267.88 112.26,269.40 111.05,270.71 C109.83,272.02 108.27,273.33 106.70,274.35 C105.13,275.37 103.30,276.26 101.61,276.84 C99.92,277.41 98.10,277.76 96.55,277.80 C94.99,277.84 93.47,277.58 92.29,277.09 C91.11,276.59 90.10,275.77 89.47,274.81 C88.85,273.84 88.51,272.59 88.53,271.31 C88.56,270.03 88.95,268.53 89.62,267.12 C90.29,265.72 91.34,264.20 92.55,262.89 C93.77,261.58 95.33,260.27 96.90,259.25 C98.47,258.23 100.30,257.34 101.99,256.76 C103.68,256.19 105.50,255.84 107.05,255.80 C108.61,255.76 110.13,256.02 111.31,256.51 C112.49,257.01 113.50,257.83 114.13,258.79 Z" fill="none" stroke="#333" stroke-width="1.0" stroke-linejoin="round" stroke-linecap="round"/>
<path d="M131.00,217.20 C131.97,217.48 134.97,218.05 136.80,218.90 C138.63,219.75 141.00,220.58 142.00,222.30 C143.00,224.02 142.80,227.20 142.80,229.20 C142.80,231.20 141.57,232.88 142.00,234.30 C142.43,235.72 143.70,236.57 145.40,237.70 C147.10,238.83 150.55,239.88 152.20,241.10 C153.85,242.32 155.17,243.52 155.30,245.00 C155.43,246.48 153.88,248.17 153.00,250.00 C152.12,251.83 150.67,253.50 150.00,256.00 C149.33,258.50 149.00,261.83 149.00,265.00 C149.00,268.17 149.75,271.83 150.00,275.00 C150.25,278.17 150.42,282.50 150.50,284.00" fill="none" stroke="#333" stroke-width="1.0" stroke-linejoin="round" stroke-linecap="round"/>
<path d="M131.00,220.00 C131.83,220.53 134.60,221.67 136.00,223.20 C137.40,224.73 138.98,227.07 139.40,229.20 C139.82,231.33 138.07,234.30 138.50,236.00 C138.93,237.70 140.58,238.27 142.00,239.40 C143.42,240.53 145.75,241.45 147.00,242.80 C148.25,244.15 149.42,245.73 149.50,247.50 C149.58,249.27 148.17,251.32 147.50,253.40 C146.83,255.48 145.67,257.57 145.50,260.00 C145.33,262.43 146.42,265.33 146.50,268.00 C146.58,270.67 146.00,273.33 146.00,276.00 C146.00,278.67 146.42,282.67 146.50,284.00" fill="none" stroke="#333" stroke-width="1.0" stroke-linejoin="round" stroke-linecap="round"/>
<path d="M102.00,256.00 C103.33,255.67 107.67,254.67 110.00,254.00 C112.33,253.33 114.33,252.75 116.00,252.00 C117.67,251.25 118.83,250.25 120.00,249.50 C121.17,248.75 121.67,248.08 123.00,247.50 C124.33,246.92 127.17,246.25 128.00,246.00" fill="none" stroke="#333" stroke-width="1.0" stroke-linejoin="round" stroke-linecap="round"/>
<path d="M104.00,258.50 C105.33,258.17 109.67,257.25 112.00,256.50 C114.33,255.75 116.33,254.92 118.00,254.00 C119.67,253.08 120.67,251.83 122.00,251.00 C123.33,250.17 124.50,249.50 126.00,249.00 C127.50,248.50 130.17,248.17 131.00,248.00" fill="none" stroke="#333" stroke-width="1.0" stroke-linejoin="round" stroke-linecap="round"/>
<path d="M109.00,264.00 C110.00,264.20 113.35,265.10 115.00,265.20 C116.65,265.30 117.70,264.38 118.90,264.60 C120.10,264.82 121.12,265.85 122.20,266.50 C123.28,267.15 124.43,267.92 125.40,268.50 C126.37,269.08 127.35,269.08 128.00,270.00 C128.65,270.92 129.18,272.50 129.30,274.00 C129.42,275.50 128.70,277.33 128.70,279.00 C128.70,280.67 129.20,283.17 129.30,284.00" fill="none" stroke="#333" stroke-width="1.0" stroke-linejoin="round" stroke-linecap="round"/>
<path d="M109.00,271.50 C110.00,270.88 113.33,268.42 115.00,267.80 C116.67,267.18 117.87,267.27 119.00,267.80 C120.13,268.33 121.08,269.63 121.80,271.00 C122.52,272.37 123.10,273.83 123.30,276.00 C123.50,278.17 123.05,282.67 123.00,284.00" fill="none" stroke="#333" stroke-width="1.0" stroke-linejoin="round" stroke-linecap="round"/>
<path d="M128.50,284.00 C129.25,282.83 131.55,279.37 133.00,277.00 C134.45,274.63 136.07,271.55 137.20,269.80 C138.33,268.05 138.83,266.83 139.80,266.50 C140.77,266.17 142.25,266.82 143.00,267.80 C143.75,268.78 143.97,270.55 144.30,272.40 C144.63,274.25 144.78,276.97 145.00,278.90 C145.22,280.83 145.50,283.15 145.60,284.00" fill="none" stroke="#333" stroke-width="1.0" stroke-linejoin="round" stroke-linecap="round"/>
<ellipse cx="134.5" cy="248.8" rx="1.3" ry="1.3" fill="none" stroke="#333" stroke-width="1.0"/>
<ellipse cx="132" cy="265.9" rx="1.0" ry="1.5" fill="none" stroke="#333" stroke-width="1.0"/>
<path d="M286.60,228.00 C286.47,229.08 286.27,230.97 285.50,232.00 C284.73,233.03 283.25,233.95 282.00,234.20 C280.75,234.45 279.08,233.78 278.00,233.50 C276.92,233.22 276.33,232.42 275.50,232.50 C274.67,232.58 273.92,233.83 273.00,234.00 C272.08,234.17 270.78,234.00 270.00,233.50 C269.22,233.00 268.63,231.92 268.30,231.00 C267.97,230.08 267.97,229.00 268.00,228.00 C268.03,227.00 268.08,225.83 268.50,225.00 C268.92,224.17 269.67,223.42 270.50,223.00 C271.33,222.58 272.42,222.58 273.50,222.50 C274.58,222.42 275.75,222.50 277.00,222.50 C278.25,222.50 279.75,222.33 281.00,222.50 C282.25,222.67 283.62,223.00 284.50,223.50 C285.38,224.00 285.95,224.75 286.30,225.50 C286.65,226.25 286.73,226.92 286.60,228.00 Z" fill="none" stroke="#333" stroke-width="1.0" stroke-linejoin="round" stroke-linecap="round"/>
<path d="M287.23,228.29 C287.13,229.67 286.97,231.40 286.21,232.57 C285.46,233.74 284.04,234.85 282.71,235.31 C281.39,235.78 279.60,235.46 278.29,235.36 C276.98,235.26 276.00,234.63 274.86,234.71 C273.71,234.80 272.57,235.83 271.43,235.86 C270.29,235.88 268.91,235.52 268.00,234.86 C267.09,234.19 266.39,232.95 265.97,231.86 C265.55,230.76 265.48,229.45 265.50,228.29 C265.52,227.12 265.62,225.83 266.07,224.86 C266.52,223.88 267.30,222.99 268.21,222.43 C269.13,221.87 270.27,221.71 271.57,221.50 C272.87,221.29 274.48,221.24 276.00,221.14 C277.52,221.05 279.26,220.83 280.71,220.93 C282.17,221.02 283.70,221.15 284.71,221.71 C285.73,222.27 286.41,223.19 286.83,224.29 C287.25,225.38 287.33,226.90 287.23,228.29 Z" fill="none" stroke="#333" stroke-width="1.0" stroke-linejoin="round" stroke-linecap="round"/>
<path d="M287.86,228.57 C287.79,230.25 287.67,231.83 286.93,233.14 C286.19,234.45 284.82,235.75 283.43,236.43 C282.04,237.11 280.11,237.13 278.57,237.21 C277.04,237.30 275.67,236.85 274.21,236.93 C272.76,237.01 271.23,237.83 269.86,237.71 C268.49,237.60 267.04,237.05 266.00,236.21 C264.96,235.38 264.14,233.99 263.64,232.71 C263.14,231.44 263.00,229.90 263.00,228.57 C263.00,227.24 263.15,225.83 263.64,224.71 C264.13,223.60 264.93,222.56 265.93,221.86 C266.93,221.15 268.13,220.85 269.64,220.50 C271.15,220.15 273.20,219.98 275.00,219.79 C276.80,219.60 278.77,219.33 280.43,219.36 C282.08,219.38 283.77,219.31 284.93,219.93 C286.08,220.55 286.87,221.63 287.36,223.07 C287.85,224.51 287.93,226.89 287.86,228.57 Z" fill="none" stroke="#333" stroke-width="1.0" stroke-linejoin="round" stroke-linecap="round"/>
<path d="M288.49,228.86 C288.45,230.83 288.37,232.27 287.64,233.71 C286.92,235.16 285.61,236.65 284.14,237.54 C282.68,238.44 280.62,238.80 278.86,239.07 C277.10,239.34 275.33,239.06 273.57,239.14 C271.81,239.23 269.88,239.83 268.29,239.57 C266.69,239.31 265.16,238.57 264.00,237.57 C262.84,236.57 261.90,235.02 261.31,233.57 C260.73,232.12 260.52,230.36 260.50,228.86 C260.48,227.36 260.69,225.83 261.21,224.57 C261.74,223.31 262.56,222.13 263.64,221.29 C264.73,220.44 265.99,219.98 267.71,219.50 C269.44,219.02 271.93,218.71 274.00,218.43 C276.07,218.14 278.29,217.83 280.14,217.79 C282.00,217.74 283.85,217.46 285.14,218.14 C286.43,218.82 287.33,220.07 287.89,221.86 C288.44,223.64 288.53,226.88 288.49,228.86 Z" fill="none" stroke="#333" stroke-width="1.0" stroke-linejoin="round" stroke-linecap="round"/>
<path d="M289.11,229.14 C289.10,231.42 289.07,232.70 288.36,234.29 C287.65,235.87 286.39,237.55 284.86,238.66 C283.32,239.76 281.13,240.48 279.14,240.93 C277.15,241.38 275.00,241.27 272.93,241.36 C270.86,241.44 268.54,241.83 266.71,241.43 C264.89,241.02 263.29,240.10 262.00,238.93 C260.71,237.76 259.65,236.06 258.99,234.43 C258.32,232.80 258.03,230.81 258.00,229.14 C257.97,227.48 258.23,225.83 258.79,224.43 C259.35,223.02 260.19,221.70 261.36,220.71 C262.52,219.73 263.85,219.11 265.79,218.50 C267.73,217.89 270.65,217.45 273.00,217.07 C275.35,216.69 277.80,216.33 279.86,216.21 C281.92,216.10 283.93,215.62 285.36,216.36 C286.78,217.10 287.79,218.51 288.41,220.64 C289.04,222.77 289.12,226.87 289.11,229.14 Z" fill="none" stroke="#333" stroke-width="1.0" stroke-linejoin="round" stroke-linecap="round"/>
<path d="M289.74,229.43 C289.76,232.00 289.77,233.13 289.07,234.86 C288.38,236.58 287.18,238.45 285.57,239.77 C283.96,241.09 281.64,242.15 279.43,242.79 C277.21,243.42 274.67,243.49 272.29,243.57 C269.90,243.65 267.19,243.83 265.14,243.29 C263.10,242.74 261.41,241.62 260.00,240.29 C258.59,238.95 257.41,237.10 256.66,235.29 C255.91,233.48 255.55,231.26 255.50,229.43 C255.45,227.60 255.76,225.83 256.36,224.29 C256.95,222.74 257.82,221.27 259.07,220.14 C260.32,219.01 261.70,218.24 263.86,217.50 C266.01,216.76 269.38,216.19 272.00,215.71 C274.62,215.24 277.31,214.83 279.57,214.64 C281.83,214.45 284.01,213.77 285.57,214.57 C287.13,215.37 288.25,216.95 288.94,219.43 C289.64,221.90 289.72,226.86 289.74,229.43 Z" fill="none" stroke="#333" stroke-width="1.0" stroke-linejoin="round" stroke-linecap="round"/>
<path d="M290.37,229.71 C290.42,232.58 290.47,233.57 289.79,235.43 C289.10,237.29 287.96,239.35 286.29,240.89 C284.61,242.42 282.15,243.83 279.71,244.64 C277.27,245.46 274.33,245.70 271.64,245.79 C268.95,245.87 265.85,245.83 263.57,245.14 C261.30,244.45 259.54,243.14 258.00,241.64 C256.46,240.14 255.16,238.13 254.33,236.14 C253.50,234.15 253.07,231.71 253.00,229.71 C252.93,227.71 253.30,225.83 253.93,224.14 C254.56,222.45 255.45,220.85 256.79,219.57 C258.12,218.30 259.56,217.37 261.93,216.50 C264.30,215.63 268.11,214.93 271.00,214.36 C273.89,213.79 276.82,213.33 279.29,213.07 C281.75,212.81 284.09,211.93 285.79,212.79 C287.48,213.64 288.71,215.39 289.47,218.21 C290.24,221.04 290.32,226.85 290.37,229.71 Z" fill="none" stroke="#333" stroke-width="1.0" stroke-linejoin="round" stroke-linecap="round"/>
<path d="M291.00,230.00 C291.08,233.17 291.17,234.00 290.50,236.00 C289.83,238.00 288.75,240.25 287.00,242.00 C285.25,243.75 282.67,245.50 280.00,246.50 C277.33,247.50 274.00,247.92 271.00,248.00 C268.00,248.08 264.50,247.83 262.00,247.00 C259.50,246.17 257.67,244.67 256.00,243.00 C254.33,241.33 252.92,239.17 252.00,237.00 C251.08,234.83 250.58,232.17 250.50,230.00 C250.42,227.83 250.83,225.83 251.50,224.00 C252.17,222.17 253.08,220.42 254.50,219.00 C255.92,217.58 257.42,216.50 260.00,215.50 C262.58,214.50 266.83,213.67 270.00,213.00 C273.17,212.33 276.33,211.83 279.00,211.50 C281.67,211.17 284.17,210.08 286.00,211.00 C287.83,211.92 289.17,213.83 290.00,217.00 C290.83,220.17 290.92,226.83 291.00,230.00 Z" fill="none" stroke="#333" stroke-width="1.0" stroke-linejoin="round" stroke-linecap="round"/>
<path d="M267.71,259.46 C268.02,259.84 268.25,260.33 268.33,260.85 C268.41,261.36 268.37,261.98 268.21,262.56 C268.05,263.14 267.75,263.78 267.37,264.34 C266.99,264.90 266.48,265.46 265.94,265.91 C265.41,266.36 264.76,266.77 264.14,267.04 C263.53,267.32 262.85,267.50 262.25,267.56 C261.65,267.61 261.04,267.55 260.54,267.38 C260.05,267.21 259.60,266.91 259.29,266.54 C258.98,266.16 258.75,265.67 258.67,265.15 C258.59,264.64 258.63,264.02 258.79,263.44 C258.95,262.86 259.25,262.22 259.63,261.66 C260.01,261.10 260.52,260.54 261.06,260.09 C261.59,259.64 262.24,259.23 262.86,258.96 C263.47,258.68 264.15,258.50 264.75,258.44 C265.35,258.39 265.96,258.45 266.46,258.62 C266.95,258.79 267.40,259.09 267.71,259.46 Z" fill="none" stroke="#333" stroke-width="1.0" stroke-linejoin="round" stroke-linecap="round"/>
<path d="M269.15,258.59 C269.60,259.15 269.92,259.89 270.03,260.66 C270.14,261.42 270.07,262.33 269.82,263.18 C269.57,264.04 269.12,264.97 268.55,265.79 C267.98,266.61 267.22,267.43 266.41,268.08 C265.61,268.73 264.65,269.31 263.74,269.70 C262.82,270.09 261.82,270.34 260.93,270.41 C260.04,270.47 259.14,270.36 258.41,270.09 C257.69,269.83 257.03,269.36 256.57,268.81 C256.12,268.25 255.80,267.51 255.69,266.74 C255.58,265.98 255.65,265.07 255.90,264.22 C256.15,263.36 256.60,262.43 257.17,261.61 C257.74,260.79 258.50,259.97 259.31,259.32 C260.11,258.67 261.07,258.09 261.98,257.70 C262.90,257.31 263.90,257.06 264.79,256.99 C265.68,256.93 266.58,257.04 267.31,257.31 C268.03,257.57 268.69,258.04 269.15,258.59 Z" fill="none" stroke="#333" stroke-width="1.0" stroke-linejoin="round" stroke-linecap="round"/>
<path d="M270.58,257.72 C271.17,258.47 271.59,259.45 271.73,260.47 C271.87,261.48 271.76,262.68 271.43,263.81 C271.10,264.94 270.49,266.17 269.73,267.24 C268.97,268.32 267.95,269.39 266.89,270.24 C265.82,271.10 264.55,271.85 263.33,272.35 C262.12,272.86 260.78,273.18 259.61,273.25 C258.43,273.33 257.24,273.17 256.28,272.81 C255.32,272.44 254.46,271.82 253.86,271.08 C253.27,270.33 252.85,269.35 252.71,268.33 C252.57,267.32 252.68,266.12 253.01,264.99 C253.34,263.86 253.95,262.63 254.71,261.56 C255.47,260.48 256.49,259.41 257.55,258.56 C258.62,257.70 259.89,256.95 261.11,256.45 C262.32,255.94 263.66,255.62 264.83,255.55 C266.01,255.47 267.20,255.63 268.16,255.99 C269.12,256.36 269.98,256.98 270.58,257.72 Z" fill="none" stroke="#333" stroke-width="1.0" stroke-linejoin="round" stroke-linecap="round"/>
<path d="M272.01,256.85 C272.75,257.78 273.26,259.01 273.43,260.28 C273.60,261.54 273.46,263.03 273.04,264.44 C272.62,265.84 271.86,267.37 270.91,268.70 C269.96,270.03 268.69,271.36 267.36,272.41 C266.03,273.46 264.44,274.40 262.93,275.01 C261.42,275.63 259.75,276.02 258.29,276.10 C256.83,276.19 255.34,275.98 254.15,275.52 C252.96,275.06 251.88,274.28 251.15,273.35 C250.41,272.42 249.90,271.19 249.73,269.92 C249.56,268.66 249.70,267.17 250.12,265.76 C250.54,264.36 251.30,262.83 252.25,261.50 C253.20,260.17 254.47,258.84 255.80,257.79 C257.13,256.74 258.72,255.80 260.23,255.19 C261.74,254.57 263.41,254.18 264.87,254.10 C266.33,254.01 267.82,254.22 269.01,254.68 C270.20,255.14 271.28,255.92 272.01,256.85 Z" fill="none" stroke="#333" stroke-width="1.0" stroke-linejoin="round" stroke-linecap="round"/>
<path d="M273.45,255.98 C274.32,257.10 274.93,258.57 275.13,260.09 C275.33,261.60 275.16,263.39 274.66,265.06 C274.15,266.74 273.23,268.57 272.09,270.15 C270.96,271.74 269.43,273.33 267.83,274.58 C266.24,275.83 264.33,276.94 262.52,277.67 C260.71,278.40 258.72,278.86 256.97,278.95 C255.22,279.04 253.45,278.79 252.02,278.23 C250.60,277.68 249.31,276.74 248.43,275.62 C247.56,274.50 246.95,273.03 246.75,271.51 C246.55,270.00 246.72,268.21 247.22,266.54 C247.73,264.86 248.65,263.03 249.79,261.45 C250.92,259.86 252.45,258.27 254.05,257.02 C255.64,255.77 257.55,254.66 259.36,253.93 C261.17,253.20 263.16,252.74 264.91,252.65 C266.66,252.56 268.43,252.81 269.86,253.37 C271.28,253.92 272.57,254.86 273.45,255.98 Z" fill="none" stroke="#333" stroke-width="1.0" stroke-linejoin="round" stroke-linecap="round"/>
<path d="M274.88,255.11 C275.90,256.42 276.60,258.13 276.83,259.90 C277.06,261.66 276.86,263.74 276.27,265.69 C275.67,267.64 274.60,269.76 273.27,271.61 C271.95,273.45 270.16,275.29 268.30,276.74 C266.44,278.20 264.22,279.48 262.12,280.32 C260.01,281.17 257.69,281.69 255.65,281.80 C253.61,281.90 251.55,281.59 249.89,280.94 C248.24,280.29 246.74,279.20 245.72,277.89 C244.70,276.58 244.00,274.87 243.77,273.10 C243.54,271.34 243.74,269.26 244.33,267.31 C244.93,265.36 246.00,263.24 247.33,261.39 C248.65,259.55 250.44,257.71 252.30,256.26 C254.16,254.80 256.38,253.52 258.48,252.68 C260.59,251.83 262.91,251.31 264.95,251.20 C266.99,251.10 269.05,251.41 270.71,252.06 C272.36,252.71 273.86,253.80 274.88,255.11 Z" fill="none" stroke="#333" stroke-width="1.0" stroke-linejoin="round" stroke-linecap="round"/>
<path d="M290.00,211.00 C291.67,210.97 296.67,210.72 300.00,210.80 C303.33,210.88 307.00,210.80 310.00,211.50 C313.00,212.20 315.83,213.50 318.00,215.00 C320.17,216.50 321.83,218.50 323.00,220.50 C324.17,222.50 324.83,224.75 325.00,227.00 C325.17,229.25 324.58,231.83 324.00,234.00 C323.42,236.17 322.17,238.00 321.50,240.00 C320.83,242.00 320.75,244.00 320.00,246.00 C319.25,248.00 317.92,250.00 317.00,252.00 C316.08,254.00 315.08,255.67 314.50,258.00 C313.92,260.33 313.75,263.17 313.50,266.00 C313.25,268.83 313.17,272.00 313.00,275.00 C312.83,278.00 312.58,282.50 312.50,284.00" fill="none" stroke="#333" stroke-width="1.0" stroke-linejoin="round" stroke-linecap="round"/>
<path d="M290.00,212.80 C291.67,212.80 296.67,212.65 300.00,212.80 C303.33,212.95 307.48,213.08 310.00,213.70 C312.52,214.32 313.49,215.28 315.12,216.50 C316.75,217.72 318.69,219.25 319.80,221.00 C320.91,222.75 321.63,224.83 321.80,227.00 C321.97,229.17 321.33,231.83 320.80,234.00 C320.27,236.17 319.18,238.00 318.62,240.00 C318.06,242.00 318.03,244.00 317.44,246.00 C316.85,248.00 315.84,250.00 315.08,252.00 C314.32,254.00 313.38,255.67 312.90,258.00 C312.42,260.33 312.42,263.17 312.22,266.00 C312.02,268.83 311.89,272.00 311.72,275.00 C311.55,278.00 311.30,282.50 311.22,284.00" fill="none" stroke="#333" stroke-width="1.0" stroke-linejoin="round" stroke-linecap="round"/>
<path d="M290.00,214.60 C291.67,214.63 296.67,214.58 300.00,214.80 C303.33,215.02 307.96,215.37 310.00,215.90 C312.04,216.43 311.14,217.07 312.24,218.00 C313.34,218.93 315.54,220.00 316.60,221.50 C317.66,223.00 318.43,224.92 318.60,227.00 C318.77,229.08 318.08,231.83 317.60,234.00 C317.12,236.17 316.19,238.00 315.74,240.00 C315.29,242.00 315.31,244.00 314.88,246.00 C314.45,248.00 313.76,250.00 313.16,252.00 C312.56,254.00 311.67,255.67 311.30,258.00 C310.93,260.33 311.08,263.17 310.94,266.00 C310.80,268.83 310.61,272.00 310.44,275.00 C310.27,278.00 310.02,282.50 309.94,284.00" fill="none" stroke="#333" stroke-width="1.0" stroke-linejoin="round" stroke-linecap="round"/>
<path d="M290.00,216.40 C291.67,216.47 296.67,216.52 300.00,216.80 C303.33,217.08 308.44,217.65 310.00,218.10 C311.56,218.55 308.79,218.85 309.36,219.50 C309.93,220.15 312.39,220.75 313.40,222.00 C314.41,223.25 315.23,225.00 315.40,227.00 C315.57,229.00 314.82,231.83 314.40,234.00 C313.98,236.17 313.21,238.00 312.86,240.00 C312.51,242.00 312.59,244.00 312.32,246.00 C312.05,248.00 311.68,250.00 311.24,252.00 C310.80,254.00 309.96,255.67 309.70,258.00 C309.44,260.33 309.75,263.17 309.66,266.00 C309.57,268.83 309.33,272.00 309.16,275.00 C308.99,278.00 308.74,282.50 308.66,284.00" fill="none" stroke="#333" stroke-width="1.0" stroke-linejoin="round" stroke-linecap="round"/>
<path d="M266.00,253.00 C267.00,252.33 270.00,250.08 272.00,249.00 C274.00,247.92 275.83,246.83 278.00,246.50 C280.17,246.17 283.83,246.92 285.00,247.00" fill="none" stroke="#333" stroke-width="1.0" stroke-linejoin="round" stroke-linecap="round"/>
<path d="M263.00,251.00 C263.83,250.25 266.17,247.83 268.00,246.50 C269.83,245.17 271.67,243.67 274.00,243.00 C276.33,242.33 280.67,242.58 282.00,242.50" fill="none" stroke="#333" stroke-width="1.0" stroke-linejoin="round" stroke-linecap="round"/>
<ellipse cx="293" cy="255.6" rx="2.8" ry="2.2" fill="none" stroke="#333" stroke-width="1.0"/>
<ellipse cx="246.2" cy="223" rx="1.3" ry="1.3" fill="none" stroke="#333" stroke-width="1.0"/>
<path d="M279.50,284.00 C279.67,282.00 279.75,274.92 280.50,272.00 C281.25,269.08 282.67,267.00 284.00,266.50 C285.33,266.00 287.33,267.25 288.50,269.00 C289.67,270.75 290.45,274.50 291.00,277.00 C291.55,279.50 291.67,282.83 291.80,284.00" fill="none" stroke="#333" stroke-width="1.0" stroke-linejoin="round" stroke-linecap="round"/>
<path d="M290.20,284.00 C290.45,282.17 290.80,275.80 291.70,273.00 C292.60,270.20 294.30,267.92 295.60,267.20 C296.90,266.48 298.60,267.23 299.50,268.70 C300.40,270.17 300.48,273.45 301.00,276.00 C301.52,278.55 302.33,282.67 302.60,284.00" fill="none" stroke="#333" stroke-width="1.0" stroke-linejoin="round" stroke-linecap="round"/>
<path d="M277.00,271.00 C277.67,269.83 279.50,265.67 281.00,264.00 C282.50,262.33 284.33,261.17 286.00,261.00 C287.67,260.83 290.17,262.67 291.00,263.00" fill="none" stroke="#333" stroke-width="1.0" stroke-linejoin="round" stroke-linecap="round"/>
<path d="M296.00,228.00 C296.58,227.00 298.67,221.83 299.50,222.00 C300.33,222.17 301.42,227.00 301.00,229.00 C300.58,231.00 297.67,233.17 297.00,234.00" fill="none" stroke="#333" stroke-width="1.0" stroke-linejoin="round" stroke-linecap="round"/>
<path d="M477.50,228.60 C477.28,229.95 476.68,231.15 476.20,232.32 C475.72,233.49 475.27,234.55 474.63,235.62 C473.99,236.69 473.30,237.97 472.36,238.73 C471.43,239.49 470.12,240.15 469.00,240.15 C467.88,240.15 466.57,239.49 465.64,238.73 C464.70,237.97 464.01,236.69 463.37,235.62 C462.73,234.55 462.28,233.49 461.80,232.32 C461.32,231.15 460.72,229.95 460.50,228.60 C460.28,227.25 460.14,225.53 460.49,224.21 C460.85,222.88 461.71,221.47 462.61,220.63 C463.50,219.78 464.79,219.42 465.86,219.14 C466.92,218.87 467.95,218.95 469.00,218.95 C470.05,218.95 471.08,218.87 472.14,219.14 C473.21,219.42 474.50,219.78 475.39,220.63 C476.29,221.47 477.15,222.88 477.51,224.21 C477.86,225.53 477.72,227.25 477.50,228.60 Z" fill="none" stroke="#333" stroke-width="1.0" stroke-linejoin="round" stroke-linecap="round"/>
<path d="M480.37,228.47 C480.15,230.26 479.58,231.93 478.98,233.53 C478.38,235.13 477.71,236.68 476.77,238.06 C475.83,239.44 474.68,240.93 473.33,241.79 C471.99,242.66 470.24,243.28 468.70,243.28 C467.16,243.28 465.41,242.66 464.07,241.79 C462.72,240.93 461.57,239.44 460.63,238.06 C459.69,236.68 459.02,235.13 458.42,233.53 C457.82,231.93 457.25,230.26 457.03,228.47 C456.82,226.67 456.66,224.51 457.13,222.76 C457.61,221.00 458.68,219.12 459.87,217.95 C461.07,216.79 462.82,216.20 464.29,215.79 C465.76,215.37 467.23,215.48 468.70,215.48 C470.17,215.48 471.64,215.37 473.11,215.79 C474.58,216.20 476.33,216.79 477.53,217.95 C478.72,219.12 479.79,221.00 480.27,222.76 C480.74,224.51 480.58,226.67 480.37,228.47 Z" fill="none" stroke="#333" stroke-width="1.0" stroke-linejoin="round" stroke-linecap="round"/>
<path d="M483.23,228.33 C483.02,230.57 482.47,232.71 481.75,234.74 C481.03,236.77 480.14,238.81 478.90,240.50 C477.66,242.18 476.05,243.88 474.30,244.86 C472.55,245.84 470.37,246.40 468.40,246.40 C466.43,246.40 464.25,245.84 462.50,244.86 C460.75,243.88 459.14,242.18 457.90,240.50 C456.66,238.81 455.77,236.77 455.05,234.74 C454.33,232.71 453.78,230.57 453.57,228.33 C453.35,226.09 453.18,223.48 453.77,221.31 C454.37,219.13 455.65,216.76 457.14,215.28 C458.63,213.80 460.84,212.98 462.71,212.43 C464.59,211.88 466.50,212.00 468.40,212.00 C470.30,212.00 472.21,211.88 474.09,212.43 C475.96,212.98 478.17,213.80 479.66,215.28 C481.15,216.76 482.43,219.13 483.03,221.31 C483.62,223.48 483.45,226.09 483.23,228.33 Z" fill="none" stroke="#333" stroke-width="1.0" stroke-linejoin="round" stroke-linecap="round"/>
<path d="M486.10,228.20 C485.89,230.88 485.37,233.49 484.53,235.95 C483.68,238.41 482.58,240.94 481.04,242.94 C479.50,244.93 477.43,246.83 475.27,247.92 C473.12,249.02 470.49,249.52 468.10,249.52 C465.71,249.52 463.08,249.02 460.93,247.92 C458.77,246.83 456.70,244.93 455.16,242.94 C453.62,240.94 452.52,238.41 451.67,235.95 C450.83,233.49 450.31,230.88 450.10,228.20 C449.89,225.52 449.69,222.46 450.41,219.86 C451.13,217.26 452.62,214.40 454.41,212.61 C456.20,210.81 458.86,209.75 461.14,209.07 C463.42,208.39 465.78,208.52 468.10,208.52 C470.42,208.52 472.78,208.39 475.06,209.07 C477.34,209.75 480.00,210.81 481.79,212.61 C483.58,214.40 485.07,217.26 485.79,219.86 C486.51,222.46 486.31,225.52 486.10,228.20 Z" fill="none" stroke="#333" stroke-width="1.0" stroke-linejoin="round" stroke-linecap="round"/>
<path d="M447.00,213.00 C448.17,212.08 450.83,208.75 454.00,207.50 C457.17,206.25 461.67,205.58 466.00,205.50 C470.33,205.42 476.58,205.58 480.00,207.00 C483.42,208.42 485.30,210.50 486.50,214.00 C487.70,217.50 487.20,223.50 487.20,228.00 C487.20,232.50 487.37,237.58 486.50,241.00 C485.63,244.42 484.75,246.75 482.00,248.50 C479.25,250.25 474.00,251.08 470.00,251.50 C466.00,251.92 461.33,251.58 458.00,251.00 C454.67,250.42 451.33,248.50 450.00,248.00" fill="none" stroke="#333" stroke-width="1.0" stroke-linejoin="round" stroke-linecap="round"/>
<path d="M445.00,211.00 C446.17,210.13 448.50,206.97 452.00,205.80 C455.50,204.63 461.17,204.02 466.00,204.00 C470.83,203.98 477.37,204.20 481.00,205.70 C484.63,207.20 486.55,209.28 487.80,213.00 C489.05,216.72 488.50,223.17 488.50,228.00 C488.50,232.83 488.72,238.25 487.80,242.00 C486.88,245.75 485.97,248.58 483.00,250.50 C480.03,252.42 474.33,253.00 470.00,253.50 C465.67,254.00 460.67,253.92 457.00,253.50 C453.33,253.08 450.50,252.25 448.00,251.00 C445.50,249.75 443.00,246.83 442.00,246.00" fill="none" stroke="#333" stroke-width="1.0" stroke-linejoin="round" stroke-linecap="round"/>
<path d="M398.00,227.00 C398.42,228.58 400.17,230.75 402.50,231.50 C404.83,232.25 410.00,230.58 412.00,231.50 C414.00,232.42 414.42,234.92 414.50,237.00 C414.58,239.08 414.08,242.08 412.50,244.00 C410.92,245.92 407.33,246.83 405.00,248.50 C402.67,250.17 399.75,251.58 398.50,254.00 C397.25,256.42 397.33,259.67 397.50,263.00 C397.67,266.33 398.08,271.00 399.50,274.00 C400.92,277.00 402.92,279.58 406.00,281.00 C409.08,282.42 414.17,282.92 418.00,282.50 C421.83,282.08 426.00,280.50 429.00,278.50 C432.00,276.50 434.00,272.58 436.00,270.50 C438.00,268.42 439.33,266.42 441.00,266.00 C442.67,265.58 444.75,266.50 446.00,268.00 C447.25,269.50 447.92,272.42 448.50,275.00 C449.08,277.58 448.33,282.08 449.50,283.50 C450.67,284.92 454.33,284.92 455.50,283.50 C456.67,282.08 455.83,277.83 456.50,275.00 C457.17,272.17 457.92,269.08 459.50,266.50 C461.08,263.92 463.42,261.50 466.00,259.50 C468.58,257.50 472.00,256.00 475.00,254.50 C478.00,253.00 481.58,252.25 484.00,250.50 C486.42,248.75 488.42,248.25 489.50,244.00 C490.58,239.75 490.58,230.50 490.50,225.00 C490.42,219.50 490.42,214.58 489.00,211.00 C487.58,207.42 485.83,205.08 482.00,203.50 C478.17,201.92 471.00,201.58 466.00,201.50 C461.00,201.42 455.83,201.83 452.00,203.00 C448.17,204.17 446.17,206.67 443.00,208.50 C439.83,210.33 436.67,212.50 433.00,214.00 C429.33,215.50 425.17,216.67 421.00,217.50 C416.83,218.33 411.50,218.25 408.00,219.00 C404.50,219.75 401.67,220.67 400.00,222.00 C398.33,223.33 397.58,225.42 398.00,227.00 Z" fill="none" stroke="#333" stroke-width="1.0" stroke-linejoin="round" stroke-linecap="round"/>
<path d="M402.00,227.50 C402.25,228.42 402.83,229.17 405.50,230.00 C408.17,230.83 415.42,231.17 418.00,232.50 C420.58,233.83 420.75,236.08 421.00,238.00 C421.25,239.92 421.83,242.00 419.50,244.00 C417.17,246.00 410.00,248.00 407.00,250.00 C404.00,252.00 402.53,253.67 401.50,256.00 C400.47,258.33 400.55,261.17 400.80,264.00 C401.05,266.83 401.63,270.50 403.00,273.00 C404.37,275.50 406.50,277.78 409.00,279.00 C411.50,280.22 415.00,280.72 418.00,280.30 C421.00,279.88 424.33,278.55 427.00,276.50 C429.67,274.45 431.83,270.25 434.00,268.00 C436.17,265.75 438.00,263.75 440.00,263.00 C442.00,262.25 444.25,262.83 446.00,263.50 C447.75,264.17 449.42,265.08 450.50,267.00 C451.58,268.92 452.08,272.25 452.50,275.00 C452.92,277.75 452.82,283.33 453.00,283.50 C453.18,283.67 453.10,278.58 453.60,276.00 C454.10,273.42 454.52,270.42 456.00,268.00 C457.48,265.58 459.92,263.42 462.50,261.50 C465.08,259.58 468.42,258.00 471.50,256.50 C474.58,255.00 478.33,254.17 481.00,252.50 C483.67,250.83 486.08,251.08 487.50,246.50 C488.92,241.92 489.42,230.75 489.50,225.00 C489.58,219.25 489.42,215.33 488.00,212.00 C486.58,208.67 484.67,206.47 481.00,205.00 C477.33,203.53 470.67,203.20 466.00,203.20 C461.33,203.20 456.50,203.78 453.00,205.00 C449.50,206.22 447.83,208.67 445.00,210.50 C442.17,212.33 439.17,214.42 436.00,216.00 C432.83,217.58 429.83,218.92 426.00,220.00 C422.17,221.08 416.67,221.75 413.00,222.50 C409.33,223.25 405.83,223.67 404.00,224.50 C402.17,225.33 401.75,226.58 402.00,227.50 Z" fill="none" stroke="#333" stroke-width="1.0" stroke-linejoin="round" stroke-linecap="round"/>
<path d="M422.98,259.22 C423.30,259.53 423.55,259.96 423.69,260.41 C423.82,260.85 423.86,261.39 423.80,261.90 C423.74,262.41 423.56,262.97 423.30,263.47 C423.05,263.96 422.68,264.47 422.27,264.87 C421.87,265.28 421.36,265.65 420.87,265.90 C420.37,266.16 419.81,266.34 419.30,266.40 C418.79,266.46 418.25,266.42 417.81,266.29 C417.36,266.15 416.93,265.90 416.62,265.58 C416.30,265.27 416.05,264.84 415.91,264.39 C415.78,263.95 415.74,263.41 415.80,262.90 C415.86,262.39 416.04,261.83 416.30,261.33 C416.55,260.84 416.92,260.33 417.33,259.93 C417.73,259.52 418.24,259.15 418.73,258.90 C419.23,258.64 419.79,258.46 420.30,258.40 C420.81,258.34 421.35,258.38 421.79,258.51 C422.24,258.65 422.67,258.90 422.98,259.22 Z" fill="none" stroke="#333" stroke-width="1.0" stroke-linejoin="round" stroke-linecap="round"/>
<path d="M425.36,256.71 C425.92,257.26 426.35,258.02 426.58,258.82 C426.81,259.63 426.85,260.59 426.72,261.52 C426.58,262.44 426.23,263.47 425.75,264.37 C425.27,265.28 424.58,266.21 423.83,266.96 C423.08,267.71 422.15,268.40 421.24,268.88 C420.33,269.37 419.31,269.71 418.38,269.85 C417.46,269.99 416.49,269.94 415.69,269.71 C414.89,269.49 414.13,269.05 413.57,268.49 C413.02,267.94 412.58,267.18 412.35,266.38 C412.13,265.57 412.08,264.61 412.22,263.68 C412.35,262.76 412.70,261.73 413.18,260.83 C413.66,259.92 414.35,258.99 415.11,258.24 C415.86,257.49 416.79,256.80 417.69,256.32 C418.60,255.83 419.63,255.49 420.55,255.35 C421.47,255.21 422.44,255.26 423.24,255.49 C424.04,255.71 424.80,256.15 425.36,256.71 Z" fill="none" stroke="#333" stroke-width="1.0" stroke-linejoin="round" stroke-linecap="round"/>
<path d="M427.74,254.20 C428.53,254.99 429.16,256.09 429.47,257.24 C429.79,258.40 429.85,259.79 429.63,261.13 C429.42,262.47 428.91,263.96 428.20,265.28 C427.49,266.60 426.48,267.95 425.38,269.05 C424.28,270.14 422.93,271.15 421.61,271.86 C420.29,272.57 418.81,273.09 417.47,273.30 C416.13,273.51 414.73,273.45 413.58,273.14 C412.42,272.82 411.33,272.20 410.53,271.40 C409.73,270.61 409.11,269.51 408.79,268.36 C408.48,267.20 408.42,265.81 408.63,264.47 C408.85,263.13 409.36,261.64 410.07,260.32 C410.78,259.00 411.79,257.65 412.89,256.55 C413.98,255.46 415.34,254.45 416.65,253.74 C417.97,253.03 419.46,252.51 420.80,252.30 C422.14,252.09 423.54,252.15 424.69,252.46 C425.85,252.78 426.94,253.40 427.74,254.20 Z" fill="none" stroke="#333" stroke-width="1.0" stroke-linejoin="round" stroke-linecap="round"/>
<path d="M430.11,251.69 C431.15,252.72 431.96,254.15 432.36,255.66 C432.77,257.17 432.84,259.00 432.55,260.75 C432.26,262.50 431.58,264.45 430.64,266.18 C429.71,267.91 428.37,269.69 426.93,271.13 C425.49,272.57 423.71,273.91 421.98,274.84 C420.25,275.78 418.30,276.46 416.55,276.75 C414.80,277.04 412.97,276.97 411.46,276.56 C409.95,276.16 408.52,275.35 407.49,274.31 C406.45,273.28 405.64,271.85 405.24,270.34 C404.83,268.83 404.76,267.00 405.05,265.25 C405.34,263.50 406.02,261.55 406.96,259.82 C407.89,258.09 409.23,256.31 410.67,254.87 C412.11,253.43 413.89,252.09 415.62,251.16 C417.35,250.22 419.30,249.54 421.05,249.25 C422.80,248.96 424.63,249.03 426.14,249.44 C427.65,249.84 429.08,250.65 430.11,251.69 Z" fill="none" stroke="#333" stroke-width="1.0" stroke-linejoin="round" stroke-linecap="round"/>
<ellipse cx="428" cy="245.5" rx="5.3" ry="2" fill="none" stroke="#333" stroke-width="1.0"/>
<path d="M444.00,211.00 C442.67,211.83 438.00,214.42 436.00,216.00 C434.00,217.58 433.17,218.83 432.00,220.50 C430.83,222.17 429.83,223.92 429.00,226.00 C428.17,228.08 427.58,231.08 427.00,233.00 C426.42,234.92 426.42,236.50 425.50,237.50 C424.58,238.50 422.33,238.50 421.50,239.00 C420.67,239.50 420.67,240.25 420.50,240.50" fill="none" stroke="#333" stroke-width="1.0" stroke-linejoin="round" stroke-linecap="round"/>
<path d="M444.50,213.40 C443.32,214.33 439.05,217.13 437.40,219.00 C435.75,220.87 435.17,222.73 434.60,224.60 C434.03,226.47 433.77,228.33 434.00,230.20 C434.23,232.07 435.08,234.17 436.00,235.80 C436.92,237.43 438.67,238.88 439.50,240.00 C440.33,241.12 440.75,242.08 441.00,242.50" fill="none" stroke="#333" stroke-width="1.0" stroke-linejoin="round" stroke-linecap="round"/>
<path d="M440.00,284.00 C440.17,282.50 441.00,277.67 441.00,275.00 C441.00,272.33 439.50,269.50 440.00,268.00 C440.50,266.50 442.33,266.00 444.00,266.00 C445.67,266.00 448.67,266.33 450.00,268.00 C451.33,269.67 451.17,273.33 452.00,276.00 C452.83,278.67 454.50,282.67 455.00,284.00" fill="none" stroke="#333" stroke-width="1.0" stroke-linejoin="round" stroke-linecap="round"/>
<path d="M444.00,284.00 C444.33,282.83 445.83,279.17 446.00,277.00 C446.17,274.83 444.33,271.83 445.00,271.00 C445.67,270.17 449.00,269.83 450.00,272.00 C451.00,274.17 450.83,282.00 451.00,284.00" fill="none" stroke="#333" stroke-width="1.0" stroke-linejoin="round" stroke-linecap="round"/>
<path d="M485.50,245.50 C484.25,246.58 480.75,250.17 478.00,252.00 C475.25,253.83 471.83,254.83 469.00,256.50 C466.17,258.17 462.92,259.75 461.00,262.00 C459.08,264.25 458.08,266.33 457.50,270.00 C456.92,273.67 457.50,281.67 457.50,284.00" fill="none" stroke="#333" stroke-width="1.0" stroke-linejoin="round" stroke-linecap="round"/>
<path d="M83.40,211.00 L130.50,211.00 L130.50,247.50 L83.40,247.50 Z" fill="none" stroke="#444" stroke-width="0.85" stroke-linejoin="miter"/>
<path d="M142.00,205.20 L147.00,202.70 L180.40,201.30 L180.40,249.20 L137.70,249.20 L137.70,220.60 L142.00,205.20 Z" fill="none" stroke="#444" stroke-width="0.85" stroke-linejoin="miter"/>
<path d="M124.10,284.30 L124.10,254.90 L153.20,254.90 L153.20,284.30" fill="none" stroke="#444" stroke-width="0.85" stroke-linejoin="miter"/>
<text transform="translate(80.20,207.70) scale(0.84,1)" font-family="Liberation Sans" font-size="7.0" font-weight="bold" text-anchor="start" fill="#111" >R2</text>
<text transform="translate(91.40,208.50)" font-family="Liberation Serif" font-size="8.3" font-weight="normal" text-anchor="start" fill="#222" stroke="#222" stroke-width="0.2">56.3%</text>
<text transform="translate(137.20,197.60) scale(0.84,1)" font-family="Liberation Sans" font-size="7.0" font-weight="bold" text-anchor="start" fill="#111" >R3</text>
<text transform="translate(149.20,198.20)" font-family="Liberation Serif" font-size="8.3" font-weight="normal" text-anchor="start" fill="#222" stroke="#222" stroke-width="0.2">9.1%</text>
<text transform="translate(154.50,275.40) scale(0.84,1)" font-family="Liberation Sans" font-size="7.0" font-weight="bold" text-anchor="start" fill="#111" >R4</text>
<text transform="translate(164.00,275.90)" font-family="Liberation Serif" font-size="8.3" font-weight="normal" text-anchor="start" fill="#222" stroke="#222" stroke-width="0.2">16.3%</text>
<path d="M241.20,209.10 L287.60,209.10 L287.60,247.50 L241.20,247.50 Z" fill="none" stroke="#444" stroke-width="0.85" stroke-linejoin="miter"/>
<path d="M298.90,201.50 L304.00,199.50 L338.00,199.00 L338.00,247.90 L294.90,247.90 L295.50,225.00 L298.90,201.50 Z" fill="none" stroke="#444" stroke-width="0.85" stroke-linejoin="miter"/>
<path d="M280.80,283.90 L280.80,254.70 L311.80,254.70 L311.80,283.90" fill="none" stroke="#444" stroke-width="0.85" stroke-linejoin="miter"/>
<text transform="translate(236.10,206.00) scale(0.84,1)" font-family="Liberation Sans" font-size="7.0" font-weight="bold" text-anchor="start" fill="#111" >R2</text>
<text transform="translate(246.60,206.30)" font-family="Liberation Serif" font-size="8.3" font-weight="normal" text-anchor="start" fill="#222" stroke="#222" stroke-width="0.2">43.1%</text>
<text transform="translate(295.70,196.00) scale(0.84,1)" font-family="Liberation Sans" font-size="7.0" font-weight="bold" text-anchor="start" fill="#111" >R3</text>
<text transform="translate(306.60,196.50)" font-family="Liberation Serif" font-size="8.3" font-weight="normal" text-anchor="start" fill="#222" stroke="#222" stroke-width="0.2">16.1%</text>
<text transform="translate(312.40,274.90) scale(0.84,1)" font-family="Liberation Sans" font-size="7.0" font-weight="bold" text-anchor="start" fill="#111" >R4</text>
<text transform="translate(326.00,275.30)" font-family="Liberation Serif" font-size="8.3" font-weight="normal" text-anchor="start" fill="#222" stroke="#222" stroke-width="0.2">19.7%</text>
<path d="M395.60,207.70 L443.90,207.70 L443.90,246.70 L395.60,246.70 Z" fill="none" stroke="#444" stroke-width="0.85" stroke-linejoin="miter"/>
<path d="M456.70,201.70 L463.30,198.50 L497.00,197.30 L497.00,247.60 L451.30,247.60 L452.50,225.00 L456.70,201.70 Z" fill="none" stroke="#444" stroke-width="0.85" stroke-linejoin="miter"/>
<path d="M438.70,283.30 L438.70,252.80 L469.00,252.80 L469.00,283.30" fill="none" stroke="#444" stroke-width="0.85" stroke-linejoin="miter"/>
<text transform="translate(392.50,203.90) scale(0.84,1)" font-family="Liberation Sans" font-size="7.0" font-weight="bold" text-anchor="start" fill="#111" >R2</text>
<text transform="translate(406.10,204.30)" font-family="Liberation Serif" font-size="8.3" font-weight="normal" text-anchor="start" fill="#222" stroke="#222" stroke-width="0.2">15.9%</text>
<text transform="translate(452.40,193.00) scale(0.84,1)" font-family="Liberation Sans" font-size="7.0" font-weight="bold" text-anchor="start" fill="#111" >R3</text>
<text transform="translate(465.00,194.80)" font-family="Liberation Serif" font-size="8.3" font-weight="normal" text-anchor="start" fill="#222" stroke="#222" stroke-width="0.2">62%</text>
<text transform="translate(470.20,274.20) scale(0.84,1)" font-family="Liberation Sans" font-size="7.0" font-weight="bold" text-anchor="start" fill="#111" >R4</text>
<text transform="translate(482.20,274.50)" font-family="Liberation Serif" font-size="8.3" font-weight="normal" text-anchor="start" fill="#222" stroke="#222" stroke-width="0.2">6.5%</text>
</svg>
</body></html>
